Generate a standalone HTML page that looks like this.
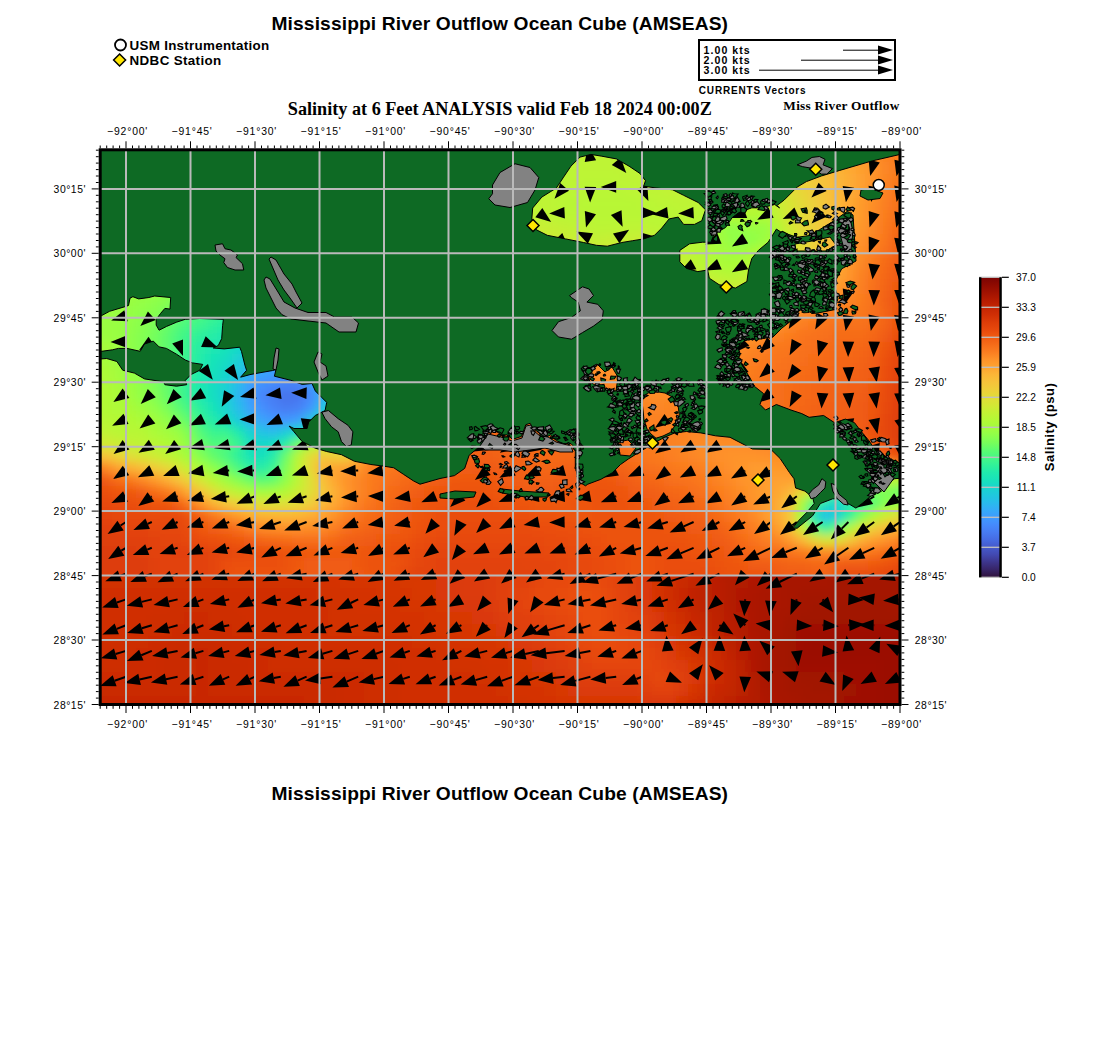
<!DOCTYPE html>
<html><head><meta charset="utf-8">
<style>
html,body{margin:0;padding:0;background:#fff;width:1100px;height:1050px;overflow:hidden}
svg{display:block;position:absolute;left:0;top:0}
.fr rect{width:12px;height:12px}
.sans{font-family:"Liberation Sans",sans-serif}
.serif{font-family:"Liberation Serif",serif}
</style></head>
<body>
<svg width="1100" height="1050" viewBox="0 0 1100 1050">
<defs>
<clipPath id="cmap"><rect x="100.2" y="149.8" width="799.8" height="554.7"/></clipPath>
<clipPath id="cup"><rect x="100.2" y="149.8" width="799.8" height="425.8"/></clipPath>
<clipPath id="clo"><rect x="100.2" y="575.6" width="799.8" height="200"/></clipPath>
<filter id="blur" x="-5%" y="-5%" width="110%" height="110%"><feGaussianBlur stdDeviation="5"/></filter>
<linearGradient id="cbg" x1="0" y1="0" x2="0" y2="1">
<stop offset="0.000" stop-color="#7a0403"/>
<stop offset="0.025" stop-color="#8e0a01"/>
<stop offset="0.050" stop-color="#a11201"/>
<stop offset="0.075" stop-color="#b41b01"/>
<stop offset="0.100" stop-color="#c32503"/>
<stop offset="0.125" stop-color="#d02f05"/>
<stop offset="0.150" stop-color="#dd3d08"/>
<stop offset="0.175" stop-color="#e7490c"/>
<stop offset="0.200" stop-color="#f05b12"/>
<stop offset="0.225" stop-color="#f66c19"/>
<stop offset="0.250" stop-color="#fb7e21"/>
<stop offset="0.275" stop-color="#fe932a"/>
<stop offset="0.300" stop-color="#fea431"/>
<stop offset="0.325" stop-color="#fbb637"/>
<stop offset="0.350" stop-color="#f6c33a"/>
<stop offset="0.375" stop-color="#eecf3a"/>
<stop offset="0.400" stop-color="#e1dd37"/>
<stop offset="0.425" stop-color="#d4e735"/>
<stop offset="0.450" stop-color="#c3f134"/>
<stop offset="0.475" stop-color="#b4f836"/>
<stop offset="0.500" stop-color="#a4fc3c"/>
<stop offset="0.525" stop-color="#8fff49"/>
<stop offset="0.550" stop-color="#79fe59"/>
<stop offset="0.575" stop-color="#5dfc6f"/>
<stop offset="0.600" stop-color="#46f884"/>
<stop offset="0.625" stop-color="#32f298"/>
<stop offset="0.650" stop-color="#20eaac"/>
<stop offset="0.675" stop-color="#19e2bb"/>
<stop offset="0.700" stop-color="#19d5cd"/>
<stop offset="0.725" stop-color="#1fc9dd"/>
<stop offset="0.750" stop-color="#28bceb"/>
<stop offset="0.775" stop-color="#35abf8"/>
<stop offset="0.800" stop-color="#3e9bfe"/>
<stop offset="0.825" stop-color="#458afc"/>
<stop offset="0.850" stop-color="#477bf2"/>
<stop offset="0.875" stop-color="#466be3"/>
<stop offset="0.900" stop-color="#4559cb"/>
<stop offset="0.925" stop-color="#4249b1"/>
<stop offset="0.950" stop-color="#3d358b"/>
<stop offset="0.975" stop-color="#372466"/>
<stop offset="1.000" stop-color="#30123b"/>
</linearGradient>
</defs>
<g clip-path="url(#cmap)">
<g clip-path="url(#clo)"><g class="fr" filter="url(#blur)" shape-rendering="crispEdges">
<g transform="translate(0 539.6)"><rect x="64.2" fill="#d63506"/><rect x="76.2" fill="#d63506"/><rect x="88.2" fill="#d63506"/><rect x="100.2" fill="#d63506"/><rect x="112.2" fill="#d63506"/><rect x="124.2" fill="#d63506"/><rect x="136.2" fill="#d63506"/><rect x="148.2" fill="#d63506"/><rect x="160.2" fill="#d02f05"/><rect x="172.2" fill="#d02f05"/><rect x="184.2" fill="#d02f05"/><rect x="196.2" fill="#d02f05"/><rect x="208.2" fill="#d02f05"/><rect x="220.2" fill="#d02f05"/><rect x="232.2" fill="#d02f05"/><rect x="244.2" fill="#d63506"/><rect x="256.2" fill="#d63506"/><rect x="268.2" fill="#d63506"/><rect x="280.2" fill="#d63506"/><rect x="292.2" fill="#d63506"/><rect x="304.2" fill="#d63506"/><rect x="316.2" fill="#d63506"/><rect x="328.2" fill="#d63506"/><rect x="340.2" fill="#d63506"/><rect x="352.2" fill="#d63506"/><rect x="364.2" fill="#d63506"/><rect x="376.2" fill="#d63506"/><rect x="388.2" fill="#d63506"/><rect x="400.2" fill="#d63506"/><rect x="412.2" fill="#d63506"/><rect x="424.2" fill="#d83706"/><rect x="436.2" fill="#dc3b07"/><rect x="448.2" fill="#dd3d08"/><rect x="460.2" fill="#dd3d08"/><rect x="472.2" fill="#dd3d08"/><rect x="484.2" fill="#dd3d08"/><rect x="496.2" fill="#dd3d08"/><rect x="508.2" fill="#dd3d08"/><rect x="520.2" fill="#dd3d08"/><rect x="532.2" fill="#e14109"/><rect x="544.2" fill="#e7490c"/><rect x="556.2" fill="#e7490c"/><rect x="568.2" fill="#e7490c"/><rect x="580.2" fill="#e7490c"/><rect x="592.2" fill="#e7490c"/><rect x="604.2" fill="#e7490c"/><rect x="616.2" fill="#e7490c"/><rect x="628.2" fill="#e4450a"/><rect x="640.2" fill="#d43305"/><rect x="652.2" fill="#d02f05"/><rect x="664.2" fill="#d02f05"/><rect x="676.2" fill="#d02f05"/><rect x="688.2" fill="#d02f05"/><rect x="700.2" fill="#ce2d04"/><rect x="712.2" fill="#c82803"/><rect x="724.2" fill="#b41b01"/><rect x="736.2" fill="#af1801"/><rect x="748.2" fill="#af1801"/><rect x="760.2" fill="#af1801"/><rect x="772.2" fill="#af1801"/><rect x="784.2" fill="#ac1701"/><rect x="796.2" fill="#a71401"/><rect x="808.2" fill="#a41301"/><rect x="820.2" fill="#a41301"/><rect x="832.2" fill="#a41301"/><rect x="844.2" fill="#a41301"/><rect x="856.2" fill="#a41301"/><rect x="868.2" fill="#a41301"/><rect x="880.2" fill="#a41301"/><rect x="892.2" fill="#a41301"/><rect x="904.2" fill="#a41301"/><rect x="916.2" fill="#a41301"/><rect x="928.2" fill="#a41301"/></g>
<g transform="translate(0 551.6)"><rect x="64.2" fill="#d63506"/><rect x="76.2" fill="#d63506"/><rect x="88.2" fill="#d63506"/><rect x="100.2" fill="#d63506"/><rect x="112.2" fill="#d63506"/><rect x="124.2" fill="#d63506"/><rect x="136.2" fill="#d63506"/><rect x="148.2" fill="#d43305"/><rect x="160.2" fill="#d02f05"/><rect x="172.2" fill="#d02f05"/><rect x="184.2" fill="#d02f05"/><rect x="196.2" fill="#d02f05"/><rect x="208.2" fill="#d02f05"/><rect x="220.2" fill="#d02f05"/><rect x="232.2" fill="#d02f05"/><rect x="244.2" fill="#d63506"/><rect x="256.2" fill="#d63506"/><rect x="268.2" fill="#d63506"/><rect x="280.2" fill="#d63506"/><rect x="292.2" fill="#d63506"/><rect x="304.2" fill="#d63506"/><rect x="316.2" fill="#d63506"/><rect x="328.2" fill="#d63506"/><rect x="340.2" fill="#d63506"/><rect x="352.2" fill="#d63506"/><rect x="364.2" fill="#d63506"/><rect x="376.2" fill="#d63506"/><rect x="388.2" fill="#d63506"/><rect x="400.2" fill="#d63506"/><rect x="412.2" fill="#d63506"/><rect x="424.2" fill="#d83706"/><rect x="436.2" fill="#dc3b07"/><rect x="448.2" fill="#dd3d08"/><rect x="460.2" fill="#dd3d08"/><rect x="472.2" fill="#dd3d08"/><rect x="484.2" fill="#dd3d08"/><rect x="496.2" fill="#dd3d08"/><rect x="508.2" fill="#dd3d08"/><rect x="520.2" fill="#df3f08"/><rect x="532.2" fill="#e5470b"/><rect x="544.2" fill="#e7490c"/><rect x="556.2" fill="#e7490c"/><rect x="568.2" fill="#e7490c"/><rect x="580.2" fill="#e7490c"/><rect x="592.2" fill="#e7490c"/><rect x="604.2" fill="#e7490c"/><rect x="616.2" fill="#e7490c"/><rect x="628.2" fill="#e4450a"/><rect x="640.2" fill="#d63506"/><rect x="652.2" fill="#d02f05"/><rect x="664.2" fill="#d02f05"/><rect x="676.2" fill="#d02f05"/><rect x="688.2" fill="#ce2d04"/><rect x="700.2" fill="#ca2a04"/><rect x="712.2" fill="#b71d02"/><rect x="724.2" fill="#af1801"/><rect x="736.2" fill="#af1801"/><rect x="748.2" fill="#af1801"/><rect x="760.2" fill="#af1801"/><rect x="772.2" fill="#af1801"/><rect x="784.2" fill="#ac1701"/><rect x="796.2" fill="#a71401"/><rect x="808.2" fill="#a41301"/><rect x="820.2" fill="#a41301"/><rect x="832.2" fill="#a41301"/><rect x="844.2" fill="#a41301"/><rect x="856.2" fill="#a41301"/><rect x="868.2" fill="#a41301"/><rect x="880.2" fill="#a41301"/><rect x="892.2" fill="#a41301"/><rect x="904.2" fill="#a41301"/><rect x="916.2" fill="#a41301"/><rect x="928.2" fill="#a41301"/></g>
<g transform="translate(0 563.6)"><rect x="64.2" fill="#d63506"/><rect x="76.2" fill="#d63506"/><rect x="88.2" fill="#d63506"/><rect x="100.2" fill="#d63506"/><rect x="112.2" fill="#d63506"/><rect x="124.2" fill="#d63506"/><rect x="136.2" fill="#d43305"/><rect x="148.2" fill="#d23105"/><rect x="160.2" fill="#d02f05"/><rect x="172.2" fill="#d02f05"/><rect x="184.2" fill="#d02f05"/><rect x="196.2" fill="#d02f05"/><rect x="208.2" fill="#d02f05"/><rect x="220.2" fill="#d02f05"/><rect x="232.2" fill="#d02f05"/><rect x="244.2" fill="#d43305"/><rect x="256.2" fill="#d63506"/><rect x="268.2" fill="#d63506"/><rect x="280.2" fill="#d63506"/><rect x="292.2" fill="#d63506"/><rect x="304.2" fill="#d63506"/><rect x="316.2" fill="#d63506"/><rect x="328.2" fill="#d63506"/><rect x="340.2" fill="#d63506"/><rect x="352.2" fill="#d63506"/><rect x="364.2" fill="#d63506"/><rect x="376.2" fill="#d63506"/><rect x="388.2" fill="#d63506"/><rect x="400.2" fill="#d63506"/><rect x="412.2" fill="#d63506"/><rect x="424.2" fill="#d83706"/><rect x="436.2" fill="#dc3b07"/><rect x="448.2" fill="#dc3b07"/><rect x="460.2" fill="#dc3b07"/><rect x="472.2" fill="#dc3b07"/><rect x="484.2" fill="#dd3d08"/><rect x="496.2" fill="#dd3d08"/><rect x="508.2" fill="#dd3d08"/><rect x="520.2" fill="#df3f08"/><rect x="532.2" fill="#e5470b"/><rect x="544.2" fill="#e7490c"/><rect x="556.2" fill="#e7490c"/><rect x="568.2" fill="#e84b0c"/><rect x="580.2" fill="#e84b0c"/><rect x="592.2" fill="#e84b0c"/><rect x="604.2" fill="#e7490c"/><rect x="616.2" fill="#e5470b"/><rect x="628.2" fill="#df3f08"/><rect x="640.2" fill="#da3907"/><rect x="652.2" fill="#d23105"/><rect x="664.2" fill="#d02f05"/><rect x="676.2" fill="#ce2d04"/><rect x="688.2" fill="#cc2b04"/><rect x="700.2" fill="#c32503"/><rect x="712.2" fill="#b41b01"/><rect x="724.2" fill="#af1801"/><rect x="736.2" fill="#af1801"/><rect x="748.2" fill="#af1801"/><rect x="760.2" fill="#af1801"/><rect x="772.2" fill="#ac1701"/><rect x="784.2" fill="#a71401"/><rect x="796.2" fill="#a71401"/><rect x="808.2" fill="#a41301"/><rect x="820.2" fill="#a41301"/><rect x="832.2" fill="#a41301"/><rect x="844.2" fill="#a41301"/><rect x="856.2" fill="#a41301"/><rect x="868.2" fill="#a41301"/><rect x="880.2" fill="#a41301"/><rect x="892.2" fill="#a41301"/><rect x="904.2" fill="#a41301"/><rect x="916.2" fill="#a41301"/><rect x="928.2" fill="#a41301"/></g>
<g transform="translate(0 575.6)"><rect x="64.2" fill="#d02f05"/><rect x="76.2" fill="#d02f05"/><rect x="88.2" fill="#d02f05"/><rect x="100.2" fill="#d23105"/><rect x="112.2" fill="#d23105"/><rect x="124.2" fill="#d23105"/><rect x="136.2" fill="#d23105"/><rect x="148.2" fill="#d23105"/><rect x="160.2" fill="#d23105"/><rect x="172.2" fill="#d23105"/><rect x="184.2" fill="#d23105"/><rect x="196.2" fill="#d23105"/><rect x="208.2" fill="#d23105"/><rect x="220.2" fill="#d23105"/><rect x="232.2" fill="#d23105"/><rect x="244.2" fill="#d23105"/><rect x="256.2" fill="#d23105"/><rect x="268.2" fill="#d23105"/><rect x="280.2" fill="#d23105"/><rect x="292.2" fill="#d23105"/><rect x="304.2" fill="#d23105"/><rect x="316.2" fill="#d43305"/><rect x="328.2" fill="#d43305"/><rect x="340.2" fill="#d63506"/><rect x="352.2" fill="#d63506"/><rect x="364.2" fill="#d63506"/><rect x="376.2" fill="#d63506"/><rect x="388.2" fill="#d63506"/><rect x="400.2" fill="#d83706"/><rect x="412.2" fill="#d83706"/><rect x="424.2" fill="#d83706"/><rect x="436.2" fill="#da3907"/><rect x="448.2" fill="#da3907"/><rect x="460.2" fill="#dc3b07"/><rect x="472.2" fill="#dc3b07"/><rect x="484.2" fill="#dd3d08"/><rect x="496.2" fill="#df3f08"/><rect x="508.2" fill="#e14109"/><rect x="520.2" fill="#e2430a"/><rect x="532.2" fill="#e5470b"/><rect x="544.2" fill="#e7490c"/><rect x="556.2" fill="#e7490c"/><rect x="568.2" fill="#e84b0c"/><rect x="580.2" fill="#e84b0c"/><rect x="592.2" fill="#e84b0c"/><rect x="604.2" fill="#e5470b"/><rect x="616.2" fill="#e2430a"/><rect x="628.2" fill="#df3f08"/><rect x="640.2" fill="#da3907"/><rect x="652.2" fill="#d63506"/><rect x="664.2" fill="#d02f05"/><rect x="676.2" fill="#ca2a04"/><rect x="688.2" fill="#c52603"/><rect x="700.2" fill="#be2102"/><rect x="712.2" fill="#b91e02"/><rect x="724.2" fill="#b41b01"/><rect x="736.2" fill="#b21a01"/><rect x="748.2" fill="#af1801"/><rect x="760.2" fill="#ac1701"/><rect x="772.2" fill="#a91601"/><rect x="784.2" fill="#a71401"/><rect x="796.2" fill="#a71401"/><rect x="808.2" fill="#a71401"/><rect x="820.2" fill="#a71401"/><rect x="832.2" fill="#a41301"/><rect x="844.2" fill="#a41301"/><rect x="856.2" fill="#a41301"/><rect x="868.2" fill="#a41301"/><rect x="880.2" fill="#a41301"/><rect x="892.2" fill="#a41301"/><rect x="904.2" fill="#a41301"/><rect x="916.2" fill="#a41301"/><rect x="928.2" fill="#a41301"/></g>
<g transform="translate(0 587.6)"><rect x="64.2" fill="#d02f05"/><rect x="76.2" fill="#d02f05"/><rect x="88.2" fill="#d02f05"/><rect x="100.2" fill="#d02f05"/><rect x="112.2" fill="#d02f05"/><rect x="124.2" fill="#d02f05"/><rect x="136.2" fill="#d02f05"/><rect x="148.2" fill="#d02f05"/><rect x="160.2" fill="#d02f05"/><rect x="172.2" fill="#d02f05"/><rect x="184.2" fill="#d02f05"/><rect x="196.2" fill="#d02f05"/><rect x="208.2" fill="#d02f05"/><rect x="220.2" fill="#d02f05"/><rect x="232.2" fill="#d02f05"/><rect x="244.2" fill="#d02f05"/><rect x="256.2" fill="#d02f05"/><rect x="268.2" fill="#d02f05"/><rect x="280.2" fill="#d02f05"/><rect x="292.2" fill="#d02f05"/><rect x="304.2" fill="#d02f05"/><rect x="316.2" fill="#d23105"/><rect x="328.2" fill="#d23105"/><rect x="340.2" fill="#d23105"/><rect x="352.2" fill="#d43305"/><rect x="364.2" fill="#d43305"/><rect x="376.2" fill="#d63506"/><rect x="388.2" fill="#d63506"/><rect x="400.2" fill="#d63506"/><rect x="412.2" fill="#d83706"/><rect x="424.2" fill="#d83706"/><rect x="436.2" fill="#da3907"/><rect x="448.2" fill="#da3907"/><rect x="460.2" fill="#dc3b07"/><rect x="472.2" fill="#dc3b07"/><rect x="484.2" fill="#dd3d08"/><rect x="496.2" fill="#e14109"/><rect x="508.2" fill="#e2430a"/><rect x="520.2" fill="#e4450a"/><rect x="532.2" fill="#e7490c"/><rect x="544.2" fill="#e7490c"/><rect x="556.2" fill="#e84b0c"/><rect x="568.2" fill="#ea4e0d"/><rect x="580.2" fill="#eb500e"/><rect x="592.2" fill="#ea4e0d"/><rect x="604.2" fill="#e7490c"/><rect x="616.2" fill="#e2430a"/><rect x="628.2" fill="#df3f08"/><rect x="640.2" fill="#da3907"/><rect x="652.2" fill="#d43305"/><rect x="664.2" fill="#ce2d04"/><rect x="676.2" fill="#c82803"/><rect x="688.2" fill="#c12302"/><rect x="700.2" fill="#bc2002"/><rect x="712.2" fill="#b91e02"/><rect x="724.2" fill="#b41b01"/><rect x="736.2" fill="#af1801"/><rect x="748.2" fill="#ac1701"/><rect x="760.2" fill="#a91601"/><rect x="772.2" fill="#a91601"/><rect x="784.2" fill="#a71401"/><rect x="796.2" fill="#a41301"/><rect x="808.2" fill="#a41301"/><rect x="820.2" fill="#a41301"/><rect x="832.2" fill="#a41301"/><rect x="844.2" fill="#a41301"/><rect x="856.2" fill="#a41301"/><rect x="868.2" fill="#a41301"/><rect x="880.2" fill="#a41301"/><rect x="892.2" fill="#a41301"/><rect x="904.2" fill="#a41301"/><rect x="916.2" fill="#a41301"/><rect x="928.2" fill="#a41301"/></g>
<g transform="translate(0 599.6)"><rect x="64.2" fill="#d02f05"/><rect x="76.2" fill="#d02f05"/><rect x="88.2" fill="#d02f05"/><rect x="100.2" fill="#d02f05"/><rect x="112.2" fill="#d02f05"/><rect x="124.2" fill="#d02f05"/><rect x="136.2" fill="#d02f05"/><rect x="148.2" fill="#d02f05"/><rect x="160.2" fill="#d02f05"/><rect x="172.2" fill="#ce2d04"/><rect x="184.2" fill="#ce2d04"/><rect x="196.2" fill="#ce2d04"/><rect x="208.2" fill="#ce2d04"/><rect x="220.2" fill="#ce2d04"/><rect x="232.2" fill="#d02f05"/><rect x="244.2" fill="#d02f05"/><rect x="256.2" fill="#d02f05"/><rect x="268.2" fill="#d02f05"/><rect x="280.2" fill="#d02f05"/><rect x="292.2" fill="#d02f05"/><rect x="304.2" fill="#d02f05"/><rect x="316.2" fill="#d02f05"/><rect x="328.2" fill="#d23105"/><rect x="340.2" fill="#d23105"/><rect x="352.2" fill="#d43305"/><rect x="364.2" fill="#d43305"/><rect x="376.2" fill="#d43305"/><rect x="388.2" fill="#d43305"/><rect x="400.2" fill="#d63506"/><rect x="412.2" fill="#d63506"/><rect x="424.2" fill="#d63506"/><rect x="436.2" fill="#d83706"/><rect x="448.2" fill="#da3907"/><rect x="460.2" fill="#da3907"/><rect x="472.2" fill="#da3907"/><rect x="484.2" fill="#dc3b07"/><rect x="496.2" fill="#df3f08"/><rect x="508.2" fill="#e14109"/><rect x="520.2" fill="#e4450a"/><rect x="532.2" fill="#e5470b"/><rect x="544.2" fill="#e7490c"/><rect x="556.2" fill="#e84b0c"/><rect x="568.2" fill="#ea4e0d"/><rect x="580.2" fill="#ea4e0d"/><rect x="592.2" fill="#ea4e0d"/><rect x="604.2" fill="#e7490c"/><rect x="616.2" fill="#e4450a"/><rect x="628.2" fill="#df3f08"/><rect x="640.2" fill="#dc3b07"/><rect x="652.2" fill="#d63506"/><rect x="664.2" fill="#d02f05"/><rect x="676.2" fill="#ca2a04"/><rect x="688.2" fill="#c32503"/><rect x="700.2" fill="#be2102"/><rect x="712.2" fill="#bc2002"/><rect x="724.2" fill="#b41b01"/><rect x="736.2" fill="#af1801"/><rect x="748.2" fill="#ac1701"/><rect x="760.2" fill="#a91601"/><rect x="772.2" fill="#a91601"/><rect x="784.2" fill="#a71401"/><rect x="796.2" fill="#a41301"/><rect x="808.2" fill="#a11201"/><rect x="820.2" fill="#a11201"/><rect x="832.2" fill="#a11201"/><rect x="844.2" fill="#a11201"/><rect x="856.2" fill="#a11201"/><rect x="868.2" fill="#a11201"/><rect x="880.2" fill="#a11201"/><rect x="892.2" fill="#a41301"/><rect x="904.2" fill="#a41301"/><rect x="916.2" fill="#a41301"/><rect x="928.2" fill="#a41301"/></g>
<g transform="translate(0 611.6)"><rect x="64.2" fill="#d02f05"/><rect x="76.2" fill="#d02f05"/><rect x="88.2" fill="#d02f05"/><rect x="100.2" fill="#d02f05"/><rect x="112.2" fill="#d02f05"/><rect x="124.2" fill="#d02f05"/><rect x="136.2" fill="#d02f05"/><rect x="148.2" fill="#ce2d04"/><rect x="160.2" fill="#ce2d04"/><rect x="172.2" fill="#ce2d04"/><rect x="184.2" fill="#cc2b04"/><rect x="196.2" fill="#cc2b04"/><rect x="208.2" fill="#ce2d04"/><rect x="220.2" fill="#ce2d04"/><rect x="232.2" fill="#ce2d04"/><rect x="244.2" fill="#d02f05"/><rect x="256.2" fill="#d02f05"/><rect x="268.2" fill="#d02f05"/><rect x="280.2" fill="#d02f05"/><rect x="292.2" fill="#d02f05"/><rect x="304.2" fill="#d02f05"/><rect x="316.2" fill="#d02f05"/><rect x="328.2" fill="#d23105"/><rect x="340.2" fill="#d23105"/><rect x="352.2" fill="#d23105"/><rect x="364.2" fill="#d23105"/><rect x="376.2" fill="#d23105"/><rect x="388.2" fill="#d43305"/><rect x="400.2" fill="#d43305"/><rect x="412.2" fill="#d43305"/><rect x="424.2" fill="#d63506"/><rect x="436.2" fill="#d63506"/><rect x="448.2" fill="#d83706"/><rect x="460.2" fill="#d83706"/><rect x="472.2" fill="#da3907"/><rect x="484.2" fill="#da3907"/><rect x="496.2" fill="#dd3d08"/><rect x="508.2" fill="#df3f08"/><rect x="520.2" fill="#e14109"/><rect x="532.2" fill="#e2430a"/><rect x="544.2" fill="#e4450a"/><rect x="556.2" fill="#e5470b"/><rect x="568.2" fill="#e7490c"/><rect x="580.2" fill="#ea4e0d"/><rect x="592.2" fill="#ea4e0d"/><rect x="604.2" fill="#e7490c"/><rect x="616.2" fill="#e4450a"/><rect x="628.2" fill="#e2430a"/><rect x="640.2" fill="#df3f08"/><rect x="652.2" fill="#da3907"/><rect x="664.2" fill="#d43305"/><rect x="676.2" fill="#ce2d04"/><rect x="688.2" fill="#c82803"/><rect x="700.2" fill="#c32503"/><rect x="712.2" fill="#be2102"/><rect x="724.2" fill="#b71d02"/><rect x="736.2" fill="#b21a01"/><rect x="748.2" fill="#ac1701"/><rect x="760.2" fill="#a91601"/><rect x="772.2" fill="#a71401"/><rect x="784.2" fill="#a41301"/><rect x="796.2" fill="#a11201"/><rect x="808.2" fill="#a11201"/><rect x="820.2" fill="#a11201"/><rect x="832.2" fill="#a11201"/><rect x="844.2" fill="#a11201"/><rect x="856.2" fill="#a11201"/><rect x="868.2" fill="#a11201"/><rect x="880.2" fill="#a11201"/><rect x="892.2" fill="#a11201"/><rect x="904.2" fill="#a41301"/><rect x="916.2" fill="#a41301"/><rect x="928.2" fill="#a41301"/></g>
<g transform="translate(0 623.6)"><rect x="64.2" fill="#d02f05"/><rect x="76.2" fill="#d02f05"/><rect x="88.2" fill="#d02f05"/><rect x="100.2" fill="#d02f05"/><rect x="112.2" fill="#d02f05"/><rect x="124.2" fill="#d02f05"/><rect x="136.2" fill="#ce2d04"/><rect x="148.2" fill="#ce2d04"/><rect x="160.2" fill="#ce2d04"/><rect x="172.2" fill="#cc2b04"/><rect x="184.2" fill="#cc2b04"/><rect x="196.2" fill="#cc2b04"/><rect x="208.2" fill="#cc2b04"/><rect x="220.2" fill="#cc2b04"/><rect x="232.2" fill="#ce2d04"/><rect x="244.2" fill="#ce2d04"/><rect x="256.2" fill="#ce2d04"/><rect x="268.2" fill="#d02f05"/><rect x="280.2" fill="#d02f05"/><rect x="292.2" fill="#d02f05"/><rect x="304.2" fill="#d02f05"/><rect x="316.2" fill="#d02f05"/><rect x="328.2" fill="#d23105"/><rect x="340.2" fill="#d23105"/><rect x="352.2" fill="#d23105"/><rect x="364.2" fill="#d23105"/><rect x="376.2" fill="#d23105"/><rect x="388.2" fill="#d23105"/><rect x="400.2" fill="#d23105"/><rect x="412.2" fill="#d43305"/><rect x="424.2" fill="#d43305"/><rect x="436.2" fill="#d63506"/><rect x="448.2" fill="#d63506"/><rect x="460.2" fill="#d63506"/><rect x="472.2" fill="#d83706"/><rect x="484.2" fill="#d83706"/><rect x="496.2" fill="#da3907"/><rect x="508.2" fill="#dd3d08"/><rect x="520.2" fill="#df3f08"/><rect x="532.2" fill="#e14109"/><rect x="544.2" fill="#e2430a"/><rect x="556.2" fill="#e4450a"/><rect x="568.2" fill="#e7490c"/><rect x="580.2" fill="#e84b0c"/><rect x="592.2" fill="#ea4e0d"/><rect x="604.2" fill="#e84b0c"/><rect x="616.2" fill="#e5470b"/><rect x="628.2" fill="#e4450a"/><rect x="640.2" fill="#e14109"/><rect x="652.2" fill="#dc3b07"/><rect x="664.2" fill="#d63506"/><rect x="676.2" fill="#d23105"/><rect x="688.2" fill="#cc2b04"/><rect x="700.2" fill="#c52603"/><rect x="712.2" fill="#be2102"/><rect x="724.2" fill="#b91e02"/><rect x="736.2" fill="#b21a01"/><rect x="748.2" fill="#ac1701"/><rect x="760.2" fill="#a91601"/><rect x="772.2" fill="#a71401"/><rect x="784.2" fill="#a11201"/><rect x="796.2" fill="#9e1001"/><rect x="808.2" fill="#9e1001"/><rect x="820.2" fill="#9e1001"/><rect x="832.2" fill="#9e1001"/><rect x="844.2" fill="#9e1001"/><rect x="856.2" fill="#9e1001"/><rect x="868.2" fill="#9e1001"/><rect x="880.2" fill="#9e1001"/><rect x="892.2" fill="#9e1001"/><rect x="904.2" fill="#9e1001"/><rect x="916.2" fill="#9b0f01"/><rect x="928.2" fill="#9b0f01"/></g>
<g transform="translate(0 635.6)"><rect x="64.2" fill="#d02f05"/><rect x="76.2" fill="#d02f05"/><rect x="88.2" fill="#d02f05"/><rect x="100.2" fill="#d02f05"/><rect x="112.2" fill="#ce2d04"/><rect x="124.2" fill="#ce2d04"/><rect x="136.2" fill="#ce2d04"/><rect x="148.2" fill="#cc2b04"/><rect x="160.2" fill="#cc2b04"/><rect x="172.2" fill="#ca2a04"/><rect x="184.2" fill="#ca2a04"/><rect x="196.2" fill="#ca2a04"/><rect x="208.2" fill="#ca2a04"/><rect x="220.2" fill="#cc2b04"/><rect x="232.2" fill="#cc2b04"/><rect x="244.2" fill="#cc2b04"/><rect x="256.2" fill="#ce2d04"/><rect x="268.2" fill="#ce2d04"/><rect x="280.2" fill="#d02f05"/><rect x="292.2" fill="#d02f05"/><rect x="304.2" fill="#d02f05"/><rect x="316.2" fill="#d02f05"/><rect x="328.2" fill="#d02f05"/><rect x="340.2" fill="#d02f05"/><rect x="352.2" fill="#d02f05"/><rect x="364.2" fill="#d02f05"/><rect x="376.2" fill="#d02f05"/><rect x="388.2" fill="#d02f05"/><rect x="400.2" fill="#d02f05"/><rect x="412.2" fill="#d23105"/><rect x="424.2" fill="#d23105"/><rect x="436.2" fill="#d43305"/><rect x="448.2" fill="#d43305"/><rect x="460.2" fill="#d63506"/><rect x="472.2" fill="#d63506"/><rect x="484.2" fill="#d63506"/><rect x="496.2" fill="#d83706"/><rect x="508.2" fill="#da3907"/><rect x="520.2" fill="#dc3b07"/><rect x="532.2" fill="#dd3d08"/><rect x="544.2" fill="#e14109"/><rect x="556.2" fill="#e2430a"/><rect x="568.2" fill="#e5470b"/><rect x="580.2" fill="#e7490c"/><rect x="592.2" fill="#e84b0c"/><rect x="604.2" fill="#e84b0c"/><rect x="616.2" fill="#e7490c"/><rect x="628.2" fill="#e5470b"/><rect x="640.2" fill="#e4450a"/><rect x="652.2" fill="#df3f08"/><rect x="664.2" fill="#da3907"/><rect x="676.2" fill="#d43305"/><rect x="688.2" fill="#d02f05"/><rect x="700.2" fill="#ca2a04"/><rect x="712.2" fill="#c32503"/><rect x="724.2" fill="#bc2002"/><rect x="736.2" fill="#b41b01"/><rect x="748.2" fill="#af1801"/><rect x="760.2" fill="#a91601"/><rect x="772.2" fill="#a41301"/><rect x="784.2" fill="#a11201"/><rect x="796.2" fill="#9e1001"/><rect x="808.2" fill="#9b0f01"/><rect x="820.2" fill="#9b0f01"/><rect x="832.2" fill="#9b0f01"/><rect x="844.2" fill="#9b0f01"/><rect x="856.2" fill="#9b0f01"/><rect x="868.2" fill="#9b0f01"/><rect x="880.2" fill="#9b0f01"/><rect x="892.2" fill="#9b0f01"/><rect x="904.2" fill="#9b0f01"/><rect x="916.2" fill="#9b0f01"/><rect x="928.2" fill="#9b0f01"/></g>
<g transform="translate(0 647.6)"><rect x="64.2" fill="#d02f05"/><rect x="76.2" fill="#d02f05"/><rect x="88.2" fill="#d02f05"/><rect x="100.2" fill="#ce2d04"/><rect x="112.2" fill="#ce2d04"/><rect x="124.2" fill="#ce2d04"/><rect x="136.2" fill="#cc2b04"/><rect x="148.2" fill="#cc2b04"/><rect x="160.2" fill="#ca2a04"/><rect x="172.2" fill="#ca2a04"/><rect x="184.2" fill="#ca2a04"/><rect x="196.2" fill="#c82803"/><rect x="208.2" fill="#ca2a04"/><rect x="220.2" fill="#ca2a04"/><rect x="232.2" fill="#cc2b04"/><rect x="244.2" fill="#cc2b04"/><rect x="256.2" fill="#cc2b04"/><rect x="268.2" fill="#ce2d04"/><rect x="280.2" fill="#ce2d04"/><rect x="292.2" fill="#ce2d04"/><rect x="304.2" fill="#ce2d04"/><rect x="316.2" fill="#ce2d04"/><rect x="328.2" fill="#ce2d04"/><rect x="340.2" fill="#ce2d04"/><rect x="352.2" fill="#ce2d04"/><rect x="364.2" fill="#ce2d04"/><rect x="376.2" fill="#ce2d04"/><rect x="388.2" fill="#d02f05"/><rect x="400.2" fill="#d02f05"/><rect x="412.2" fill="#d02f05"/><rect x="424.2" fill="#d02f05"/><rect x="436.2" fill="#d23105"/><rect x="448.2" fill="#d23105"/><rect x="460.2" fill="#d43305"/><rect x="472.2" fill="#d43305"/><rect x="484.2" fill="#d63506"/><rect x="496.2" fill="#d63506"/><rect x="508.2" fill="#d83706"/><rect x="520.2" fill="#da3907"/><rect x="532.2" fill="#dc3b07"/><rect x="544.2" fill="#dd3d08"/><rect x="556.2" fill="#e14109"/><rect x="568.2" fill="#e2430a"/><rect x="580.2" fill="#e5470b"/><rect x="592.2" fill="#e7490c"/><rect x="604.2" fill="#e7490c"/><rect x="616.2" fill="#e7490c"/><rect x="628.2" fill="#e5470b"/><rect x="640.2" fill="#e5470b"/><rect x="652.2" fill="#e2430a"/><rect x="664.2" fill="#dd3d08"/><rect x="676.2" fill="#d83706"/><rect x="688.2" fill="#d43305"/><rect x="700.2" fill="#ce2d04"/><rect x="712.2" fill="#ca2a04"/><rect x="724.2" fill="#c12302"/><rect x="736.2" fill="#b91e02"/><rect x="748.2" fill="#af1801"/><rect x="760.2" fill="#a91601"/><rect x="772.2" fill="#a41301"/><rect x="784.2" fill="#a11201"/><rect x="796.2" fill="#9b0f01"/><rect x="808.2" fill="#9b0f01"/><rect x="820.2" fill="#9b0f01"/><rect x="832.2" fill="#9b0f01"/><rect x="844.2" fill="#9b0f01"/><rect x="856.2" fill="#9b0f01"/><rect x="868.2" fill="#9b0f01"/><rect x="880.2" fill="#9b0f01"/><rect x="892.2" fill="#9b0f01"/><rect x="904.2" fill="#9b0f01"/><rect x="916.2" fill="#9b0f01"/><rect x="928.2" fill="#9b0f01"/></g>
<g transform="translate(0 659.6)"><rect x="64.2" fill="#ce2d04"/><rect x="76.2" fill="#ce2d04"/><rect x="88.2" fill="#ce2d04"/><rect x="100.2" fill="#ce2d04"/><rect x="112.2" fill="#ce2d04"/><rect x="124.2" fill="#cc2b04"/><rect x="136.2" fill="#cc2b04"/><rect x="148.2" fill="#cc2b04"/><rect x="160.2" fill="#ca2a04"/><rect x="172.2" fill="#ca2a04"/><rect x="184.2" fill="#ca2a04"/><rect x="196.2" fill="#c82803"/><rect x="208.2" fill="#ca2a04"/><rect x="220.2" fill="#ca2a04"/><rect x="232.2" fill="#ca2a04"/><rect x="244.2" fill="#cc2b04"/><rect x="256.2" fill="#cc2b04"/><rect x="268.2" fill="#ce2d04"/><rect x="280.2" fill="#ce2d04"/><rect x="292.2" fill="#ce2d04"/><rect x="304.2" fill="#ce2d04"/><rect x="316.2" fill="#ce2d04"/><rect x="328.2" fill="#ce2d04"/><rect x="340.2" fill="#ce2d04"/><rect x="352.2" fill="#ce2d04"/><rect x="364.2" fill="#ce2d04"/><rect x="376.2" fill="#ce2d04"/><rect x="388.2" fill="#ce2d04"/><rect x="400.2" fill="#d02f05"/><rect x="412.2" fill="#d02f05"/><rect x="424.2" fill="#d02f05"/><rect x="436.2" fill="#d02f05"/><rect x="448.2" fill="#d23105"/><rect x="460.2" fill="#d23105"/><rect x="472.2" fill="#d23105"/><rect x="484.2" fill="#d43305"/><rect x="496.2" fill="#d43305"/><rect x="508.2" fill="#d63506"/><rect x="520.2" fill="#d83706"/><rect x="532.2" fill="#da3907"/><rect x="544.2" fill="#dc3b07"/><rect x="556.2" fill="#dd3d08"/><rect x="568.2" fill="#df3f08"/><rect x="580.2" fill="#e2430a"/><rect x="592.2" fill="#e4450a"/><rect x="604.2" fill="#e4450a"/><rect x="616.2" fill="#e4450a"/><rect x="628.2" fill="#e4450a"/><rect x="640.2" fill="#e5470b"/><rect x="652.2" fill="#e4450a"/><rect x="664.2" fill="#e14109"/><rect x="676.2" fill="#dd3d08"/><rect x="688.2" fill="#d83706"/><rect x="700.2" fill="#d23105"/><rect x="712.2" fill="#cc2b04"/><rect x="724.2" fill="#c52603"/><rect x="736.2" fill="#bc2002"/><rect x="748.2" fill="#af1801"/><rect x="760.2" fill="#a91601"/><rect x="772.2" fill="#a41301"/><rect x="784.2" fill="#a11201"/><rect x="796.2" fill="#9e1001"/><rect x="808.2" fill="#9e1001"/><rect x="820.2" fill="#9e1001"/><rect x="832.2" fill="#9e1001"/><rect x="844.2" fill="#9e1001"/><rect x="856.2" fill="#9e1001"/><rect x="868.2" fill="#9e1001"/><rect x="880.2" fill="#9b0f01"/><rect x="892.2" fill="#9b0f01"/><rect x="904.2" fill="#9b0f01"/><rect x="916.2" fill="#9b0f01"/><rect x="928.2" fill="#9b0f01"/></g>
<g transform="translate(0 671.6)"><rect x="64.2" fill="#ca2a04"/><rect x="76.2" fill="#ca2a04"/><rect x="88.2" fill="#ca2a04"/><rect x="100.2" fill="#cc2b04"/><rect x="112.2" fill="#cc2b04"/><rect x="124.2" fill="#cc2b04"/><rect x="136.2" fill="#cc2b04"/><rect x="148.2" fill="#cc2b04"/><rect x="160.2" fill="#ca2a04"/><rect x="172.2" fill="#ca2a04"/><rect x="184.2" fill="#ca2a04"/><rect x="196.2" fill="#c82803"/><rect x="208.2" fill="#ca2a04"/><rect x="220.2" fill="#ca2a04"/><rect x="232.2" fill="#ca2a04"/><rect x="244.2" fill="#cc2b04"/><rect x="256.2" fill="#cc2b04"/><rect x="268.2" fill="#cc2b04"/><rect x="280.2" fill="#cc2b04"/><rect x="292.2" fill="#cc2b04"/><rect x="304.2" fill="#cc2b04"/><rect x="316.2" fill="#cc2b04"/><rect x="328.2" fill="#cc2b04"/><rect x="340.2" fill="#cc2b04"/><rect x="352.2" fill="#cc2b04"/><rect x="364.2" fill="#ce2d04"/><rect x="376.2" fill="#ce2d04"/><rect x="388.2" fill="#ce2d04"/><rect x="400.2" fill="#d02f05"/><rect x="412.2" fill="#d02f05"/><rect x="424.2" fill="#d02f05"/><rect x="436.2" fill="#d02f05"/><rect x="448.2" fill="#d02f05"/><rect x="460.2" fill="#d02f05"/><rect x="472.2" fill="#d23105"/><rect x="484.2" fill="#d23105"/><rect x="496.2" fill="#d43305"/><rect x="508.2" fill="#d63506"/><rect x="520.2" fill="#d63506"/><rect x="532.2" fill="#d83706"/><rect x="544.2" fill="#d83706"/><rect x="556.2" fill="#da3907"/><rect x="568.2" fill="#dd3d08"/><rect x="580.2" fill="#df3f08"/><rect x="592.2" fill="#df3f08"/><rect x="604.2" fill="#df3f08"/><rect x="616.2" fill="#df3f08"/><rect x="628.2" fill="#e14109"/><rect x="640.2" fill="#e2430a"/><rect x="652.2" fill="#e5470b"/><rect x="664.2" fill="#e4450a"/><rect x="676.2" fill="#df3f08"/><rect x="688.2" fill="#da3907"/><rect x="700.2" fill="#d43305"/><rect x="712.2" fill="#cc2b04"/><rect x="724.2" fill="#c52603"/><rect x="736.2" fill="#bc2002"/><rect x="748.2" fill="#b21a01"/><rect x="760.2" fill="#a91601"/><rect x="772.2" fill="#a71401"/><rect x="784.2" fill="#a41301"/><rect x="796.2" fill="#a11201"/><rect x="808.2" fill="#a11201"/><rect x="820.2" fill="#a11201"/><rect x="832.2" fill="#a11201"/><rect x="844.2" fill="#9e1001"/><rect x="856.2" fill="#9e1001"/><rect x="868.2" fill="#9e1001"/><rect x="880.2" fill="#9b0f01"/><rect x="892.2" fill="#9b0f01"/><rect x="904.2" fill="#9b0f01"/><rect x="916.2" fill="#9b0f01"/><rect x="928.2" fill="#9b0f01"/></g>
<g transform="translate(0 683.6)"><rect x="64.2" fill="#c82803"/><rect x="76.2" fill="#c82803"/><rect x="88.2" fill="#c82803"/><rect x="100.2" fill="#ca2a04"/><rect x="112.2" fill="#ca2a04"/><rect x="124.2" fill="#ca2a04"/><rect x="136.2" fill="#ca2a04"/><rect x="148.2" fill="#ca2a04"/><rect x="160.2" fill="#ca2a04"/><rect x="172.2" fill="#ca2a04"/><rect x="184.2" fill="#ca2a04"/><rect x="196.2" fill="#c82803"/><rect x="208.2" fill="#ca2a04"/><rect x="220.2" fill="#ca2a04"/><rect x="232.2" fill="#ca2a04"/><rect x="244.2" fill="#ca2a04"/><rect x="256.2" fill="#ca2a04"/><rect x="268.2" fill="#ca2a04"/><rect x="280.2" fill="#ca2a04"/><rect x="292.2" fill="#ca2a04"/><rect x="304.2" fill="#ca2a04"/><rect x="316.2" fill="#ca2a04"/><rect x="328.2" fill="#ca2a04"/><rect x="340.2" fill="#cc2b04"/><rect x="352.2" fill="#cc2b04"/><rect x="364.2" fill="#ce2d04"/><rect x="376.2" fill="#ce2d04"/><rect x="388.2" fill="#ce2d04"/><rect x="400.2" fill="#d02f05"/><rect x="412.2" fill="#d02f05"/><rect x="424.2" fill="#d02f05"/><rect x="436.2" fill="#d02f05"/><rect x="448.2" fill="#d02f05"/><rect x="460.2" fill="#d02f05"/><rect x="472.2" fill="#d02f05"/><rect x="484.2" fill="#d02f05"/><rect x="496.2" fill="#d23105"/><rect x="508.2" fill="#d43305"/><rect x="520.2" fill="#d43305"/><rect x="532.2" fill="#d43305"/><rect x="544.2" fill="#d63506"/><rect x="556.2" fill="#d83706"/><rect x="568.2" fill="#da3907"/><rect x="580.2" fill="#dc3b07"/><rect x="592.2" fill="#dc3b07"/><rect x="604.2" fill="#dc3b07"/><rect x="616.2" fill="#dc3b07"/><rect x="628.2" fill="#dc3b07"/><rect x="640.2" fill="#df3f08"/><rect x="652.2" fill="#e2430a"/><rect x="664.2" fill="#e2430a"/><rect x="676.2" fill="#dd3d08"/><rect x="688.2" fill="#d63506"/><rect x="700.2" fill="#ce2d04"/><rect x="712.2" fill="#c82803"/><rect x="724.2" fill="#c32503"/><rect x="736.2" fill="#bc2002"/><rect x="748.2" fill="#b21a01"/><rect x="760.2" fill="#ac1701"/><rect x="772.2" fill="#a71401"/><rect x="784.2" fill="#a41301"/><rect x="796.2" fill="#a41301"/><rect x="808.2" fill="#a11201"/><rect x="820.2" fill="#a11201"/><rect x="832.2" fill="#a11201"/><rect x="844.2" fill="#a11201"/><rect x="856.2" fill="#9e1001"/><rect x="868.2" fill="#9e1001"/><rect x="880.2" fill="#9b0f01"/><rect x="892.2" fill="#9b0f01"/><rect x="904.2" fill="#9b0f01"/><rect x="916.2" fill="#9b0f01"/><rect x="928.2" fill="#9b0f01"/></g>
<g transform="translate(0 695.6)"><rect x="64.2" fill="#c82803"/><rect x="76.2" fill="#c82803"/><rect x="88.2" fill="#c82803"/><rect x="100.2" fill="#c82803"/><rect x="112.2" fill="#c82803"/><rect x="124.2" fill="#c82803"/><rect x="136.2" fill="#c82803"/><rect x="148.2" fill="#c82803"/><rect x="160.2" fill="#c82803"/><rect x="172.2" fill="#c82803"/><rect x="184.2" fill="#c82803"/><rect x="196.2" fill="#c82803"/><rect x="208.2" fill="#c82803"/><rect x="220.2" fill="#c82803"/><rect x="232.2" fill="#c82803"/><rect x="244.2" fill="#c82803"/><rect x="256.2" fill="#c82803"/><rect x="268.2" fill="#c82803"/><rect x="280.2" fill="#c82803"/><rect x="292.2" fill="#c82803"/><rect x="304.2" fill="#ca2a04"/><rect x="316.2" fill="#ca2a04"/><rect x="328.2" fill="#ca2a04"/><rect x="340.2" fill="#cc2b04"/><rect x="352.2" fill="#cc2b04"/><rect x="364.2" fill="#ce2d04"/><rect x="376.2" fill="#ce2d04"/><rect x="388.2" fill="#ce2d04"/><rect x="400.2" fill="#d02f05"/><rect x="412.2" fill="#d02f05"/><rect x="424.2" fill="#d02f05"/><rect x="436.2" fill="#d02f05"/><rect x="448.2" fill="#d02f05"/><rect x="460.2" fill="#d02f05"/><rect x="472.2" fill="#d02f05"/><rect x="484.2" fill="#d02f05"/><rect x="496.2" fill="#d02f05"/><rect x="508.2" fill="#d23105"/><rect x="520.2" fill="#d23105"/><rect x="532.2" fill="#d43305"/><rect x="544.2" fill="#d43305"/><rect x="556.2" fill="#d63506"/><rect x="568.2" fill="#d63506"/><rect x="580.2" fill="#d83706"/><rect x="592.2" fill="#d83706"/><rect x="604.2" fill="#d83706"/><rect x="616.2" fill="#d83706"/><rect x="628.2" fill="#d83706"/><rect x="640.2" fill="#da3907"/><rect x="652.2" fill="#da3907"/><rect x="664.2" fill="#da3907"/><rect x="676.2" fill="#d43305"/><rect x="688.2" fill="#d02f05"/><rect x="700.2" fill="#ca2a04"/><rect x="712.2" fill="#c32503"/><rect x="724.2" fill="#be2102"/><rect x="736.2" fill="#b71d02"/><rect x="748.2" fill="#b21a01"/><rect x="760.2" fill="#af1801"/><rect x="772.2" fill="#a91601"/><rect x="784.2" fill="#a71401"/><rect x="796.2" fill="#a41301"/><rect x="808.2" fill="#a41301"/><rect x="820.2" fill="#a41301"/><rect x="832.2" fill="#a11201"/><rect x="844.2" fill="#9e1001"/><rect x="856.2" fill="#9e1001"/><rect x="868.2" fill="#9e1001"/><rect x="880.2" fill="#9b0f01"/><rect x="892.2" fill="#9b0f01"/><rect x="904.2" fill="#9b0f01"/><rect x="916.2" fill="#9b0f01"/><rect x="928.2" fill="#9b0f01"/></g>
<g transform="translate(0 707.6)"><rect x="64.2" fill="#c82803"/><rect x="76.2" fill="#c82803"/><rect x="88.2" fill="#c82803"/><rect x="100.2" fill="#c82803"/><rect x="112.2" fill="#c82803"/><rect x="124.2" fill="#c82803"/><rect x="136.2" fill="#c82803"/><rect x="148.2" fill="#c82803"/><rect x="160.2" fill="#c82803"/><rect x="172.2" fill="#c82803"/><rect x="184.2" fill="#c82803"/><rect x="196.2" fill="#c82803"/><rect x="208.2" fill="#c82803"/><rect x="220.2" fill="#c82803"/><rect x="232.2" fill="#c82803"/><rect x="244.2" fill="#c82803"/><rect x="256.2" fill="#c82803"/><rect x="268.2" fill="#c82803"/><rect x="280.2" fill="#c82803"/><rect x="292.2" fill="#c82803"/><rect x="304.2" fill="#c82803"/><rect x="316.2" fill="#c82803"/><rect x="328.2" fill="#c82803"/><rect x="340.2" fill="#ca2a04"/><rect x="352.2" fill="#ce2d04"/><rect x="364.2" fill="#ce2d04"/><rect x="376.2" fill="#d02f05"/><rect x="388.2" fill="#d02f05"/><rect x="400.2" fill="#d02f05"/><rect x="412.2" fill="#d02f05"/><rect x="424.2" fill="#d02f05"/><rect x="436.2" fill="#d02f05"/><rect x="448.2" fill="#d02f05"/><rect x="460.2" fill="#d02f05"/><rect x="472.2" fill="#d02f05"/><rect x="484.2" fill="#d02f05"/><rect x="496.2" fill="#d02f05"/><rect x="508.2" fill="#d02f05"/><rect x="520.2" fill="#d02f05"/><rect x="532.2" fill="#d43305"/><rect x="544.2" fill="#d63506"/><rect x="556.2" fill="#d63506"/><rect x="568.2" fill="#d63506"/><rect x="580.2" fill="#d63506"/><rect x="592.2" fill="#d63506"/><rect x="604.2" fill="#d63506"/><rect x="616.2" fill="#d63506"/><rect x="628.2" fill="#d63506"/><rect x="640.2" fill="#d63506"/><rect x="652.2" fill="#da3907"/><rect x="664.2" fill="#df3f08"/><rect x="676.2" fill="#ce2d04"/><rect x="688.2" fill="#ca2a04"/><rect x="700.2" fill="#c82803"/><rect x="712.2" fill="#c82803"/><rect x="724.2" fill="#c32503"/><rect x="736.2" fill="#b41b01"/><rect x="748.2" fill="#af1801"/><rect x="760.2" fill="#af1801"/><rect x="772.2" fill="#ac1701"/><rect x="784.2" fill="#a71401"/><rect x="796.2" fill="#a41301"/><rect x="808.2" fill="#a41301"/><rect x="820.2" fill="#a41301"/><rect x="832.2" fill="#a41301"/><rect x="844.2" fill="#9e1001"/><rect x="856.2" fill="#9b0f01"/><rect x="868.2" fill="#9b0f01"/><rect x="880.2" fill="#9b0f01"/><rect x="892.2" fill="#9b0f01"/><rect x="904.2" fill="#9b0f01"/><rect x="916.2" fill="#9b0f01"/><rect x="928.2" fill="#9b0f01"/></g>
<g transform="translate(0 719.6)"><rect x="64.2" fill="#c82803"/><rect x="76.2" fill="#c82803"/><rect x="88.2" fill="#c82803"/><rect x="100.2" fill="#c82803"/><rect x="112.2" fill="#c82803"/><rect x="124.2" fill="#c82803"/><rect x="136.2" fill="#c82803"/><rect x="148.2" fill="#c82803"/><rect x="160.2" fill="#c82803"/><rect x="172.2" fill="#c82803"/><rect x="184.2" fill="#c82803"/><rect x="196.2" fill="#c82803"/><rect x="208.2" fill="#c82803"/><rect x="220.2" fill="#c82803"/><rect x="232.2" fill="#c82803"/><rect x="244.2" fill="#c82803"/><rect x="256.2" fill="#c82803"/><rect x="268.2" fill="#c82803"/><rect x="280.2" fill="#c82803"/><rect x="292.2" fill="#c82803"/><rect x="304.2" fill="#c82803"/><rect x="316.2" fill="#c82803"/><rect x="328.2" fill="#c82803"/><rect x="340.2" fill="#ca2a04"/><rect x="352.2" fill="#ce2d04"/><rect x="364.2" fill="#d02f05"/><rect x="376.2" fill="#d02f05"/><rect x="388.2" fill="#d02f05"/><rect x="400.2" fill="#d02f05"/><rect x="412.2" fill="#d02f05"/><rect x="424.2" fill="#d02f05"/><rect x="436.2" fill="#d02f05"/><rect x="448.2" fill="#d02f05"/><rect x="460.2" fill="#d02f05"/><rect x="472.2" fill="#d02f05"/><rect x="484.2" fill="#d02f05"/><rect x="496.2" fill="#d02f05"/><rect x="508.2" fill="#d02f05"/><rect x="520.2" fill="#d02f05"/><rect x="532.2" fill="#d43305"/><rect x="544.2" fill="#d63506"/><rect x="556.2" fill="#d63506"/><rect x="568.2" fill="#d63506"/><rect x="580.2" fill="#d63506"/><rect x="592.2" fill="#d63506"/><rect x="604.2" fill="#d63506"/><rect x="616.2" fill="#d63506"/><rect x="628.2" fill="#d63506"/><rect x="640.2" fill="#d63506"/><rect x="652.2" fill="#d83706"/><rect x="664.2" fill="#dd3d08"/><rect x="676.2" fill="#ce2d04"/><rect x="688.2" fill="#c82803"/><rect x="700.2" fill="#c82803"/><rect x="712.2" fill="#c82803"/><rect x="724.2" fill="#c32503"/><rect x="736.2" fill="#b41b01"/><rect x="748.2" fill="#af1801"/><rect x="760.2" fill="#ac1701"/><rect x="772.2" fill="#a71401"/><rect x="784.2" fill="#a41301"/><rect x="796.2" fill="#a41301"/><rect x="808.2" fill="#a41301"/><rect x="820.2" fill="#a41301"/><rect x="832.2" fill="#a41301"/><rect x="844.2" fill="#9b0f01"/><rect x="856.2" fill="#9b0f01"/><rect x="868.2" fill="#9b0f01"/><rect x="880.2" fill="#9b0f01"/><rect x="892.2" fill="#9b0f01"/><rect x="904.2" fill="#9b0f01"/><rect x="916.2" fill="#9b0f01"/><rect x="928.2" fill="#9b0f01"/></g>
<g transform="translate(0 731.6)"><rect x="64.2" fill="#c82803"/><rect x="76.2" fill="#c82803"/><rect x="88.2" fill="#c82803"/><rect x="100.2" fill="#c82803"/><rect x="112.2" fill="#c82803"/><rect x="124.2" fill="#c82803"/><rect x="136.2" fill="#c82803"/><rect x="148.2" fill="#c82803"/><rect x="160.2" fill="#c82803"/><rect x="172.2" fill="#c82803"/><rect x="184.2" fill="#c82803"/><rect x="196.2" fill="#c82803"/><rect x="208.2" fill="#c82803"/><rect x="220.2" fill="#c82803"/><rect x="232.2" fill="#c82803"/><rect x="244.2" fill="#c82803"/><rect x="256.2" fill="#c82803"/><rect x="268.2" fill="#c82803"/><rect x="280.2" fill="#c82803"/><rect x="292.2" fill="#c82803"/><rect x="304.2" fill="#c82803"/><rect x="316.2" fill="#c82803"/><rect x="328.2" fill="#c82803"/><rect x="340.2" fill="#ca2a04"/><rect x="352.2" fill="#ce2d04"/><rect x="364.2" fill="#d02f05"/><rect x="376.2" fill="#d02f05"/><rect x="388.2" fill="#d02f05"/><rect x="400.2" fill="#d02f05"/><rect x="412.2" fill="#d02f05"/><rect x="424.2" fill="#d02f05"/><rect x="436.2" fill="#d02f05"/><rect x="448.2" fill="#d02f05"/><rect x="460.2" fill="#d02f05"/><rect x="472.2" fill="#d02f05"/><rect x="484.2" fill="#d02f05"/><rect x="496.2" fill="#d02f05"/><rect x="508.2" fill="#d02f05"/><rect x="520.2" fill="#d02f05"/><rect x="532.2" fill="#d23105"/><rect x="544.2" fill="#d63506"/><rect x="556.2" fill="#d63506"/><rect x="568.2" fill="#d63506"/><rect x="580.2" fill="#d63506"/><rect x="592.2" fill="#d63506"/><rect x="604.2" fill="#d63506"/><rect x="616.2" fill="#d63506"/><rect x="628.2" fill="#d63506"/><rect x="640.2" fill="#d63506"/><rect x="652.2" fill="#d43305"/><rect x="664.2" fill="#ce2d04"/><rect x="676.2" fill="#ca2a04"/><rect x="688.2" fill="#c82803"/><rect x="700.2" fill="#c82803"/><rect x="712.2" fill="#c82803"/><rect x="724.2" fill="#c32503"/><rect x="736.2" fill="#b41b01"/><rect x="748.2" fill="#af1801"/><rect x="760.2" fill="#ac1701"/><rect x="772.2" fill="#a71401"/><rect x="784.2" fill="#a41301"/><rect x="796.2" fill="#a41301"/><rect x="808.2" fill="#a41301"/><rect x="820.2" fill="#a41301"/><rect x="832.2" fill="#a41301"/><rect x="844.2" fill="#9b0f01"/><rect x="856.2" fill="#9b0f01"/><rect x="868.2" fill="#9b0f01"/><rect x="880.2" fill="#9b0f01"/><rect x="892.2" fill="#9b0f01"/><rect x="904.2" fill="#9b0f01"/><rect x="916.2" fill="#9b0f01"/><rect x="928.2" fill="#9b0f01"/></g>
</g></g>
<g clip-path="url(#cup)"><g class="fr" filter="url(#blur)" shape-rendering="crispEdges">
<g transform="translate(0 113.8)"><rect x="64.2" fill="#a4fc3c"/><rect x="76.2" fill="#a4fc3c"/><rect x="88.2" fill="#a9fb39"/><rect x="100.2" fill="#acfb38"/><rect x="112.2" fill="#acfb38"/><rect x="124.2" fill="#acfb38"/><rect x="136.2" fill="#acfb38"/><rect x="148.2" fill="#acfb38"/><rect x="160.2" fill="#acfb38"/><rect x="172.2" fill="#acfb38"/><rect x="184.2" fill="#acfb38"/><rect x="196.2" fill="#acfb38"/><rect x="208.2" fill="#acfb38"/><rect x="220.2" fill="#acfb38"/><rect x="232.2" fill="#acfb38"/><rect x="244.2" fill="#acfb38"/><rect x="256.2" fill="#acfb38"/><rect x="268.2" fill="#acfb38"/><rect x="280.2" fill="#acfb38"/><rect x="292.2" fill="#acfb38"/><rect x="304.2" fill="#acfb38"/><rect x="316.2" fill="#affa37"/><rect x="328.2" fill="#bcf534"/><rect x="340.2" fill="#bef434"/><rect x="352.2" fill="#bef434"/><rect x="364.2" fill="#bef434"/><rect x="376.2" fill="#bef434"/><rect x="388.2" fill="#bef434"/><rect x="400.2" fill="#bef434"/><rect x="412.2" fill="#bef434"/><rect x="424.2" fill="#bef434"/><rect x="436.2" fill="#bef434"/><rect x="448.2" fill="#bef434"/><rect x="460.2" fill="#bef434"/><rect x="472.2" fill="#bef434"/><rect x="484.2" fill="#bef434"/><rect x="496.2" fill="#bcf534"/><rect x="508.2" fill="#b9f635"/><rect x="520.2" fill="#bcf534"/><rect x="532.2" fill="#bef434"/><rect x="544.2" fill="#bef434"/><rect x="556.2" fill="#bef434"/><rect x="568.2" fill="#bef434"/><rect x="580.2" fill="#bef434"/><rect x="592.2" fill="#bef434"/><rect x="604.2" fill="#bef434"/><rect x="616.2" fill="#bef434"/><rect x="628.2" fill="#bef434"/><rect x="640.2" fill="#bef434"/><rect x="652.2" fill="#bef434"/><rect x="664.2" fill="#c1f334"/><rect x="676.2" fill="#cdec34"/><rect x="688.2" fill="#d0ea34"/><rect x="700.2" fill="#d0ea34"/><rect x="712.2" fill="#d0ea34"/><rect x="724.2" fill="#d0ea34"/><rect x="736.2" fill="#d0ea34"/><rect x="748.2" fill="#d0ea34"/><rect x="760.2" fill="#d0ea34"/><rect x="772.2" fill="#d0ea34"/><rect x="784.2" fill="#d0ea34"/><rect x="796.2" fill="#d9e436"/><rect x="808.2" fill="#f9bc39"/><rect x="820.2" fill="#fea130"/><rect x="832.2" fill="#fe992c"/><rect x="844.2" fill="#fe992c"/><rect x="856.2" fill="#fe932a"/><rect x="868.2" fill="#fb8122"/><rect x="880.2" fill="#fa7b1f"/><rect x="892.2" fill="#fa7b1f"/><rect x="904.2" fill="#fa7b1f"/><rect x="916.2" fill="#fa7b1f"/><rect x="928.2" fill="#fa7b1f"/></g>
<g transform="translate(0 125.8)"><rect x="64.2" fill="#a4fc3c"/><rect x="76.2" fill="#a4fc3c"/><rect x="88.2" fill="#a4fc3c"/><rect x="100.2" fill="#a9fb39"/><rect x="112.2" fill="#acfb38"/><rect x="124.2" fill="#acfb38"/><rect x="136.2" fill="#acfb38"/><rect x="148.2" fill="#acfb38"/><rect x="160.2" fill="#acfb38"/><rect x="172.2" fill="#acfb38"/><rect x="184.2" fill="#acfb38"/><rect x="196.2" fill="#acfb38"/><rect x="208.2" fill="#acfb38"/><rect x="220.2" fill="#acfb38"/><rect x="232.2" fill="#acfb38"/><rect x="244.2" fill="#acfb38"/><rect x="256.2" fill="#acfb38"/><rect x="268.2" fill="#acfb38"/><rect x="280.2" fill="#acfb38"/><rect x="292.2" fill="#acfb38"/><rect x="304.2" fill="#acfb38"/><rect x="316.2" fill="#affa37"/><rect x="328.2" fill="#bcf534"/><rect x="340.2" fill="#bef434"/><rect x="352.2" fill="#bef434"/><rect x="364.2" fill="#bef434"/><rect x="376.2" fill="#bef434"/><rect x="388.2" fill="#bef434"/><rect x="400.2" fill="#bef434"/><rect x="412.2" fill="#bef434"/><rect x="424.2" fill="#bef434"/><rect x="436.2" fill="#bef434"/><rect x="448.2" fill="#bef434"/><rect x="460.2" fill="#bef434"/><rect x="472.2" fill="#bef434"/><rect x="484.2" fill="#bef434"/><rect x="496.2" fill="#bef434"/><rect x="508.2" fill="#bcf534"/><rect x="520.2" fill="#b9f635"/><rect x="532.2" fill="#bcf534"/><rect x="544.2" fill="#bef434"/><rect x="556.2" fill="#bef434"/><rect x="568.2" fill="#bef434"/><rect x="580.2" fill="#bef434"/><rect x="592.2" fill="#bef434"/><rect x="604.2" fill="#bef434"/><rect x="616.2" fill="#bef434"/><rect x="628.2" fill="#bef434"/><rect x="640.2" fill="#bef434"/><rect x="652.2" fill="#bef434"/><rect x="664.2" fill="#c1f334"/><rect x="676.2" fill="#cbed34"/><rect x="688.2" fill="#d0ea34"/><rect x="700.2" fill="#d0ea34"/><rect x="712.2" fill="#d0ea34"/><rect x="724.2" fill="#d0ea34"/><rect x="736.2" fill="#d0ea34"/><rect x="748.2" fill="#d0ea34"/><rect x="760.2" fill="#d0ea34"/><rect x="772.2" fill="#d0ea34"/><rect x="784.2" fill="#d0ea34"/><rect x="796.2" fill="#d9e436"/><rect x="808.2" fill="#f8be39"/><rect x="820.2" fill="#fdae35"/><rect x="832.2" fill="#fe9e2f"/><rect x="844.2" fill="#fe992c"/><rect x="856.2" fill="#fe962b"/><rect x="868.2" fill="#fc8423"/><rect x="880.2" fill="#fa7b1f"/><rect x="892.2" fill="#fa7b1f"/><rect x="904.2" fill="#fa7b1f"/><rect x="916.2" fill="#fa7b1f"/><rect x="928.2" fill="#fa7b1f"/></g>
<g transform="translate(0 137.8)"><rect x="64.2" fill="#a4fc3c"/><rect x="76.2" fill="#a4fc3c"/><rect x="88.2" fill="#a4fc3c"/><rect x="100.2" fill="#a9fb39"/><rect x="112.2" fill="#acfb38"/><rect x="124.2" fill="#acfb38"/><rect x="136.2" fill="#acfb38"/><rect x="148.2" fill="#acfb38"/><rect x="160.2" fill="#acfb38"/><rect x="172.2" fill="#acfb38"/><rect x="184.2" fill="#acfb38"/><rect x="196.2" fill="#acfb38"/><rect x="208.2" fill="#acfb38"/><rect x="220.2" fill="#acfb38"/><rect x="232.2" fill="#acfb38"/><rect x="244.2" fill="#acfb38"/><rect x="256.2" fill="#acfb38"/><rect x="268.2" fill="#acfb38"/><rect x="280.2" fill="#acfb38"/><rect x="292.2" fill="#acfb38"/><rect x="304.2" fill="#acfb38"/><rect x="316.2" fill="#affa37"/><rect x="328.2" fill="#bcf534"/><rect x="340.2" fill="#bef434"/><rect x="352.2" fill="#bef434"/><rect x="364.2" fill="#bef434"/><rect x="376.2" fill="#bef434"/><rect x="388.2" fill="#bef434"/><rect x="400.2" fill="#bef434"/><rect x="412.2" fill="#bef434"/><rect x="424.2" fill="#bef434"/><rect x="436.2" fill="#bef434"/><rect x="448.2" fill="#bef434"/><rect x="460.2" fill="#bef434"/><rect x="472.2" fill="#bef434"/><rect x="484.2" fill="#bef434"/><rect x="496.2" fill="#bef434"/><rect x="508.2" fill="#bcf534"/><rect x="520.2" fill="#b7f735"/><rect x="532.2" fill="#b7f735"/><rect x="544.2" fill="#bcf534"/><rect x="556.2" fill="#bef434"/><rect x="568.2" fill="#bef434"/><rect x="580.2" fill="#bef434"/><rect x="592.2" fill="#bef434"/><rect x="604.2" fill="#bef434"/><rect x="616.2" fill="#bef434"/><rect x="628.2" fill="#bef434"/><rect x="640.2" fill="#bef434"/><rect x="652.2" fill="#bef434"/><rect x="664.2" fill="#bef434"/><rect x="676.2" fill="#c3f134"/><rect x="688.2" fill="#cbed34"/><rect x="700.2" fill="#d0ea34"/><rect x="712.2" fill="#d0ea34"/><rect x="724.2" fill="#d0ea34"/><rect x="736.2" fill="#d0ea34"/><rect x="748.2" fill="#d0ea34"/><rect x="760.2" fill="#d0ea34"/><rect x="772.2" fill="#d0ea34"/><rect x="784.2" fill="#d0ea34"/><rect x="796.2" fill="#dde037"/><rect x="808.2" fill="#f8be39"/><rect x="820.2" fill="#fcb136"/><rect x="832.2" fill="#fea130"/><rect x="844.2" fill="#fe992c"/><rect x="856.2" fill="#fe992c"/><rect x="868.2" fill="#fe9029"/><rect x="880.2" fill="#fb7e21"/><rect x="892.2" fill="#fa7b1f"/><rect x="904.2" fill="#fa7b1f"/><rect x="916.2" fill="#fa7b1f"/><rect x="928.2" fill="#fa7b1f"/></g>
<g transform="translate(0 149.8)"><rect x="64.2" fill="#a4fc3c"/><rect x="76.2" fill="#a4fc3c"/><rect x="88.2" fill="#a4fc3c"/><rect x="100.2" fill="#a4fc3c"/><rect x="112.2" fill="#a9fb39"/><rect x="124.2" fill="#acfb38"/><rect x="136.2" fill="#acfb38"/><rect x="148.2" fill="#acfb38"/><rect x="160.2" fill="#acfb38"/><rect x="172.2" fill="#acfb38"/><rect x="184.2" fill="#acfb38"/><rect x="196.2" fill="#acfb38"/><rect x="208.2" fill="#acfb38"/><rect x="220.2" fill="#acfb38"/><rect x="232.2" fill="#acfb38"/><rect x="244.2" fill="#acfb38"/><rect x="256.2" fill="#acfb38"/><rect x="268.2" fill="#acfb38"/><rect x="280.2" fill="#acfb38"/><rect x="292.2" fill="#acfb38"/><rect x="304.2" fill="#acfb38"/><rect x="316.2" fill="#affa37"/><rect x="328.2" fill="#bcf534"/><rect x="340.2" fill="#bef434"/><rect x="352.2" fill="#bef434"/><rect x="364.2" fill="#bef434"/><rect x="376.2" fill="#bef434"/><rect x="388.2" fill="#bef434"/><rect x="400.2" fill="#bef434"/><rect x="412.2" fill="#bef434"/><rect x="424.2" fill="#bef434"/><rect x="436.2" fill="#bef434"/><rect x="448.2" fill="#bef434"/><rect x="460.2" fill="#bef434"/><rect x="472.2" fill="#bef434"/><rect x="484.2" fill="#bef434"/><rect x="496.2" fill="#bef434"/><rect x="508.2" fill="#bef434"/><rect x="520.2" fill="#bcf534"/><rect x="532.2" fill="#b7f735"/><rect x="544.2" fill="#b7f735"/><rect x="556.2" fill="#bcf534"/><rect x="568.2" fill="#bef434"/><rect x="580.2" fill="#bef434"/><rect x="592.2" fill="#bef434"/><rect x="604.2" fill="#bef434"/><rect x="616.2" fill="#bef434"/><rect x="628.2" fill="#bef434"/><rect x="640.2" fill="#bef434"/><rect x="652.2" fill="#bcf534"/><rect x="664.2" fill="#bef434"/><rect x="676.2" fill="#c1f334"/><rect x="688.2" fill="#c3f134"/><rect x="700.2" fill="#cdec34"/><rect x="712.2" fill="#cdec34"/><rect x="724.2" fill="#d0ea34"/><rect x="736.2" fill="#d0ea34"/><rect x="748.2" fill="#d0ea34"/><rect x="760.2" fill="#d0ea34"/><rect x="772.2" fill="#d2e935"/><rect x="784.2" fill="#d7e535"/><rect x="796.2" fill="#e7d739"/><rect x="808.2" fill="#f8be39"/><rect x="820.2" fill="#fbb637"/><rect x="832.2" fill="#fdae35"/><rect x="844.2" fill="#fe9e2f"/><rect x="856.2" fill="#fe9b2d"/><rect x="868.2" fill="#fe932a"/><rect x="880.2" fill="#fb8122"/><rect x="892.2" fill="#fa7b1f"/><rect x="904.2" fill="#fa7b1f"/><rect x="916.2" fill="#fa7b1f"/><rect x="928.2" fill="#fa7b1f"/></g>
<g transform="translate(0 161.8)"><rect x="64.2" fill="#a4fc3c"/><rect x="76.2" fill="#a4fc3c"/><rect x="88.2" fill="#a4fc3c"/><rect x="100.2" fill="#a4fc3c"/><rect x="112.2" fill="#a4fc3c"/><rect x="124.2" fill="#a9fb39"/><rect x="136.2" fill="#acfb38"/><rect x="148.2" fill="#acfb38"/><rect x="160.2" fill="#acfb38"/><rect x="172.2" fill="#acfb38"/><rect x="184.2" fill="#acfb38"/><rect x="196.2" fill="#acfb38"/><rect x="208.2" fill="#acfb38"/><rect x="220.2" fill="#acfb38"/><rect x="232.2" fill="#acfb38"/><rect x="244.2" fill="#acfb38"/><rect x="256.2" fill="#acfb38"/><rect x="268.2" fill="#acfb38"/><rect x="280.2" fill="#acfb38"/><rect x="292.2" fill="#acfb38"/><rect x="304.2" fill="#acfb38"/><rect x="316.2" fill="#affa37"/><rect x="328.2" fill="#bcf534"/><rect x="340.2" fill="#bef434"/><rect x="352.2" fill="#bef434"/><rect x="364.2" fill="#bef434"/><rect x="376.2" fill="#bef434"/><rect x="388.2" fill="#bef434"/><rect x="400.2" fill="#bef434"/><rect x="412.2" fill="#bef434"/><rect x="424.2" fill="#bef434"/><rect x="436.2" fill="#bef434"/><rect x="448.2" fill="#bef434"/><rect x="460.2" fill="#bef434"/><rect x="472.2" fill="#bef434"/><rect x="484.2" fill="#bef434"/><rect x="496.2" fill="#bef434"/><rect x="508.2" fill="#bef434"/><rect x="520.2" fill="#bcf534"/><rect x="532.2" fill="#b7f735"/><rect x="544.2" fill="#b7f735"/><rect x="556.2" fill="#b9f635"/><rect x="568.2" fill="#bcf534"/><rect x="580.2" fill="#bef434"/><rect x="592.2" fill="#bef434"/><rect x="604.2" fill="#bef434"/><rect x="616.2" fill="#bef434"/><rect x="628.2" fill="#c1f334"/><rect x="640.2" fill="#c1f334"/><rect x="652.2" fill="#c1f334"/><rect x="664.2" fill="#c3f134"/><rect x="676.2" fill="#c6f034"/><rect x="688.2" fill="#c6f034"/><rect x="700.2" fill="#c8ef34"/><rect x="712.2" fill="#cbed34"/><rect x="724.2" fill="#cbed34"/><rect x="736.2" fill="#cbed34"/><rect x="748.2" fill="#cdec34"/><rect x="760.2" fill="#d7e535"/><rect x="772.2" fill="#dde037"/><rect x="784.2" fill="#e5d938"/><rect x="796.2" fill="#eecf3a"/><rect x="808.2" fill="#f5c53a"/><rect x="820.2" fill="#f9bc39"/><rect x="832.2" fill="#fcb336"/><rect x="844.2" fill="#fea933"/><rect x="856.2" fill="#fe9e2f"/><rect x="868.2" fill="#fe932a"/><rect x="880.2" fill="#fc8725"/><rect x="892.2" fill="#fa7b1f"/><rect x="904.2" fill="#fa7b1f"/><rect x="916.2" fill="#fa7b1f"/><rect x="928.2" fill="#fa7b1f"/></g>
<g transform="translate(0 173.8)"><rect x="64.2" fill="#a4fc3c"/><rect x="76.2" fill="#a4fc3c"/><rect x="88.2" fill="#a4fc3c"/><rect x="100.2" fill="#a4fc3c"/><rect x="112.2" fill="#a4fc3c"/><rect x="124.2" fill="#a7fc3a"/><rect x="136.2" fill="#acfb38"/><rect x="148.2" fill="#acfb38"/><rect x="160.2" fill="#acfb38"/><rect x="172.2" fill="#acfb38"/><rect x="184.2" fill="#acfb38"/><rect x="196.2" fill="#acfb38"/><rect x="208.2" fill="#acfb38"/><rect x="220.2" fill="#acfb38"/><rect x="232.2" fill="#acfb38"/><rect x="244.2" fill="#acfb38"/><rect x="256.2" fill="#acfb38"/><rect x="268.2" fill="#acfb38"/><rect x="280.2" fill="#acfb38"/><rect x="292.2" fill="#acfb38"/><rect x="304.2" fill="#acfb38"/><rect x="316.2" fill="#affa37"/><rect x="328.2" fill="#bcf534"/><rect x="340.2" fill="#bcf534"/><rect x="352.2" fill="#bcf534"/><rect x="364.2" fill="#bcf534"/><rect x="376.2" fill="#bcf534"/><rect x="388.2" fill="#bcf534"/><rect x="400.2" fill="#bef434"/><rect x="412.2" fill="#bef434"/><rect x="424.2" fill="#bef434"/><rect x="436.2" fill="#bef434"/><rect x="448.2" fill="#bef434"/><rect x="460.2" fill="#bef434"/><rect x="472.2" fill="#bef434"/><rect x="484.2" fill="#bcf534"/><rect x="496.2" fill="#bcf534"/><rect x="508.2" fill="#bcf534"/><rect x="520.2" fill="#bef434"/><rect x="532.2" fill="#bcf534"/><rect x="544.2" fill="#bcf534"/><rect x="556.2" fill="#bcf534"/><rect x="568.2" fill="#bef434"/><rect x="580.2" fill="#bcf534"/><rect x="592.2" fill="#bcf534"/><rect x="604.2" fill="#bcf534"/><rect x="616.2" fill="#bef434"/><rect x="628.2" fill="#bef434"/><rect x="640.2" fill="#c1f334"/><rect x="652.2" fill="#c1f334"/><rect x="664.2" fill="#c3f134"/><rect x="676.2" fill="#c3f134"/><rect x="688.2" fill="#c6f034"/><rect x="700.2" fill="#c6f034"/><rect x="712.2" fill="#c8ef34"/><rect x="724.2" fill="#c8ef34"/><rect x="736.2" fill="#c8ef34"/><rect x="748.2" fill="#c8ef34"/><rect x="760.2" fill="#d0ea34"/><rect x="772.2" fill="#dbe236"/><rect x="784.2" fill="#e5d938"/><rect x="796.2" fill="#ecd13a"/><rect x="808.2" fill="#f2c93a"/><rect x="820.2" fill="#f7c13a"/><rect x="832.2" fill="#fbb637"/><rect x="844.2" fill="#fdac34"/><rect x="856.2" fill="#fea130"/><rect x="868.2" fill="#fe932a"/><rect x="880.2" fill="#fc8423"/><rect x="892.2" fill="#f9781e"/><rect x="904.2" fill="#f9781e"/><rect x="916.2" fill="#f9781e"/><rect x="928.2" fill="#f9781e"/></g>
<g transform="translate(0 185.8)"><rect x="64.2" fill="#a4fc3c"/><rect x="76.2" fill="#a4fc3c"/><rect x="88.2" fill="#a4fc3c"/><rect x="100.2" fill="#a1fd3d"/><rect x="112.2" fill="#a1fd3d"/><rect x="124.2" fill="#99fe42"/><rect x="136.2" fill="#a4fc3c"/><rect x="148.2" fill="#acfb38"/><rect x="160.2" fill="#acfb38"/><rect x="172.2" fill="#acfb38"/><rect x="184.2" fill="#acfb38"/><rect x="196.2" fill="#acfb38"/><rect x="208.2" fill="#acfb38"/><rect x="220.2" fill="#acfb38"/><rect x="232.2" fill="#acfb38"/><rect x="244.2" fill="#acfb38"/><rect x="256.2" fill="#acfb38"/><rect x="268.2" fill="#acfb38"/><rect x="280.2" fill="#acfb38"/><rect x="292.2" fill="#acfb38"/><rect x="304.2" fill="#affa37"/><rect x="316.2" fill="#b1f936"/><rect x="328.2" fill="#b9f635"/><rect x="340.2" fill="#b7f735"/><rect x="352.2" fill="#b7f735"/><rect x="364.2" fill="#b7f735"/><rect x="376.2" fill="#b9f635"/><rect x="388.2" fill="#b9f635"/><rect x="400.2" fill="#bcf534"/><rect x="412.2" fill="#bcf534"/><rect x="424.2" fill="#bcf534"/><rect x="436.2" fill="#bef434"/><rect x="448.2" fill="#bef434"/><rect x="460.2" fill="#bef434"/><rect x="472.2" fill="#bef434"/><rect x="484.2" fill="#bef434"/><rect x="496.2" fill="#bef434"/><rect x="508.2" fill="#bef434"/><rect x="520.2" fill="#bef434"/><rect x="532.2" fill="#bef434"/><rect x="544.2" fill="#bef434"/><rect x="556.2" fill="#bcf534"/><rect x="568.2" fill="#bcf534"/><rect x="580.2" fill="#b9f635"/><rect x="592.2" fill="#b9f635"/><rect x="604.2" fill="#b9f635"/><rect x="616.2" fill="#b9f635"/><rect x="628.2" fill="#bcf534"/><rect x="640.2" fill="#bef434"/><rect x="652.2" fill="#bef434"/><rect x="664.2" fill="#c1f334"/><rect x="676.2" fill="#c1f334"/><rect x="688.2" fill="#c3f134"/><rect x="700.2" fill="#c3f134"/><rect x="712.2" fill="#c3f134"/><rect x="724.2" fill="#c3f134"/><rect x="736.2" fill="#c3f134"/><rect x="748.2" fill="#c3f134"/><rect x="760.2" fill="#c6f034"/><rect x="772.2" fill="#d2e935"/><rect x="784.2" fill="#dfdf37"/><rect x="796.2" fill="#e9d539"/><rect x="808.2" fill="#efcd3a"/><rect x="820.2" fill="#f6c33a"/><rect x="832.2" fill="#fbb838"/><rect x="844.2" fill="#fdac34"/><rect x="856.2" fill="#fe9e2f"/><rect x="868.2" fill="#fe9029"/><rect x="880.2" fill="#fb8122"/><rect x="892.2" fill="#f9751d"/><rect x="904.2" fill="#f8721c"/><rect x="916.2" fill="#f8721c"/><rect x="928.2" fill="#f8721c"/></g>
<g transform="translate(0 197.8)"><rect x="64.2" fill="#a4fc3c"/><rect x="76.2" fill="#a4fc3c"/><rect x="88.2" fill="#a4fc3c"/><rect x="100.2" fill="#a1fd3d"/><rect x="112.2" fill="#9ffd3f"/><rect x="124.2" fill="#92ff47"/><rect x="136.2" fill="#96fe44"/><rect x="148.2" fill="#a4fc3c"/><rect x="160.2" fill="#a7fc3a"/><rect x="172.2" fill="#acfb38"/><rect x="184.2" fill="#acfb38"/><rect x="196.2" fill="#acfb38"/><rect x="208.2" fill="#acfb38"/><rect x="220.2" fill="#acfb38"/><rect x="232.2" fill="#a9fb39"/><rect x="244.2" fill="#a9fb39"/><rect x="256.2" fill="#affa37"/><rect x="268.2" fill="#b1f936"/><rect x="280.2" fill="#b4f836"/><rect x="292.2" fill="#b4f836"/><rect x="304.2" fill="#b4f836"/><rect x="316.2" fill="#b7f735"/><rect x="328.2" fill="#b9f635"/><rect x="340.2" fill="#b9f635"/><rect x="352.2" fill="#bcf534"/><rect x="364.2" fill="#bcf534"/><rect x="376.2" fill="#bef434"/><rect x="388.2" fill="#bef434"/><rect x="400.2" fill="#c1f334"/><rect x="412.2" fill="#bef434"/><rect x="424.2" fill="#bef434"/><rect x="436.2" fill="#bef434"/><rect x="448.2" fill="#bef434"/><rect x="460.2" fill="#bef434"/><rect x="472.2" fill="#bef434"/><rect x="484.2" fill="#bef434"/><rect x="496.2" fill="#bef434"/><rect x="508.2" fill="#bef434"/><rect x="520.2" fill="#bef434"/><rect x="532.2" fill="#bef434"/><rect x="544.2" fill="#bef434"/><rect x="556.2" fill="#b9f635"/><rect x="568.2" fill="#b7f735"/><rect x="580.2" fill="#b7f735"/><rect x="592.2" fill="#b7f735"/><rect x="604.2" fill="#b7f735"/><rect x="616.2" fill="#b7f735"/><rect x="628.2" fill="#b7f735"/><rect x="640.2" fill="#b9f635"/><rect x="652.2" fill="#bcf534"/><rect x="664.2" fill="#bcf534"/><rect x="676.2" fill="#bef434"/><rect x="688.2" fill="#bef434"/><rect x="700.2" fill="#bef434"/><rect x="712.2" fill="#bef434"/><rect x="724.2" fill="#bef434"/><rect x="736.2" fill="#bef434"/><rect x="748.2" fill="#bcf534"/><rect x="760.2" fill="#b9f635"/><rect x="772.2" fill="#c8ef34"/><rect x="784.2" fill="#d7e535"/><rect x="796.2" fill="#e3db38"/><rect x="808.2" fill="#eecf3a"/><rect x="820.2" fill="#f5c53a"/><rect x="832.2" fill="#fbb838"/><rect x="844.2" fill="#fea933"/><rect x="856.2" fill="#fe992c"/><rect x="868.2" fill="#fd8d27"/><rect x="880.2" fill="#fb7e21"/><rect x="892.2" fill="#f8721c"/><rect x="904.2" fill="#f76f1a"/><rect x="916.2" fill="#f76f1a"/><rect x="928.2" fill="#f76f1a"/></g>
<g transform="translate(0 209.8)"><rect x="64.2" fill="#a4fc3c"/><rect x="76.2" fill="#a4fc3c"/><rect x="88.2" fill="#a4fc3c"/><rect x="100.2" fill="#a1fd3d"/><rect x="112.2" fill="#9ffd3f"/><rect x="124.2" fill="#92ff47"/><rect x="136.2" fill="#8fff49"/><rect x="148.2" fill="#92ff47"/><rect x="160.2" fill="#96fe44"/><rect x="172.2" fill="#a4fc3c"/><rect x="184.2" fill="#acfb38"/><rect x="196.2" fill="#acfb38"/><rect x="208.2" fill="#acfb38"/><rect x="220.2" fill="#a9fb39"/><rect x="232.2" fill="#a4fc3c"/><rect x="244.2" fill="#9ffd3f"/><rect x="256.2" fill="#a9fb39"/><rect x="268.2" fill="#b4f836"/><rect x="280.2" fill="#b9f635"/><rect x="292.2" fill="#bcf534"/><rect x="304.2" fill="#bcf534"/><rect x="316.2" fill="#bef434"/><rect x="328.2" fill="#bef434"/><rect x="340.2" fill="#c1f334"/><rect x="352.2" fill="#c3f134"/><rect x="364.2" fill="#c3f134"/><rect x="376.2" fill="#c6f034"/><rect x="388.2" fill="#c6f034"/><rect x="400.2" fill="#c6f034"/><rect x="412.2" fill="#c6f034"/><rect x="424.2" fill="#c6f034"/><rect x="436.2" fill="#c6f034"/><rect x="448.2" fill="#c3f134"/><rect x="460.2" fill="#c3f134"/><rect x="472.2" fill="#c3f134"/><rect x="484.2" fill="#c3f134"/><rect x="496.2" fill="#c1f334"/><rect x="508.2" fill="#c1f334"/><rect x="520.2" fill="#c1f334"/><rect x="532.2" fill="#c1f334"/><rect x="544.2" fill="#bef434"/><rect x="556.2" fill="#bcf534"/><rect x="568.2" fill="#bcf534"/><rect x="580.2" fill="#b9f635"/><rect x="592.2" fill="#b9f635"/><rect x="604.2" fill="#b9f635"/><rect x="616.2" fill="#b9f635"/><rect x="628.2" fill="#b9f635"/><rect x="640.2" fill="#b9f635"/><rect x="652.2" fill="#b9f635"/><rect x="664.2" fill="#b9f635"/><rect x="676.2" fill="#bcf534"/><rect x="688.2" fill="#b9f635"/><rect x="700.2" fill="#b4f836"/><rect x="712.2" fill="#b4f836"/><rect x="724.2" fill="#b4f836"/><rect x="736.2" fill="#b4f836"/><rect x="748.2" fill="#b1f936"/><rect x="760.2" fill="#affa37"/><rect x="772.2" fill="#c1f334"/><rect x="784.2" fill="#d7e535"/><rect x="796.2" fill="#e3db38"/><rect x="808.2" fill="#ecd13a"/><rect x="820.2" fill="#f5c53a"/><rect x="832.2" fill="#fbb838"/><rect x="844.2" fill="#fea732"/><rect x="856.2" fill="#fe992c"/><rect x="868.2" fill="#fd8a26"/><rect x="880.2" fill="#fa7b1f"/><rect x="892.2" fill="#f76f1a"/><rect x="904.2" fill="#f66c19"/><rect x="916.2" fill="#f66c19"/><rect x="928.2" fill="#f66c19"/></g>
<g transform="translate(0 221.8)"><rect x="64.2" fill="#a4fc3c"/><rect x="76.2" fill="#a4fc3c"/><rect x="88.2" fill="#a4fc3c"/><rect x="100.2" fill="#a1fd3d"/><rect x="112.2" fill="#9ffd3f"/><rect x="124.2" fill="#92ff47"/><rect x="136.2" fill="#8fff49"/><rect x="148.2" fill="#8fff49"/><rect x="160.2" fill="#8fff49"/><rect x="172.2" fill="#96fe44"/><rect x="184.2" fill="#a4fc3c"/><rect x="196.2" fill="#a9fb39"/><rect x="208.2" fill="#a7fc3a"/><rect x="220.2" fill="#a1fd3d"/><rect x="232.2" fill="#99fe42"/><rect x="244.2" fill="#8fff49"/><rect x="256.2" fill="#99fe42"/><rect x="268.2" fill="#affa37"/><rect x="280.2" fill="#bef434"/><rect x="292.2" fill="#c1f334"/><rect x="304.2" fill="#c3f134"/><rect x="316.2" fill="#c6f034"/><rect x="328.2" fill="#c6f034"/><rect x="340.2" fill="#c8ef34"/><rect x="352.2" fill="#c8ef34"/><rect x="364.2" fill="#cbed34"/><rect x="376.2" fill="#cbed34"/><rect x="388.2" fill="#cdec34"/><rect x="400.2" fill="#cdec34"/><rect x="412.2" fill="#cdec34"/><rect x="424.2" fill="#cdec34"/><rect x="436.2" fill="#cbed34"/><rect x="448.2" fill="#cbed34"/><rect x="460.2" fill="#cbed34"/><rect x="472.2" fill="#c8ef34"/><rect x="484.2" fill="#c8ef34"/><rect x="496.2" fill="#c8ef34"/><rect x="508.2" fill="#c8ef34"/><rect x="520.2" fill="#c8ef34"/><rect x="532.2" fill="#c8ef34"/><rect x="544.2" fill="#c6f034"/><rect x="556.2" fill="#c3f134"/><rect x="568.2" fill="#c1f334"/><rect x="580.2" fill="#bef434"/><rect x="592.2" fill="#bcf534"/><rect x="604.2" fill="#bcf534"/><rect x="616.2" fill="#bef434"/><rect x="628.2" fill="#bef434"/><rect x="640.2" fill="#bef434"/><rect x="652.2" fill="#bcf534"/><rect x="664.2" fill="#bcf534"/><rect x="676.2" fill="#bcf534"/><rect x="688.2" fill="#b9f635"/><rect x="700.2" fill="#affa37"/><rect x="712.2" fill="#a1fd3d"/><rect x="724.2" fill="#92ff47"/><rect x="736.2" fill="#96fe44"/><rect x="748.2" fill="#99fe42"/><rect x="760.2" fill="#99fe42"/><rect x="772.2" fill="#b4f836"/><rect x="784.2" fill="#d2e935"/><rect x="796.2" fill="#e3db38"/><rect x="808.2" fill="#eecf3a"/><rect x="820.2" fill="#f6c33a"/><rect x="832.2" fill="#fcb336"/><rect x="844.2" fill="#fea130"/><rect x="856.2" fill="#fe962b"/><rect x="868.2" fill="#fc8725"/><rect x="880.2" fill="#f9781e"/><rect x="892.2" fill="#f56918"/><rect x="904.2" fill="#f26014"/><rect x="916.2" fill="#f26014"/><rect x="928.2" fill="#f26014"/></g>
<g transform="translate(0 233.8)"><rect x="64.2" fill="#a4fc3c"/><rect x="76.2" fill="#a4fc3c"/><rect x="88.2" fill="#a4fc3c"/><rect x="100.2" fill="#a1fd3d"/><rect x="112.2" fill="#9ffd3f"/><rect x="124.2" fill="#92ff47"/><rect x="136.2" fill="#8fff49"/><rect x="148.2" fill="#8fff49"/><rect x="160.2" fill="#8fff49"/><rect x="172.2" fill="#92ff47"/><rect x="184.2" fill="#99fe42"/><rect x="196.2" fill="#a1fd3d"/><rect x="208.2" fill="#9ffd3f"/><rect x="220.2" fill="#96fe44"/><rect x="232.2" fill="#8bff4b"/><rect x="244.2" fill="#7dff56"/><rect x="256.2" fill="#79fe59"/><rect x="268.2" fill="#9cfe40"/><rect x="280.2" fill="#b9f635"/><rect x="292.2" fill="#c6f034"/><rect x="304.2" fill="#cbed34"/><rect x="316.2" fill="#cbed34"/><rect x="328.2" fill="#cdec34"/><rect x="340.2" fill="#d0ea34"/><rect x="352.2" fill="#d0ea34"/><rect x="364.2" fill="#d2e935"/><rect x="376.2" fill="#d2e935"/><rect x="388.2" fill="#d4e735"/><rect x="400.2" fill="#d4e735"/><rect x="412.2" fill="#d4e735"/><rect x="424.2" fill="#d2e935"/><rect x="436.2" fill="#d2e935"/><rect x="448.2" fill="#d2e935"/><rect x="460.2" fill="#d0ea34"/><rect x="472.2" fill="#d0ea34"/><rect x="484.2" fill="#d0ea34"/><rect x="496.2" fill="#d0ea34"/><rect x="508.2" fill="#d0ea34"/><rect x="520.2" fill="#d0ea34"/><rect x="532.2" fill="#d0ea34"/><rect x="544.2" fill="#d0ea34"/><rect x="556.2" fill="#cbed34"/><rect x="568.2" fill="#c8ef34"/><rect x="580.2" fill="#c6f034"/><rect x="592.2" fill="#c3f134"/><rect x="604.2" fill="#c6f034"/><rect x="616.2" fill="#c6f034"/><rect x="628.2" fill="#c8ef34"/><rect x="640.2" fill="#cbed34"/><rect x="652.2" fill="#c6f034"/><rect x="664.2" fill="#bef434"/><rect x="676.2" fill="#bcf534"/><rect x="688.2" fill="#b9f635"/><rect x="700.2" fill="#affa37"/><rect x="712.2" fill="#a4fc3c"/><rect x="724.2" fill="#96fe44"/><rect x="736.2" fill="#8bff4b"/><rect x="748.2" fill="#92ff47"/><rect x="760.2" fill="#9ffd3f"/><rect x="772.2" fill="#b1f936"/><rect x="784.2" fill="#c6f034"/><rect x="796.2" fill="#dfdf37"/><rect x="808.2" fill="#ecd13a"/><rect x="820.2" fill="#f7c13a"/><rect x="832.2" fill="#fcb136"/><rect x="844.2" fill="#fe9e2f"/><rect x="856.2" fill="#fe9029"/><rect x="868.2" fill="#fc8423"/><rect x="880.2" fill="#f9751d"/><rect x="892.2" fill="#f36315"/><rect x="904.2" fill="#f15d13"/><rect x="916.2" fill="#f05b12"/><rect x="928.2" fill="#f05b12"/></g>
<g transform="translate(0 245.8)"><rect x="64.2" fill="#a4fc3c"/><rect x="76.2" fill="#a4fc3c"/><rect x="88.2" fill="#a4fc3c"/><rect x="100.2" fill="#a1fd3d"/><rect x="112.2" fill="#a1fd3d"/><rect x="124.2" fill="#99fe42"/><rect x="136.2" fill="#8fff49"/><rect x="148.2" fill="#8fff49"/><rect x="160.2" fill="#92ff47"/><rect x="172.2" fill="#9ffd3f"/><rect x="184.2" fill="#9ffd3f"/><rect x="196.2" fill="#9cfe40"/><rect x="208.2" fill="#92ff47"/><rect x="220.2" fill="#88ff4e"/><rect x="232.2" fill="#79fe59"/><rect x="244.2" fill="#69fd66"/><rect x="256.2" fill="#5dfc6f"/><rect x="268.2" fill="#7dff56"/><rect x="280.2" fill="#a4fc3c"/><rect x="292.2" fill="#c1f334"/><rect x="304.2" fill="#cdec34"/><rect x="316.2" fill="#d2e935"/><rect x="328.2" fill="#d4e735"/><rect x="340.2" fill="#d4e735"/><rect x="352.2" fill="#d7e535"/><rect x="364.2" fill="#d7e535"/><rect x="376.2" fill="#d9e436"/><rect x="388.2" fill="#d9e436"/><rect x="400.2" fill="#dbe236"/><rect x="412.2" fill="#d9e436"/><rect x="424.2" fill="#d9e436"/><rect x="436.2" fill="#d9e436"/><rect x="448.2" fill="#d7e535"/><rect x="460.2" fill="#d7e535"/><rect x="472.2" fill="#d7e535"/><rect x="484.2" fill="#d7e535"/><rect x="496.2" fill="#d7e535"/><rect x="508.2" fill="#d9e436"/><rect x="520.2" fill="#d9e436"/><rect x="532.2" fill="#d9e436"/><rect x="544.2" fill="#d7e535"/><rect x="556.2" fill="#d4e735"/><rect x="568.2" fill="#d2e935"/><rect x="580.2" fill="#d0ea34"/><rect x="592.2" fill="#d0ea34"/><rect x="604.2" fill="#d0ea34"/><rect x="616.2" fill="#d2e935"/><rect x="628.2" fill="#d4e735"/><rect x="640.2" fill="#d4e735"/><rect x="652.2" fill="#d0ea34"/><rect x="664.2" fill="#c6f034"/><rect x="676.2" fill="#bef434"/><rect x="688.2" fill="#b9f635"/><rect x="700.2" fill="#b1f936"/><rect x="712.2" fill="#a7fc3a"/><rect x="724.2" fill="#a1fd3d"/><rect x="736.2" fill="#a1fd3d"/><rect x="748.2" fill="#acfb38"/><rect x="760.2" fill="#b9f635"/><rect x="772.2" fill="#c8ef34"/><rect x="784.2" fill="#d7e535"/><rect x="796.2" fill="#e5d938"/><rect x="808.2" fill="#efcd3a"/><rect x="820.2" fill="#f7c13a"/><rect x="832.2" fill="#fdae35"/><rect x="844.2" fill="#fe9b2d"/><rect x="856.2" fill="#fd8d27"/><rect x="868.2" fill="#fb7e21"/><rect x="880.2" fill="#f76f1a"/><rect x="892.2" fill="#f26014"/><rect x="904.2" fill="#f15d13"/><rect x="916.2" fill="#f05b12"/><rect x="928.2" fill="#f05b12"/></g>
<g transform="translate(0 257.8)"><rect x="64.2" fill="#a4fc3c"/><rect x="76.2" fill="#a4fc3c"/><rect x="88.2" fill="#a1fd3d"/><rect x="100.2" fill="#a1fd3d"/><rect x="112.2" fill="#a1fd3d"/><rect x="124.2" fill="#99fe42"/><rect x="136.2" fill="#92ff47"/><rect x="148.2" fill="#92ff47"/><rect x="160.2" fill="#9cfe40"/><rect x="172.2" fill="#9ffd3f"/><rect x="184.2" fill="#99fe42"/><rect x="196.2" fill="#8fff49"/><rect x="208.2" fill="#84ff51"/><rect x="220.2" fill="#75fe5c"/><rect x="232.2" fill="#69fd66"/><rect x="244.2" fill="#55fa76"/><rect x="256.2" fill="#4af880"/><rect x="268.2" fill="#5dfc6f"/><rect x="280.2" fill="#88ff4e"/><rect x="292.2" fill="#affa37"/><rect x="304.2" fill="#c8ef34"/><rect x="316.2" fill="#d7e535"/><rect x="328.2" fill="#d9e436"/><rect x="340.2" fill="#dbe236"/><rect x="352.2" fill="#dde037"/><rect x="364.2" fill="#dde037"/><rect x="376.2" fill="#dfdf37"/><rect x="388.2" fill="#dfdf37"/><rect x="400.2" fill="#dfdf37"/><rect x="412.2" fill="#dfdf37"/><rect x="424.2" fill="#dfdf37"/><rect x="436.2" fill="#dfdf37"/><rect x="448.2" fill="#dde037"/><rect x="460.2" fill="#dde037"/><rect x="472.2" fill="#dde037"/><rect x="484.2" fill="#dde037"/><rect x="496.2" fill="#dfdf37"/><rect x="508.2" fill="#e1dd37"/><rect x="520.2" fill="#e3db38"/><rect x="532.2" fill="#e1dd37"/><rect x="544.2" fill="#dfdf37"/><rect x="556.2" fill="#dde037"/><rect x="568.2" fill="#dbe236"/><rect x="580.2" fill="#d9e436"/><rect x="592.2" fill="#d9e436"/><rect x="604.2" fill="#dbe236"/><rect x="616.2" fill="#dbe236"/><rect x="628.2" fill="#dde037"/><rect x="640.2" fill="#dde037"/><rect x="652.2" fill="#d9e436"/><rect x="664.2" fill="#d0ea34"/><rect x="676.2" fill="#c8ef34"/><rect x="688.2" fill="#bef434"/><rect x="700.2" fill="#b7f735"/><rect x="712.2" fill="#acfb38"/><rect x="724.2" fill="#a9fb39"/><rect x="736.2" fill="#affa37"/><rect x="748.2" fill="#b9f635"/><rect x="760.2" fill="#c8ef34"/><rect x="772.2" fill="#d7e535"/><rect x="784.2" fill="#e5d938"/><rect x="796.2" fill="#efcd3a"/><rect x="808.2" fill="#f6c33a"/><rect x="820.2" fill="#faba39"/><rect x="832.2" fill="#fea933"/><rect x="844.2" fill="#fe962b"/><rect x="856.2" fill="#fc8725"/><rect x="868.2" fill="#f9781e"/><rect x="880.2" fill="#f56918"/><rect x="892.2" fill="#f15d13"/><rect x="904.2" fill="#f05b12"/><rect x="916.2" fill="#f05b12"/><rect x="928.2" fill="#f05b12"/></g>
<g transform="translate(0 269.8)"><rect x="64.2" fill="#a4fc3c"/><rect x="76.2" fill="#a1fd3d"/><rect x="88.2" fill="#a1fd3d"/><rect x="100.2" fill="#a1fd3d"/><rect x="112.2" fill="#a1fd3d"/><rect x="124.2" fill="#9cfe40"/><rect x="136.2" fill="#9ffd3f"/><rect x="148.2" fill="#9cfe40"/><rect x="160.2" fill="#9cfe40"/><rect x="172.2" fill="#96fe44"/><rect x="184.2" fill="#8bff4b"/><rect x="196.2" fill="#80ff53"/><rect x="208.2" fill="#71fe5f"/><rect x="220.2" fill="#65fd69"/><rect x="232.2" fill="#55fa76"/><rect x="244.2" fill="#43f787"/><rect x="256.2" fill="#35f394"/><rect x="268.2" fill="#3cf58e"/><rect x="280.2" fill="#65fd69"/><rect x="292.2" fill="#92ff47"/><rect x="304.2" fill="#b7f735"/><rect x="316.2" fill="#d2e935"/><rect x="328.2" fill="#dde037"/><rect x="340.2" fill="#e1dd37"/><rect x="352.2" fill="#e1dd37"/><rect x="364.2" fill="#e3db38"/><rect x="376.2" fill="#e5d938"/><rect x="388.2" fill="#e5d938"/><rect x="400.2" fill="#e5d938"/><rect x="412.2" fill="#e5d938"/><rect x="424.2" fill="#e5d938"/><rect x="436.2" fill="#e3db38"/><rect x="448.2" fill="#e3db38"/><rect x="460.2" fill="#e3db38"/><rect x="472.2" fill="#e3db38"/><rect x="484.2" fill="#e5d938"/><rect x="496.2" fill="#e7d739"/><rect x="508.2" fill="#e9d539"/><rect x="520.2" fill="#ebd339"/><rect x="532.2" fill="#e9d539"/><rect x="544.2" fill="#e7d739"/><rect x="556.2" fill="#e5d938"/><rect x="568.2" fill="#e3db38"/><rect x="580.2" fill="#e3db38"/><rect x="592.2" fill="#e3db38"/><rect x="604.2" fill="#e5d938"/><rect x="616.2" fill="#e5d938"/><rect x="628.2" fill="#e7d739"/><rect x="640.2" fill="#e7d739"/><rect x="652.2" fill="#e3db38"/><rect x="664.2" fill="#dbe236"/><rect x="676.2" fill="#d2e935"/><rect x="688.2" fill="#cbed34"/><rect x="700.2" fill="#c3f134"/><rect x="712.2" fill="#bcf534"/><rect x="724.2" fill="#b7f735"/><rect x="736.2" fill="#bcf534"/><rect x="748.2" fill="#c8ef34"/><rect x="760.2" fill="#d7e535"/><rect x="772.2" fill="#e5d938"/><rect x="784.2" fill="#efcd3a"/><rect x="796.2" fill="#f8be39"/><rect x="808.2" fill="#fbb637"/><rect x="820.2" fill="#fcb136"/><rect x="832.2" fill="#fea431"/><rect x="844.2" fill="#fe932a"/><rect x="856.2" fill="#fb8122"/><rect x="868.2" fill="#f8721c"/><rect x="880.2" fill="#f46617"/><rect x="892.2" fill="#f05b12"/><rect x="904.2" fill="#ed5510"/><rect x="916.2" fill="#ed5510"/><rect x="928.2" fill="#ed5510"/></g>
<g transform="translate(0 281.8)"><rect x="64.2" fill="#a4fc3c"/><rect x="76.2" fill="#a1fd3d"/><rect x="88.2" fill="#a1fd3d"/><rect x="100.2" fill="#a1fd3d"/><rect x="112.2" fill="#9cfe40"/><rect x="124.2" fill="#9cfe40"/><rect x="136.2" fill="#9cfe40"/><rect x="148.2" fill="#99fe42"/><rect x="160.2" fill="#92ff47"/><rect x="172.2" fill="#88ff4e"/><rect x="184.2" fill="#7dff56"/><rect x="196.2" fill="#6dfe62"/><rect x="208.2" fill="#61fc6c"/><rect x="220.2" fill="#52fa7a"/><rect x="232.2" fill="#46f884"/><rect x="244.2" fill="#35f394"/><rect x="256.2" fill="#27eea4"/><rect x="268.2" fill="#25eca7"/><rect x="280.2" fill="#3ff68a"/><rect x="292.2" fill="#71fe5f"/><rect x="304.2" fill="#9ffd3f"/><rect x="316.2" fill="#bef434"/><rect x="328.2" fill="#d9e436"/><rect x="340.2" fill="#e3db38"/><rect x="352.2" fill="#e7d739"/><rect x="364.2" fill="#e9d539"/><rect x="376.2" fill="#e9d539"/><rect x="388.2" fill="#ebd339"/><rect x="400.2" fill="#ebd339"/><rect x="412.2" fill="#ebd339"/><rect x="424.2" fill="#e9d539"/><rect x="436.2" fill="#e9d539"/><rect x="448.2" fill="#e9d539"/><rect x="460.2" fill="#e9d539"/><rect x="472.2" fill="#ebd339"/><rect x="484.2" fill="#ecd13a"/><rect x="496.2" fill="#eecf3a"/><rect x="508.2" fill="#efcd3a"/><rect x="520.2" fill="#f1cb3a"/><rect x="532.2" fill="#efcd3a"/><rect x="544.2" fill="#ecd13a"/><rect x="556.2" fill="#ecd13a"/><rect x="568.2" fill="#ebd339"/><rect x="580.2" fill="#ecd13a"/><rect x="592.2" fill="#ecd13a"/><rect x="604.2" fill="#ecd13a"/><rect x="616.2" fill="#eecf3a"/><rect x="628.2" fill="#eecf3a"/><rect x="640.2" fill="#eecf3a"/><rect x="652.2" fill="#ebd339"/><rect x="664.2" fill="#e5d938"/><rect x="676.2" fill="#dfdf37"/><rect x="688.2" fill="#d9e436"/><rect x="700.2" fill="#d4e735"/><rect x="712.2" fill="#d0ea34"/><rect x="724.2" fill="#cbed34"/><rect x="736.2" fill="#cdec34"/><rect x="748.2" fill="#d9e436"/><rect x="760.2" fill="#e7d739"/><rect x="772.2" fill="#f1cb3a"/><rect x="784.2" fill="#f8be39"/><rect x="796.2" fill="#fcb136"/><rect x="808.2" fill="#fea933"/><rect x="820.2" fill="#fea130"/><rect x="832.2" fill="#fe992c"/><rect x="844.2" fill="#fd8d27"/><rect x="856.2" fill="#fb7e21"/><rect x="868.2" fill="#f76f1a"/><rect x="880.2" fill="#f36315"/><rect x="892.2" fill="#ef5811"/><rect x="904.2" fill="#ec530f"/><rect x="916.2" fill="#ec530f"/><rect x="928.2" fill="#ec530f"/></g>
<g transform="translate(0 293.8)"><rect x="64.2" fill="#a1fd3d"/><rect x="76.2" fill="#a1fd3d"/><rect x="88.2" fill="#a1fd3d"/><rect x="100.2" fill="#a1fd3d"/><rect x="112.2" fill="#9cfe40"/><rect x="124.2" fill="#99fe42"/><rect x="136.2" fill="#96fe44"/><rect x="148.2" fill="#8fff49"/><rect x="160.2" fill="#88ff4e"/><rect x="172.2" fill="#79fe59"/><rect x="184.2" fill="#6dfe62"/><rect x="196.2" fill="#5dfc6f"/><rect x="208.2" fill="#4ef97d"/><rect x="220.2" fill="#43f787"/><rect x="232.2" fill="#35f394"/><rect x="244.2" fill="#27eea4"/><rect x="256.2" fill="#1de7b2"/><rect x="268.2" fill="#19e3b9"/><rect x="280.2" fill="#25eca7"/><rect x="292.2" fill="#4af880"/><rect x="304.2" fill="#7dff56"/><rect x="316.2" fill="#a7fc3a"/><rect x="328.2" fill="#c8ef34"/><rect x="340.2" fill="#dfdf37"/><rect x="352.2" fill="#ebd339"/><rect x="364.2" fill="#ecd13a"/><rect x="376.2" fill="#eecf3a"/><rect x="388.2" fill="#efcd3a"/><rect x="400.2" fill="#efcd3a"/><rect x="412.2" fill="#eecf3a"/><rect x="424.2" fill="#eecf3a"/><rect x="436.2" fill="#eecf3a"/><rect x="448.2" fill="#eecf3a"/><rect x="460.2" fill="#efcd3a"/><rect x="472.2" fill="#f1cb3a"/><rect x="484.2" fill="#f2c93a"/><rect x="496.2" fill="#f5c53a"/><rect x="508.2" fill="#f6c33a"/><rect x="520.2" fill="#f5c53a"/><rect x="532.2" fill="#f4c73a"/><rect x="544.2" fill="#f2c93a"/><rect x="556.2" fill="#f2c93a"/><rect x="568.2" fill="#f2c93a"/><rect x="580.2" fill="#f4c73a"/><rect x="592.2" fill="#f4c73a"/><rect x="604.2" fill="#f4c73a"/><rect x="616.2" fill="#f5c53a"/><rect x="628.2" fill="#f5c53a"/><rect x="640.2" fill="#f5c53a"/><rect x="652.2" fill="#f4c73a"/><rect x="664.2" fill="#f1cb3a"/><rect x="676.2" fill="#efcd3a"/><rect x="688.2" fill="#ecd13a"/><rect x="700.2" fill="#e9d539"/><rect x="712.2" fill="#e5d938"/><rect x="724.2" fill="#e3db38"/><rect x="736.2" fill="#e1dd37"/><rect x="748.2" fill="#e9d539"/><rect x="760.2" fill="#f2c93a"/><rect x="772.2" fill="#f9bc39"/><rect x="784.2" fill="#fdae35"/><rect x="796.2" fill="#fea130"/><rect x="808.2" fill="#fe992c"/><rect x="820.2" fill="#fe932a"/><rect x="832.2" fill="#fd8a26"/><rect x="844.2" fill="#fc8423"/><rect x="856.2" fill="#fa7b1f"/><rect x="868.2" fill="#f76f1a"/><rect x="880.2" fill="#f26014"/><rect x="892.2" fill="#ed5510"/><rect x="904.2" fill="#ec530f"/><rect x="916.2" fill="#ec530f"/><rect x="928.2" fill="#ec530f"/></g>
<g transform="translate(0 305.8)"><rect x="64.2" fill="#a1fd3d"/><rect x="76.2" fill="#a1fd3d"/><rect x="88.2" fill="#a1fd3d"/><rect x="100.2" fill="#9cfe40"/><rect x="112.2" fill="#99fe42"/><rect x="124.2" fill="#96fe44"/><rect x="136.2" fill="#8fff49"/><rect x="148.2" fill="#88ff4e"/><rect x="160.2" fill="#79fe59"/><rect x="172.2" fill="#69fd66"/><rect x="184.2" fill="#59fb73"/><rect x="196.2" fill="#4af880"/><rect x="208.2" fill="#3ff68a"/><rect x="220.2" fill="#32f298"/><rect x="232.2" fill="#27eea4"/><rect x="244.2" fill="#1fe9af"/><rect x="256.2" fill="#18e0bd"/><rect x="268.2" fill="#18dbc5"/><rect x="280.2" fill="#18e0bd"/><rect x="292.2" fill="#2cf09e"/><rect x="304.2" fill="#59fb73"/><rect x="316.2" fill="#88ff4e"/><rect x="328.2" fill="#affa37"/><rect x="340.2" fill="#d0ea34"/><rect x="352.2" fill="#e5d938"/><rect x="364.2" fill="#efcd3a"/><rect x="376.2" fill="#f2c93a"/><rect x="388.2" fill="#f2c93a"/><rect x="400.2" fill="#f2c93a"/><rect x="412.2" fill="#f2c93a"/><rect x="424.2" fill="#f2c93a"/><rect x="436.2" fill="#f2c93a"/><rect x="448.2" fill="#f4c73a"/><rect x="460.2" fill="#f5c53a"/><rect x="472.2" fill="#f7c13a"/><rect x="484.2" fill="#f8be39"/><rect x="496.2" fill="#f9bc39"/><rect x="508.2" fill="#faba39"/><rect x="520.2" fill="#f9bc39"/><rect x="532.2" fill="#f8be39"/><rect x="544.2" fill="#f8be39"/><rect x="556.2" fill="#f8be39"/><rect x="568.2" fill="#f8be39"/><rect x="580.2" fill="#f8be39"/><rect x="592.2" fill="#f9bc39"/><rect x="604.2" fill="#f9bc39"/><rect x="616.2" fill="#f9bc39"/><rect x="628.2" fill="#f9bc39"/><rect x="640.2" fill="#f9bc39"/><rect x="652.2" fill="#f9bc39"/><rect x="664.2" fill="#faba39"/><rect x="676.2" fill="#faba39"/><rect x="688.2" fill="#f9bc39"/><rect x="700.2" fill="#f7c13a"/><rect x="712.2" fill="#f6c33a"/><rect x="724.2" fill="#f4c73a"/><rect x="736.2" fill="#f2c93a"/><rect x="748.2" fill="#f6c33a"/><rect x="760.2" fill="#fbb838"/><rect x="772.2" fill="#fdac34"/><rect x="784.2" fill="#fe9b2d"/><rect x="796.2" fill="#fe9029"/><rect x="808.2" fill="#fc8725"/><rect x="820.2" fill="#fb8122"/><rect x="832.2" fill="#fa7b1f"/><rect x="844.2" fill="#fa7b1f"/><rect x="856.2" fill="#f9781e"/><rect x="868.2" fill="#f76f1a"/><rect x="880.2" fill="#f36315"/><rect x="892.2" fill="#ed5510"/><rect x="904.2" fill="#ed5510"/><rect x="916.2" fill="#ec530f"/><rect x="928.2" fill="#ec530f"/></g>
<g transform="translate(0 317.8)"><rect x="64.2" fill="#9cfe40"/><rect x="76.2" fill="#9cfe40"/><rect x="88.2" fill="#9cfe40"/><rect x="100.2" fill="#99fe42"/><rect x="112.2" fill="#99fe42"/><rect x="124.2" fill="#92ff47"/><rect x="136.2" fill="#88ff4e"/><rect x="148.2" fill="#7dff56"/><rect x="160.2" fill="#69fd66"/><rect x="172.2" fill="#55fa76"/><rect x="184.2" fill="#46f884"/><rect x="196.2" fill="#3cf58e"/><rect x="208.2" fill="#2ff19b"/><rect x="220.2" fill="#27eea4"/><rect x="232.2" fill="#1fe9af"/><rect x="244.2" fill="#19e2bb"/><rect x="256.2" fill="#18d9c8"/><rect x="268.2" fill="#1bd0d5"/><rect x="280.2" fill="#1ad2d2"/><rect x="292.2" fill="#19e3b9"/><rect x="304.2" fill="#35f394"/><rect x="316.2" fill="#65fd69"/><rect x="328.2" fill="#96fe44"/><rect x="340.2" fill="#b9f635"/><rect x="352.2" fill="#d7e535"/><rect x="364.2" fill="#ecd13a"/><rect x="376.2" fill="#f4c73a"/><rect x="388.2" fill="#f6c33a"/><rect x="400.2" fill="#f6c33a"/><rect x="412.2" fill="#f6c33a"/><rect x="424.2" fill="#f6c33a"/><rect x="436.2" fill="#f7c13a"/><rect x="448.2" fill="#f8be39"/><rect x="460.2" fill="#faba39"/><rect x="472.2" fill="#fbb838"/><rect x="484.2" fill="#fbb637"/><rect x="496.2" fill="#fcb336"/><rect x="508.2" fill="#fcb136"/><rect x="520.2" fill="#fcb336"/><rect x="532.2" fill="#fbb637"/><rect x="544.2" fill="#fbb637"/><rect x="556.2" fill="#fbb637"/><rect x="568.2" fill="#fcb336"/><rect x="580.2" fill="#fcb336"/><rect x="592.2" fill="#fcb336"/><rect x="604.2" fill="#fcb336"/><rect x="616.2" fill="#fcb336"/><rect x="628.2" fill="#fbb637"/><rect x="640.2" fill="#fbb637"/><rect x="652.2" fill="#fbb637"/><rect x="664.2" fill="#fcb336"/><rect x="676.2" fill="#fdae35"/><rect x="688.2" fill="#fdac34"/><rect x="700.2" fill="#fdac34"/><rect x="712.2" fill="#fdae35"/><rect x="724.2" fill="#fcb136"/><rect x="736.2" fill="#fcb336"/><rect x="748.2" fill="#fdac34"/><rect x="760.2" fill="#fea130"/><rect x="772.2" fill="#fe962b"/><rect x="784.2" fill="#fc8725"/><rect x="796.2" fill="#fb7e21"/><rect x="808.2" fill="#f9781e"/><rect x="820.2" fill="#f9751d"/><rect x="832.2" fill="#f8721c"/><rect x="844.2" fill="#f8721c"/><rect x="856.2" fill="#f8721c"/><rect x="868.2" fill="#f66c19"/><rect x="880.2" fill="#f36315"/><rect x="892.2" fill="#ed5510"/><rect x="904.2" fill="#ef5811"/><rect x="916.2" fill="#ec530f"/><rect x="928.2" fill="#eb500e"/></g>
<g transform="translate(0 329.8)"><rect x="64.2" fill="#9cfe40"/><rect x="76.2" fill="#9cfe40"/><rect x="88.2" fill="#9cfe40"/><rect x="100.2" fill="#9cfe40"/><rect x="112.2" fill="#99fe42"/><rect x="124.2" fill="#8fff49"/><rect x="136.2" fill="#84ff51"/><rect x="148.2" fill="#75fe5c"/><rect x="160.2" fill="#61fc6c"/><rect x="172.2" fill="#4af880"/><rect x="184.2" fill="#38f491"/><rect x="196.2" fill="#2cf09e"/><rect x="208.2" fill="#25eca7"/><rect x="220.2" fill="#1de7b2"/><rect x="232.2" fill="#19e2bb"/><rect x="244.2" fill="#18d9c8"/><rect x="256.2" fill="#1bd0d5"/><rect x="268.2" fill="#22c5e2"/><rect x="280.2" fill="#25c0e7"/><rect x="292.2" fill="#1ad4d0"/><rect x="304.2" fill="#1fe9af"/><rect x="316.2" fill="#3ff68a"/><rect x="328.2" fill="#71fe5f"/><rect x="340.2" fill="#9ffd3f"/><rect x="352.2" fill="#c1f334"/><rect x="364.2" fill="#dfdf37"/><rect x="376.2" fill="#f1cb3a"/><rect x="388.2" fill="#f8be39"/><rect x="400.2" fill="#f9bc39"/><rect x="412.2" fill="#f9bc39"/><rect x="424.2" fill="#faba39"/><rect x="436.2" fill="#fbb637"/><rect x="448.2" fill="#fcb336"/><rect x="460.2" fill="#fcb136"/><rect x="472.2" fill="#fdae35"/><rect x="484.2" fill="#fdac34"/><rect x="496.2" fill="#fea933"/><rect x="508.2" fill="#fea732"/><rect x="520.2" fill="#fea933"/><rect x="532.2" fill="#fea933"/><rect x="544.2" fill="#fea933"/><rect x="556.2" fill="#fea933"/><rect x="568.2" fill="#fea933"/><rect x="580.2" fill="#fea933"/><rect x="592.2" fill="#fea933"/><rect x="604.2" fill="#fea933"/><rect x="616.2" fill="#fdac34"/><rect x="628.2" fill="#fdae35"/><rect x="640.2" fill="#fcb136"/><rect x="652.2" fill="#fcb136"/><rect x="664.2" fill="#fdac34"/><rect x="676.2" fill="#fea732"/><rect x="688.2" fill="#fea130"/><rect x="700.2" fill="#fe9e2f"/><rect x="712.2" fill="#fe9b2d"/><rect x="724.2" fill="#fe992c"/><rect x="736.2" fill="#fe992c"/><rect x="748.2" fill="#fe962b"/><rect x="760.2" fill="#fd8a26"/><rect x="772.2" fill="#fb8122"/><rect x="784.2" fill="#fa7b1f"/><rect x="796.2" fill="#f9751d"/><rect x="808.2" fill="#f8721c"/><rect x="820.2" fill="#f76f1a"/><rect x="832.2" fill="#f66c19"/><rect x="844.2" fill="#f66c19"/><rect x="856.2" fill="#f66c19"/><rect x="868.2" fill="#f46617"/><rect x="880.2" fill="#f05b12"/><rect x="892.2" fill="#ea4e0d"/><rect x="904.2" fill="#e5470b"/><rect x="916.2" fill="#e4450a"/><rect x="928.2" fill="#e4450a"/></g>
<g transform="translate(0 341.8)"><rect x="64.2" fill="#a9fb39"/><rect x="76.2" fill="#a9fb39"/><rect x="88.2" fill="#a7fc3a"/><rect x="100.2" fill="#a4fc3c"/><rect x="112.2" fill="#9cfe40"/><rect x="124.2" fill="#8fff49"/><rect x="136.2" fill="#84ff51"/><rect x="148.2" fill="#75fe5c"/><rect x="160.2" fill="#61fc6c"/><rect x="172.2" fill="#4af880"/><rect x="184.2" fill="#32f298"/><rect x="196.2" fill="#25eca7"/><rect x="208.2" fill="#1de7b2"/><rect x="220.2" fill="#19e3b9"/><rect x="232.2" fill="#18d9c8"/><rect x="244.2" fill="#1bd0d5"/><rect x="256.2" fill="#22c5e2"/><rect x="268.2" fill="#2ab9ee"/><rect x="280.2" fill="#2fb2f4"/><rect x="292.2" fill="#25c0e7"/><rect x="304.2" fill="#18d9c8"/><rect x="316.2" fill="#25eca7"/><rect x="328.2" fill="#4ef97d"/><rect x="340.2" fill="#80ff53"/><rect x="352.2" fill="#a7fc3a"/><rect x="364.2" fill="#c8ef34"/><rect x="376.2" fill="#e5d938"/><rect x="388.2" fill="#f7c13a"/><rect x="400.2" fill="#fbb637"/><rect x="412.2" fill="#fcb336"/><rect x="424.2" fill="#fdae35"/><rect x="436.2" fill="#fdac34"/><rect x="448.2" fill="#fea933"/><rect x="460.2" fill="#fea732"/><rect x="472.2" fill="#fea431"/><rect x="484.2" fill="#fe9e2f"/><rect x="496.2" fill="#fe9b2d"/><rect x="508.2" fill="#fe9b2d"/><rect x="520.2" fill="#fe9e2f"/><rect x="532.2" fill="#fe9e2f"/><rect x="544.2" fill="#fe9b2d"/><rect x="556.2" fill="#fe9b2d"/><rect x="568.2" fill="#fe9e2f"/><rect x="580.2" fill="#fe9e2f"/><rect x="592.2" fill="#fea130"/><rect x="604.2" fill="#fea130"/><rect x="616.2" fill="#fea431"/><rect x="628.2" fill="#fea732"/><rect x="640.2" fill="#fea933"/><rect x="652.2" fill="#fea933"/><rect x="664.2" fill="#fea732"/><rect x="676.2" fill="#fea130"/><rect x="688.2" fill="#fe9b2d"/><rect x="700.2" fill="#fe962b"/><rect x="712.2" fill="#fe9029"/><rect x="724.2" fill="#fd8d27"/><rect x="736.2" fill="#fd8a26"/><rect x="748.2" fill="#fc8423"/><rect x="760.2" fill="#fb7e21"/><rect x="772.2" fill="#f9781e"/><rect x="784.2" fill="#f9751d"/><rect x="796.2" fill="#f8721c"/><rect x="808.2" fill="#f76f1a"/><rect x="820.2" fill="#f66c19"/><rect x="832.2" fill="#f56918"/><rect x="844.2" fill="#f56918"/><rect x="856.2" fill="#f46617"/><rect x="868.2" fill="#f26014"/><rect x="880.2" fill="#ed5510"/><rect x="892.2" fill="#e7490c"/><rect x="904.2" fill="#e4450a"/><rect x="916.2" fill="#e2430a"/><rect x="928.2" fill="#e2430a"/></g>
<g transform="translate(0 353.8)"><rect x="64.2" fill="#acfb38"/><rect x="76.2" fill="#acfb38"/><rect x="88.2" fill="#acfb38"/><rect x="100.2" fill="#a7fc3a"/><rect x="112.2" fill="#9ffd3f"/><rect x="124.2" fill="#92ff47"/><rect x="136.2" fill="#88ff4e"/><rect x="148.2" fill="#79fe59"/><rect x="160.2" fill="#65fd69"/><rect x="172.2" fill="#4af880"/><rect x="184.2" fill="#32f298"/><rect x="196.2" fill="#20eaac"/><rect x="208.2" fill="#19e3b9"/><rect x="220.2" fill="#18ddc2"/><rect x="232.2" fill="#1bd0d5"/><rect x="244.2" fill="#23c3e4"/><rect x="256.2" fill="#2ab9ee"/><rect x="268.2" fill="#33adf7"/><rect x="280.2" fill="#38a5fb"/><rect x="292.2" fill="#35abf8"/><rect x="304.2" fill="#20c7df"/><rect x="316.2" fill="#18dec0"/><rect x="328.2" fill="#2cf09e"/><rect x="340.2" fill="#59fb73"/><rect x="352.2" fill="#8bff4b"/><rect x="364.2" fill="#b4f836"/><rect x="376.2" fill="#dbe236"/><rect x="388.2" fill="#f7c13a"/><rect x="400.2" fill="#fcb136"/><rect x="412.2" fill="#fea933"/><rect x="424.2" fill="#fea732"/><rect x="436.2" fill="#fea130"/><rect x="448.2" fill="#fe9e2f"/><rect x="460.2" fill="#fe992c"/><rect x="472.2" fill="#fe962b"/><rect x="484.2" fill="#fe932a"/><rect x="496.2" fill="#fe9029"/><rect x="508.2" fill="#fe9029"/><rect x="520.2" fill="#fe9029"/><rect x="532.2" fill="#fe9029"/><rect x="544.2" fill="#fe932a"/><rect x="556.2" fill="#fe932a"/><rect x="568.2" fill="#fe962b"/><rect x="580.2" fill="#fe962b"/><rect x="592.2" fill="#fe992c"/><rect x="604.2" fill="#fe992c"/><rect x="616.2" fill="#fe9b2d"/><rect x="628.2" fill="#fe9e2f"/><rect x="640.2" fill="#fea130"/><rect x="652.2" fill="#fea130"/><rect x="664.2" fill="#fe9e2f"/><rect x="676.2" fill="#fe992c"/><rect x="688.2" fill="#fe932a"/><rect x="700.2" fill="#fe9029"/><rect x="712.2" fill="#fd8a26"/><rect x="724.2" fill="#fc8725"/><rect x="736.2" fill="#fc8423"/><rect x="748.2" fill="#fb7e21"/><rect x="760.2" fill="#f9781e"/><rect x="772.2" fill="#f9751d"/><rect x="784.2" fill="#f8721c"/><rect x="796.2" fill="#f76f1a"/><rect x="808.2" fill="#f66c19"/><rect x="820.2" fill="#f56918"/><rect x="832.2" fill="#f46617"/><rect x="844.2" fill="#f46617"/><rect x="856.2" fill="#f36315"/><rect x="868.2" fill="#f15d13"/><rect x="880.2" fill="#eb500e"/><rect x="892.2" fill="#e5470b"/><rect x="904.2" fill="#e2430a"/><rect x="916.2" fill="#e2430a"/><rect x="928.2" fill="#e2430a"/></g>
<g transform="translate(0 365.8)"><rect x="64.2" fill="#affa37"/><rect x="76.2" fill="#affa37"/><rect x="88.2" fill="#acfb38"/><rect x="100.2" fill="#acfb38"/><rect x="112.2" fill="#a4fc3c"/><rect x="124.2" fill="#99fe42"/><rect x="136.2" fill="#8bff4b"/><rect x="148.2" fill="#7dff56"/><rect x="160.2" fill="#65fd69"/><rect x="172.2" fill="#4af880"/><rect x="184.2" fill="#2ff19b"/><rect x="196.2" fill="#1fe9af"/><rect x="208.2" fill="#18e0bd"/><rect x="220.2" fill="#18d7ca"/><rect x="232.2" fill="#20c7df"/><rect x="244.2" fill="#31aff5"/><rect x="256.2" fill="#38a5fb"/><rect x="268.2" fill="#3d9efe"/><rect x="280.2" fill="#4196ff"/><rect x="292.2" fill="#4196ff"/><rect x="304.2" fill="#31aff5"/><rect x="316.2" fill="#1ccdd8"/><rect x="328.2" fill="#1ae4b6"/><rect x="340.2" fill="#38f491"/><rect x="352.2" fill="#71fe5f"/><rect x="364.2" fill="#b1f936"/><rect x="376.2" fill="#e3db38"/><rect x="388.2" fill="#fbb637"/><rect x="400.2" fill="#fea933"/><rect x="412.2" fill="#fea431"/><rect x="424.2" fill="#fe9e2f"/><rect x="436.2" fill="#fe992c"/><rect x="448.2" fill="#fe962b"/><rect x="460.2" fill="#fe9029"/><rect x="472.2" fill="#fd8a26"/><rect x="484.2" fill="#fc8725"/><rect x="496.2" fill="#fc8423"/><rect x="508.2" fill="#fc8423"/><rect x="520.2" fill="#fc8423"/><rect x="532.2" fill="#fc8725"/><rect x="544.2" fill="#fc8725"/><rect x="556.2" fill="#fd8a26"/><rect x="568.2" fill="#fd8d27"/><rect x="580.2" fill="#fd8d27"/><rect x="592.2" fill="#fe9029"/><rect x="604.2" fill="#fe9029"/><rect x="616.2" fill="#fe932a"/><rect x="628.2" fill="#fe962b"/><rect x="640.2" fill="#fe9b2d"/><rect x="652.2" fill="#fe9b2d"/><rect x="664.2" fill="#fe992c"/><rect x="676.2" fill="#fe932a"/><rect x="688.2" fill="#fd8d27"/><rect x="700.2" fill="#fd8a26"/><rect x="712.2" fill="#fc8725"/><rect x="724.2" fill="#fc8423"/><rect x="736.2" fill="#fb7e21"/><rect x="748.2" fill="#fa7b1f"/><rect x="760.2" fill="#f9751d"/><rect x="772.2" fill="#f8721c"/><rect x="784.2" fill="#f76f1a"/><rect x="796.2" fill="#f66c19"/><rect x="808.2" fill="#f56918"/><rect x="820.2" fill="#f46617"/><rect x="832.2" fill="#f46617"/><rect x="844.2" fill="#f36315"/><rect x="856.2" fill="#f26014"/><rect x="868.2" fill="#f05b12"/><rect x="880.2" fill="#ea4e0d"/><rect x="892.2" fill="#e4450a"/><rect x="904.2" fill="#e2430a"/><rect x="916.2" fill="#e2430a"/><rect x="928.2" fill="#e2430a"/></g>
<g transform="translate(0 377.8)"><rect x="64.2" fill="#b4f836"/><rect x="76.2" fill="#b4f836"/><rect x="88.2" fill="#b4f836"/><rect x="100.2" fill="#affa37"/><rect x="112.2" fill="#a7fc3a"/><rect x="124.2" fill="#9cfe40"/><rect x="136.2" fill="#8fff49"/><rect x="148.2" fill="#7dff56"/><rect x="160.2" fill="#65fd69"/><rect x="172.2" fill="#46f884"/><rect x="184.2" fill="#2cf09e"/><rect x="196.2" fill="#1de7b2"/><rect x="208.2" fill="#18ddc2"/><rect x="220.2" fill="#1ad2d2"/><rect x="232.2" fill="#28bceb"/><rect x="244.2" fill="#3d9efe"/><rect x="256.2" fill="#4391fe"/><rect x="268.2" fill="#458afc"/><rect x="280.2" fill="#4682f8"/><rect x="292.2" fill="#4682f8"/><rect x="304.2" fill="#4099ff"/><rect x="316.2" fill="#2cb7f0"/><rect x="328.2" fill="#18d7ca"/><rect x="340.2" fill="#2ff19b"/><rect x="352.2" fill="#7dff56"/><rect x="364.2" fill="#c3f134"/><rect x="376.2" fill="#f1cb3a"/><rect x="388.2" fill="#fdac34"/><rect x="400.2" fill="#fea130"/><rect x="412.2" fill="#fe9e2f"/><rect x="424.2" fill="#fe992c"/><rect x="436.2" fill="#fe932a"/><rect x="448.2" fill="#fd8d27"/><rect x="460.2" fill="#fc8725"/><rect x="472.2" fill="#fc8423"/><rect x="484.2" fill="#fb7e21"/><rect x="496.2" fill="#fa7b1f"/><rect x="508.2" fill="#fa7b1f"/><rect x="520.2" fill="#fa7b1f"/><rect x="532.2" fill="#fb7e21"/><rect x="544.2" fill="#fb8122"/><rect x="556.2" fill="#fb8122"/><rect x="568.2" fill="#fc8423"/><rect x="580.2" fill="#fc8423"/><rect x="592.2" fill="#fc8725"/><rect x="604.2" fill="#fd8a26"/><rect x="616.2" fill="#fd8d27"/><rect x="628.2" fill="#fe9029"/><rect x="640.2" fill="#fe932a"/><rect x="652.2" fill="#fe932a"/><rect x="664.2" fill="#fe9029"/><rect x="676.2" fill="#fd8a26"/><rect x="688.2" fill="#fc8725"/><rect x="700.2" fill="#fc8423"/><rect x="712.2" fill="#fc8423"/><rect x="724.2" fill="#fb8122"/><rect x="736.2" fill="#fa7b1f"/><rect x="748.2" fill="#f9781e"/><rect x="760.2" fill="#f9751d"/><rect x="772.2" fill="#f76f1a"/><rect x="784.2" fill="#f66c19"/><rect x="796.2" fill="#f56918"/><rect x="808.2" fill="#f46617"/><rect x="820.2" fill="#f36315"/><rect x="832.2" fill="#f36315"/><rect x="844.2" fill="#f26014"/><rect x="856.2" fill="#f26014"/><rect x="868.2" fill="#ef5811"/><rect x="880.2" fill="#ea4e0d"/><rect x="892.2" fill="#e2430a"/><rect x="904.2" fill="#e14109"/><rect x="916.2" fill="#e14109"/><rect x="928.2" fill="#e14109"/></g>
<g transform="translate(0 389.8)"><rect x="64.2" fill="#b4f836"/><rect x="76.2" fill="#b4f836"/><rect x="88.2" fill="#b4f836"/><rect x="100.2" fill="#b1f936"/><rect x="112.2" fill="#acfb38"/><rect x="124.2" fill="#a1fd3d"/><rect x="136.2" fill="#92ff47"/><rect x="148.2" fill="#84ff51"/><rect x="160.2" fill="#69fd66"/><rect x="172.2" fill="#4af880"/><rect x="184.2" fill="#2ff19b"/><rect x="196.2" fill="#1de7b2"/><rect x="208.2" fill="#18ddc2"/><rect x="220.2" fill="#1bd0d5"/><rect x="232.2" fill="#2cb7f0"/><rect x="244.2" fill="#3e9bfe"/><rect x="256.2" fill="#4685fa"/><rect x="268.2" fill="#477bf2"/><rect x="280.2" fill="#4773eb"/><rect x="292.2" fill="#4776ee"/><rect x="304.2" fill="#4687fb"/><rect x="316.2" fill="#35abf8"/><rect x="328.2" fill="#18d9c8"/><rect x="340.2" fill="#43f787"/><rect x="352.2" fill="#9cfe40"/><rect x="364.2" fill="#d9e436"/><rect x="376.2" fill="#faba39"/><rect x="388.2" fill="#fea130"/><rect x="400.2" fill="#fe9b2d"/><rect x="412.2" fill="#fe962b"/><rect x="424.2" fill="#fe932a"/><rect x="436.2" fill="#fd8d27"/><rect x="448.2" fill="#fc8725"/><rect x="460.2" fill="#fb8122"/><rect x="472.2" fill="#fb7e21"/><rect x="484.2" fill="#f9781e"/><rect x="496.2" fill="#f9751d"/><rect x="508.2" fill="#f9781e"/><rect x="520.2" fill="#f9781e"/><rect x="532.2" fill="#f9781e"/><rect x="544.2" fill="#f9781e"/><rect x="556.2" fill="#fa7b1f"/><rect x="568.2" fill="#fa7b1f"/><rect x="580.2" fill="#fa7b1f"/><rect x="592.2" fill="#fb7e21"/><rect x="604.2" fill="#fb8122"/><rect x="616.2" fill="#fc8423"/><rect x="628.2" fill="#fc8725"/><rect x="640.2" fill="#fd8a26"/><rect x="652.2" fill="#fd8d27"/><rect x="664.2" fill="#fd8a26"/><rect x="676.2" fill="#fc8725"/><rect x="688.2" fill="#fc8423"/><rect x="700.2" fill="#fc8423"/><rect x="712.2" fill="#fb8122"/><rect x="724.2" fill="#fb7e21"/><rect x="736.2" fill="#fa7b1f"/><rect x="748.2" fill="#f9751d"/><rect x="760.2" fill="#f8721c"/><rect x="772.2" fill="#f76f1a"/><rect x="784.2" fill="#f66c19"/><rect x="796.2" fill="#f56918"/><rect x="808.2" fill="#f46617"/><rect x="820.2" fill="#f36315"/><rect x="832.2" fill="#f26014"/><rect x="844.2" fill="#f26014"/><rect x="856.2" fill="#f15d13"/><rect x="868.2" fill="#ed5510"/><rect x="880.2" fill="#e84b0c"/><rect x="892.2" fill="#e14109"/><rect x="904.2" fill="#dd3d08"/><rect x="916.2" fill="#dd3d08"/><rect x="928.2" fill="#dd3d08"/></g>
<g transform="translate(0 401.8)"><rect x="64.2" fill="#b4f836"/><rect x="76.2" fill="#b4f836"/><rect x="88.2" fill="#b4f836"/><rect x="100.2" fill="#b1f936"/><rect x="112.2" fill="#affa37"/><rect x="124.2" fill="#a9fb39"/><rect x="136.2" fill="#9ffd3f"/><rect x="148.2" fill="#92ff47"/><rect x="160.2" fill="#7dff56"/><rect x="172.2" fill="#5dfc6f"/><rect x="184.2" fill="#3ff68a"/><rect x="196.2" fill="#27eea4"/><rect x="208.2" fill="#19e3b9"/><rect x="220.2" fill="#1ad4d0"/><rect x="232.2" fill="#27bee9"/><rect x="244.2" fill="#3aa3fc"/><rect x="256.2" fill="#448ffe"/><rect x="268.2" fill="#4682f8"/><rect x="280.2" fill="#477bf2"/><rect x="292.2" fill="#4680f6"/><rect x="304.2" fill="#4294ff"/><rect x="316.2" fill="#27bee9"/><rect x="328.2" fill="#1ce6b4"/><rect x="340.2" fill="#65fd69"/><rect x="352.2" fill="#b7f735"/><rect x="364.2" fill="#ebd339"/><rect x="376.2" fill="#fea732"/><rect x="388.2" fill="#fe992c"/><rect x="400.2" fill="#fe962b"/><rect x="412.2" fill="#fe9029"/><rect x="424.2" fill="#fd8d27"/><rect x="436.2" fill="#fc8725"/><rect x="448.2" fill="#fb8122"/><rect x="460.2" fill="#fa7b1f"/><rect x="472.2" fill="#f9781e"/><rect x="484.2" fill="#f8721c"/><rect x="496.2" fill="#f8721c"/><rect x="508.2" fill="#f9751d"/><rect x="520.2" fill="#f9751d"/><rect x="532.2" fill="#f9751d"/><rect x="544.2" fill="#f9751d"/><rect x="556.2" fill="#f9751d"/><rect x="568.2" fill="#f9781e"/><rect x="580.2" fill="#f9781e"/><rect x="592.2" fill="#fa7b1f"/><rect x="604.2" fill="#fa7b1f"/><rect x="616.2" fill="#fb7e21"/><rect x="628.2" fill="#fb8122"/><rect x="640.2" fill="#fc8423"/><rect x="652.2" fill="#fc8725"/><rect x="664.2" fill="#fc8423"/><rect x="676.2" fill="#fc8423"/><rect x="688.2" fill="#fc8423"/><rect x="700.2" fill="#fc8423"/><rect x="712.2" fill="#fb8122"/><rect x="724.2" fill="#fa7b1f"/><rect x="736.2" fill="#fa7b1f"/><rect x="748.2" fill="#f9781e"/><rect x="760.2" fill="#f9751d"/><rect x="772.2" fill="#f76f1a"/><rect x="784.2" fill="#f56918"/><rect x="796.2" fill="#f46617"/><rect x="808.2" fill="#f36315"/><rect x="820.2" fill="#f26014"/><rect x="832.2" fill="#f26014"/><rect x="844.2" fill="#f15d13"/><rect x="856.2" fill="#f05b12"/><rect x="868.2" fill="#ed5510"/><rect x="880.2" fill="#e7490c"/><rect x="892.2" fill="#e14109"/><rect x="904.2" fill="#dd3d08"/><rect x="916.2" fill="#dd3d08"/><rect x="928.2" fill="#dd3d08"/></g>
<g transform="translate(0 413.8)"><rect x="64.2" fill="#b9f635"/><rect x="76.2" fill="#b9f635"/><rect x="88.2" fill="#b7f735"/><rect x="100.2" fill="#b7f735"/><rect x="112.2" fill="#b4f836"/><rect x="124.2" fill="#b1f936"/><rect x="136.2" fill="#acfb38"/><rect x="148.2" fill="#a1fd3d"/><rect x="160.2" fill="#92ff47"/><rect x="172.2" fill="#79fe59"/><rect x="184.2" fill="#59fb73"/><rect x="196.2" fill="#35f394"/><rect x="208.2" fill="#20eaac"/><rect x="220.2" fill="#18dec0"/><rect x="232.2" fill="#1ecbda"/><rect x="244.2" fill="#2eb4f2"/><rect x="256.2" fill="#3aa3fc"/><rect x="268.2" fill="#4196ff"/><rect x="280.2" fill="#4294ff"/><rect x="292.2" fill="#3d9efe"/><rect x="304.2" fill="#25c0e7"/><rect x="316.2" fill="#19e3b9"/><rect x="328.2" fill="#38f491"/><rect x="340.2" fill="#8bff4b"/><rect x="352.2" fill="#cdec34"/><rect x="364.2" fill="#f7c13a"/><rect x="376.2" fill="#fe9b2d"/><rect x="388.2" fill="#fe932a"/><rect x="400.2" fill="#fd8d27"/><rect x="412.2" fill="#fd8a26"/><rect x="424.2" fill="#fc8423"/><rect x="436.2" fill="#fb8122"/><rect x="448.2" fill="#fa7b1f"/><rect x="460.2" fill="#f9751d"/><rect x="472.2" fill="#f76f1a"/><rect x="484.2" fill="#f66c19"/><rect x="496.2" fill="#f76f1a"/><rect x="508.2" fill="#f76f1a"/><rect x="520.2" fill="#f8721c"/><rect x="532.2" fill="#f8721c"/><rect x="544.2" fill="#f8721c"/><rect x="556.2" fill="#f8721c"/><rect x="568.2" fill="#f9751d"/><rect x="580.2" fill="#f9751d"/><rect x="592.2" fill="#f9781e"/><rect x="604.2" fill="#fa7b1f"/><rect x="616.2" fill="#fa7b1f"/><rect x="628.2" fill="#fb7e21"/><rect x="640.2" fill="#fb8122"/><rect x="652.2" fill="#fb8122"/><rect x="664.2" fill="#fc8423"/><rect x="676.2" fill="#fc8423"/><rect x="688.2" fill="#fc8423"/><rect x="700.2" fill="#fc8423"/><rect x="712.2" fill="#fb8122"/><rect x="724.2" fill="#fb8122"/><rect x="736.2" fill="#fb7e21"/><rect x="748.2" fill="#fb7e21"/><rect x="760.2" fill="#fa7b1f"/><rect x="772.2" fill="#f9751d"/><rect x="784.2" fill="#f66c19"/><rect x="796.2" fill="#f56918"/><rect x="808.2" fill="#f36315"/><rect x="820.2" fill="#f26014"/><rect x="832.2" fill="#f15d13"/><rect x="844.2" fill="#f15d13"/><rect x="856.2" fill="#f05b12"/><rect x="868.2" fill="#ec530f"/><rect x="880.2" fill="#e5470b"/><rect x="892.2" fill="#df3f08"/><rect x="904.2" fill="#dd3d08"/><rect x="916.2" fill="#dd3d08"/><rect x="928.2" fill="#dd3d08"/></g>
<g transform="translate(0 425.8)"><rect x="64.2" fill="#c3f134"/><rect x="76.2" fill="#c3f134"/><rect x="88.2" fill="#c3f134"/><rect x="100.2" fill="#bef434"/><rect x="112.2" fill="#b9f635"/><rect x="124.2" fill="#b7f735"/><rect x="136.2" fill="#b7f735"/><rect x="148.2" fill="#acfb38"/><rect x="160.2" fill="#a4fc3c"/><rect x="172.2" fill="#99fe42"/><rect x="184.2" fill="#79fe59"/><rect x="196.2" fill="#4ef97d"/><rect x="208.2" fill="#38f491"/><rect x="220.2" fill="#38f491"/><rect x="232.2" fill="#1fe9af"/><rect x="244.2" fill="#1ad2d2"/><rect x="256.2" fill="#23c3e4"/><rect x="268.2" fill="#27bee9"/><rect x="280.2" fill="#1ecbda"/><rect x="292.2" fill="#18dbc5"/><rect x="304.2" fill="#2aefa1"/><rect x="316.2" fill="#61fc6c"/><rect x="328.2" fill="#71fe5f"/><rect x="340.2" fill="#a9fb39"/><rect x="352.2" fill="#e3db38"/><rect x="364.2" fill="#fdae35"/><rect x="376.2" fill="#fe932a"/><rect x="388.2" fill="#fd8a26"/><rect x="400.2" fill="#fc8725"/><rect x="412.2" fill="#fc8423"/><rect x="424.2" fill="#fb7e21"/><rect x="436.2" fill="#fa7b1f"/><rect x="448.2" fill="#f9751d"/><rect x="460.2" fill="#f76f1a"/><rect x="472.2" fill="#f66c19"/><rect x="484.2" fill="#f56918"/><rect x="496.2" fill="#f56918"/><rect x="508.2" fill="#f66c19"/><rect x="520.2" fill="#f76f1a"/><rect x="532.2" fill="#f76f1a"/><rect x="544.2" fill="#f76f1a"/><rect x="556.2" fill="#f76f1a"/><rect x="568.2" fill="#f8721c"/><rect x="580.2" fill="#f8721c"/><rect x="592.2" fill="#f9751d"/><rect x="604.2" fill="#f9781e"/><rect x="616.2" fill="#f9781e"/><rect x="628.2" fill="#fa7b1f"/><rect x="640.2" fill="#fb7e21"/><rect x="652.2" fill="#fb8122"/><rect x="664.2" fill="#fb8122"/><rect x="676.2" fill="#fc8423"/><rect x="688.2" fill="#fc8725"/><rect x="700.2" fill="#fc8725"/><rect x="712.2" fill="#fc8725"/><rect x="724.2" fill="#fc8725"/><rect x="736.2" fill="#fc8725"/><rect x="748.2" fill="#fc8423"/><rect x="760.2" fill="#fb7e21"/><rect x="772.2" fill="#f9781e"/><rect x="784.2" fill="#f9751d"/><rect x="796.2" fill="#f76f1a"/><rect x="808.2" fill="#f66c19"/><rect x="820.2" fill="#f46617"/><rect x="832.2" fill="#f26014"/><rect x="844.2" fill="#f15d13"/><rect x="856.2" fill="#f05b12"/><rect x="868.2" fill="#eb500e"/><rect x="880.2" fill="#e5470b"/><rect x="892.2" fill="#df3f08"/><rect x="904.2" fill="#dd3d08"/><rect x="916.2" fill="#dd3d08"/><rect x="928.2" fill="#dd3d08"/></g>
<g transform="translate(0 437.8)"><rect x="64.2" fill="#cdec34"/><rect x="76.2" fill="#cdec34"/><rect x="88.2" fill="#d0ea34"/><rect x="100.2" fill="#d2e935"/><rect x="112.2" fill="#cbed34"/><rect x="124.2" fill="#c3f134"/><rect x="136.2" fill="#bef434"/><rect x="148.2" fill="#b9f635"/><rect x="160.2" fill="#b1f936"/><rect x="172.2" fill="#a7fc3a"/><rect x="184.2" fill="#8bff4b"/><rect x="196.2" fill="#65fd69"/><rect x="208.2" fill="#4ef97d"/><rect x="220.2" fill="#52fa7a"/><rect x="232.2" fill="#38f491"/><rect x="244.2" fill="#19e2bb"/><rect x="256.2" fill="#18d7ca"/><rect x="268.2" fill="#18dec0"/><rect x="280.2" fill="#2cf09e"/><rect x="292.2" fill="#6dfe62"/><rect x="304.2" fill="#9ffd3f"/><rect x="316.2" fill="#bef434"/><rect x="328.2" fill="#b9f635"/><rect x="340.2" fill="#cbed34"/><rect x="352.2" fill="#f4c73a"/><rect x="364.2" fill="#fe992c"/><rect x="376.2" fill="#fc8725"/><rect x="388.2" fill="#fc8423"/><rect x="400.2" fill="#fb8122"/><rect x="412.2" fill="#fa7b1f"/><rect x="424.2" fill="#f9781e"/><rect x="436.2" fill="#f8721c"/><rect x="448.2" fill="#f76f1a"/><rect x="460.2" fill="#f56918"/><rect x="472.2" fill="#f46617"/><rect x="484.2" fill="#f36315"/><rect x="496.2" fill="#f46617"/><rect x="508.2" fill="#f56918"/><rect x="520.2" fill="#f66c19"/><rect x="532.2" fill="#f66c19"/><rect x="544.2" fill="#f66c19"/><rect x="556.2" fill="#f76f1a"/><rect x="568.2" fill="#f76f1a"/><rect x="580.2" fill="#f76f1a"/><rect x="592.2" fill="#f8721c"/><rect x="604.2" fill="#f76f1a"/><rect x="616.2" fill="#f8721c"/><rect x="628.2" fill="#f9781e"/><rect x="640.2" fill="#fa7b1f"/><rect x="652.2" fill="#fb7e21"/><rect x="664.2" fill="#fb8122"/><rect x="676.2" fill="#fc8423"/><rect x="688.2" fill="#fd8a26"/><rect x="700.2" fill="#fd8d27"/><rect x="712.2" fill="#fd8d27"/><rect x="724.2" fill="#fd8d27"/><rect x="736.2" fill="#fd8d27"/><rect x="748.2" fill="#fd8a26"/><rect x="760.2" fill="#fc8725"/><rect x="772.2" fill="#fc8423"/><rect x="784.2" fill="#fb7e21"/><rect x="796.2" fill="#fa7b1f"/><rect x="808.2" fill="#f9751d"/><rect x="820.2" fill="#f76f1a"/><rect x="832.2" fill="#f66c19"/><rect x="844.2" fill="#f76f1a"/><rect x="856.2" fill="#f56918"/><rect x="868.2" fill="#ef5811"/><rect x="880.2" fill="#e84b0c"/><rect x="892.2" fill="#e14109"/><rect x="904.2" fill="#dd3d08"/><rect x="916.2" fill="#dd3d08"/><rect x="928.2" fill="#dd3d08"/></g>
<g transform="translate(0 449.8)"><rect x="64.2" fill="#f4c73a"/><rect x="76.2" fill="#f4c73a"/><rect x="88.2" fill="#f5c53a"/><rect x="100.2" fill="#f6c33a"/><rect x="112.2" fill="#ebd339"/><rect x="124.2" fill="#dfdf37"/><rect x="136.2" fill="#d7e535"/><rect x="148.2" fill="#cdec34"/><rect x="160.2" fill="#c1f334"/><rect x="172.2" fill="#b4f836"/><rect x="184.2" fill="#9ffd3f"/><rect x="196.2" fill="#80ff53"/><rect x="208.2" fill="#61fc6c"/><rect x="220.2" fill="#4af880"/><rect x="232.2" fill="#2cf09e"/><rect x="244.2" fill="#19e3b9"/><rect x="256.2" fill="#18e0bd"/><rect x="268.2" fill="#25eca7"/><rect x="280.2" fill="#69fd66"/><rect x="292.2" fill="#b7f735"/><rect x="304.2" fill="#e1dd37"/><rect x="316.2" fill="#f4c73a"/><rect x="328.2" fill="#efcd3a"/><rect x="340.2" fill="#eecf3a"/><rect x="352.2" fill="#fcb336"/><rect x="364.2" fill="#fd8d27"/><rect x="376.2" fill="#fb8122"/><rect x="388.2" fill="#fb7e21"/><rect x="400.2" fill="#f9781e"/><rect x="412.2" fill="#f9751d"/><rect x="424.2" fill="#f76f1a"/><rect x="436.2" fill="#f66c19"/><rect x="448.2" fill="#f46617"/><rect x="460.2" fill="#f36315"/><rect x="472.2" fill="#f26014"/><rect x="484.2" fill="#f26014"/><rect x="496.2" fill="#f36315"/><rect x="508.2" fill="#f36315"/><rect x="520.2" fill="#f46617"/><rect x="532.2" fill="#f56918"/><rect x="544.2" fill="#f56918"/><rect x="556.2" fill="#f56918"/><rect x="568.2" fill="#f56918"/><rect x="580.2" fill="#f56918"/><rect x="592.2" fill="#f46617"/><rect x="604.2" fill="#f46617"/><rect x="616.2" fill="#f66c19"/><rect x="628.2" fill="#f8721c"/><rect x="640.2" fill="#f9781e"/><rect x="652.2" fill="#fa7b1f"/><rect x="664.2" fill="#fb7e21"/><rect x="676.2" fill="#fc8423"/><rect x="688.2" fill="#fc8725"/><rect x="700.2" fill="#fd8d27"/><rect x="712.2" fill="#fe9029"/><rect x="724.2" fill="#fe932a"/><rect x="736.2" fill="#fe932a"/><rect x="748.2" fill="#fe932a"/><rect x="760.2" fill="#fe9029"/><rect x="772.2" fill="#fd8d27"/><rect x="784.2" fill="#fd8a26"/><rect x="796.2" fill="#fc8423"/><rect x="808.2" fill="#fb8122"/><rect x="820.2" fill="#fb7e21"/><rect x="832.2" fill="#fd8a26"/><rect x="844.2" fill="#fea732"/><rect x="856.2" fill="#fe9b2d"/><rect x="868.2" fill="#f9781e"/><rect x="880.2" fill="#f26014"/><rect x="892.2" fill="#eb500e"/><rect x="904.2" fill="#df3f08"/><rect x="916.2" fill="#dd3d08"/><rect x="928.2" fill="#dd3d08"/></g>
<g transform="translate(0 461.8)"><rect x="64.2" fill="#f56918"/><rect x="76.2" fill="#f56918"/><rect x="88.2" fill="#f76f1a"/><rect x="100.2" fill="#fd8a26"/><rect x="112.2" fill="#fea130"/><rect x="124.2" fill="#fcb136"/><rect x="136.2" fill="#f9bc39"/><rect x="148.2" fill="#f1cb3a"/><rect x="160.2" fill="#e7d739"/><rect x="172.2" fill="#d9e436"/><rect x="184.2" fill="#c1f334"/><rect x="196.2" fill="#a7fc3a"/><rect x="208.2" fill="#8bff4b"/><rect x="220.2" fill="#6dfe62"/><rect x="232.2" fill="#4af880"/><rect x="244.2" fill="#2cf09e"/><rect x="256.2" fill="#25eca7"/><rect x="268.2" fill="#3cf58e"/><rect x="280.2" fill="#80ff53"/><rect x="292.2" fill="#bef434"/><rect x="304.2" fill="#e7d739"/><rect x="316.2" fill="#fbb637"/><rect x="328.2" fill="#fea431"/><rect x="340.2" fill="#fea130"/><rect x="352.2" fill="#fe962b"/><rect x="364.2" fill="#fb8122"/><rect x="376.2" fill="#fa7b1f"/><rect x="388.2" fill="#f9751d"/><rect x="400.2" fill="#f8721c"/><rect x="412.2" fill="#f76f1a"/><rect x="424.2" fill="#f56918"/><rect x="436.2" fill="#f36315"/><rect x="448.2" fill="#f26014"/><rect x="460.2" fill="#f15d13"/><rect x="472.2" fill="#f05b12"/><rect x="484.2" fill="#f05b12"/><rect x="496.2" fill="#f15d13"/><rect x="508.2" fill="#f26014"/><rect x="520.2" fill="#f36315"/><rect x="532.2" fill="#f46617"/><rect x="544.2" fill="#f46617"/><rect x="556.2" fill="#f36315"/><rect x="568.2" fill="#f26014"/><rect x="580.2" fill="#f26014"/><rect x="592.2" fill="#f15d13"/><rect x="604.2" fill="#f15d13"/><rect x="616.2" fill="#f36315"/><rect x="628.2" fill="#f56918"/><rect x="640.2" fill="#f76f1a"/><rect x="652.2" fill="#f8721c"/><rect x="664.2" fill="#f9781e"/><rect x="676.2" fill="#fa7b1f"/><rect x="688.2" fill="#fb7e21"/><rect x="700.2" fill="#fc8423"/><rect x="712.2" fill="#fd8a26"/><rect x="724.2" fill="#fe9029"/><rect x="736.2" fill="#fe962b"/><rect x="748.2" fill="#fe9b2d"/><rect x="760.2" fill="#fe9b2d"/><rect x="772.2" fill="#fe992c"/><rect x="784.2" fill="#fe962b"/><rect x="796.2" fill="#fe9029"/><rect x="808.2" fill="#fe932a"/><rect x="820.2" fill="#fea933"/><rect x="832.2" fill="#f1cb3a"/><rect x="844.2" fill="#dbe236"/><rect x="856.2" fill="#eecf3a"/><rect x="868.2" fill="#fbb838"/><rect x="880.2" fill="#fbb637"/><rect x="892.2" fill="#fea732"/><rect x="904.2" fill="#f9781e"/><rect x="916.2" fill="#f66c19"/><rect x="928.2" fill="#f66c19"/></g>
<g transform="translate(0 473.8)"><rect x="64.2" fill="#eb500e"/><rect x="76.2" fill="#eb500e"/><rect x="88.2" fill="#ec530f"/><rect x="100.2" fill="#f15d13"/><rect x="112.2" fill="#f66c19"/><rect x="124.2" fill="#f9781e"/><rect x="136.2" fill="#fc8725"/><rect x="148.2" fill="#fe992c"/><rect x="160.2" fill="#fdac34"/><rect x="172.2" fill="#f7c13a"/><rect x="184.2" fill="#e7d739"/><rect x="196.2" fill="#d2e935"/><rect x="208.2" fill="#b7f735"/><rect x="220.2" fill="#9ffd3f"/><rect x="232.2" fill="#84ff51"/><rect x="244.2" fill="#69fd66"/><rect x="256.2" fill="#55fa76"/><rect x="268.2" fill="#65fd69"/><rect x="280.2" fill="#92ff47"/><rect x="292.2" fill="#bcf534"/><rect x="304.2" fill="#dde037"/><rect x="316.2" fill="#f7c13a"/><rect x="328.2" fill="#fea732"/><rect x="340.2" fill="#fe932a"/><rect x="352.2" fill="#fc8725"/><rect x="364.2" fill="#fa7b1f"/><rect x="376.2" fill="#f9751d"/><rect x="388.2" fill="#f76f1a"/><rect x="400.2" fill="#f56918"/><rect x="412.2" fill="#f46617"/><rect x="424.2" fill="#f26014"/><rect x="436.2" fill="#f15d13"/><rect x="448.2" fill="#ef5811"/><rect x="460.2" fill="#ef5811"/><rect x="472.2" fill="#ef5811"/><rect x="484.2" fill="#ef5811"/><rect x="496.2" fill="#f05b12"/><rect x="508.2" fill="#f15d13"/><rect x="520.2" fill="#f26014"/><rect x="532.2" fill="#f26014"/><rect x="544.2" fill="#f26014"/><rect x="556.2" fill="#f15d13"/><rect x="568.2" fill="#f05b12"/><rect x="580.2" fill="#ef5811"/><rect x="592.2" fill="#ed5510"/><rect x="604.2" fill="#ef5811"/><rect x="616.2" fill="#f05b12"/><rect x="628.2" fill="#f26014"/><rect x="640.2" fill="#f46617"/><rect x="652.2" fill="#f56918"/><rect x="664.2" fill="#f76f1a"/><rect x="676.2" fill="#f8721c"/><rect x="688.2" fill="#f9751d"/><rect x="700.2" fill="#fa7b1f"/><rect x="712.2" fill="#fc8423"/><rect x="724.2" fill="#fd8a26"/><rect x="736.2" fill="#fe932a"/><rect x="748.2" fill="#fe992c"/><rect x="760.2" fill="#fe9e2f"/><rect x="772.2" fill="#fea130"/><rect x="784.2" fill="#fea130"/><rect x="796.2" fill="#fea933"/><rect x="808.2" fill="#f6c33a"/><rect x="820.2" fill="#d7e535"/><rect x="832.2" fill="#acfb38"/><rect x="844.2" fill="#9ffd3f"/><rect x="856.2" fill="#bef434"/><rect x="868.2" fill="#cbed34"/><rect x="880.2" fill="#c3f134"/><rect x="892.2" fill="#b7f735"/><rect x="904.2" fill="#9cfe40"/><rect x="916.2" fill="#96fe44"/><rect x="928.2" fill="#92ff47"/></g>
<g transform="translate(0 485.8)"><rect x="64.2" fill="#e84b0c"/><rect x="76.2" fill="#e84b0c"/><rect x="88.2" fill="#e84b0c"/><rect x="100.2" fill="#eb500e"/><rect x="112.2" fill="#ed5510"/><rect x="124.2" fill="#ef5811"/><rect x="136.2" fill="#f15d13"/><rect x="148.2" fill="#f66c19"/><rect x="160.2" fill="#f9781e"/><rect x="172.2" fill="#fd8d27"/><rect x="184.2" fill="#fdae35"/><rect x="196.2" fill="#f4c73a"/><rect x="208.2" fill="#dfdf37"/><rect x="220.2" fill="#cbed34"/><rect x="232.2" fill="#bcf534"/><rect x="244.2" fill="#acfb38"/><rect x="256.2" fill="#a4fc3c"/><rect x="268.2" fill="#a7fc3a"/><rect x="280.2" fill="#b4f836"/><rect x="292.2" fill="#cbed34"/><rect x="304.2" fill="#dfdf37"/><rect x="316.2" fill="#f2c93a"/><rect x="328.2" fill="#fcb136"/><rect x="340.2" fill="#fe992c"/><rect x="352.2" fill="#fc8725"/><rect x="364.2" fill="#fa7b1f"/><rect x="376.2" fill="#f76f1a"/><rect x="388.2" fill="#f56918"/><rect x="400.2" fill="#f36315"/><rect x="412.2" fill="#f15d13"/><rect x="424.2" fill="#ef5811"/><rect x="436.2" fill="#ed5510"/><rect x="448.2" fill="#ed5510"/><rect x="460.2" fill="#ec530f"/><rect x="472.2" fill="#ec530f"/><rect x="484.2" fill="#ed5510"/><rect x="496.2" fill="#ef5811"/><rect x="508.2" fill="#ef5811"/><rect x="520.2" fill="#f05b12"/><rect x="532.2" fill="#f05b12"/><rect x="544.2" fill="#f05b12"/><rect x="556.2" fill="#ef5811"/><rect x="568.2" fill="#ef5811"/><rect x="580.2" fill="#ed5510"/><rect x="592.2" fill="#ec530f"/><rect x="604.2" fill="#ec530f"/><rect x="616.2" fill="#ed5510"/><rect x="628.2" fill="#f05b12"/><rect x="640.2" fill="#f15d13"/><rect x="652.2" fill="#f26014"/><rect x="664.2" fill="#f46617"/><rect x="676.2" fill="#f56918"/><rect x="688.2" fill="#f76f1a"/><rect x="700.2" fill="#f9751d"/><rect x="712.2" fill="#fa7b1f"/><rect x="724.2" fill="#fc8423"/><rect x="736.2" fill="#fd8d27"/><rect x="748.2" fill="#fe962b"/><rect x="760.2" fill="#fe9e2f"/><rect x="772.2" fill="#fea732"/><rect x="784.2" fill="#fbb637"/><rect x="796.2" fill="#e3db38"/><rect x="808.2" fill="#b7f735"/><rect x="820.2" fill="#79fe59"/><rect x="832.2" fill="#3cf58e"/><rect x="844.2" fill="#4ef97d"/><rect x="856.2" fill="#79fe59"/><rect x="868.2" fill="#7dff56"/><rect x="880.2" fill="#79fe59"/><rect x="892.2" fill="#6dfe62"/><rect x="904.2" fill="#52fa7a"/><rect x="916.2" fill="#4ef97d"/><rect x="928.2" fill="#4ef97d"/></g>
<g transform="translate(0 497.8)"><rect x="64.2" fill="#e7490c"/><rect x="76.2" fill="#e7490c"/><rect x="88.2" fill="#e7490c"/><rect x="100.2" fill="#e7490c"/><rect x="112.2" fill="#e84b0c"/><rect x="124.2" fill="#ea4e0d"/><rect x="136.2" fill="#eb500e"/><rect x="148.2" fill="#ec530f"/><rect x="160.2" fill="#ed5510"/><rect x="172.2" fill="#f26014"/><rect x="184.2" fill="#fa7b1f"/><rect x="196.2" fill="#fe962b"/><rect x="208.2" fill="#fcb136"/><rect x="220.2" fill="#f6c33a"/><rect x="232.2" fill="#eecf3a"/><rect x="244.2" fill="#e5d938"/><rect x="256.2" fill="#dfdf37"/><rect x="268.2" fill="#dde037"/><rect x="280.2" fill="#dfdf37"/><rect x="292.2" fill="#e5d938"/><rect x="304.2" fill="#efcd3a"/><rect x="316.2" fill="#faba39"/><rect x="328.2" fill="#fea732"/><rect x="340.2" fill="#fe932a"/><rect x="352.2" fill="#fb8122"/><rect x="364.2" fill="#f9751d"/><rect x="376.2" fill="#f66c19"/><rect x="388.2" fill="#f36315"/><rect x="400.2" fill="#f15d13"/><rect x="412.2" fill="#ef5811"/><rect x="424.2" fill="#ec530f"/><rect x="436.2" fill="#ec530f"/><rect x="448.2" fill="#eb500e"/><rect x="460.2" fill="#eb500e"/><rect x="472.2" fill="#eb500e"/><rect x="484.2" fill="#eb500e"/><rect x="496.2" fill="#ec530f"/><rect x="508.2" fill="#ec530f"/><rect x="520.2" fill="#ed5510"/><rect x="532.2" fill="#ef5811"/><rect x="544.2" fill="#ef5811"/><rect x="556.2" fill="#ef5811"/><rect x="568.2" fill="#ed5510"/><rect x="580.2" fill="#ed5510"/><rect x="592.2" fill="#ec530f"/><rect x="604.2" fill="#ec530f"/><rect x="616.2" fill="#ec530f"/><rect x="628.2" fill="#ed5510"/><rect x="640.2" fill="#ef5811"/><rect x="652.2" fill="#f15d13"/><rect x="664.2" fill="#f26014"/><rect x="676.2" fill="#f36315"/><rect x="688.2" fill="#f46617"/><rect x="700.2" fill="#f66c19"/><rect x="712.2" fill="#f9751d"/><rect x="724.2" fill="#fb7e21"/><rect x="736.2" fill="#fc8725"/><rect x="748.2" fill="#fe932a"/><rect x="760.2" fill="#fe9e2f"/><rect x="772.2" fill="#fdac34"/><rect x="784.2" fill="#f1cb3a"/><rect x="796.2" fill="#a7fc3a"/><rect x="808.2" fill="#46f884"/><rect x="820.2" fill="#18e0bd"/><rect x="832.2" fill="#1ad4d0"/><rect x="844.2" fill="#20eaac"/><rect x="856.2" fill="#38f491"/><rect x="868.2" fill="#59fb73"/><rect x="880.2" fill="#8bff4b"/><rect x="892.2" fill="#9cfe40"/><rect x="904.2" fill="#7dff56"/><rect x="916.2" fill="#75fe5c"/><rect x="928.2" fill="#75fe5c"/></g>
<g transform="translate(0 509.8)"><rect x="64.2" fill="#e4450a"/><rect x="76.2" fill="#e4450a"/><rect x="88.2" fill="#e4450a"/><rect x="100.2" fill="#e4450a"/><rect x="112.2" fill="#e5470b"/><rect x="124.2" fill="#e7490c"/><rect x="136.2" fill="#e7490c"/><rect x="148.2" fill="#e84b0c"/><rect x="160.2" fill="#e7490c"/><rect x="172.2" fill="#e7490c"/><rect x="184.2" fill="#ec530f"/><rect x="196.2" fill="#f36315"/><rect x="208.2" fill="#f9781e"/><rect x="220.2" fill="#fd8a26"/><rect x="232.2" fill="#fe992c"/><rect x="244.2" fill="#fea933"/><rect x="256.2" fill="#fcb136"/><rect x="268.2" fill="#fcb336"/><rect x="280.2" fill="#fbb637"/><rect x="292.2" fill="#fcb336"/><rect x="304.2" fill="#fdac34"/><rect x="316.2" fill="#fea130"/><rect x="328.2" fill="#fe932a"/><rect x="340.2" fill="#fb8122"/><rect x="352.2" fill="#f9751d"/><rect x="364.2" fill="#f66c19"/><rect x="376.2" fill="#f46617"/><rect x="388.2" fill="#f26014"/><rect x="400.2" fill="#f05b12"/><rect x="412.2" fill="#ed5510"/><rect x="424.2" fill="#ec530f"/><rect x="436.2" fill="#ea4e0d"/><rect x="448.2" fill="#ea4e0d"/><rect x="460.2" fill="#ea4e0d"/><rect x="472.2" fill="#ea4e0d"/><rect x="484.2" fill="#ea4e0d"/><rect x="496.2" fill="#ea4e0d"/><rect x="508.2" fill="#eb500e"/><rect x="520.2" fill="#eb500e"/><rect x="532.2" fill="#ec530f"/><rect x="544.2" fill="#ec530f"/><rect x="556.2" fill="#ed5510"/><rect x="568.2" fill="#ed5510"/><rect x="580.2" fill="#ed5510"/><rect x="592.2" fill="#ec530f"/><rect x="604.2" fill="#ec530f"/><rect x="616.2" fill="#ec530f"/><rect x="628.2" fill="#ec530f"/><rect x="640.2" fill="#ed5510"/><rect x="652.2" fill="#ef5811"/><rect x="664.2" fill="#f05b12"/><rect x="676.2" fill="#f15d13"/><rect x="688.2" fill="#f26014"/><rect x="700.2" fill="#f36315"/><rect x="712.2" fill="#f66c19"/><rect x="724.2" fill="#f9751d"/><rect x="736.2" fill="#fb7e21"/><rect x="748.2" fill="#fd8a26"/><rect x="760.2" fill="#fe9b2d"/><rect x="772.2" fill="#fdac34"/><rect x="784.2" fill="#f4c73a"/><rect x="796.2" fill="#99fe42"/><rect x="808.2" fill="#18e0bd"/><rect x="820.2" fill="#27bee9"/><rect x="832.2" fill="#1ad4d0"/><rect x="844.2" fill="#32f298"/><rect x="856.2" fill="#80ff53"/><rect x="868.2" fill="#b4f836"/><rect x="880.2" fill="#d0ea34"/><rect x="892.2" fill="#dfdf37"/><rect x="904.2" fill="#e5d938"/><rect x="916.2" fill="#e7d739"/><rect x="928.2" fill="#eecf3a"/></g>
<g transform="translate(0 521.8)"><rect x="64.2" fill="#e14109"/><rect x="76.2" fill="#e14109"/><rect x="88.2" fill="#e14109"/><rect x="100.2" fill="#e14109"/><rect x="112.2" fill="#e2430a"/><rect x="124.2" fill="#e4450a"/><rect x="136.2" fill="#e4450a"/><rect x="148.2" fill="#e5470b"/><rect x="160.2" fill="#e5470b"/><rect x="172.2" fill="#e5470b"/><rect x="184.2" fill="#ea4e0d"/><rect x="196.2" fill="#ef5811"/><rect x="208.2" fill="#f26014"/><rect x="220.2" fill="#f46617"/><rect x="232.2" fill="#f76f1a"/><rect x="244.2" fill="#fb7e21"/><rect x="256.2" fill="#fd8a26"/><rect x="268.2" fill="#fd8d27"/><rect x="280.2" fill="#fe9029"/><rect x="292.2" fill="#fe9029"/><rect x="304.2" fill="#fd8d27"/><rect x="316.2" fill="#fd8a26"/><rect x="328.2" fill="#fb7e21"/><rect x="340.2" fill="#f76f1a"/><rect x="352.2" fill="#f56918"/><rect x="364.2" fill="#f36315"/><rect x="376.2" fill="#f26014"/><rect x="388.2" fill="#f05b12"/><rect x="400.2" fill="#ef5811"/><rect x="412.2" fill="#ec530f"/><rect x="424.2" fill="#eb500e"/><rect x="436.2" fill="#ea4e0d"/><rect x="448.2" fill="#e84b0c"/><rect x="460.2" fill="#e84b0c"/><rect x="472.2" fill="#e84b0c"/><rect x="484.2" fill="#e84b0c"/><rect x="496.2" fill="#e84b0c"/><rect x="508.2" fill="#e84b0c"/><rect x="520.2" fill="#e84b0c"/><rect x="532.2" fill="#ea4e0d"/><rect x="544.2" fill="#ea4e0d"/><rect x="556.2" fill="#eb500e"/><rect x="568.2" fill="#eb500e"/><rect x="580.2" fill="#ec530f"/><rect x="592.2" fill="#ec530f"/><rect x="604.2" fill="#ec530f"/><rect x="616.2" fill="#ec530f"/><rect x="628.2" fill="#ec530f"/><rect x="640.2" fill="#ec530f"/><rect x="652.2" fill="#ec530f"/><rect x="664.2" fill="#ed5510"/><rect x="676.2" fill="#ef5811"/><rect x="688.2" fill="#f05b12"/><rect x="700.2" fill="#f15d13"/><rect x="712.2" fill="#f26014"/><rect x="724.2" fill="#f56918"/><rect x="736.2" fill="#f9751d"/><rect x="748.2" fill="#fb7e21"/><rect x="760.2" fill="#fd8d27"/><rect x="772.2" fill="#fe9e2f"/><rect x="784.2" fill="#f9bc39"/><rect x="796.2" fill="#c8ef34"/><rect x="808.2" fill="#65fd69"/><rect x="820.2" fill="#2ff19b"/><rect x="832.2" fill="#69fd66"/><rect x="844.2" fill="#affa37"/><rect x="856.2" fill="#d9e436"/><rect x="868.2" fill="#efcd3a"/><rect x="880.2" fill="#f8be39"/><rect x="892.2" fill="#fcb336"/><rect x="904.2" fill="#fbb637"/><rect x="916.2" fill="#fdae35"/><rect x="928.2" fill="#fc8423"/></g>
<g transform="translate(0 533.8)"><rect x="64.2" fill="#dd3d08"/><rect x="76.2" fill="#dd3d08"/><rect x="88.2" fill="#dd3d08"/><rect x="100.2" fill="#df3f08"/><rect x="112.2" fill="#df3f08"/><rect x="124.2" fill="#e14109"/><rect x="136.2" fill="#e14109"/><rect x="148.2" fill="#e2430a"/><rect x="160.2" fill="#e4450a"/><rect x="172.2" fill="#e4450a"/><rect x="184.2" fill="#e7490c"/><rect x="196.2" fill="#ea4e0d"/><rect x="208.2" fill="#eb500e"/><rect x="220.2" fill="#ec530f"/><rect x="232.2" fill="#ef5811"/><rect x="244.2" fill="#f15d13"/><rect x="256.2" fill="#f46617"/><rect x="268.2" fill="#f56918"/><rect x="280.2" fill="#f66c19"/><rect x="292.2" fill="#f76f1a"/><rect x="304.2" fill="#f76f1a"/><rect x="316.2" fill="#f76f1a"/><rect x="328.2" fill="#f56918"/><rect x="340.2" fill="#f26014"/><rect x="352.2" fill="#f15d13"/><rect x="364.2" fill="#f05b12"/><rect x="376.2" fill="#ef5811"/><rect x="388.2" fill="#ed5510"/><rect x="400.2" fill="#ec530f"/><rect x="412.2" fill="#ea4e0d"/><rect x="424.2" fill="#e84b0c"/><rect x="436.2" fill="#e7490c"/><rect x="448.2" fill="#e7490c"/><rect x="460.2" fill="#e7490c"/><rect x="472.2" fill="#e7490c"/><rect x="484.2" fill="#e7490c"/><rect x="496.2" fill="#e7490c"/><rect x="508.2" fill="#e7490c"/><rect x="520.2" fill="#e7490c"/><rect x="532.2" fill="#e7490c"/><rect x="544.2" fill="#e84b0c"/><rect x="556.2" fill="#e84b0c"/><rect x="568.2" fill="#ea4e0d"/><rect x="580.2" fill="#ea4e0d"/><rect x="592.2" fill="#eb500e"/><rect x="604.2" fill="#ec530f"/><rect x="616.2" fill="#ec530f"/><rect x="628.2" fill="#ec530f"/><rect x="640.2" fill="#ec530f"/><rect x="652.2" fill="#ec530f"/><rect x="664.2" fill="#ec530f"/><rect x="676.2" fill="#ec530f"/><rect x="688.2" fill="#ed5510"/><rect x="700.2" fill="#ef5811"/><rect x="712.2" fill="#f05b12"/><rect x="724.2" fill="#f26014"/><rect x="736.2" fill="#f66c19"/><rect x="748.2" fill="#f9751d"/><rect x="760.2" fill="#fb7e21"/><rect x="772.2" fill="#fc8725"/><rect x="784.2" fill="#fe9b2d"/><rect x="796.2" fill="#fbb637"/><rect x="808.2" fill="#e7d739"/><rect x="820.2" fill="#d4e735"/><rect x="832.2" fill="#dfdf37"/><rect x="844.2" fill="#f2c93a"/><rect x="856.2" fill="#fdae35"/><rect x="868.2" fill="#fe9e2f"/><rect x="880.2" fill="#fe932a"/><rect x="892.2" fill="#fc8423"/><rect x="904.2" fill="#f9781e"/><rect x="916.2" fill="#f9751d"/><rect x="928.2" fill="#f56918"/></g>
<g transform="translate(0 545.8)"><rect x="64.2" fill="#dd3d08"/><rect x="76.2" fill="#dd3d08"/><rect x="88.2" fill="#dd3d08"/><rect x="100.2" fill="#dd3d08"/><rect x="112.2" fill="#dd3d08"/><rect x="124.2" fill="#dd3d08"/><rect x="136.2" fill="#df3f08"/><rect x="148.2" fill="#e2430a"/><rect x="160.2" fill="#e2430a"/><rect x="172.2" fill="#e14109"/><rect x="184.2" fill="#e14109"/><rect x="196.2" fill="#e2430a"/><rect x="208.2" fill="#e4450a"/><rect x="220.2" fill="#e5470b"/><rect x="232.2" fill="#e7490c"/><rect x="244.2" fill="#e84b0c"/><rect x="256.2" fill="#ea4e0d"/><rect x="268.2" fill="#eb500e"/><rect x="280.2" fill="#ec530f"/><rect x="292.2" fill="#ed5510"/><rect x="304.2" fill="#ef5811"/><rect x="316.2" fill="#ef5811"/><rect x="328.2" fill="#ef5811"/><rect x="340.2" fill="#ef5811"/><rect x="352.2" fill="#ef5811"/><rect x="364.2" fill="#ed5510"/><rect x="376.2" fill="#ec530f"/><rect x="388.2" fill="#eb500e"/><rect x="400.2" fill="#ea4e0d"/><rect x="412.2" fill="#e7490c"/><rect x="424.2" fill="#e5470b"/><rect x="436.2" fill="#e4450a"/><rect x="448.2" fill="#e4450a"/><rect x="460.2" fill="#e4450a"/><rect x="472.2" fill="#e4450a"/><rect x="484.2" fill="#e4450a"/><rect x="496.2" fill="#e4450a"/><rect x="508.2" fill="#e4450a"/><rect x="520.2" fill="#e5470b"/><rect x="532.2" fill="#e5470b"/><rect x="544.2" fill="#e7490c"/><rect x="556.2" fill="#e7490c"/><rect x="568.2" fill="#e84b0c"/><rect x="580.2" fill="#e84b0c"/><rect x="592.2" fill="#ea4e0d"/><rect x="604.2" fill="#eb500e"/><rect x="616.2" fill="#eb500e"/><rect x="628.2" fill="#ec530f"/><rect x="640.2" fill="#ec530f"/><rect x="652.2" fill="#eb500e"/><rect x="664.2" fill="#ea4e0d"/><rect x="676.2" fill="#eb500e"/><rect x="688.2" fill="#ec530f"/><rect x="700.2" fill="#ec530f"/><rect x="712.2" fill="#ed5510"/><rect x="724.2" fill="#f05b12"/><rect x="736.2" fill="#f26014"/><rect x="748.2" fill="#f56918"/><rect x="760.2" fill="#f76f1a"/><rect x="772.2" fill="#f76f1a"/><rect x="784.2" fill="#f9751d"/><rect x="796.2" fill="#fa7b1f"/><rect x="808.2" fill="#fc8423"/><rect x="820.2" fill="#fd8a26"/><rect x="832.2" fill="#fc8725"/><rect x="844.2" fill="#fc8423"/><rect x="856.2" fill="#fb7e21"/><rect x="868.2" fill="#f9751d"/><rect x="880.2" fill="#f66c19"/><rect x="892.2" fill="#f36315"/><rect x="904.2" fill="#f26014"/><rect x="916.2" fill="#f26014"/><rect x="928.2" fill="#f36315"/></g>
<g transform="translate(0 557.8)"><rect x="64.2" fill="#dd3d08"/><rect x="76.2" fill="#dd3d08"/><rect x="88.2" fill="#dd3d08"/><rect x="100.2" fill="#dd3d08"/><rect x="112.2" fill="#dd3d08"/><rect x="124.2" fill="#dd3d08"/><rect x="136.2" fill="#dd3d08"/><rect x="148.2" fill="#e14109"/><rect x="160.2" fill="#e2430a"/><rect x="172.2" fill="#e2430a"/><rect x="184.2" fill="#e2430a"/><rect x="196.2" fill="#e2430a"/><rect x="208.2" fill="#e4450a"/><rect x="220.2" fill="#ea4e0d"/><rect x="232.2" fill="#eb500e"/><rect x="244.2" fill="#eb500e"/><rect x="256.2" fill="#eb500e"/><rect x="268.2" fill="#eb500e"/><rect x="280.2" fill="#ec530f"/><rect x="292.2" fill="#ef5811"/><rect x="304.2" fill="#f05b12"/><rect x="316.2" fill="#f05b12"/><rect x="328.2" fill="#f05b12"/><rect x="340.2" fill="#f05b12"/><rect x="352.2" fill="#ef5811"/><rect x="364.2" fill="#ec530f"/><rect x="376.2" fill="#ec530f"/><rect x="388.2" fill="#ec530f"/><rect x="400.2" fill="#ea4e0d"/><rect x="412.2" fill="#e5470b"/><rect x="424.2" fill="#e4450a"/><rect x="436.2" fill="#e2430a"/><rect x="448.2" fill="#e2430a"/><rect x="460.2" fill="#e2430a"/><rect x="472.2" fill="#e2430a"/><rect x="484.2" fill="#e2430a"/><rect x="496.2" fill="#e2430a"/><rect x="508.2" fill="#e2430a"/><rect x="520.2" fill="#e4450a"/><rect x="532.2" fill="#e4450a"/><rect x="544.2" fill="#e4450a"/><rect x="556.2" fill="#e5470b"/><rect x="568.2" fill="#e7490c"/><rect x="580.2" fill="#e7490c"/><rect x="592.2" fill="#e84b0c"/><rect x="604.2" fill="#ea4e0d"/><rect x="616.2" fill="#eb500e"/><rect x="628.2" fill="#ec530f"/><rect x="640.2" fill="#ec530f"/><rect x="652.2" fill="#eb500e"/><rect x="664.2" fill="#ea4e0d"/><rect x="676.2" fill="#ea4e0d"/><rect x="688.2" fill="#ea4e0d"/><rect x="700.2" fill="#eb500e"/><rect x="712.2" fill="#ec530f"/><rect x="724.2" fill="#ed5510"/><rect x="736.2" fill="#ef5811"/><rect x="748.2" fill="#f15d13"/><rect x="760.2" fill="#f15d13"/><rect x="772.2" fill="#f26014"/><rect x="784.2" fill="#f36315"/><rect x="796.2" fill="#f36315"/><rect x="808.2" fill="#f46617"/><rect x="820.2" fill="#f46617"/><rect x="832.2" fill="#f15d13"/><rect x="844.2" fill="#f05b12"/><rect x="856.2" fill="#f05b12"/><rect x="868.2" fill="#ef5811"/><rect x="880.2" fill="#ec530f"/><rect x="892.2" fill="#ea4e0d"/><rect x="904.2" fill="#e7490c"/><rect x="916.2" fill="#e84b0c"/><rect x="928.2" fill="#f05b12"/></g>
<g transform="translate(0 569.8)"><rect x="64.2" fill="#dd3d08"/><rect x="76.2" fill="#dd3d08"/><rect x="88.2" fill="#dd3d08"/><rect x="100.2" fill="#dd3d08"/><rect x="112.2" fill="#dd3d08"/><rect x="124.2" fill="#dd3d08"/><rect x="136.2" fill="#dd3d08"/><rect x="148.2" fill="#e14109"/><rect x="160.2" fill="#e2430a"/><rect x="172.2" fill="#e2430a"/><rect x="184.2" fill="#e2430a"/><rect x="196.2" fill="#e2430a"/><rect x="208.2" fill="#e4450a"/><rect x="220.2" fill="#eb500e"/><rect x="232.2" fill="#ec530f"/><rect x="244.2" fill="#ec530f"/><rect x="256.2" fill="#ec530f"/><rect x="268.2" fill="#ec530f"/><rect x="280.2" fill="#ed5510"/><rect x="292.2" fill="#f05b12"/><rect x="304.2" fill="#f05b12"/><rect x="316.2" fill="#f05b12"/><rect x="328.2" fill="#f05b12"/><rect x="340.2" fill="#f05b12"/><rect x="352.2" fill="#f05b12"/><rect x="364.2" fill="#ed5510"/><rect x="376.2" fill="#ec530f"/><rect x="388.2" fill="#eb500e"/><rect x="400.2" fill="#e5470b"/><rect x="412.2" fill="#e2430a"/><rect x="424.2" fill="#e2430a"/><rect x="436.2" fill="#e2430a"/><rect x="448.2" fill="#e2430a"/><rect x="460.2" fill="#e2430a"/><rect x="472.2" fill="#e2430a"/><rect x="484.2" fill="#e2430a"/><rect x="496.2" fill="#e2430a"/><rect x="508.2" fill="#e2430a"/><rect x="520.2" fill="#e2430a"/><rect x="532.2" fill="#e2430a"/><rect x="544.2" fill="#e4450a"/><rect x="556.2" fill="#e7490c"/><rect x="568.2" fill="#e7490c"/><rect x="580.2" fill="#e7490c"/><rect x="592.2" fill="#e84b0c"/><rect x="604.2" fill="#e84b0c"/><rect x="616.2" fill="#eb500e"/><rect x="628.2" fill="#ec530f"/><rect x="640.2" fill="#ec530f"/><rect x="652.2" fill="#eb500e"/><rect x="664.2" fill="#e84b0c"/><rect x="676.2" fill="#e84b0c"/><rect x="688.2" fill="#e84b0c"/><rect x="700.2" fill="#e84b0c"/><rect x="712.2" fill="#eb500e"/><rect x="724.2" fill="#ec530f"/><rect x="736.2" fill="#ec530f"/><rect x="748.2" fill="#ec530f"/><rect x="760.2" fill="#ed5510"/><rect x="772.2" fill="#f05b12"/><rect x="784.2" fill="#f15d13"/><rect x="796.2" fill="#f15d13"/><rect x="808.2" fill="#f26014"/><rect x="820.2" fill="#f46617"/><rect x="832.2" fill="#ec530f"/><rect x="844.2" fill="#e84b0c"/><rect x="856.2" fill="#e84b0c"/><rect x="868.2" fill="#e84b0c"/><rect x="880.2" fill="#e5470b"/><rect x="892.2" fill="#e4450a"/><rect x="904.2" fill="#e2430a"/><rect x="916.2" fill="#e2430a"/><rect x="928.2" fill="#e5470b"/></g>
<g transform="translate(0 581.8)"><rect x="64.2" fill="#dd3d08"/><rect x="76.2" fill="#dd3d08"/><rect x="88.2" fill="#dd3d08"/><rect x="100.2" fill="#dd3d08"/><rect x="112.2" fill="#dd3d08"/><rect x="124.2" fill="#dd3d08"/><rect x="136.2" fill="#dd3d08"/><rect x="148.2" fill="#e14109"/><rect x="160.2" fill="#e2430a"/><rect x="172.2" fill="#e2430a"/><rect x="184.2" fill="#e2430a"/><rect x="196.2" fill="#e2430a"/><rect x="208.2" fill="#e4450a"/><rect x="220.2" fill="#eb500e"/><rect x="232.2" fill="#ec530f"/><rect x="244.2" fill="#ec530f"/><rect x="256.2" fill="#ec530f"/><rect x="268.2" fill="#ec530f"/><rect x="280.2" fill="#ed5510"/><rect x="292.2" fill="#f05b12"/><rect x="304.2" fill="#f05b12"/><rect x="316.2" fill="#f05b12"/><rect x="328.2" fill="#f05b12"/><rect x="340.2" fill="#f05b12"/><rect x="352.2" fill="#f05b12"/><rect x="364.2" fill="#ed5510"/><rect x="376.2" fill="#ec530f"/><rect x="388.2" fill="#ea4e0d"/><rect x="400.2" fill="#e4450a"/><rect x="412.2" fill="#e2430a"/><rect x="424.2" fill="#e2430a"/><rect x="436.2" fill="#e2430a"/><rect x="448.2" fill="#e2430a"/><rect x="460.2" fill="#e2430a"/><rect x="472.2" fill="#e2430a"/><rect x="484.2" fill="#e2430a"/><rect x="496.2" fill="#e2430a"/><rect x="508.2" fill="#e2430a"/><rect x="520.2" fill="#e2430a"/><rect x="532.2" fill="#e2430a"/><rect x="544.2" fill="#e4450a"/><rect x="556.2" fill="#e7490c"/><rect x="568.2" fill="#e7490c"/><rect x="580.2" fill="#e7490c"/><rect x="592.2" fill="#e7490c"/><rect x="604.2" fill="#e84b0c"/><rect x="616.2" fill="#eb500e"/><rect x="628.2" fill="#ec530f"/><rect x="640.2" fill="#eb500e"/><rect x="652.2" fill="#e84b0c"/><rect x="664.2" fill="#e84b0c"/><rect x="676.2" fill="#e7490c"/><rect x="688.2" fill="#e7490c"/><rect x="700.2" fill="#e84b0c"/><rect x="712.2" fill="#eb500e"/><rect x="724.2" fill="#ec530f"/><rect x="736.2" fill="#ec530f"/><rect x="748.2" fill="#ec530f"/><rect x="760.2" fill="#ed5510"/><rect x="772.2" fill="#f05b12"/><rect x="784.2" fill="#f05b12"/><rect x="796.2" fill="#f05b12"/><rect x="808.2" fill="#f15d13"/><rect x="820.2" fill="#f05b12"/><rect x="832.2" fill="#ea4e0d"/><rect x="844.2" fill="#e84b0c"/><rect x="856.2" fill="#e7490c"/><rect x="868.2" fill="#e7490c"/><rect x="880.2" fill="#e4450a"/><rect x="892.2" fill="#e2430a"/><rect x="904.2" fill="#e2430a"/><rect x="916.2" fill="#e2430a"/><rect x="928.2" fill="#e2430a"/></g>
<g transform="translate(0 593.8)"><rect x="64.2" fill="#dd3d08"/><rect x="76.2" fill="#dd3d08"/><rect x="88.2" fill="#dd3d08"/><rect x="100.2" fill="#dd3d08"/><rect x="112.2" fill="#dd3d08"/><rect x="124.2" fill="#dd3d08"/><rect x="136.2" fill="#dd3d08"/><rect x="148.2" fill="#e14109"/><rect x="160.2" fill="#e2430a"/><rect x="172.2" fill="#e2430a"/><rect x="184.2" fill="#e2430a"/><rect x="196.2" fill="#e2430a"/><rect x="208.2" fill="#e4450a"/><rect x="220.2" fill="#eb500e"/><rect x="232.2" fill="#ec530f"/><rect x="244.2" fill="#ec530f"/><rect x="256.2" fill="#ec530f"/><rect x="268.2" fill="#ec530f"/><rect x="280.2" fill="#ed5510"/><rect x="292.2" fill="#f05b12"/><rect x="304.2" fill="#f05b12"/><rect x="316.2" fill="#f05b12"/><rect x="328.2" fill="#f05b12"/><rect x="340.2" fill="#f05b12"/><rect x="352.2" fill="#f05b12"/><rect x="364.2" fill="#ec530f"/><rect x="376.2" fill="#eb500e"/><rect x="388.2" fill="#e5470b"/><rect x="400.2" fill="#e2430a"/><rect x="412.2" fill="#e2430a"/><rect x="424.2" fill="#e2430a"/><rect x="436.2" fill="#e2430a"/><rect x="448.2" fill="#e2430a"/><rect x="460.2" fill="#e2430a"/><rect x="472.2" fill="#e2430a"/><rect x="484.2" fill="#e2430a"/><rect x="496.2" fill="#e2430a"/><rect x="508.2" fill="#e2430a"/><rect x="520.2" fill="#e2430a"/><rect x="532.2" fill="#e2430a"/><rect x="544.2" fill="#e4450a"/><rect x="556.2" fill="#e7490c"/><rect x="568.2" fill="#e7490c"/><rect x="580.2" fill="#e7490c"/><rect x="592.2" fill="#e7490c"/><rect x="604.2" fill="#e84b0c"/><rect x="616.2" fill="#eb500e"/><rect x="628.2" fill="#ec530f"/><rect x="640.2" fill="#eb500e"/><rect x="652.2" fill="#e84b0c"/><rect x="664.2" fill="#e7490c"/><rect x="676.2" fill="#e7490c"/><rect x="688.2" fill="#e7490c"/><rect x="700.2" fill="#e84b0c"/><rect x="712.2" fill="#eb500e"/><rect x="724.2" fill="#ec530f"/><rect x="736.2" fill="#ec530f"/><rect x="748.2" fill="#ec530f"/><rect x="760.2" fill="#ed5510"/><rect x="772.2" fill="#f05b12"/><rect x="784.2" fill="#f05b12"/><rect x="796.2" fill="#f05b12"/><rect x="808.2" fill="#f05b12"/><rect x="820.2" fill="#ef5811"/><rect x="832.2" fill="#ea4e0d"/><rect x="844.2" fill="#e7490c"/><rect x="856.2" fill="#e7490c"/><rect x="868.2" fill="#e7490c"/><rect x="880.2" fill="#e4450a"/><rect x="892.2" fill="#e2430a"/><rect x="904.2" fill="#e2430a"/><rect x="916.2" fill="#e2430a"/><rect x="928.2" fill="#e2430a"/></g>
<g transform="translate(0 605.8)"><rect x="64.2" fill="#dd3d08"/><rect x="76.2" fill="#dd3d08"/><rect x="88.2" fill="#dd3d08"/><rect x="100.2" fill="#dd3d08"/><rect x="112.2" fill="#dd3d08"/><rect x="124.2" fill="#dd3d08"/><rect x="136.2" fill="#dd3d08"/><rect x="148.2" fill="#e14109"/><rect x="160.2" fill="#e2430a"/><rect x="172.2" fill="#e2430a"/><rect x="184.2" fill="#e2430a"/><rect x="196.2" fill="#e2430a"/><rect x="208.2" fill="#e4450a"/><rect x="220.2" fill="#eb500e"/><rect x="232.2" fill="#ec530f"/><rect x="244.2" fill="#ec530f"/><rect x="256.2" fill="#ec530f"/><rect x="268.2" fill="#ec530f"/><rect x="280.2" fill="#ed5510"/><rect x="292.2" fill="#f05b12"/><rect x="304.2" fill="#f05b12"/><rect x="316.2" fill="#f05b12"/><rect x="328.2" fill="#f05b12"/><rect x="340.2" fill="#f05b12"/><rect x="352.2" fill="#f05b12"/><rect x="364.2" fill="#ec530f"/><rect x="376.2" fill="#eb500e"/><rect x="388.2" fill="#e4450a"/><rect x="400.2" fill="#e2430a"/><rect x="412.2" fill="#e2430a"/><rect x="424.2" fill="#e2430a"/><rect x="436.2" fill="#e2430a"/><rect x="448.2" fill="#e2430a"/><rect x="460.2" fill="#e2430a"/><rect x="472.2" fill="#e2430a"/><rect x="484.2" fill="#e2430a"/><rect x="496.2" fill="#e2430a"/><rect x="508.2" fill="#e2430a"/><rect x="520.2" fill="#e2430a"/><rect x="532.2" fill="#e2430a"/><rect x="544.2" fill="#e4450a"/><rect x="556.2" fill="#e7490c"/><rect x="568.2" fill="#e7490c"/><rect x="580.2" fill="#e7490c"/><rect x="592.2" fill="#e7490c"/><rect x="604.2" fill="#e84b0c"/><rect x="616.2" fill="#eb500e"/><rect x="628.2" fill="#ec530f"/><rect x="640.2" fill="#eb500e"/><rect x="652.2" fill="#e84b0c"/><rect x="664.2" fill="#e7490c"/><rect x="676.2" fill="#e7490c"/><rect x="688.2" fill="#e7490c"/><rect x="700.2" fill="#e84b0c"/><rect x="712.2" fill="#eb500e"/><rect x="724.2" fill="#ec530f"/><rect x="736.2" fill="#ec530f"/><rect x="748.2" fill="#ec530f"/><rect x="760.2" fill="#ed5510"/><rect x="772.2" fill="#f05b12"/><rect x="784.2" fill="#f05b12"/><rect x="796.2" fill="#f05b12"/><rect x="808.2" fill="#f05b12"/><rect x="820.2" fill="#ef5811"/><rect x="832.2" fill="#ea4e0d"/><rect x="844.2" fill="#e7490c"/><rect x="856.2" fill="#e7490c"/><rect x="868.2" fill="#e7490c"/><rect x="880.2" fill="#e4450a"/><rect x="892.2" fill="#e2430a"/><rect x="904.2" fill="#e2430a"/><rect x="916.2" fill="#e2430a"/><rect x="928.2" fill="#e2430a"/></g>
</g></g>
<g fill="#000">
<line x1="126.0" y1="676.7" x2="114.6" y2="680.8" stroke="#000" stroke-width="2"/><path d="M100.0 685.9 112.7 675.3 116.6 686.2Z"/>
<line x1="126.0" y1="650.9" x2="115.6" y2="654.0" stroke="#000" stroke-width="2"/><path d="M100.8 658.3 114.0 648.4 117.3 659.5Z"/>
<line x1="126.0" y1="625.2" x2="116.8" y2="628.9" stroke="#000" stroke-width="2"/><path d="M102.4 634.6 114.6 623.5 118.9 634.2Z"/>
<line x1="126.0" y1="599.4" x2="116.9" y2="602.5" stroke="#000" stroke-width="2"/><path d="M102.2 607.4 115.0 597.0 118.7 608.0Z"/>
<line x1="126.0" y1="573.6" x2="119.8" y2="575.9" stroke="#000" stroke-width="2"/><path d="M105.3 581.3 117.8 570.5 121.9 581.3Z"/>
<line x1="126.0" y1="547.8" x2="121.3" y2="550.7" stroke="#000" stroke-width="2"/><path d="M108.2 559.0 118.3 545.8 124.4 555.7Z"/>
<line x1="126.0" y1="522.0" x2="120.6" y2="525.5" stroke="#000" stroke-width="2"/><path d="M107.6 533.9 117.4 520.7 123.7 530.4Z"/>
<line x1="126.0" y1="496.3" x2="125.5" y2="496.5" stroke="#000" stroke-width="2"/><path d="M111.4 502.9 123.1 491.2 127.9 501.7Z"/>
<path d="M113.1 479.1 122.8 465.7 129.2 475.3Z"/>
<path d="M113.5 453.9 122.6 440.0 129.4 449.4Z"/>
<path d="M112.1 425.7 123.5 413.7 128.5 424.1Z"/>
<path d="M113.4 402.1 122.6 388.4 129.4 397.9Z"/>
<path d="M110.5 341.9 125.9 335.8 126.1 347.4Z"/>
<path d="M111.2 320.5 124.3 310.3 127.7 321.3Z"/>
<line x1="151.8" y1="676.7" x2="139.6" y2="679.5" stroke="#000" stroke-width="2"/><path d="M124.5 682.9 138.3 673.8 140.9 685.1Z"/>
<line x1="151.8" y1="650.9" x2="141.3" y2="655.2" stroke="#000" stroke-width="2"/><path d="M126.9 661.0 139.1 649.8 143.5 660.6Z"/>
<line x1="151.8" y1="625.2" x2="141.9" y2="628.3" stroke="#000" stroke-width="2"/><path d="M127.1 633.1 140.1 622.8 143.7 633.9Z"/>
<line x1="151.8" y1="599.4" x2="141.7" y2="601.9" stroke="#000" stroke-width="2"/><path d="M126.7 605.7 140.3 596.3 143.1 607.6Z"/>
<line x1="151.8" y1="573.6" x2="144.8" y2="576.3" stroke="#000" stroke-width="2"/><path d="M130.3 581.9 142.7 570.9 146.9 581.7Z"/>
<line x1="151.8" y1="547.8" x2="147.3" y2="549.6" stroke="#000" stroke-width="2"/><path d="M132.8 555.1 145.2 544.2 149.3 555.0Z"/>
<line x1="151.8" y1="522.0" x2="147.6" y2="523.8" stroke="#000" stroke-width="2"/><path d="M133.4 529.9 145.4 518.5 149.9 529.1Z"/>
<line x1="151.8" y1="496.3" x2="150.9" y2="496.9" stroke="#000" stroke-width="2"/><path d="M138.3 506.0 147.5 492.2 154.3 501.6Z"/>
<path d="M137.9 477.3 149.3 465.3 154.3 475.7Z"/>
<path d="M138.5 452.7 148.8 439.7 154.8 449.7Z"/>
<path d="M139.6 428.5 148.2 414.4 155.4 423.5Z"/>
<path d="M140.7 403.9 147.8 389.0 155.8 397.3Z"/>
<path d="M139.0 350.3 148.5 336.8 155.1 346.4Z"/>
<path d="M140.3 326.1 147.9 311.5 155.7 320.1Z"/>
<line x1="177.6" y1="676.7" x2="166.0" y2="679.2" stroke="#000" stroke-width="2"/><path d="M150.9 682.4 164.8 673.5 167.3 684.8Z"/>
<line x1="177.6" y1="650.9" x2="167.3" y2="653.0" stroke="#000" stroke-width="2"/><path d="M152.1 655.9 166.2 647.3 168.5 658.6Z"/>
<line x1="177.6" y1="625.2" x2="168.3" y2="627.9" stroke="#000" stroke-width="2"/><path d="M153.4 632.2 166.7 622.3 169.9 633.4Z"/>
<line x1="177.6" y1="599.4" x2="168.6" y2="601.5" stroke="#000" stroke-width="2"/><path d="M153.5 605.1 167.2 595.9 169.9 607.2Z"/>
<line x1="177.6" y1="573.6" x2="171.8" y2="576.1" stroke="#000" stroke-width="2"/><path d="M157.5 582.2 169.5 570.7 174.1 581.4Z"/>
<line x1="177.6" y1="547.8" x2="174.3" y2="548.9" stroke="#000" stroke-width="2"/><path d="M159.6 553.9 172.4 543.5 176.1 554.4Z"/>
<line x1="177.6" y1="522.0" x2="175.6" y2="523.0" stroke="#000" stroke-width="2"/><path d="M161.6 529.7 173.1 517.8 178.1 528.2Z"/>
<line x1="177.6" y1="496.3" x2="176.9" y2="496.5" stroke="#000" stroke-width="2"/><path d="M162.2 501.4 175.1 491.0 178.7 502.0Z"/>
<path d="M163.1 475.9 175.6 465.0 179.6 475.9Z"/>
<path d="M165.2 454.0 174.1 440.1 181.1 449.3Z"/>
<path d="M166.0 429.2 173.8 414.6 181.4 423.3Z"/>
<path d="M166.8 404.3 173.4 389.1 181.8 397.2Z"/>
<path d="M183.0 356.1 172.2 343.6 183.0 339.6Z"/>
<line x1="203.4" y1="676.7" x2="194.6" y2="679.6" stroke="#000" stroke-width="2"/><path d="M179.8 684.4 192.8 674.1 196.4 685.1Z"/>
<line x1="203.4" y1="650.9" x2="195.4" y2="653.3" stroke="#000" stroke-width="2"/><path d="M180.5 657.6 193.8 647.7 197.0 658.8Z"/>
<line x1="203.4" y1="625.2" x2="196.5" y2="628.0" stroke="#000" stroke-width="2"/><path d="M182.2 634.0 194.3 622.7 198.8 633.4Z"/>
<line x1="203.4" y1="599.4" x2="197.5" y2="601.6" stroke="#000" stroke-width="2"/><path d="M182.9 606.9 195.5 596.1 199.5 607.0Z"/>
<line x1="203.4" y1="573.6" x2="199.5" y2="575.3" stroke="#000" stroke-width="2"/><path d="M185.2 581.3 197.2 569.9 201.7 580.6Z"/>
<line x1="203.4" y1="547.8" x2="201.0" y2="548.9" stroke="#000" stroke-width="2"/><path d="M186.8 555.0 198.7 543.5 203.3 554.2Z"/>
<line x1="203.4" y1="522.0" x2="201.7" y2="522.6" stroke="#000" stroke-width="2"/><path d="M187.0 527.5 199.9 517.1 203.5 528.1Z"/>
<line x1="203.4" y1="496.3" x2="202.5" y2="496.5" stroke="#000" stroke-width="2"/><path d="M187.6 501.0 200.8 491.0 204.2 502.1Z"/>
<path d="M188.2 473.3 202.4 464.8 204.4 476.2Z"/>
<path d="M188.4 448.6 202.0 439.1 204.8 450.3Z"/>
<path d="M189.4 425.6 200.9 413.7 205.9 424.2Z"/>
<path d="M189.9 400.8 200.6 388.1 206.2 398.2Z"/>
<path d="M212.8 379.7 198.8 370.9 208.0 363.9Z"/>
<path d="M217.7 347.6 201.1 346.9 205.7 336.2Z"/>
<line x1="229.2" y1="676.7" x2="223.0" y2="679.4" stroke="#000" stroke-width="2"/><path d="M208.8 685.7 220.6 674.1 225.3 684.8Z"/>
<line x1="229.2" y1="650.9" x2="223.2" y2="652.4" stroke="#000" stroke-width="2"/><path d="M208.1 655.9 221.8 646.7 224.5 658.0Z"/>
<line x1="229.2" y1="625.2" x2="224.0" y2="626.3" stroke="#000" stroke-width="2"/><path d="M208.8 629.6 222.7 620.6 225.2 632.0Z"/>
<line x1="229.2" y1="599.4" x2="225.0" y2="600.4" stroke="#000" stroke-width="2"/><path d="M209.9 604.1 223.6 594.8 226.3 606.0Z"/>
<line x1="229.2" y1="573.6" x2="226.0" y2="574.7" stroke="#000" stroke-width="2"/><path d="M211.4 579.7 224.2 569.2 227.9 580.2Z"/>
<line x1="229.2" y1="547.8" x2="226.5" y2="548.5" stroke="#000" stroke-width="2"/><path d="M211.6 552.6 225.0 542.9 228.0 554.1Z"/>
<line x1="229.2" y1="522.0" x2="226.3" y2="523.1" stroke="#000" stroke-width="2"/><path d="M211.8 528.6 224.3 517.7 228.4 528.5Z"/>
<line x1="229.2" y1="496.3" x2="226.0" y2="496.8" stroke="#000" stroke-width="2"/><path d="M210.7 499.1 225.1 491.0 226.8 502.5Z"/>
<line x1="229.2" y1="470.5" x2="228.0" y2="470.6" stroke="#000" stroke-width="2"/><path d="M212.7 472.9 227.2 464.9 228.9 476.4Z"/>
<path d="M214.1 448.3 227.9 439.1 230.5 450.3Z"/>
<path d="M214.7 424.4 227.1 413.5 231.3 424.3Z"/>
<path d="M221.7 406.7 224.1 390.3 234.3 395.9Z"/>
<path d="M238.1 380.0 224.5 370.7 233.9 364.0Z"/>
<line x1="255.0" y1="676.7" x2="249.6" y2="679.2" stroke="#000" stroke-width="2"/><path d="M235.6 685.8 247.2 674.0 252.1 684.5Z"/>
<line x1="255.0" y1="650.9" x2="249.7" y2="652.3" stroke="#000" stroke-width="2"/><path d="M234.7 656.0 248.3 646.6 251.2 657.9Z"/>
<line x1="255.0" y1="625.2" x2="250.6" y2="626.8" stroke="#000" stroke-width="2"/><path d="M236.1 632.3 248.6 621.4 252.7 632.2Z"/>
<line x1="255.0" y1="599.4" x2="251.4" y2="601.1" stroke="#000" stroke-width="2"/><path d="M237.4 607.7 248.9 595.8 253.9 606.3Z"/>
<line x1="255.0" y1="573.6" x2="251.6" y2="575.0" stroke="#000" stroke-width="2"/><path d="M237.3 581.0 249.4 569.6 253.9 580.4Z"/>
<line x1="255.0" y1="547.8" x2="251.3" y2="548.7" stroke="#000" stroke-width="2"/><path d="M236.2 552.5 249.9 543.1 252.7 554.4Z"/>
<line x1="255.0" y1="522.0" x2="251.1" y2="522.7" stroke="#000" stroke-width="2"/><path d="M235.8 525.3 250.1 517.0 252.1 528.4Z"/>
<line x1="255.0" y1="496.3" x2="250.9" y2="497.9" stroke="#000" stroke-width="2"/><path d="M236.5 503.8 248.7 492.6 253.1 503.3Z"/>
<line x1="255.0" y1="470.5" x2="252.5" y2="470.6" stroke="#000" stroke-width="2"/><path d="M237.1 471.5 252.2 464.8 252.9 476.4Z"/>
<path d="M240.2 449.4 253.2 439.2 256.8 450.2Z"/>
<path d="M239.5 419.4 254.8 413.1 255.2 424.7Z"/>
<path d="M240.0 397.1 253.5 387.5 256.5 398.8Z"/>
<line x1="280.8" y1="676.7" x2="273.9" y2="678.1" stroke="#000" stroke-width="2"/><path d="M258.7 681.2 272.7 672.4 275.0 683.8Z"/>
<line x1="280.8" y1="650.9" x2="274.6" y2="652.1" stroke="#000" stroke-width="2"/><path d="M259.4 654.9 273.6 646.4 275.7 657.8Z"/>
<line x1="280.8" y1="625.2" x2="275.7" y2="626.9" stroke="#000" stroke-width="2"/><path d="M261.0 631.8 273.8 621.4 277.5 632.4Z"/>
<line x1="280.8" y1="599.4" x2="276.2" y2="600.3" stroke="#000" stroke-width="2"/><path d="M261.0 603.3 275.1 594.6 277.3 606.0Z"/>
<line x1="280.8" y1="573.6" x2="276.5" y2="575.4" stroke="#000" stroke-width="2"/><path d="M262.1 581.3 274.3 570.0 278.7 580.7Z"/>
<line x1="280.8" y1="547.8" x2="275.2" y2="550.6" stroke="#000" stroke-width="2"/><path d="M261.2 557.4 272.6 545.4 277.7 555.8Z"/>
<line x1="280.8" y1="522.0" x2="274.0" y2="524.2" stroke="#000" stroke-width="2"/><path d="M259.2 529.0 272.2 518.7 275.7 529.8Z"/>
<line x1="280.8" y1="496.3" x2="277.5" y2="497.7" stroke="#000" stroke-width="2"/><path d="M263.3 504.0 275.1 492.4 279.8 503.0Z"/>
<line x1="280.8" y1="470.5" x2="280.3" y2="470.7" stroke="#000" stroke-width="2"/><path d="M265.8 476.1 278.3 465.2 282.3 476.1Z"/>
<path d="M266.5 450.7 278.5 439.4 283.1 450.0Z"/>
<path d="M266.5 424.9 278.6 413.6 283.0 424.3Z"/>
<path d="M265.5 395.3 280.0 387.4 281.6 398.9Z"/>
<line x1="306.6" y1="676.7" x2="297.6" y2="680.6" stroke="#000" stroke-width="2"/><path d="M283.4 686.8 295.3 675.3 299.9 685.9Z"/>
<line x1="306.6" y1="650.9" x2="298.5" y2="652.5" stroke="#000" stroke-width="2"/><path d="M283.3 655.6 297.4 646.9 299.6 658.2Z"/>
<line x1="306.6" y1="625.2" x2="300.1" y2="627.7" stroke="#000" stroke-width="2"/><path d="M285.6 633.3 298.0 622.3 302.2 633.1Z"/>
<line x1="306.6" y1="599.4" x2="300.5" y2="600.6" stroke="#000" stroke-width="2"/><path d="M285.3 603.6 299.4 594.9 301.6 606.3Z"/>
<line x1="306.6" y1="573.6" x2="301.4" y2="574.8" stroke="#000" stroke-width="2"/><path d="M286.2 578.2 300.1 569.1 302.6 580.4Z"/>
<line x1="306.6" y1="547.8" x2="299.9" y2="550.5" stroke="#000" stroke-width="2"/><path d="M285.5 556.2 297.8 545.1 302.1 555.9Z"/>
<line x1="306.6" y1="522.0" x2="298.7" y2="525.0" stroke="#000" stroke-width="2"/><path d="M284.2 530.5 296.7 519.6 300.7 530.4Z"/>
<line x1="306.6" y1="496.3" x2="302.2" y2="497.7" stroke="#000" stroke-width="2"/><path d="M287.6 502.7 300.4 492.2 304.1 503.2Z"/>
<path d="M291.9 475.4 304.7 465.0 308.5 476.0Z"/>
<path d="M292.0 449.8 304.7 439.2 308.5 450.2Z"/>
<path d="M304.9 434.3 300.8 418.3 312.4 419.6Z"/>
<path d="M291.1 392.7 306.8 387.3 306.4 398.9Z"/>
<line x1="332.4" y1="676.7" x2="320.3" y2="678.4" stroke="#000" stroke-width="2"/><path d="M305.0 680.6 319.5 672.7 321.1 684.2Z"/>
<line x1="332.4" y1="650.9" x2="322.7" y2="653.7" stroke="#000" stroke-width="2"/><path d="M307.8 658.1 321.1 648.2 324.3 659.3Z"/>
<line x1="332.4" y1="625.2" x2="324.6" y2="627.8" stroke="#000" stroke-width="2"/><path d="M310.0 632.9 322.7 622.4 326.5 633.3Z"/>
<line x1="332.4" y1="599.4" x2="324.6" y2="601.4" stroke="#000" stroke-width="2"/><path d="M309.6 605.3 323.1 595.8 326.1 607.0Z"/>
<line x1="332.4" y1="573.6" x2="327.0" y2="575.9" stroke="#000" stroke-width="2"/><path d="M312.8 581.9 324.8 570.5 329.3 581.2Z"/>
<line x1="332.4" y1="547.8" x2="327.8" y2="549.7" stroke="#000" stroke-width="2"/><path d="M313.5 555.5 325.6 544.3 330.0 555.1Z"/>
<line x1="332.4" y1="522.0" x2="327.5" y2="523.0" stroke="#000" stroke-width="2"/><path d="M312.2 525.9 326.4 517.3 328.6 528.7Z"/>
<line x1="332.4" y1="496.3" x2="330.2" y2="496.8" stroke="#000" stroke-width="2"/><path d="M315.1 500.5 328.8 491.2 331.6 502.4Z"/>
<line x1="332.4" y1="470.5" x2="331.9" y2="470.6" stroke="#000" stroke-width="2"/><path d="M316.7 473.5 330.8 464.9 333.0 476.3Z"/>
<line x1="358.2" y1="676.7" x2="346.7" y2="681.6" stroke="#000" stroke-width="2"/><path d="M332.4 687.6 344.5 676.2 349.0 686.9Z"/>
<line x1="358.2" y1="650.9" x2="348.3" y2="654.1" stroke="#000" stroke-width="2"/><path d="M333.5 658.7 346.5 648.5 350.0 659.6Z"/>
<line x1="358.2" y1="625.2" x2="350.2" y2="627.6" stroke="#000" stroke-width="2"/><path d="M335.4 632.0 348.5 622.0 351.9 633.1Z"/>
<line x1="358.2" y1="599.4" x2="350.7" y2="603.0" stroke="#000" stroke-width="2"/><path d="M336.7 609.7 348.2 597.8 353.2 608.2Z"/>
<line x1="358.2" y1="573.6" x2="353.2" y2="575.1" stroke="#000" stroke-width="2"/><path d="M338.3 579.6 351.5 569.6 354.9 580.7Z"/>
<line x1="358.2" y1="547.8" x2="355.5" y2="548.6" stroke="#000" stroke-width="2"/><path d="M340.6 553.0 353.9 543.0 357.1 554.2Z"/>
<line x1="358.2" y1="522.0" x2="356.5" y2="522.7" stroke="#000" stroke-width="2"/><path d="M342.1 528.5 354.3 517.3 358.6 528.1Z"/>
<line x1="358.2" y1="496.3" x2="356.4" y2="496.4" stroke="#000" stroke-width="2"/><path d="M341.0 497.5 356.0 490.6 356.9 502.2Z"/>
<line x1="358.2" y1="470.5" x2="355.7" y2="470.6" stroke="#000" stroke-width="2"/><path d="M340.2 471.3 355.4 464.8 356.0 476.4Z"/>
<line x1="384.0" y1="676.7" x2="373.7" y2="679.1" stroke="#000" stroke-width="2"/><path d="M358.6 682.6 372.4 673.4 375.0 684.7Z"/>
<line x1="384.0" y1="650.9" x2="376.0" y2="653.8" stroke="#000" stroke-width="2"/><path d="M361.4 658.9 374.1 648.3 377.9 659.2Z"/>
<line x1="384.0" y1="625.2" x2="377.3" y2="627.0" stroke="#000" stroke-width="2"/><path d="M362.3 631.0 375.8 621.4 378.8 632.6Z"/>
<line x1="384.0" y1="599.4" x2="378.4" y2="600.9" stroke="#000" stroke-width="2"/><path d="M363.4 605.0 376.8 595.3 379.9 606.5Z"/>
<line x1="384.0" y1="573.6" x2="381.4" y2="575.0" stroke="#000" stroke-width="2"/><path d="M367.6 582.1 378.7 569.8 384.1 580.1Z"/>
<line x1="384.0" y1="547.8" x2="381.9" y2="548.9" stroke="#000" stroke-width="2"/><path d="M368.0 555.9 379.2 543.7 384.5 554.1Z"/>
<line x1="384.0" y1="522.0" x2="382.9" y2="522.2" stroke="#000" stroke-width="2"/><path d="M367.7 525.0 381.9 516.5 384.0 527.9Z"/>
<line x1="384.0" y1="496.3" x2="383.4" y2="496.2" stroke="#000" stroke-width="2"/><path d="M367.9 495.9 383.5 490.4 383.3 502.0Z"/>
<line x1="384.0" y1="470.5" x2="382.6" y2="470.7" stroke="#000" stroke-width="2"/><path d="M367.3 473.2 381.7 465.0 383.6 476.4Z"/>
<line x1="409.8" y1="676.7" x2="403.2" y2="678.9" stroke="#000" stroke-width="2"/><path d="M388.5 683.9 401.4 673.4 405.1 684.4Z"/>
<line x1="409.8" y1="650.9" x2="404.3" y2="652.7" stroke="#000" stroke-width="2"/><path d="M389.5 657.4 402.6 647.1 406.1 658.2Z"/>
<line x1="409.8" y1="625.2" x2="405.8" y2="626.9" stroke="#000" stroke-width="2"/><path d="M391.5 633.0 403.5 621.6 408.1 632.2Z"/>
<line x1="409.8" y1="599.4" x2="407.0" y2="600.6" stroke="#000" stroke-width="2"/><path d="M392.8 606.8 404.7 595.3 409.4 605.9Z"/>
<line x1="409.8" y1="573.6" x2="407.7" y2="574.5" stroke="#000" stroke-width="2"/><path d="M393.6 580.8 405.4 569.2 410.1 579.8Z"/>
<line x1="409.8" y1="547.8" x2="407.5" y2="548.7" stroke="#000" stroke-width="2"/><path d="M393.2 554.6 405.4 543.4 409.7 554.1Z"/>
<line x1="409.8" y1="522.0" x2="409.1" y2="522.2" stroke="#000" stroke-width="2"/><path d="M394.1 525.8 407.8 516.6 410.5 527.8Z"/>
<path d="M394.5 498.6 408.9 490.5 410.7 502.0Z"/>
<line x1="435.6" y1="676.7" x2="430.0" y2="678.8" stroke="#000" stroke-width="2"/><path d="M415.5 684.3 427.9 673.4 432.1 684.3Z"/>
<line x1="435.6" y1="650.9" x2="431.2" y2="652.2" stroke="#000" stroke-width="2"/><path d="M416.3 656.6 429.5 646.7 432.8 657.8Z"/>
<line x1="435.6" y1="625.2" x2="433.2" y2="626.6" stroke="#000" stroke-width="2"/><path d="M419.9 634.6 430.2 621.7 436.2 631.6Z"/>
<line x1="435.6" y1="599.4" x2="434.2" y2="600.0" stroke="#000" stroke-width="2"/><path d="M420.1 606.4 431.8 594.7 436.6 605.3Z"/>
<line x1="435.6" y1="573.6" x2="434.9" y2="573.9" stroke="#000" stroke-width="2"/><path d="M420.7 580.1 432.6 568.6 437.2 579.2Z"/>
<path d="M423.3 557.2 432.1 543.2 439.1 552.4Z"/>
<path d="M425.4 533.7 431.2 518.2 440.0 525.9Z"/>
<path d="M421.3 502.2 433.4 490.9 437.8 501.6Z"/>
<line x1="461.4" y1="676.7" x2="453.2" y2="679.9" stroke="#000" stroke-width="2"/><path d="M438.7 685.6 451.0 674.5 455.3 685.3Z"/>
<line x1="461.4" y1="650.9" x2="456.1" y2="653.5" stroke="#000" stroke-width="2"/><path d="M442.1 660.3 453.6 648.3 458.6 658.7Z"/>
<line x1="461.4" y1="625.2" x2="459.5" y2="626.2" stroke="#000" stroke-width="2"/><path d="M445.9 633.8 456.6 621.2 462.3 631.3Z"/>
<path d="M447.8 606.9 458.6 594.3 464.2 604.5Z"/>
<path d="M449.7 583.7 457.6 569.2 465.2 578.0Z"/>
<path d="M451.9 560.1 456.8 544.3 466.0 551.4Z"/>
<path d="M454.3 535.8 456.2 519.4 466.6 524.7Z"/>
<path d="M450.2 506.9 457.4 492.1 465.4 500.5Z"/>
<line x1="487.2" y1="676.7" x2="475.5" y2="680.1" stroke="#000" stroke-width="2"/><path d="M460.6 684.4 473.8 674.5 477.1 685.7Z"/>
<line x1="487.2" y1="650.9" x2="479.3" y2="652.9" stroke="#000" stroke-width="2"/><path d="M464.3 656.6 477.9 647.3 480.7 658.5Z"/>
<line x1="487.2" y1="625.2" x2="486.6" y2="625.7" stroke="#000" stroke-width="2"/><path d="M475.8 636.8 482.5 621.7 490.8 629.8Z"/>
<path d="M477.0 611.0 482.8 595.5 491.6 603.2Z"/>
<path d="M473.9 581.6 484.2 568.6 490.2 578.6Z"/>
<path d="M473.1 554.3 484.8 542.6 489.6 553.1Z"/>
<path d="M476.2 532.9 483.1 517.9 491.3 526.2Z"/>
<path d="M476.3 507.3 483.1 492.2 491.3 500.3Z"/>
<path d="M474.9 479.9 483.7 465.9 490.7 475.1Z"/>
<path d="M473.3 451.6 484.6 439.5 489.8 449.9Z"/>
<line x1="513.0" y1="676.7" x2="501.6" y2="680.9" stroke="#000" stroke-width="2"/><path d="M487.0 686.3 499.6 675.5 503.6 686.4Z"/>
<line x1="513.0" y1="650.9" x2="505.8" y2="653.1" stroke="#000" stroke-width="2"/><path d="M491.0 657.7 504.1 647.6 507.5 658.7Z"/>
<path d="M504.4 638.1 508.2 622.0 517.8 628.4Z"/>
<path d="M508.3 614.1 507.5 597.6 518.5 601.1Z"/>
<path d="M501.1 583.5 509.3 569.1 516.7 578.1Z"/>
<path d="M499.0 554.4 510.5 542.6 515.5 553.1Z"/>
<path d="M499.1 528.9 510.5 516.8 515.5 527.2Z"/>
<path d="M498.6 501.9 510.9 490.9 515.1 501.7Z"/>
<path d="M499.3 477.8 510.3 465.4 515.7 475.6Z"/>
<path d="M499.8 452.8 510.0 439.7 516.0 449.7Z"/>
<line x1="538.8" y1="676.7" x2="529.0" y2="680.2" stroke="#000" stroke-width="2"/><path d="M514.4 685.3 527.1 674.7 531.0 685.6Z"/>
<line x1="538.8" y1="650.9" x2="525.2" y2="654.0" stroke="#000" stroke-width="2"/><path d="M510.1 657.4 524.0 648.3 526.5 659.6Z"/>
<line x1="538.8" y1="625.2" x2="534.2" y2="628.4" stroke="#000" stroke-width="2"/><path d="M521.6 637.3 530.9 623.6 537.6 633.1Z"/>
<path d="M530.1 612.2 534.0 596.1 543.6 602.6Z"/>
<path d="M526.0 582.4 535.5 568.8 542.1 578.4Z"/>
<path d="M524.4 553.6 536.6 542.4 541.0 553.2Z"/>
<path d="M523.6 525.1 537.7 516.4 539.9 527.7Z"/>
<path d="M523.4 498.0 538.2 490.5 539.4 502.0Z"/>
<path d="M524.8 477.1 536.3 465.2 541.3 475.7Z"/>
<path d="M525.5 452.7 535.8 439.7 541.8 449.7Z"/>
<path d="M551.2 222.0 535.3 217.3 542.3 208.1Z"/>
<line x1="564.6" y1="676.7" x2="553.0" y2="678.1" stroke="#000" stroke-width="2"/><path d="M537.6 680.0 552.3 672.3 553.7 683.9Z"/>
<line x1="564.6" y1="650.9" x2="546.1" y2="653.3" stroke="#000" stroke-width="2"/><path d="M530.7 655.2 545.4 647.5 546.9 659.0Z"/>
<line x1="564.6" y1="625.2" x2="548.0" y2="630.1" stroke="#000" stroke-width="2"/><path d="M533.2 634.6 546.4 624.6 549.7 635.7Z"/>
<line x1="564.6" y1="599.4" x2="558.9" y2="600.9" stroke="#000" stroke-width="2"/><path d="M543.9 605.0 557.4 595.3 560.4 606.5Z"/>
<line x1="564.6" y1="573.6" x2="561.7" y2="574.4" stroke="#000" stroke-width="2"/><path d="M546.8 578.6 560.2 568.8 563.3 580.0Z"/>
<line x1="564.6" y1="547.8" x2="564.0" y2="548.1" stroke="#000" stroke-width="2"/><path d="M549.5 553.6 561.9 542.6 566.1 553.5Z"/>
<path d="M549.1 522.4 564.5 516.2 564.7 527.8Z"/>
<path d="M549.1 497.3 564.2 490.5 565.0 502.0Z"/>
<path d="M549.6 474.6 563.1 464.9 566.1 476.1Z"/>
<path d="M550.2 450.6 562.4 439.3 566.8 450.1Z"/>
<path d="M550.4 244.6 562.3 233.1 566.9 243.8Z"/>
<path d="M549.1 213.4 564.3 206.9 564.9 218.5Z"/>
<path d="M554.5 198.7 560.2 183.1 569.0 190.7Z"/>
<line x1="590.4" y1="676.7" x2="575.1" y2="680.9" stroke="#000" stroke-width="2"/><path d="M560.1 684.9 573.6 675.3 576.6 686.5Z"/>
<line x1="590.4" y1="650.9" x2="579.8" y2="653.0" stroke="#000" stroke-width="2"/><path d="M564.6 655.9 578.7 647.3 580.9 658.7Z"/>
<line x1="590.4" y1="625.2" x2="582.0" y2="628.0" stroke="#000" stroke-width="2"/><path d="M567.3 633.0 580.2 622.5 583.9 633.5Z"/>
<line x1="590.4" y1="599.4" x2="582.6" y2="601.1" stroke="#000" stroke-width="2"/><path d="M567.5 604.3 581.4 595.4 583.9 606.7Z"/>
<line x1="590.4" y1="573.6" x2="583.4" y2="577.1" stroke="#000" stroke-width="2"/><path d="M569.6 584.1 580.8 571.9 586.0 582.3Z"/>
<line x1="590.4" y1="547.8" x2="588.9" y2="548.5" stroke="#000" stroke-width="2"/><path d="M574.6 554.4 586.6 543.1 591.1 553.8Z"/>
<line x1="590.4" y1="522.0" x2="589.4" y2="522.4" stroke="#000" stroke-width="2"/><path d="M574.7 527.3 587.6 516.9 591.3 527.9Z"/>
<path d="M575.2 499.1 589.3 490.6 591.5 502.0Z"/>
<path d="M576.5 231.6 593.0 233.3 587.8 243.7Z"/>
<path d="M586.0 227.5 584.8 211.0 596.0 214.3Z"/>
<path d="M590.1 202.4 584.6 186.8 596.2 187.0Z"/>
<path d="M588.3 145.8 596.1 160.3 584.7 161.9Z"/>
<line x1="616.2" y1="676.7" x2="605.6" y2="677.9" stroke="#000" stroke-width="2"/><path d="M590.2 679.6 605.0 672.1 606.2 683.7Z"/>
<line x1="616.2" y1="650.9" x2="612.2" y2="652.2" stroke="#000" stroke-width="2"/><path d="M597.3 656.8 610.4 646.7 613.9 657.7Z"/>
<line x1="616.2" y1="625.2" x2="613.2" y2="626.0" stroke="#000" stroke-width="2"/><path d="M598.4 630.4 611.6 620.5 614.9 631.6Z"/>
<line x1="616.2" y1="599.4" x2="605.1" y2="601.9" stroke="#000" stroke-width="2"/><path d="M590.0 605.4 603.8 596.3 606.4 607.6Z"/>
<line x1="616.2" y1="573.6" x2="597.4" y2="578.5" stroke="#000" stroke-width="2"/><path d="M582.4 582.4 596.0 572.9 598.9 584.1Z"/>
<line x1="616.2" y1="547.8" x2="612.7" y2="549.6" stroke="#000" stroke-width="2"/><path d="M598.8 556.5 610.1 544.4 615.3 554.8Z"/>
<line x1="616.2" y1="522.0" x2="613.9" y2="522.8" stroke="#000" stroke-width="2"/><path d="M599.1 527.4 612.2 517.2 615.7 528.3Z"/>
<line x1="616.2" y1="496.3" x2="615.2" y2="496.6" stroke="#000" stroke-width="2"/><path d="M600.8 502.3 613.1 491.2 617.3 502.0Z"/>
<path d="M602.5 477.7 613.5 465.3 618.9 475.6Z"/>
<path d="M629.1 229.8 619.4 243.3 613.0 233.6Z"/>
<path d="M622.6 226.8 610.9 215.1 621.5 210.3Z"/>
<path d="M600.7 187.0 616.2 181.1 616.2 192.7Z"/>
<path d="M626.3 172.9 611.8 164.9 620.6 157.4Z"/>
<line x1="642.0" y1="676.7" x2="636.4" y2="679.0" stroke="#000" stroke-width="2"/><path d="M622.1 684.9 634.2 673.7 638.6 684.4Z"/>
<line x1="642.0" y1="650.9" x2="635.9" y2="653.1" stroke="#000" stroke-width="2"/><path d="M621.4 658.4 634.0 647.7 637.9 658.6Z"/>
<line x1="642.0" y1="625.2" x2="640.2" y2="625.5" stroke="#000" stroke-width="2"/><path d="M625.0 628.7 639.0 619.8 641.4 631.2Z"/>
<line x1="642.0" y1="599.4" x2="636.3" y2="600.7" stroke="#000" stroke-width="2"/><path d="M621.2 604.1 635.1 595.0 637.6 606.3Z"/>
<line x1="642.0" y1="573.6" x2="631.0" y2="578.0" stroke="#000" stroke-width="2"/><path d="M616.6 583.7 628.9 572.6 633.2 583.4Z"/>
<line x1="642.0" y1="547.8" x2="634.8" y2="549.7" stroke="#000" stroke-width="2"/><path d="M619.8 553.5 633.4 544.0 636.2 555.3Z"/>
<line x1="642.0" y1="522.0" x2="638.5" y2="523.0" stroke="#000" stroke-width="2"/><path d="M623.5 527.1 637.0 517.4 640.0 528.6Z"/>
<line x1="642.0" y1="496.3" x2="641.3" y2="496.5" stroke="#000" stroke-width="2"/><path d="M626.9 502.1 639.2 491.1 643.4 501.9Z"/>
<path d="M627.9 476.8 639.6 465.2 644.4 475.8Z"/>
<path d="M657.5 237.3 642.4 244.2 641.6 232.7Z"/>
<path d="M657.5 213.2 641.8 218.5 642.2 206.9Z"/>
<path d="M648.4 201.0 636.7 189.3 647.3 184.5Z"/>
<path d="M682.1 682.7 665.6 682.1 670.0 671.4Z"/>
<path d="M666.4 635.5 673.6 650.4 662.0 651.5Z"/>
<line x1="667.8" y1="625.2" x2="664.8" y2="626.2" stroke="#000" stroke-width="2"/><path d="M650.1 631.1 662.9 620.7 666.6 631.7Z"/>
<line x1="667.8" y1="599.4" x2="662.1" y2="601.4" stroke="#000" stroke-width="2"/><path d="M647.5 606.6 660.1 595.9 664.0 606.9Z"/>
<line x1="667.8" y1="573.6" x2="660.8" y2="576.1" stroke="#000" stroke-width="2"/><path d="M646.2 581.4 658.8 570.7 662.7 581.6Z"/>
<line x1="667.8" y1="547.8" x2="659.8" y2="550.7" stroke="#000" stroke-width="2"/><path d="M645.3 556.0 657.8 545.3 661.8 556.2Z"/>
<line x1="667.8" y1="522.0" x2="662.0" y2="523.8" stroke="#000" stroke-width="2"/><path d="M647.2 528.4 660.3 518.3 663.7 529.4Z"/>
<line x1="667.8" y1="496.3" x2="667.0" y2="496.8" stroke="#000" stroke-width="2"/><path d="M654.3 505.7 663.7 492.0 670.4 501.5Z"/>
<path d="M655.4 479.8 664.3 465.9 671.3 475.1Z"/>
<path d="M655.1 453.6 664.5 440.0 671.1 449.4Z"/>
<path d="M655.0 427.7 664.5 414.1 671.1 423.7Z"/>
<path d="M652.4 214.5 667.1 206.9 668.5 218.4Z"/>
<path d="M702.9 664.3 698.2 680.2 689.0 673.2Z"/>
<path d="M702.6 638.3 698.3 654.3 688.9 647.6Z"/>
<path d="M681.1 634.3 690.2 620.5 697.0 629.8Z"/>
<line x1="693.6" y1="599.4" x2="691.4" y2="600.6" stroke="#000" stroke-width="2"/><path d="M677.8 608.2 688.5 595.6 694.2 605.7Z"/>
<line x1="693.6" y1="573.6" x2="671.3" y2="580.9" stroke="#000" stroke-width="2"/><path d="M656.5 585.7 669.5 575.4 673.1 586.4Z"/>
<line x1="693.6" y1="547.8" x2="680.6" y2="553.3" stroke="#000" stroke-width="2"/><path d="M666.3 559.3 678.3 548.0 682.9 558.6Z"/>
<line x1="693.6" y1="522.0" x2="683.8" y2="526.3" stroke="#000" stroke-width="2"/><path d="M669.6 532.4 681.5 520.9 686.1 531.6Z"/>
<line x1="693.6" y1="496.3" x2="692.2" y2="496.9" stroke="#000" stroke-width="2"/><path d="M678.1 503.3 689.8 491.6 694.7 502.2Z"/>
<path d="M679.8 477.5 691.0 465.3 696.2 475.7Z"/>
<path d="M680.3 452.6 690.6 439.7 696.6 449.7Z"/>
<path d="M680.0 271.7 690.8 259.2 696.4 269.3Z"/>
<path d="M678.1 213.4 693.3 206.9 693.9 218.5Z"/>
<path d="M709.1 665.2 723.7 672.9 715.1 680.6Z"/>
<path d="M719.6 635.4 725.2 651.0 713.6 650.8Z"/>
<line x1="719.4" y1="625.2" x2="720.6" y2="626.0" stroke="#000" stroke-width="2"/><path d="M733.5 634.5 717.4 630.8 723.8 621.1Z"/>
<path d="M707.8 609.7 715.5 595.0 723.3 603.7Z"/>
<line x1="719.4" y1="573.6" x2="709.3" y2="578.7" stroke="#000" stroke-width="2"/><path d="M695.4 585.7 706.7 573.5 711.9 583.9Z"/>
<line x1="719.4" y1="547.8" x2="709.9" y2="552.5" stroke="#000" stroke-width="2"/><path d="M696.0 559.3 707.4 547.3 712.5 557.7Z"/>
<line x1="719.4" y1="522.0" x2="715.5" y2="524.0" stroke="#000" stroke-width="2"/><path d="M701.7 531.0 712.9 518.8 718.1 529.2Z"/>
<path d="M705.8 503.6 716.6 491.2 722.2 501.4Z"/>
<path d="M705.3 476.9 717.0 465.2 721.8 475.8Z"/>
<path d="M706.1 452.7 716.4 439.7 722.4 449.7Z"/>
<path d="M705.2 270.6 717.0 258.9 721.8 269.5Z"/>
<path d="M705.1 244.4 717.2 233.1 721.6 243.8Z"/>
<path d="M744.3 692.2 739.4 676.4 751.0 677.1Z"/>
<path d="M744.3 635.5 751.0 650.6 739.4 651.3Z"/>
<line x1="745.2" y1="625.2" x2="744.3" y2="624.3" stroke="#000" stroke-width="2"/><path d="M733.3 613.4 748.4 620.2 740.2 628.4Z"/>
<line x1="745.2" y1="599.4" x2="745.1" y2="600.8" stroke="#000" stroke-width="2"/><path d="M744.2 616.3 739.3 600.5 750.9 601.2Z"/>
<path d="M735.0 585.2 740.8 569.8 749.6 577.4Z"/>
<line x1="745.2" y1="547.8" x2="741.1" y2="549.7" stroke="#000" stroke-width="2"/><path d="M727.1 556.3 738.7 544.5 743.6 555.0Z"/>
<line x1="745.2" y1="522.0" x2="742.2" y2="523.7" stroke="#000" stroke-width="2"/><path d="M728.6 531.0 739.4 518.6 745.0 528.8Z"/>
<line x1="745.2" y1="496.3" x2="744.2" y2="496.9" stroke="#000" stroke-width="2"/><path d="M731.2 505.4 741.0 492.1 747.4 501.8Z"/>
<line x1="745.2" y1="470.5" x2="744.5" y2="470.9" stroke="#000" stroke-width="2"/><path d="M731.0 478.4 741.7 465.8 747.3 475.9Z"/>
<path d="M732.6 376.3 741.8 362.6 748.6 372.1Z"/>
<path d="M734.4 352.7 741.1 337.5 749.3 345.6Z"/>
<path d="M731.9 272.3 742.2 259.3 748.2 269.2Z"/>
<path d="M731.9 246.5 742.2 233.5 748.2 243.4Z"/>
<path d="M730.7 218.1 743.2 207.2 747.2 218.1Z"/>
<path d="M756.4 671.5 773.0 671.3 769.0 682.2Z"/>
<path d="M759.4 640.7 774.8 646.6 767.2 655.3Z"/>
<path d="M755.6 623.5 771.6 619.4 770.4 630.9Z"/>
<line x1="771.0" y1="599.4" x2="770.9" y2="600.8" stroke="#000" stroke-width="2"/><path d="M769.6 616.3 765.1 600.4 776.7 601.3Z"/>
<line x1="771.0" y1="573.6" x2="768.6" y2="575.7" stroke="#000" stroke-width="2"/><path d="M756.9 585.9 764.8 571.3 772.4 580.1Z"/>
<line x1="771.0" y1="547.8" x2="757.1" y2="554.6" stroke="#000" stroke-width="2"/><path d="M743.1 561.3 754.6 549.3 759.6 559.8Z"/>
<line x1="771.0" y1="522.0" x2="766.8" y2="525.1" stroke="#000" stroke-width="2"/><path d="M754.1 534.0 763.4 520.3 770.1 529.8Z"/>
<line x1="771.0" y1="496.3" x2="767.2" y2="498.0" stroke="#000" stroke-width="2"/><path d="M753.2 504.6 764.8 492.8 769.7 503.3Z"/>
<line x1="771.0" y1="470.5" x2="769.3" y2="471.4" stroke="#000" stroke-width="2"/><path d="M755.7 478.8 766.5 466.3 772.1 476.5Z"/>
<path d="M758.5 402.4 767.5 388.5 774.5 397.8Z"/>
<path d="M759.3 377.5 767.2 363.0 774.8 371.7Z"/>
<path d="M759.6 352.1 767.1 337.3 774.9 345.9Z"/>
<path d="M757.2 219.8 768.3 207.5 773.7 217.8Z"/>
<path d="M782.1 671.8 798.6 671.2 795.0 682.2Z"/>
<path d="M798.5 666.3 791.0 651.6 802.6 650.3Z"/>
<path d="M812.3 625.9 796.5 631.0 797.1 619.4Z"/>
<line x1="796.8" y1="599.4" x2="796.3" y2="600.6" stroke="#000" stroke-width="2"/><path d="M790.4 615.0 790.9 598.5 801.7 602.8Z"/>
<line x1="796.8" y1="573.6" x2="779.5" y2="582.0" stroke="#000" stroke-width="2"/><path d="M765.6 588.7 777.0 576.7 782.1 587.2Z"/>
<line x1="796.8" y1="547.8" x2="785.4" y2="552.3" stroke="#000" stroke-width="2"/><path d="M771.0 558.1 783.3 546.9 787.6 557.7Z"/>
<line x1="796.8" y1="522.0" x2="792.4" y2="525.4" stroke="#000" stroke-width="2"/><path d="M780.0 534.8 788.9 520.8 795.9 530.0Z"/>
<line x1="796.8" y1="496.3" x2="793.5" y2="498.8" stroke="#000" stroke-width="2"/><path d="M781.2 508.2 790.0 494.2 797.0 503.4Z"/>
<path d="M789.6 406.9 791.7 390.5 801.9 395.8Z"/>
<path d="M787.6 379.8 792.1 363.9 801.5 370.8Z"/>
<path d="M789.6 355.3 791.7 338.9 801.9 344.3Z"/>
<path d="M788.7 329.0 791.8 312.8 801.8 318.8Z"/>
<path d="M782.7 219.1 794.4 207.4 799.2 218.0Z"/>
<path d="M835.8 684.9 819.5 681.6 825.7 671.8Z"/>
<path d="M838.0 652.4 822.0 656.7 823.2 645.2Z"/>
<line x1="822.6" y1="625.2" x2="823.3" y2="625.2" stroke="#000" stroke-width="2"/><path d="M838.8 626.2 823.0 631.0 823.7 619.4Z"/>
<line x1="822.6" y1="599.4" x2="823.4" y2="600.3" stroke="#000" stroke-width="2"/><path d="M833.2 612.3 818.9 604.0 827.9 596.7Z"/>
<path d="M809.4 581.7 819.6 568.7 825.6 578.5Z"/>
<line x1="822.6" y1="547.8" x2="818.2" y2="550.5" stroke="#000" stroke-width="2"/><path d="M805.0 558.6 815.2 545.6 821.2 555.5Z"/>
<line x1="822.6" y1="522.0" x2="815.9" y2="526.4" stroke="#000" stroke-width="2"/><path d="M803.0 534.9 812.8 521.6 819.1 531.3Z"/>
<path d="M821.5 408.6 816.8 392.7 828.4 393.5Z"/>
<path d="M819.0 382.4 817.0 366.0 828.2 368.7Z"/>
<path d="M818.2 356.4 817.0 339.9 828.2 343.2Z"/>
<path d="M815.2 329.4 817.5 313.0 827.7 318.6Z"/>
<path d="M811.5 223.5 818.5 208.5 826.7 216.8Z"/>
<path d="M811.4 197.6 818.6 182.7 826.6 191.1Z"/>
<path d="M842.2 690.9 843.1 674.4 853.7 679.0Z"/>
<path d="M846.5 635.6 854.2 650.2 842.6 651.6Z"/>
<line x1="848.4" y1="625.2" x2="849.3" y2="625.1" stroke="#000" stroke-width="2"/><path d="M864.8 624.3 849.6 630.9 849.0 619.3Z"/>
<path d="M863.9 600.1 848.1 605.2 848.7 593.6Z"/>
<path d="M835.6 582.4 845.1 568.8 851.7 578.4Z"/>
<line x1="848.4" y1="547.8" x2="836.8" y2="555.8" stroke="#000" stroke-width="2"/><path d="M824.1 564.6 833.5 551.0 840.1 560.6Z"/>
<line x1="848.4" y1="522.0" x2="841.7" y2="528.6" stroke="#000" stroke-width="2"/><path d="M830.7 539.5 837.7 524.5 845.8 532.7Z"/>
<path d="M850.1 434.3 842.6 419.5 854.2 418.3Z"/>
<path d="M849.7 408.6 842.6 393.6 854.2 392.7Z"/>
<path d="M849.1 382.8 842.6 367.6 854.2 367.1Z"/>
<path d="M848.1 357.1 842.6 341.5 854.2 341.7Z"/>
<path d="M845.6 331.0 842.7 314.8 854.1 316.8Z"/>
<path d="M844.2 304.9 842.8 288.4 854.0 291.6Z"/>
<path d="M845.9 202.2 842.7 186.0 854.1 187.8Z"/>
<path d="M860.5 684.0 871.5 671.6 876.9 681.8Z"/>
<path d="M880.3 636.7 879.5 653.2 868.9 648.6Z"/>
<line x1="874.2" y1="625.2" x2="873.7" y2="625.2" stroke="#000" stroke-width="2"/><path d="M858.2 625.1 873.7 619.4 873.6 631.0Z"/>
<path d="M858.8 597.5 874.9 593.6 873.5 605.1Z"/>
<line x1="874.2" y1="573.6" x2="861.5" y2="578.6" stroke="#000" stroke-width="2"/><path d="M847.1 584.3 859.3 573.2 863.6 584.0Z"/>
<line x1="874.2" y1="547.8" x2="862.9" y2="553.2" stroke="#000" stroke-width="2"/><path d="M849.0 559.8 860.5 547.9 865.4 558.4Z"/>
<line x1="874.2" y1="522.0" x2="866.6" y2="527.5" stroke="#000" stroke-width="2"/><path d="M854.0 536.5 863.2 522.8 870.0 532.2Z"/>
<line x1="874.2" y1="496.3" x2="870.0" y2="499.0" stroke="#000" stroke-width="2"/><path d="M857.0 507.5 866.8 494.2 873.2 503.9Z"/>
<path d="M878.4 459.6 868.6 446.3 879.8 443.1Z"/>
<path d="M877.5 434.1 868.5 420.1 879.9 417.7Z"/>
<path d="M876.7 408.4 868.5 394.1 879.9 392.2Z"/>
<path d="M876.8 382.6 868.5 368.3 879.9 366.4Z"/>
<path d="M873.6 357.1 868.4 341.4 880.0 341.8Z"/>
<path d="M870.8 330.9 868.5 314.5 879.9 317.1Z"/>
<path d="M873.8 305.5 868.4 289.9 880.0 290.2Z"/>
<path d="M872.5 279.6 868.4 263.6 880.0 264.9Z"/>
<path d="M868.9 253.0 868.7 236.5 879.7 240.4Z"/>
<path d="M869.5 227.5 868.7 210.9 879.7 214.4Z"/>
<path d="M871.2 202.1 868.5 185.8 879.9 188.0Z"/>
<path d="M870.2 176.1 868.6 159.6 879.8 162.6Z"/>
<line x1="900.0" y1="676.7" x2="898.9" y2="677.3" stroke="#000" stroke-width="2"/><path d="M884.9 684.0 896.3 672.0 901.4 682.5Z"/>
<path d="M886.3 643.8 902.7 645.8 897.3 656.1Z"/>
<path d="M884.5 625.8 899.8 619.4 900.2 631.0Z"/>
<line x1="900.0" y1="599.4" x2="898.5" y2="599.5" stroke="#000" stroke-width="2"/><path d="M883.1 600.8 898.0 593.7 899.0 605.3Z"/>
<line x1="900.0" y1="573.6" x2="894.1" y2="575.3" stroke="#000" stroke-width="2"/><path d="M879.2 579.5 892.5 569.7 895.7 580.9Z"/>
<line x1="900.0" y1="547.8" x2="894.2" y2="551.1" stroke="#000" stroke-width="2"/><path d="M880.7 558.8 891.3 546.1 897.0 556.2Z"/>
<line x1="900.0" y1="522.0" x2="893.7" y2="526.4" stroke="#000" stroke-width="2"/><path d="M880.9 535.2 890.4 521.6 897.0 531.2Z"/>
<line x1="900.0" y1="496.3" x2="897.3" y2="498.0" stroke="#000" stroke-width="2"/><path d="M884.4 506.5 894.1 493.2 900.5 502.9Z"/>
<path d="M902.2 460.0 894.3 445.5 905.7 443.9Z"/>
<path d="M904.0 433.9 894.4 420.4 905.6 417.4Z"/>
<path d="M900.7 408.6 894.2 393.4 905.8 392.9Z"/>
<path d="M901.6 382.8 894.2 368.0 905.8 366.8Z"/>
<path d="M897.5 356.9 894.3 340.6 905.7 342.5Z"/>
<path d="M898.2 331.2 894.2 315.1 905.8 316.5Z"/>
<path d="M899.6 305.5 894.2 289.9 905.8 290.2Z"/>
<path d="M898.9 279.7 894.2 263.8 905.8 264.7Z"/>
<path d="M898.0 253.8 894.2 237.7 905.8 239.2Z"/>
<path d="M896.2 227.7 894.4 211.3 905.6 214.1Z"/>
<path d="M896.6 202.0 894.3 185.6 905.7 188.2Z"/>
<path d="M896.5 176.2 894.4 159.8 905.6 162.4Z"/>
</g>
<g fill="#0e6a24" stroke="#000" stroke-width="1">
<path d="M96 146 L904 146 L904 153.5 L871.4 161.1 L839.8 170.4 L821.3 176 L806.4 181.6 L797.1 187.1 L784.1 200.1 L776.7 205.7 L779.6 207.8 L774.7 204.5 L761.6 207.8 L751.8 207.8 L738.7 212.7 L732.2 217.6 L725.6 227.5 L714.2 234 L710.9 242.2 L702.7 242.2 L689.6 243.8 L679.8 250.4 L679.8 261.8 L686.4 268.4 L697.8 271.6 L707.6 270 L709.3 278.2 L719.1 284.7 L735.5 288 L746.9 281.5 L748.5 270 L751.8 258.5 L758.4 250.4 L768.2 242.2 L776.4 229.1 L780.4 231.7 L797.1 237.3 L810.1 235.4 L819.4 229.8 L834.3 220.6 L847.3 211.3 L853 215 L856 261 L841.7 268.8 L834 283.7 L838 298.5 L834.3 309.7 L815.7 313.4 L800 310 L790.9 320.9 L781.8 328.2 L772.7 337.3 L745 340 L736 350 L742 365 L750 378 L754.5 386.4 L763.6 393.6 L760 404.5 L765.5 410 L776.4 404.5 L790.9 410 L801.8 413.6 L809.1 417.3 L823.6 415.5 L834.5 422.7 L845.5 419.1 L854.5 422.7 L860 430 L869.1 440.9 L876.4 451.8 L890.9 459.1 L904 465 L904 478 L894.6 478.7 L886.8 484.9 L876 491.1 L871.4 495.7 L862.1 503.5 L855.9 508.1 L848.2 503.5 L840.5 498.8 L832.7 498.8 L820.4 503.5 L812.6 515.8 L797.2 528.2 L792.5 528.2 L798.7 520.5 L806.5 512.7 L814.2 503.5 L812.6 497.3 L804.9 491.1 L795.6 488 L794 478.7 L789.5 472.6 L780.2 458.6 L770.9 449.4 L752.5 449 L730 437.3 L715.5 435.8 L700.9 432.9 L686.4 431.5 L674.7 432.9 L664.5 437.3 L651.5 444.5 L639.8 451.8 L628.2 459.1 L620.5 464.5 L612.4 472.7 L600.9 479.3 L587.8 484.2 L585.5 485.8 L578.2 481.5 L575.3 465.5 L575.3 448 L570.9 443.6 L563.6 443.6 L556.4 440.7 L550.5 434.9 L541.8 439.3 L538.9 432 L533.1 429.1 L530.2 423.3 L525.8 424.7 L521.5 436.4 L512.7 439.3 L506.9 434.9 L501.1 434.9 L495.3 430.5 L488 432 L486.5 439.3 L477.8 448 L469.1 455.3 L464.7 468.4 L454.5 475.6 L440 478.5 L420 484.2 L413.5 480.9 L403.6 474.4 L393.8 467.8 L384 466.2 L370.9 464.5 L354.5 461.3 L341.5 454.7 L326.7 451.5 L315.3 448.2 L302.2 441.6 L294 431.8 L289.1 426.1 L294 428.5 L307.1 428.5 L308.7 422 L315.3 415.5 L325.1 410.5 L326.7 402.4 L321.8 397.5 L315.3 390.9 L312 383.5 L302.2 384.4 L290.7 380.3 L274.4 376.2 L276 369.6 L272.7 370.5 L258 373.1 L250 374.6 L240.6 377.2 L246.6 370.3 L244.9 365.2 L241.5 351.5 L239.7 347.2 L224.3 348.9 L213.2 348 L218.3 345.5 L221.7 338.6 L222.6 325.7 L223.4 319.3 L199.8 318.5 L185.3 319.3 L176.5 322.2 L166.4 326.5 L159.1 330.2 L156.2 325.1 L156.2 319.3 L160.5 313.5 L164.9 308.4 L170 309.1 L170.7 297.5 L162 296.7 L154.7 296 L148.9 297.5 L138.7 298.9 L132.9 296.7 L130 298.2 L128.5 305.5 L124.2 306.9 L109.6 311.3 L101.6 315.6 L96 316Z M532.7 208 L541.8 197.1 L556.4 188 L563.6 177.1 L570.9 166.2 L580 157.1 L590.9 154.4 L601.8 156.2 L616.4 158.9 L629.1 166.2 L640 173.5 L645.5 180.7 L643.6 186.2 L656.4 188 L672.7 189.8 L683.6 195.3 L698.2 202.5 L705.5 209.8 L701.8 220.7 L694.5 224.4 L683.6 224.4 L678.2 217.1 L669.1 218.9 L661.8 228 L654.5 235.3 L643.6 238.9 L632.7 240.7 L621.8 242.5 L607.3 246.2 L596.4 245.3 L583.6 242.5 L565.5 238.9 L547.3 235.3 L536.4 229.8 L531.8 218.9Z M641.5 397.5 L648 393 L656 391.6 L665 393 L673.5 397.5 L678 405 L679.3 414.9 L676 424 L670.5 432.4 L663 436 L656 438.2 L651 434 L647.3 429.5 L644 420 L643 410Z M586 370 L597 364 L605 372 L612 367 L618 377 L616 391 L600 388 L590 382Z M795 244 L812 241 L830 237 L836 245 L826 251 L808 251 L796 251Z M618 442 L628 440 L636 448 L630 456 L620 455Z" fill-rule="evenodd"/>
<path d="M96 351 L101.6 351.3 L112.5 349.8 L118.4 348.4 L127.1 348.4 L140.2 351.3 L144.5 344 L153.3 341.1 L159.1 346.9 L166.4 348.4 L176.5 354.2 L185.3 360 L192.5 362.9 L202.7 364.4 L199.8 370.2 L191.1 374.5 L185.3 380.4 L186.7 384.7 L176.5 386.2 L164.9 384.7 L163.5 381.8 L144.5 378.9 L134.4 373.1 L122.7 370.2 L116.9 361.5 L106.7 358.5 L96 359.3Z"/><path d="M861 190 L871 188.5 L883 193 L880 198.5 L868 200 L860 196Z"/><path d="M440 494 L455 491 L476 492 L474 497 L455 499 L440 498Z"/><path d="M502 489 L520 491 L549 493 L548 497 L525 497 L502 493Z"/>
</g>
<g fill="#828282" stroke="#000" stroke-width="1">
<path d="M215 245 L222.5 243.75 L225 248.75 L231 250 L237.5 255 L236 257.5 L242.5 263.75 L243.75 270 L235 270 L227.5 267.5 L223.75 262.5 L225 258.75 L220 255 L216 251Z"/>
<path d="M271 257 L276 260 L284 274 L292 284 L296 292 L302 303 L297 308 L290 298 L284 290 L278 280 L272 266 L269 259Z"/>
<path d="M266 277 L270 279 L278 292 L284 302 L295 308 L308 312.5 L326 312.5 L334.5 317 L352 317 L358.5 323 L356 332 L339 332 L326 323 L308 321 L291 319 L282 314.7 L276 308 L271 298 L266 288 L264 280Z"/>
<path d="M492.5 185 L500 172.5 L515 163.75 L530 167.5 L538.75 177.5 L535 190 L527.5 202.5 L510 207.5 L495 205 L488.75 198.75 L492.5 193.75Z"/>
<path d="M569.5 295.6 L576 291.2 L582.5 286.8 L589.1 289 L593.5 295.6 L586.9 302.1 L597.8 304.3 L603.3 310.8 L602.2 319.6 L593.5 326.1 L582.5 332.6 L571.6 339.2 L558.5 337 L552 330.5 L558.5 321.7 L571.6 317.4 L580.4 310.8 L578.2 302.1 L571.6 297.7Z"/>
<path d="M321.8 412.2 L328.4 410.5 L338.2 418.7 L348 425.3 L352.9 431.8 L351.3 444.9 L346.4 446.6 L341.5 441.6 L338.2 431.8 L331.6 426.9 L325.1 418.7Z"/>
<path d="M276 348 L279 349 L278 360 L276 370 L273 369 L274 358Z"/>
<path d="M318 352 L322 354 L320 362 L326 366 L328 376 L322 380 L318 372 L314 362Z"/>
<path d="M488 434 L501 437 L512 441 L522 438 L526 426 L531 425 L534 431 L540 436 L548 437 L556 442 L571 446 L573 452 L560 452 L545 448 L530 450 L515 452 L500 450 L485 450 L480 446Z"/>
<path d="M797.1 164.9 L806.4 161.1 L812 157.4 L819.4 156.5 L825 159.3 L823.1 164.9 L832.4 168.6 L826.8 174.1 L821.3 174.1 L813.8 168.6 L802.7 166.7Z"/>
<path d="M843 222 L850 218 L853 232 L851 250 L845 252 L841 238Z"/>
<path d="M821.9 478.7 L825.8 481.8 L825 488 L820.4 492.6 L815.7 497.3 L811.1 498.8 L808.8 494.2 L812.6 489.6 L818.8 484.9Z"/>
<path d="M831.2 483.4 L835 484.9 L838.9 494.2 L846.6 500.4 L848.2 505 L843.6 504.2 L837.4 498.8 L832.7 491.1Z"/>
<path d="M872 465 L888 463 L894 478 L884 492 L874 482Z"/>
</g>
<g stroke="#000" stroke-width="1.1">
<path d="M813.8 269.2 L812.8 271.4 L808.7 272.2 L807.1 271 L806.1 268.9 L809.8 266.5 L811.4 267.7Z" fill="#828282"/>
<path d="M835.5 279.3 L834.1 280.8 L831.5 279.8 L834.5 277.8Z" fill="#0e6a24"/>
<path d="M815.7 281.1 L813.7 282.2 L812.6 283.1 L812.3 281.2 L812.9 280.3 L813.8 279.9Z" fill="#828282"/>
<path d="M774.6 283.7 L772.5 284.5 L770.6 283.6 L772.3 283.1Z" fill="#828282"/>
<path d="M854.3 291.7 L853 293.6 L851.4 292.5 L853.7 290.7Z" fill="#828282"/>
<path d="M842.4 249.5 L841.8 250.2 L840.3 250.2 L840.6 248.8 L842 248.9Z" fill="#828282"/>
<path d="M790 290.4 L787.8 291.5 L786 291.4 L785.1 288.8 L788.6 288Z" fill="#828282"/>
<path d="M850 260.9 L847.6 263.4 L846.4 261.9 L848.8 259.4Z" fill="#828282"/>
<path d="M807 233.4 L806.5 234.7 L804.5 234.2 L805 232.5 L806.9 232.6Z" fill="#828282"/>
<path d="M822.8 213.9 L822.4 215.2 L819.9 214.1 L820.3 212.4 L822.8 212.7Z" fill="#0e6a24"/>
<path d="M806.5 289.5 L805.5 291.1 L803.9 290.7 L801.7 291.5 L801 289.2 L803.8 287.7 L805.8 288.6Z" fill="#828282"/>
<path d="M825.6 264.9 L823.5 266.5 L821.8 265.9 L819.4 264.8 L822.3 261.6 L824.3 262.4Z" fill="#828282"/>
<path d="M786.8 262.7 L782.9 263.7 L780.2 262.2 L781.9 259.9Z" fill="#0e6a24"/>
<path d="M855.7 256.9 L854.3 257.7 L853.2 257.2 L854.5 256Z" fill="#828282"/>
<path d="M789.4 293.9 L787.7 294.1 L785.6 294.3 L786.3 293.1 L787.3 291.8Z" fill="#828282"/>
<path d="M833.4 291.5 L832 294 L829.2 291.8 L832.1 290.2Z" fill="#0e6a24"/>
<path d="M851 214.3 L850.5 218.1 L847.6 217.8 L843.9 215.5 L845.9 213.2 L847.8 213.2 L851.2 212.8Z" fill="#0e6a24"/>
<path d="M835 230.5 L831.4 231.6 L828 228.4 L831.8 228Z" fill="#828282"/>
<path d="M820.6 292.8 L817.8 294.3 L815.2 293.3 L818.5 291.8Z" fill="#0e6a24"/>
<path d="M850 265.3 L848 265.8 L847.5 266.7 L844.9 266.1 L845.3 263.5 L847.7 262.4 L848.7 263Z" fill="#0e6a24"/>
<path d="M849.7 229 L849 231.1 L846.6 230.1 L844.7 228 L845.3 226.4 L849.2 226.9Z" fill="#0e6a24"/>
<path d="M778.5 266.7 L778.1 267.8 L775.4 268.9 L775.1 267.5 L774.5 266.6 L776.7 265.9 L777.4 266.4Z" fill="#828282"/>
<path d="M792 283.7 L791.3 285.3 L788.9 285.1 L788.3 283.7 L790.1 283.3 L791.7 282.5Z" fill="#0e6a24"/>
<path d="M819.8 304.4 L817.4 306.7 L814.9 306 L814.7 302.4 L817.1 302.9Z" fill="#0e6a24"/>
<path d="M847.4 220.3 L846.1 221.5 L845.5 220.2 L846.3 219Z" fill="#828282"/>
<path d="M791.1 282.7 L789.1 285.9 L786.7 284.9 L786.2 284 L785.5 281.8 L789.8 281.1Z" fill="#828282"/>
<path d="M855.8 311.4 L855.9 312.2 L855.1 312.2 L854.1 312.1 L854.4 311.5 L854.9 310.9 L856 310.6Z" fill="#0e6a24"/>
<path d="M781.1 296.5 L778.5 297.6 L777.1 296.2 L779.1 294.1Z" fill="#0e6a24"/>
<path d="M795.4 310.3 L792.9 312.8 L789.8 311.1 L791.3 308.3 L793.7 308.6Z" fill="#828282"/>
<path d="M827 276.6 L826 277.9 L824.3 278.4 L823.5 276.6 L824.6 275.1 L825.5 275.4Z" fill="#0e6a24"/>
<path d="M793.4 251.2 L793.2 251.8 L792 251.8 L791.9 250.7 L793.2 250.7Z" fill="#828282"/>
<path d="M829.5 267.9 L826.1 271.2 L823.2 267.6 L826 266.2Z" fill="#828282"/>
<path d="M796.5 250.8 L795.5 252.4 L794.5 251.4 L793.4 250.5 L794.5 249.7 L795.8 250.2Z" fill="#828282"/>
<path d="M808.4 270.9 L806.3 273.7 L803.2 272.9 L800.9 271.8 L803.9 269.9 L807.6 270.1Z" fill="#0e6a24"/>
<path d="M782.5 277.2 L781.8 278 L779.6 278 L779 275.6 L781.6 275.5Z" fill="#0e6a24"/>
<path d="M841.3 220.6 L840.3 222.4 L839 221.3 L838.5 220.1 L840.9 219.4Z" fill="#0e6a24"/>
<path d="M835.9 227 L835.8 227.6 L833.7 227.7 L833.5 226.4 L835 226.1Z" fill="#0e6a24"/>
<path d="M819.4 277.4 L818.6 278.3 L816.6 279.2 L815.6 278.5 L816 276.3 L817.2 275.8 L818.5 276.7Z" fill="#828282"/>
<path d="M836.9 300.1 L836.4 300.9 L834.8 301.1 L834.2 299.7 L835.3 299.4 L836.2 298.6Z" fill="#0e6a24"/>
<path d="M831.9 261.6 L832.1 264.1 L829.4 263.2 L827.1 261.5 L829.3 258.7 L832.1 260.5Z" fill="#0e6a24"/>
<path d="M799.3 240.9 L798.4 242.9 L794.8 242.6 L795.7 240.5 L797.2 240.5Z" fill="#828282"/>
<path d="M812.7 303.3 L810.7 306.6 L806.3 304.8 L806.7 302.6 L810.5 302.1Z" fill="#828282"/>
<path d="M835.1 308 L834.2 309.4 L832.4 309.2 L832.7 308 L833.9 307.2Z" fill="#828282"/>
<path d="M786.7 261.7 L782.9 264.2 L778.7 260.7 L783.6 258.1Z" fill="#0e6a24"/>
<path d="M832.8 297.7 L833.2 298.3 L830.8 298.5 L829.6 298.1 L828.7 296.7 L830.8 295.4 L832 296.3Z" fill="#0e6a24"/>
<path d="M850 291.4 L848.8 293.5 L846.5 291.5 L848.6 290Z" fill="#0e6a24"/>
<path d="M808.3 310.4 L808.4 312.5 L803.8 312.8 L802.1 312.2 L803 309 L803.1 306.8 L808.8 308.1Z" fill="#0e6a24"/>
<path d="M849.1 252.2 L846.3 255.3 L843.2 253.2 L843.8 251.9 L846.1 251.8Z" fill="#0e6a24"/>
<path d="M844.7 300 L843.6 301 L841.3 299.5 L842.5 298.7Z" fill="#828282"/>
<path d="M831.1 294.9 L829.7 296.9 L827.3 295.1 L828.4 293.6Z" fill="#828282"/>
<path d="M781.1 250.4 L780.2 252.3 L777.8 250.7 L780 249.4Z" fill="#0e6a24"/>
<path d="M842.4 229.1 L840.1 231.5 L837.2 230.3 L837.3 229.2 L838 227.8 L839.7 227.3Z" fill="#828282"/>
<path d="M826.5 256.1 L825.1 258.2 L823.8 256.7 L826 254.8Z" fill="#828282"/>
<path d="M792.8 222.8 L789.8 224 L789 223.3 L790.6 221.5Z" fill="#0e6a24"/>
<path d="M826.9 289.5 L825 290.6 L823.7 290.2 L821.2 288.9 L822.3 287.4 L825.5 286.4Z" fill="#0e6a24"/>
<path d="M844.1 228.1 L843 230 L840.6 228.8 L840.5 226 L843.8 225.6Z" fill="#0e6a24"/>
<path d="M793.1 270.5 L790.2 273 L788.8 270 L790.4 268.2Z" fill="#828282"/>
<path d="M849.6 232.2 L848 233.5 L845.1 234.8 L845.7 230.9 L847.7 230.5Z" fill="#0e6a24"/>
<path d="M806 272.5 L804.5 275.3 L800.9 273.7 L803.2 271.6Z" fill="#828282"/>
<path d="M834.2 295.7 L833.8 296.8 L831.4 297.4 L830.5 295.9 L830.6 294 L832.4 294.1 L833.5 294.2Z" fill="#0e6a24"/>
<path d="M816.9 265.2 L815.2 267.6 L813.5 265 L816 264.1Z" fill="#828282"/>
<path d="M810.2 262.8 L808.3 264.3 L806.3 262.5 L809.8 260.6Z" fill="#0e6a24"/>
<path d="M847.8 246.9 L845.9 249.9 L843.4 249.3 L842.8 246.8 L845.8 246.7Z" fill="#828282"/>
<path d="M797.4 242.5 L797.3 243 L796.5 242.8 L795.5 242.4 L795 241.8 L796.6 241.5 L796.8 241.7Z" fill="#0e6a24"/>
<path d="M848.8 227.9 L848.7 230.1 L845.5 229.6 L843 228.2 L846.7 224.8 L848.6 224.6Z" fill="#0e6a24"/>
<path d="M798.6 253.9 L795.3 254.6 L793.5 255.3 L792.1 253 L792.6 252 L796.7 250.8Z" fill="#828282"/>
<path d="M830.3 307.7 L828.2 307.9 L825.6 308.5 L826.1 306.1 L828.1 305.8Z" fill="#0e6a24"/>
<path d="M819.5 253.3 L817.6 255 L815.3 254.4 L814.7 251.5 L816.5 251.9Z" fill="#0e6a24"/>
<path d="M788.8 268.7 L787.9 270 L784.3 270.6 L783.4 268 L785 267 L787.4 268Z" fill="#828282"/>
<path d="M829.4 267.7 L827.9 269.4 L827 268.7 L827.3 267.4 L828.4 266.3Z" fill="#828282"/>
<path d="M826.6 275.5 L824.3 275.7 L822.8 277.6 L819.4 276.1 L821.3 274.3 L821.7 272.3 L825.6 273.3Z" fill="#0e6a24"/>
<path d="M838 262.2 L837 264.5 L834 263.3 L833.9 261.4 L837.4 260.1Z" fill="#0e6a24"/>
<path d="M784.2 291.3 L782.1 293 L779.7 293.8 L779.9 291.3 L782.3 290.1Z" fill="#828282"/>
<path d="M775.7 319.3 L774 321.6 L772.7 320.9 L770.3 318.1 L775.2 318.2Z" fill="#828282"/>
<path d="M836.6 270.2 L833.8 272.5 L831.5 271 L831.7 269.4 L834.4 268.6Z" fill="#828282"/>
<path d="M791.1 258.8 L790.6 259.6 L788.8 260 L788.3 259.6 L787.9 257.7 L788.8 257.1 L790.4 257.7Z" fill="#0e6a24"/>
<path d="M779.3 289.3 L775.8 290 L774 290.2 L772.1 287.8 L776.5 285.9Z" fill="#828282"/>
<path d="M777.2 250 L776 251.2 L774.2 250.4 L775.9 249.1Z" fill="#828282"/>
<path d="M799.6 257.4 L798.1 257.9 L796.4 257.7 L796.1 256.5 L798.2 256Z" fill="#0e6a24"/>
<path d="M835.1 260.6 L834.8 261.3 L834.3 261 L833.7 260.4 L834.3 259.9 L834.9 260.2Z" fill="#828282"/>
<path d="M814.9 311.6 L814.1 313.2 L811.9 313.5 L810.6 312 L812.2 310.4 L813.3 311.1Z" fill="#0e6a24"/>
<path d="M799.1 310 L797.4 311.6 L793.8 310.2 L797.2 308.1Z" fill="#828282"/>
<path d="M829.5 226.9 L829.1 228.5 L826.2 227.8 L825.9 226.2 L826.9 225.3 L829.8 224.8Z" fill="#828282"/>
<path d="M850.5 209.4 L850.2 210.6 L847.8 210.7 L846.1 209.8 L847.7 206.9 L848.6 207.6Z" fill="#0e6a24"/>
<path d="M796.9 217.4 L793.2 220 L791.4 219 L790.9 215.5 L793.9 215.1Z" fill="#0e6a24"/>
<path d="M818.5 232.5 L817.1 233.9 L814.8 233.3 L815.2 231.9 L816 231 L816.9 231.7Z" fill="#0e6a24"/>
<path d="M808.4 260.4 L807.6 261.7 L806 262.2 L804.8 261.1 L804.2 259.3 L806.2 258.9 L807.3 259Z" fill="#0e6a24"/>
<path d="M842.9 296.9 L843.2 298.1 L839.5 298.5 L839.5 297.7 L840.5 295.7 L842.8 295.2Z" fill="#0e6a24"/>
<path d="M776.2 286.8 L775.1 288.3 L773.4 287.1 L775.6 285.7Z" fill="#828282"/>
<path d="M780.4 254.8 L777.9 256.8 L774.7 257.9 L774.3 255.9 L776.1 253.2 L779 253.6Z" fill="#0e6a24"/>
<path d="M847.2 254.5 L846.1 255.7 L845.1 254.8 L845.5 253.7Z" fill="#828282"/>
<path d="M836.8 282.5 L835.7 283.5 L833.9 283.3 L834.8 281.7 L836.4 280.5Z" fill="#0e6a24"/>
<path d="M798.9 313.2 L798.1 314.7 L792.8 315.1 L792.3 313.6 L791.3 312.8 L792.9 311 L796.1 312.2Z" fill="#828282"/>
<path d="M838.2 235.3 L837 236.9 L835.6 236.1 L834.8 235.6 L835.2 234.9 L836.3 234.8 L837 234.8Z" fill="#828282"/>
<path d="M805.2 280.8 L803.5 281.6 L800.5 282.6 L800.3 280.9 L801.2 279.6 L802.9 278.7Z" fill="#828282"/>
<path d="M807.1 210.3 L807.2 213.3 L802.7 212.2 L801.1 208.9 L806.3 207.8Z" fill="#0e6a24"/>
<path d="M828.7 310.1 L827.8 310.6 L826.9 310.2 L826.1 309.5 L826.6 308.9 L827.7 309.1Z" fill="#828282"/>
<path d="M824.2 270.9 L822.3 271.9 L820.3 271.4 L822.1 269.4Z" fill="#828282"/>
<path d="M836.7 308.6 L835.6 309.8 L833.9 309.5 L834.2 307.6 L835.7 307.3Z" fill="#828282"/>
<path d="M846.2 227.1 L844.7 228.8 L843.2 228.8 L843.3 226.2 L845.4 225.8Z" fill="#0e6a24"/>
<path d="M785.5 247.5 L784.1 247.8 L782.6 247.1 L783.4 246Z" fill="#828282"/>
<path d="M805.1 299.1 L805.4 300.9 L802.4 301.1 L801.2 299.5 L801.6 297.5 L804.4 297.5Z" fill="#828282"/>
<path d="M835.1 304.4 L833.4 307.9 L829.9 306.5 L828.7 303.2 L832.7 302.4Z" fill="#828282"/>
<path d="M822 238.3 L821.1 239.5 L819.2 239.3 L818 237.9 L819.2 235.8 L821.5 235.3Z" fill="#0e6a24"/>
<path d="M794.6 280.8 L794.1 282.1 L793.2 281.5 L792.5 280.8 L794.1 280.7Z" fill="#0e6a24"/>
<path d="M823.4 285.4 L822 286.9 L817.8 285.2 L821.4 283.6Z" fill="#828282"/>
<path d="M775.2 296.1 L772.7 296.8 L771.3 296.7 L771.7 295 L773.7 295Z" fill="#828282"/>
<path d="M786.8 249.1 L782.6 253.2 L780.1 249.6 L784.1 248.4Z" fill="#0e6a24"/>
<path d="M805.3 300.4 L802.1 302.3 L799.7 300.2 L802.1 299.1Z" fill="#828282"/>
<path d="M817.3 239 L814.3 241.3 L813.4 239.9 L810.8 237.8 L816.1 236.9Z" fill="#828282"/>
<path d="M856.6 286.1 L853.3 289.8 L851 288.9 L851.1 286.6 L853.6 283.6Z" fill="#0e6a24"/>
<path d="M783 310.2 L781.2 311.4 L779.1 312.3 L779.1 311.8 L778.6 310.3 L780 309.9 L781.7 309.9Z" fill="#0e6a24"/>
<path d="M800.5 298.5 L798.9 301.2 L796.8 301.3 L795.6 299.4 L796.1 297.5 L799.2 297.7Z" fill="#0e6a24"/>
<path d="M831.4 301.4 L829.9 303.1 L829.1 301.9 L829.7 300.7Z" fill="#0e6a24"/>
<path d="M808.4 304 L808 304.9 L806.8 304.7 L805.9 304.2 L806.2 303 L808.7 303Z" fill="#828282"/>
<path d="M801.2 287.6 L800.2 289.3 L796.7 288.9 L799.1 286.6 L801.1 285.9Z" fill="#0e6a24"/>
<path d="M805.9 256.4 L802.6 258.6 L801.5 256 L803.8 254.6Z" fill="#0e6a24"/>
<path d="M806.5 285 L804.9 286.6 L803.2 284.1 L805.5 282.5Z" fill="#828282"/>
<path d="M852.5 261.8 L852 264.1 L848.9 263.4 L847.6 263.8 L847.9 260.8 L850 259.3 L851.6 259.9Z" fill="#828282"/>
<path d="M839.7 221.7 L838.1 223.1 L835.4 224.1 L835.3 222.8 L834.7 220.8 L836.4 220 L838.5 220.4Z" fill="#0e6a24"/>
<path d="M850.6 256.9 L848.7 259.1 L846.4 259.4 L847 256.8 L849 255.8Z" fill="#828282"/>
<path d="M854.7 246.3 L854.4 247.2 L852.6 246.5 L852.3 244.9 L854.9 244.5Z" fill="#0e6a24"/>
<path d="M798 303 L798.4 305.8 L794.4 305 L793.6 303.5 L794.6 302.8 L798.4 301.4Z" fill="#828282"/>
<path d="M806.5 299.7 L804.4 301.4 L801.3 300.8 L802.9 298.5 L804 296.9Z" fill="#828282"/>
<path d="M839.4 231.7 L838.6 233 L836.1 233.6 L835.9 232.4 L836.6 229.8 L839 230.8Z" fill="#828282"/>
<path d="M789.6 246.7 L788.2 247.9 L785.4 248.4 L785.9 245.9 L788.6 246Z" fill="#828282"/>
<path d="M802.5 262.3 L801.6 263.5 L799 262.3 L801.2 261.6Z" fill="#828282"/>
<path d="M804 286.8 L801.6 287.7 L796.3 287.4 L796.8 283.8 L800.7 284.5Z" fill="#828282"/>
<path d="M854.6 208.5 L853.4 211.3 L848.8 207.8 L852.8 207.2Z" fill="#828282"/>
<path d="M854.1 229.8 L852.9 230.6 L851.1 230.3 L850.9 228.8 L852.9 228.1Z" fill="#828282"/>
<path d="M792.2 306.2 L791.9 307.7 L789.9 307.4 L789.8 305.6 L791.5 305.3Z" fill="#828282"/>
<path d="M834.5 228.5 L833.9 229.1 L833.2 229.1 L833.4 227.9 L834.1 227.4Z" fill="#0e6a24"/>
<path d="M840.4 244.7 L838 245.2 L835.2 246.5 L836.4 244.8 L835.6 242.3 L836.7 242.7 L838.6 241.8Z" fill="#828282"/>
<path d="M800 221.5 L800.6 222.8 L795.4 222.9 L795.4 220.1 L797 219.7 L799.5 217.8Z" fill="#828282"/>
<path d="M787.9 244.8 L787.4 245.6 L786 245.5 L785.9 244.8 L785.8 244.3 L786.9 243.8Z" fill="#0e6a24"/>
<path d="M854.6 282.3 L849.2 285.3 L846 282.6 L850.3 281Z" fill="#0e6a24"/>
<path d="M805.8 211.2 L805.8 212.4 L804.4 211.3 L803.9 210.7 L805.1 209.4Z" fill="#828282"/>
<path d="M793.7 290.8 L792.8 291.5 L791.4 291 L791.7 289.8 L793.4 289.3Z" fill="#0e6a24"/>
<path d="M789.5 264.3 L787 265.7 L783.1 266.4 L781 263.9 L784.1 262.2 L785.9 262Z" fill="#0e6a24"/>
<path d="M829 250.6 L828 252 L827.4 252.1 L826.2 251.5 L826.1 250.8 L827 249.5 L827.8 249.9Z" fill="#0e6a24"/>
<path d="M780.8 245.6 L779.9 246.7 L778.8 245.6 L779.5 245Z" fill="#0e6a24"/>
<path d="M834.2 297.4 L831.7 299.4 L827.6 299.4 L829.4 296.5 L832.9 295.6Z" fill="#828282"/>
<path d="M785.7 234.7 L785.6 236.3 L783.5 236.1 L783.1 236 L782.3 234.7 L784.6 233.2 L786 234.1Z" fill="#0e6a24"/>
<path d="M827.7 260.8 L826.7 263.5 L824.7 263.2 L824.1 261.9 L824.3 260.3 L826 260.9Z" fill="#828282"/>
<path d="M817.7 272 L817.6 272.7 L816.1 272.5 L814.6 272 L814.4 271.1 L815.8 270.9 L817.2 271Z" fill="#828282"/>
<path d="M805.7 264.8 L803.2 268.9 L801.5 268 L798.5 266.7 L797.6 263.8 L801.6 263 L804.3 264.1Z" fill="#828282"/>
<path d="M788.4 318.6 L786.9 320.9 L784.2 320.2 L784.3 316.9 L787.1 316.7Z" fill="#828282"/>
<path d="M795.8 285.5 L794 286.1 L792.5 285.3 L792.8 283.7 L793.9 283.1Z" fill="#828282"/>
<path d="M821.6 251.6 L820.6 252 L818.4 253.3 L816.8 251.6 L818.1 250.6 L818.1 249.7 L821 250.2Z" fill="#0e6a24"/>
<path d="M845.9 227.2 L845 227.8 L844.1 227.1 L845 226.3Z" fill="#828282"/>
<path d="M839.1 257.6 L838.4 259 L835.1 259.3 L835.6 258.2 L834.4 256.9 L836.2 254.9 L837.6 256.3Z" fill="#828282"/>
<path d="M834.6 269.6 L834.2 270.5 L832 270.9 L830.4 269.9 L831 269.2 L832 268.8 L833.6 269.1Z" fill="#0e6a24"/>
<path d="M808.4 223.6 L808.4 224.8 L804.1 226 L801.7 223.5 L804.8 220.9 L807.6 220.4Z" fill="#0e6a24"/>
<path d="M831.4 216.4 L830.3 217.7 L828.7 217.6 L826.1 216.9 L827.1 215.3 L827.7 214.9 L829.2 215.6Z" fill="#828282"/>
<path d="M779.8 295.8 L779.7 298.6 L777.5 298.1 L775.9 296.1 L776.1 294.1 L781 294.4Z" fill="#0e6a24"/>
<path d="M777.6 310.8 L774.8 311.8 L772.2 311.8 L771.1 309.8 L771.9 308.7 L776.2 308.2Z" fill="#0e6a24"/>
<path d="M787.7 246.2 L785.7 248 L784.1 247.6 L783 243.9 L787.2 243.5Z" fill="#0e6a24"/>
<path d="M822.7 292.2 L823.7 293.6 L821.5 294 L819 293.2 L819.4 292.1 L820.6 290.9 L822.4 291.3Z" fill="#828282"/>
<path d="M796.9 234.8 L795.9 236.3 L794.7 235.7 L794.6 233.6 L796.6 233.6Z" fill="#0e6a24"/>
<path d="M815.5 252.5 L814.7 254.2 L812.5 253.3 L812.1 253 L811.6 251.3 L814.4 251.5Z" fill="#828282"/>
<path d="M831.3 290.6 L831.2 292.2 L829.1 291.6 L828.2 291.8 L828 290.1 L829.6 289.7 L830.7 289.4Z" fill="#0e6a24"/>
<path d="M776.6 286.7 L776.2 287.5 L774.9 287.3 L775.3 286.3 L775.9 285.6Z" fill="#828282"/>
<path d="M778.3 293 L777.7 294.4 L776 292.8 L776.9 290.9Z" fill="#0e6a24"/>
<path d="M801.6 218 L800.3 220.2 L797.5 220.3 L796.3 217.7 L795.8 216 L799.1 217.3Z" fill="#828282"/>
<path d="M794.4 239.4 L790.9 240.5 L788.2 237.9 L790.1 236.1Z" fill="#828282"/>
<path d="M819.2 210.7 L816.8 213.6 L814.7 212.2 L812.5 211.8 L814.6 207.8 L817.7 208.2Z" fill="#828282"/>
<path d="M819.2 315.9 L817.4 317.4 L816.1 315.9 L816.3 314.7 L817.2 314.6Z" fill="#828282"/>
<path d="M846.5 248.6 L845 249.9 L844.7 248.8 L845.3 248Z" fill="#828282"/>
<path d="M778.3 265 L777.6 265.6 L777.4 265.8 L776.6 265.1 L776 264.3 L776.9 264 L778 264.7Z" fill="#828282"/>
<path d="M848 311 L847 313.8 L843.7 313.6 L843.7 311.8 L845.2 308.8 L846.7 308.4Z" fill="#0e6a24"/>
<path d="M847.6 247.6 L846 249.2 L844.1 248.4 L843 246.6 L844.2 245.5 L845.7 245.4Z" fill="#828282"/>
<path d="M795.4 247.1 L794.5 249.2 L791.8 247.6 L791.2 245.4 L794.4 245.2Z" fill="#828282"/>
<path d="M776.3 254 L775.7 256.9 L773.2 257.3 L770.2 256.5 L770.7 252.9 L772.7 251 L776.6 252Z" fill="#828282"/>
<path d="M823.3 283.9 L822.2 285.2 L820.4 284.5 L821.2 282.9 L822.6 282.7Z" fill="#828282"/>
<path d="M811.5 301.4 L810.1 302.6 L807.9 301.6 L809.8 299.5Z" fill="#0e6a24"/>
<path d="M842.3 244.9 L841.8 245.8 L839.9 245.7 L839.5 244.8 L840.6 243.7 L841.2 243.6Z" fill="#828282"/>
<path d="M824 263.6 L822.3 264.7 L819.6 262.8 L821.3 261.7Z" fill="#828282"/>
<path d="M798.3 315.9 L796.2 316.2 L793.7 317.5 L791 315.7 L792.2 314.6 L793.7 314.1 L795.9 313.3Z" fill="#828282"/>
<path d="M806.2 310.5 L804.1 311.2 L800.4 309 L802.5 307.4Z" fill="#828282"/>
<path d="M809.6 274.5 L808.8 275.1 L807.8 274.9 L808.9 273.4Z" fill="#0e6a24"/>
<path d="M824.2 258.7 L824.3 260.1 L821.3 260.4 L820.6 260 L820.7 257.9 L821.3 258 L823 257.8Z" fill="#0e6a24"/>
<path d="M846.9 234.2 L845.7 234.7 L842.6 235.6 L842.9 233.1 L842.7 232.4 L845.1 232.3Z" fill="#828282"/>
<path d="M845 260.4 L842.9 261.6 L841.4 260.7 L843.1 259.4Z" fill="#0e6a24"/>
<path d="M806.7 279.8 L807 280.5 L805.2 280.7 L804.4 279.9 L803.5 279.1 L804.6 278.4 L807.4 277.9Z" fill="#828282"/>
<path d="M819.1 276.9 L817.7 278.7 L816.2 278.9 L814.6 278.1 L815.1 276.8 L815.8 275.1 L816.9 276.3Z" fill="#828282"/>
<path d="M779.9 295.7 L777.6 297.7 L775.3 296.1 L777.3 294.8Z" fill="#0e6a24"/>
<path d="M837.3 283.2 L835.3 284.7 L833.9 283.6 L835.1 282.5Z" fill="#828282"/>
<path d="M778.8 257.4 L778.2 257.9 L776.8 257.7 L776.8 256.5 L778.1 256.2Z" fill="#0e6a24"/>
<path d="M854.6 240.1 L853.7 242.1 L852.7 242 L850.8 241.4 L849.9 239.8 L851.7 239.3 L854.2 239.3Z" fill="#0e6a24"/>
<path d="M788.4 242.7 L787.3 243.9 L786.6 244.2 L783.9 243.7 L782.7 242.6 L786.6 240.9 L787.8 240.3Z" fill="#0e6a24"/>
<path d="M788.7 292.2 L787.6 295 L785.2 293 L783.6 289.4 L786.1 290.1Z" fill="#0e6a24"/>
<path d="M776.5 295.4 L775.5 296 L771.1 297.1 L769.3 294.2 L772.5 292.8 L774 293.1Z" fill="#828282"/>
<path d="M781.5 295.2 L781.4 295.9 L780.4 295.9 L779.2 295.6 L779.8 295.2 L780.5 294.8 L781.2 295Z" fill="#828282"/>
<path d="M855.6 313.1 L855.1 313.8 L852.7 314.1 L852 312.7 L852.1 310.9 L854.1 311.6Z" fill="#0e6a24"/>
<path d="M845.9 264 L844.9 264.1 L843.8 264.2 L843.6 263.7 L844.1 262.9 L845.2 262.7Z" fill="#828282"/>
<path d="M797.1 238.3 L796.7 240.3 L792.6 239.7 L792.3 238.4 L793.3 236.9 L795.3 235.4Z" fill="#828282"/>
<path d="M834.7 207.9 L833.6 210.2 L831.8 209.2 L831.8 206.9 L834.9 206.2Z" fill="#0e6a24"/>
<path d="M835.3 283.1 L832.6 284.3 L830.5 281.9 L832.4 281.6Z" fill="#828282"/>
<path d="M850.7 235.2 L848.5 238.2 L846.9 239.5 L844.1 237.6 L843.7 233.8 L846.4 233.7 L850.2 234.6Z" fill="#0e6a24"/>
<path d="M779.6 255.3 L777.5 256.6 L776.6 256.5 L776.8 255.3 L777.8 254.7Z" fill="#828282"/>
<path d="M810.3 273.9 L807.9 276.1 L804.6 274.9 L804.6 272.2 L808.1 269.9Z" fill="#0e6a24"/>
<path d="M828 216.5 L828 217.4 L826.5 217 L825.4 216.6 L826.5 215.2 L827.7 215.6Z" fill="#0e6a24"/>
<path d="M787.2 233.8 L782.4 238.3 L778.5 235.8 L780.4 232.4 L782.5 231.4Z" fill="#0e6a24"/>
<path d="M845 209.2 L844.1 212.6 L842.3 211.8 L840.8 210.6 L839.9 208 L841.2 207.5 L844.4 207.4Z" fill="#828282"/>
<path d="M810.9 298.8 L809.6 300.9 L806.9 301 L805.9 297.4 L809.2 298.5Z" fill="#0e6a24"/>
<path d="M825.4 288.4 L824.9 291.5 L820.9 290.6 L820.5 289.8 L822 288.1 L825.2 287.5Z" fill="#828282"/>
<path d="M839.6 274.8 L837.5 275.1 L834.5 274.9 L835.6 272.3 L838.7 272.1Z" fill="#0e6a24"/>
<path d="M813 308.3 L811 309.7 L809.2 308.3 L810.9 306.6Z" fill="#0e6a24"/>
<path d="M830.4 270.9 L829.4 272.4 L828.3 272.5 L827.4 271.6 L828 270.6 L829.9 269.6Z" fill="#0e6a24"/>
<path d="M832.4 272.9 L832.4 276.3 L828.3 276 L828.1 275.2 L827.7 272 L828.4 270.3 L832.1 271.9Z" fill="#0e6a24"/>
<path d="M853.4 220 L850.7 222.2 L848.1 219 L851.6 217.5Z" fill="#828282"/>
<path d="M858 242.6 L856.7 243.9 L854.3 243.2 L854.8 241.7 L856 241.9Z" fill="#0e6a24"/>
<path d="M822.6 212.3 L821.6 212.7 L820.9 212.7 L820.1 212.5 L820.5 211.6 L821.7 211.7Z" fill="#0e6a24"/>
<path d="M817.8 216.6 L816.7 219.4 L814.5 216.5 L815.9 214.9Z" fill="#828282"/>
<path d="M815.2 298.6 L815.5 301.9 L811.5 300.3 L811 298.4 L813.8 296.7Z" fill="#0e6a24"/>
<path d="M780.5 266.1 L779.7 266.9 L778.8 267.5 L778.3 267 L778.4 266.2 L779 265.9 L780.2 265.5Z" fill="#828282"/>
<path d="M845.2 230.6 L846.8 233.3 L839.9 233.3 L838.3 231 L840.3 228.4 L845.1 229.4Z" fill="#828282"/>
<path d="M781.7 278.6 L780.7 280.4 L779.5 279.5 L779.8 278.4 L781.2 277.8Z" fill="#828282"/>
<path d="M788.9 261.5 L787.8 263.7 L785.5 262.6 L783.8 260.5 L788.3 260.3Z" fill="#828282"/>
<path d="M820 266.8 L818.4 267.4 L816.3 266.7 L818.8 264.5Z" fill="#828282"/>
<path d="M826.4 299.1 L823.6 301 L822.3 300.1 L823 297.8Z" fill="#0e6a24"/>
<path d="M779.9 291.1 L779.1 292.1 L778.3 290.9 L779 290.6Z" fill="#828282"/>
<path d="M840.7 305 L839.9 306.1 L839.3 306 L838.4 305.4 L838.8 304.4 L840.5 304.3Z" fill="#828282"/>
<path d="M826.6 240.6 L826 241.3 L825.2 241 L824.7 240.1 L826.7 239.8Z" fill="#0e6a24"/>
<path d="M821.3 233.7 L820.8 234.8 L816.8 235.1 L817.4 232.1 L820.5 231.5Z" fill="#0e6a24"/>
<path d="M819.7 268.6 L819.1 270.2 L817.1 269 L818.9 267.4Z" fill="#0e6a24"/>
<path d="M825.8 283.9 L824.7 286.9 L820.4 286.1 L820.8 282.8 L823.5 283.5Z" fill="#828282"/>
<path d="M818 265.6 L815.5 266.9 L814.4 265.3 L815.5 264.3Z" fill="#0e6a24"/>
<path d="M834.9 226.3 L834.7 227.8 L832.4 228.5 L827.9 227.2 L828.1 225.5 L832.7 223.7 L835.2 224.5Z" fill="#828282"/>
<path d="M847.4 235.7 L843 237.6 L840.3 235.9 L841.9 232.7Z" fill="#828282"/>
<path d="M834.4 223.8 L834.1 226.1 L830 225.7 L829.4 224.4 L830.2 223.5 L832.9 222.4Z" fill="#828282"/>
<path d="M820.1 258.8 L817.8 260.4 L816 261.6 L815 260.7 L815.2 258.6 L816 258 L818.1 257.8Z" fill="#0e6a24"/>
<path d="M797 275.8 L794.5 277.7 L792.3 277.8 L791.9 275.2 L794.3 274Z" fill="#828282"/>
<path d="M847 255.5 L845.7 257.6 L843.9 255.8 L844.4 254.7 L844.8 253.4Z" fill="#828282"/>
<path d="M814.3 301.9 L813.5 302.7 L812.1 302.4 L812.6 301.6 L813.1 301.6Z" fill="#828282"/>
<path d="M808.2 254.2 L807 255.3 L805.6 254.9 L804.8 253.7 L806.7 253.4Z" fill="#0e6a24"/>
<path d="M824.1 290.8 L823.5 293.5 L819.5 294.5 L816.6 289.9 L819.4 290.3 L821.5 287.6Z" fill="#0e6a24"/>
<path d="M834 228.2 L832.7 229.1 L832.2 230.1 L829.7 229.4 L828.1 227 L831 225 L834.3 226.7Z" fill="#0e6a24"/>
<path d="M814.9 251.2 L813.9 252.5 L811.5 253.3 L810.5 251.7 L812 249.7 L814.1 249.7Z" fill="#828282"/>
<path d="M793.8 273.7 L793 275.1 L791.3 275.6 L790.1 274.6 L790.3 273.5 L791.6 271.5 L793.6 271.9Z" fill="#0e6a24"/>
<path d="M784.3 269.4 L783.1 270.5 L781 269.1 L782 267.8Z" fill="#0e6a24"/>
<path d="M788.6 264.8 L787.2 266.1 L785.3 265.7 L785.6 264.4 L787.5 264.1Z" fill="#828282"/>
<path d="M780 304.4 L779.7 306.8 L776.3 306.2 L774.3 302.6 L778.3 300.8Z" fill="#828282"/>
<path d="M785.2 258.6 L782.2 260.9 L780.2 258.2 L783.5 257.2Z" fill="#828282"/>
<path d="M809.4 268.6 L807.4 270.7 L805.6 269.8 L805.3 268.6 L805.5 266.9 L807.4 268.1Z" fill="#0e6a24"/>
<path d="M803.5 279.6 L800.7 280.1 L798.5 280.3 L798.2 277.1 L801.3 276.6Z" fill="#0e6a24"/>
<path d="M824.9 281.4 L824 282.7 L822.2 282.1 L819.7 281.4 L820.2 278.9 L820.3 278.3 L823.2 279.5Z" fill="#0e6a24"/>
<path d="M826.1 303.4 L826.3 304.5 L823.1 305.3 L822.4 303.7 L823.5 301.7 L826.3 301.4Z" fill="#828282"/>
<path d="M806 243.1 L804.6 244 L802.2 243.7 L800.8 243.1 L801.7 241.3 L803.6 241.1Z" fill="#828282"/>
<path d="M815.2 235.9 L814.6 236.7 L813 237.7 L811.6 237.5 L811.4 235.9 L812.6 234.1 L814 235.3Z" fill="#0e6a24"/>
<path d="M793 275.6 L791.6 277.2 L790.9 276.9 L788.8 276.4 L789.1 274.5 L790.7 274 L792.9 274.8Z" fill="#0e6a24"/>
<path d="M825.3 276.8 L824.5 277.8 L822 278.2 L822.8 276.8 L824.4 276.4Z" fill="#828282"/>
<path d="M814.3 239 L813.4 241.2 L811.4 240.2 L809.7 239.3 L811.5 238.2 L815.8 237.1Z" fill="#0e6a24"/>
<path d="M820.5 288.4 L819.6 291.5 L817 290.3 L814.4 290.2 L815.4 288.7 L816.4 287.8 L818.9 288.2Z" fill="#828282"/>
<path d="M804.8 285.8 L803.1 287.3 L801.7 287.1 L800.4 285.6 L801.5 284.5 L802.9 284.8Z" fill="#828282"/>
<path d="M808.6 265.7 L807.3 266.8 L806.5 265.8 L806.5 265 L807.9 264.8Z" fill="#0e6a24"/>
<path d="M810.6 284.6 L809.4 285 L807.6 285 L808.2 283.6 L809.7 283.4Z" fill="#828282"/>
<path d="M790.3 297 L788 298.9 L786.4 296.4 L788.2 295.2Z" fill="#828282"/>
<path d="M813.2 260.8 L810.8 263.5 L807.7 263.2 L805.5 261.9 L808.7 259.6 L812.4 259.5Z" fill="#828282"/>
<path d="M780.2 288.4 L777.8 292 L773.8 288.9 L776.1 287.4Z" fill="#0e6a24"/>
<path d="M809.2 302.6 L806.2 304.8 L804 303.7 L803.4 301.5 L808.4 300.8Z" fill="#0e6a24"/>
<path d="M834.7 248 L834.7 249.8 L833 249.2 L832.5 249.2 L832.2 247.3 L833.8 247 L835.1 247.6Z" fill="#828282"/>
<path d="M828.4 295.2 L825.2 297.3 L823.8 297.4 L822.6 293.8 L826.2 293.5Z" fill="#0e6a24"/>
<path d="M788.1 282.3 L785.3 283 L783.7 283.6 L784 280.1 L786.1 280.8Z" fill="#0e6a24"/>
<path d="M827.9 315.2 L826.6 316.2 L824 316 L823.6 313.5 L826.7 313.5Z" fill="#828282"/>
<path d="M784.5 268.7 L782.6 270.3 L780.9 270.1 L780.3 268.7 L780.7 266.9 L783.6 267.5Z" fill="#0e6a24"/>
<path d="M795 277.4 L793.6 278.3 L792.3 277.8 L792.7 276.5 L794.3 276.5Z" fill="#828282"/>
<path d="M801 271.1 L800 273.3 L798.1 272.8 L797.4 271.2 L798.2 269.9 L799.2 270.5Z" fill="#828282"/>
<path d="M782.3 294.6 L780.4 298.6 L776.3 298 L776.3 296.2 L776 294.1 L780 292.2Z" fill="#828282"/>
<path d="M838.9 218.2 L836.6 220.3 L832.4 219.8 L834.6 217.6 L836.7 215.7Z" fill="#828282"/>
<path d="M810.2 248.9 L809.9 251.4 L807.6 251.7 L805.2 249.8 L805.6 247.6 L809.3 248.1Z" fill="#828282"/>
<path d="M791 252 L790.8 253.2 L789.8 253.2 L789.2 252.4 L788.6 252 L789.7 251.6 L790.5 251.3Z" fill="#0e6a24"/>
<path d="M816 235.3 L817.1 237.1 L814.5 239.2 L811.9 235.8 L811.5 233.5 L812.3 233.7 L815.5 233.8Z" fill="#828282"/>
<path d="M810.6 260.8 L809.7 261.3 L808.3 261.8 L807.5 261.2 L808.1 260.1 L808.8 259.7 L810 259.8Z" fill="#828282"/>
<path d="M835.6 285.4 L834.2 286.6 L831.7 287.7 L831.1 285.5 L830.6 283.9 L832.5 282.1 L833.2 283.1Z" fill="#0e6a24"/>
<path d="M806.5 283.7 L805 284.9 L801.9 283.3 L804 281.4Z" fill="#828282"/>
<path d="M845 259.9 L843.7 262.2 L839.8 258.7 L844 257.6Z" fill="#828282"/>
<path d="M814.8 263.4 L813.5 264.1 L810.1 263.7 L811.4 262.1 L812.3 262Z" fill="#828282"/>
<path d="M820.2 242.3 L820.5 243.2 L819.4 243.1 L818.9 242.2 L818.4 241.3 L819.5 241.3 L820.5 241.1Z" fill="#828282"/>
<path d="M782.8 278.8 L779.6 280.2 L775.6 280.6 L776.5 277.6 L778.6 275.5Z" fill="#0e6a24"/>
<path d="M815.6 285.7 L815 286 L813.9 285.9 L813.9 284.7 L814.6 283.9Z" fill="#828282"/>
<path d="M794.7 265.1 L794.2 265.7 L792.4 265.2 L793.8 264Z" fill="#0e6a24"/>
<path d="M806.9 292.6 L805.8 293.4 L802.8 293.8 L802.6 291.1 L805.7 290.5Z" fill="#828282"/>
<path d="M806.5 288.2 L806.3 288.6 L805.7 289.1 L804.6 289.1 L804.6 287.7 L805 287.2 L806 287.8Z" fill="#828282"/>
<path d="M820.8 248.2 L819.6 251 L816.7 249.5 L818 245.4Z" fill="#828282"/>
<path d="M781.5 255.3 L781.4 256.9 L779.4 257 L779.1 254.6 L781 254.5Z" fill="#828282"/>
<path d="M817.2 209.7 L815.7 210.3 L814 210.2 L814.8 209 L816.1 208.7Z" fill="#828282"/>
<path d="M850.3 285.9 L848.9 287.4 L847.3 287 L846.5 284.2 L848.7 285.3Z" fill="#828282"/>
<path d="M837.9 239.1 L837.6 239.7 L836.5 240 L835.3 239.4 L835.7 238.2 L836.7 238 L837.6 238.4Z" fill="#828282"/>
<path d="M790.1 260.6 L788.2 262.8 L786.2 262 L785.7 260.7 L786.7 257.6 L788.2 258.9Z" fill="#828282"/>
<path d="M795.5 293.2 L793.7 296.1 L791.9 293.9 L793.4 292.5Z" fill="#828282"/>
<path d="M829 286.1 L826.1 287.7 L824.4 286.8 L824.5 284.7 L826.9 284Z" fill="#828282"/>
<path d="M779.6 266.9 L778.2 267.5 L776 266.5 L777.9 265.3Z" fill="#828282"/>
<path d="M840.2 241.5 L839 242.3 L838.8 243.2 L837.2 241.6 L837 240.4 L838 240.4 L839.7 239.8Z" fill="#0e6a24"/>
<path d="M782.4 309.9 L780.8 312 L779.5 311.3 L775.8 309.6 L777 308.1 L779 308.2 L780.6 308Z" fill="#0e6a24"/>
<path d="M829.8 276.5 L827.3 279.1 L823.1 276.8 L827.4 273.9Z" fill="#828282"/>
<path d="M846.7 231.8 L844.6 233.5 L842.5 232.7 L845.3 230.6Z" fill="#828282"/>
<path d="M789.5 263.9 L789 264.6 L787.6 264 L788.4 263.3Z" fill="#828282"/>
<path d="M826.7 292.6 L826.2 294.4 L822.5 291.4 L826 290.9Z" fill="#0e6a24"/>
<path d="M839.6 296.1 L836.8 296.4 L835.8 297.9 L833.7 295.9 L833.5 294.7 L836.1 292.8 L838.9 294Z" fill="#828282"/>
<path d="M828.2 229.3 L825.4 230 L823.8 230 L823.4 226.9 L827.6 226.7Z" fill="#828282"/>
<path d="M836.7 299.8 L834.2 300.1 L831 298.7 L833.1 296.8Z" fill="#0e6a24"/>
<path d="M828.4 276.6 L827.7 277.4 L825.9 277.2 L825.5 276.3 L827.9 275.4Z" fill="#828282"/>
<path d="M826.8 274.6 L822.6 277.5 L820.7 275.5 L822.1 272.7Z" fill="#828282"/>
<path d="M839.9 208.9 L839.7 210.1 L837.2 209.7 L837.4 208.5 L839.5 207.6Z" fill="#0e6a24"/>
<path d="M778.9 258.7 L779.1 260.6 L776.7 259.9 L775.4 259.8 L775.5 259 L777.1 257.3 L778.1 257.8Z" fill="#0e6a24"/>
<path d="M786.5 250.3 L785.4 252.1 L781.2 250.7 L781.7 249.3 L785.9 248.5Z" fill="#828282"/>
<path d="M847.7 231.8 L847.5 232.7 L846 233 L845.3 231.6 L845.9 231.5 L847.4 231.2Z" fill="#828282"/>
<path d="M815.4 251.4 L813.5 254.3 L809.7 252.2 L814.1 249.7Z" fill="#0e6a24"/>
<path d="M790 247.9 L789 250.4 L786.9 250.4 L786.2 248.6 L787.3 246.8 L788.6 247.9Z" fill="#828282"/>
<path d="M826.8 278.4 L824.6 279.8 L822.4 279.6 L822.7 276.7 L825.3 277.7Z" fill="#828282"/>
<path d="M852.3 241.9 L851.6 243 L848.1 242.4 L847.2 240.8 L848.5 239.4 L851.3 239Z" fill="#0e6a24"/>
<path d="M795.6 279.7 L795.7 280.7 L794.4 280.1 L793.8 279.5 L793.8 278.4 L794.9 278.9Z" fill="#0e6a24"/>
<path d="M777.6 290.2 L775.4 291.4 L772.8 292 L771.3 288.6 L774.8 287.9Z" fill="#0e6a24"/>
<path d="M804.6 271.2 L804.8 272.2 L802.2 272.1 L801.6 270.6 L802.1 269.6 L804.4 270.4Z" fill="#828282"/>
<path d="M785 310 L782.9 312.3 L780.2 311 L781.8 308.2Z" fill="#828282"/>
<path d="M856.1 247.3 L855 248.1 L854.7 248.6 L854 247.8 L853.8 246.7 L855 247Z" fill="#828282"/>
<path d="M842.8 310.2 L841.5 311 L840.3 312.6 L838.8 309.6 L840.7 307.1 L842.5 309Z" fill="#828282"/>
<path d="M822.3 256.6 L821.9 258.6 L820.3 258.8 L819.3 257.3 L819.4 256.2 L819.6 255.4 L822.7 256Z" fill="#828282"/>
<path d="M799.1 263 L796.5 264.3 L795.3 263.4 L796.5 261.7Z" fill="#828282"/>
<path d="M795.4 239.6 L793.2 240.6 L791.1 239.4 L792.7 237.5Z" fill="#0e6a24"/>
<path d="M780.4 247.1 L776.6 249.4 L772.5 247.4 L776.6 245.4Z" fill="#0e6a24"/>
<path d="M826.6 284.3 L824.8 286.4 L822.7 286 L823.3 282.4 L824.9 282.2Z" fill="#828282"/>
<path d="M844.2 220.9 L842.6 223 L838.6 221.5 L839.7 219.2 L843.5 218.6Z" fill="#828282"/>
<path d="M801.3 238.5 L797.9 241.9 L793.9 240.2 L797.3 237.7Z" fill="#828282"/>
<path d="M839.5 261.3 L839.2 261.6 L837.9 261.7 L837.6 261.3 L837.5 260.4 L838.3 260.4 L838.6 260.3Z" fill="#828282"/>
<path d="M792.4 298.1 L791.4 299.4 L789.8 299.2 L789.5 297.3 L791 297.1Z" fill="#828282"/>
<path d="M848.6 259.3 L847.7 262.8 L844.1 263.2 L841.9 261.7 L843.6 260.1 L845.1 256.6 L847.1 257Z" fill="#0e6a24"/>
<path d="M786.1 298.4 L783.9 299.7 L782.4 298.6 L782.7 297.3 L784.6 296.1Z" fill="#0e6a24"/>
<path d="M835.6 270 L834.4 271.5 L833 270.3 L833.9 269.8Z" fill="#0e6a24"/>
<path d="M784.9 249.1 L783.3 250.5 L781.6 250.4 L778.3 248.4 L779.8 247.7 L781.2 246.5 L782.7 245.7Z" fill="#828282"/>
<path d="M837.9 241 L838.5 241.9 L836.8 242.2 L835.6 241.3 L835.6 240.2 L836.6 239.6 L838 240.4Z" fill="#828282"/>
<path d="M779.4 277.8 L777.3 280.1 L774.9 280.8 L774.4 280 L772.7 277.2 L776.1 277 L777.7 277.6Z" fill="#828282"/>
<path d="M797.1 251.9 L795.5 254.3 L792.3 254.1 L792.3 252.5 L794.1 250.7 L797 249.1Z" fill="#0e6a24"/>
<path d="M848.8 295 L846.7 296 L844.3 296.2 L844.5 294.5 L846.9 294.3Z" fill="#0e6a24"/>
<path d="M821.6 238.4 L821.4 238.8 L819.8 238.8 L818.9 238.4 L817.9 237.8 L819.8 236.6 L821 237.4Z" fill="#0e6a24"/>
<path d="M832 233.1 L830.1 234.1 L827.7 233.7 L830.3 232.1Z" fill="#828282"/>
<path d="M806.6 305.4 L804.4 309.1 L801 307.5 L800.5 305.1 L803.6 305Z" fill="#0e6a24"/>
<path d="M799.3 293.7 L797.5 296 L793.9 294.8 L796.2 291.9Z" fill="#828282"/>
<path d="M800.7 238.4 L798.4 239.6 L795.4 239.6 L796.2 237.4 L798.5 237.3Z" fill="#0e6a24"/>
<path d="M837.2 297 L834.1 299.7 L831.6 297.4 L834.1 295.2Z" fill="#0e6a24"/>
<path d="M846.5 226.8 L844.6 228.4 L842.1 227 L841.2 226.9 L841.6 225.5 L841.9 223.7 L844 224.7Z" fill="#828282"/>
<path d="M827.8 245 L824.5 247.1 L822.2 245.4 L822.9 242.6 L824.6 241.8Z" fill="#0e6a24"/>
<path d="M776.9 264.2 L775.6 265.3 L774.7 265.4 L774.2 264.4 L774.4 264.2 L775.6 263.4Z" fill="#828282"/>
<path d="M812 234.6 L809.9 235.3 L809.2 234.3 L810.6 232.9Z" fill="#828282"/>
<path d="M828.6 267.7 L826.5 270.6 L824.2 270.9 L823.9 267.4 L827.8 266.6Z" fill="#0e6a24"/>
<path d="M795.9 296.6 L795.2 297.6 L793.3 297.4 L792.4 296.1 L793 295.5 L794.4 295.4Z" fill="#828282"/>
<path d="M856.2 256.4 L854.3 258.3 L853.1 256.6 L853.7 253.9Z" fill="#0e6a24"/>
<path d="M823.6 308.3 L821.9 308.8 L818.9 308.2 L819.8 307 L821.7 306.6Z" fill="#828282"/>
<path d="M780.8 316.7 L780.1 317.6 L778.8 317.3 L778.7 316.7 L779.8 316.1Z" fill="#0e6a24"/>
<path d="M829.4 207 L825.8 209.1 L824.1 208.5 L823.1 207.9 L823.2 205.9 L826 204.2Z" fill="#828282"/>
<path d="M821.1 262.3 L819.6 264.7 L818.9 264.5 L814.8 263.2 L816 260 L818.6 259.9 L819.6 261.1Z" fill="#0e6a24"/>
<path d="M845.7 262.2 L845.4 263.2 L843.6 265.4 L841.5 264.2 L840.9 259.6 L843 259.8 L847.2 260.5Z" fill="#828282"/>
<path d="M783 255.1 L782.5 255.9 L780.9 255.4 L781.8 254.7 L782.6 254.5Z" fill="#828282"/>
<path d="M778.9 284.7 L777.9 286.9 L775.9 285.5 L776 284.7 L775.8 283.2 L778.7 282.5Z" fill="#0e6a24"/>
<path d="M789.1 236.4 L788.3 237.1 L787.2 236.4 L787 235.7 L788.3 234.8Z" fill="#828282"/>
<path d="M784.9 253.3 L784 253.7 L782.4 254.3 L781 254.4 L781.7 251.9 L781.7 251.3 L784 252.5Z" fill="#828282"/>
<path d="M843.2 259.8 L842.6 260.6 L841 260.1 L840.7 259 L841.8 258.2Z" fill="#0e6a24"/>
<path d="M828.7 275.7 L826.6 277.6 L824.6 274.9 L826.3 273.9Z" fill="#828282"/>
<path d="M783 289.5 L781.5 289.6 L779.6 290.7 L777.9 288.9 L779.3 285.1 L782 287.6Z" fill="#0e6a24"/>
<path d="M786.6 257.6 L786.3 259.9 L783.4 259.3 L783.8 257.9 L783.6 256.2 L785.5 257.1Z" fill="#828282"/>
<path d="M805.6 262.8 L805.1 264.3 L802.2 264.3 L802.7 262.6 L802.6 261.1 L805.5 261.5Z" fill="#828282"/>
<path d="M844 259.8 L843.3 260.1 L842.8 260.6 L840.5 260 L840.8 259.1 L842.5 258.9 L843.4 258.6Z" fill="#828282"/>
<path d="M814.4 232.7 L811.8 233 L810 233.5 L807.1 230.7 L809.4 231 L812.2 229.9Z" fill="#828282"/>
<path d="M847 302.2 L844.2 303.8 L842.1 302.8 L838.2 302.3 L840.5 300.5 L842.4 299.7 L843.3 299.7Z" fill="#828282"/>
<path d="M832.7 249.5 L832.1 251.1 L829.9 251.1 L829.7 250.1 L829.9 248.7 L831.5 249Z" fill="#828282"/>
<path d="M815.8 238.1 L814.4 240.1 L812 238.9 L811 238.2 L811.9 236.7 L815.3 236Z" fill="#0e6a24"/>
<path d="M837.2 213.6 L834.3 214.3 L832.4 213.3 L834.3 211.7Z" fill="#828282"/>
<path d="M790.2 301.1 L786.9 304.2 L784.6 300.6 L786.9 299.2Z" fill="#0e6a24"/>
<path d="M844.7 250.9 L844.2 252.7 L842.3 252.9 L841.3 251.3 L842.7 250 L844.9 250Z" fill="#0e6a24"/>
<path d="M793 241.6 L792 243 L791.4 242 L790 240.7 L790.9 239.4 L791.9 240.5Z" fill="#0e6a24"/>
<path d="M853.1 250.9 L850.7 252.1 L848.7 250.6 L850 249.2Z" fill="#828282"/>
<path d="M783.5 256.3 L783.4 258.7 L781.2 257.8 L778.6 256.1 L780.5 255.5 L782.3 255.6Z" fill="#828282"/>
<path d="M819.5 233.3 L818.2 234.8 L815.8 233.8 L816.1 232.8 L817.8 232.5Z" fill="#828282"/>
<path d="M794.4 298.5 L791.3 299.8 L789.2 299.4 L787.4 296.5 L791 296.5Z" fill="#828282"/>
<path d="M814.3 312.2 L813.5 312.4 L812.6 312.7 L812.4 311.5 L814.1 311.2Z" fill="#0e6a24"/>
<path d="M821.9 233.8 L819.7 236.1 L817.2 236 L816.6 235.9 L816.5 231.9 L816.3 230.8 L821.8 230.8Z" fill="#0e6a24"/>
<path d="M774.2 256.6 L772.2 258.7 L769.3 257.2 L772.3 254.3Z" fill="#828282"/>
<path d="M843.7 313 L841.4 315 L839 315.7 L837.5 312.8 L839.9 311.6 L842.3 312Z" fill="#0e6a24"/>
<path d="M801.7 296.6 L800.4 297.7 L799.1 298.9 L798.5 297.1 L798.5 296 L798.4 294.5 L800.7 295.7Z" fill="#828282"/>
<path d="M806.4 297.1 L805.4 298.3 L804 299.7 L802.6 297.7 L801.2 297 L803.8 295.4 L806.4 296.7Z" fill="#828282"/>
<path d="M857.6 307.1 L857.6 309.9 L854.2 309.2 L851.7 307.9 L850.5 307 L852.6 305.1 L855.7 306.2Z" fill="#0e6a24"/>
<path d="M827.5 299.4 L826.9 302.6 L824.1 300.8 L823.5 298.3 L826.1 297.9Z" fill="#828282"/>
<path d="M847.1 218.7 L845 221.3 L843.4 218.9 L845 218.1Z" fill="#828282"/>
<path d="M855.1 234.4 L855 236.1 L852.5 235.4 L852.3 233.3 L853.8 232.4Z" fill="#828282"/>
<path d="M808.8 275.3 L808.2 277 L805.2 275.6 L804.7 273.6 L807.7 273.6Z" fill="#828282"/>
<path d="M810.3 254.3 L809.5 255.9 L808.4 256.7 L806.6 256.5 L805.8 252.9 L807.5 252.3 L810 253.1Z" fill="#0e6a24"/>
<path d="M819.7 282.1 L816.8 285.4 L813.3 281.9 L816 279.6Z" fill="#828282"/>
<path d="M775.9 298.2 L775.6 299.3 L774 298.2 L775.5 296.6Z" fill="#828282"/>
<path d="M808.6 284.8 L807 288 L803.6 284.7 L806.8 282.1Z" fill="#828282"/>
<path d="M817.1 252.6 L816.1 252.8 L815.3 252.9 L814.3 252.4 L815.2 252.2 L815.1 251.5 L816.4 251.6Z" fill="#828282"/>
<path d="M834.9 231.8 L833.6 231.8 L833 232.3 L831.7 231.3 L832.3 230.6 L833.6 230.1Z" fill="#828282"/>
<path d="M815.7 294.3 L814.3 297.2 L809.6 296.1 L810.4 293.2 L810.5 292.6 L813.4 290Z" fill="#0e6a24"/>
<path d="M834.8 294.5 L833.4 298.1 L831.1 296.5 L831.2 293.8 L834.7 292.4Z" fill="#0e6a24"/>
<path d="M804.9 261.9 L802.4 262.7 L801.5 262.8 L799.9 262.7 L799.8 261.7 L801.9 260.4 L803.2 260.7Z" fill="#828282"/>
<path d="M796 313.4 L794.9 314.7 L791.5 315.3 L790.3 313.9 L789.7 312.1 L791.3 310.5 L793.5 311.4Z" fill="#828282"/>
<path d="M744.8 388.1 L743.6 389.5 L742.7 389 L742 387.8 L743.4 387.5Z" fill="#828282"/>
<path d="M726.1 385.1 L725 385.7 L723.1 386.2 L723.7 385 L724.3 383.8 L725.7 384.1Z" fill="#828282"/>
<path d="M766.1 316.3 L764.8 317.3 L761.5 317 L760 316.2 L760.9 314.4 L764.3 313.9Z" fill="#828282"/>
<path d="M736.5 313.8 L735 315.7 L733.1 315.9 L732.4 313.9 L731.9 312.9 L735.2 312.5Z" fill="#0e6a24"/>
<path d="M731.8 353.7 L730.4 354.5 L728.9 354 L730.1 352.2Z" fill="#0e6a24"/>
<path d="M743.8 326.2 L742.2 326.5 L740.8 326.9 L740.1 326.4 L740.1 325.2 L741.3 324.8 L742.8 324.1Z" fill="#828282"/>
<path d="M780.2 310.8 L778.9 313.3 L776.7 311 L778.3 308.6Z" fill="#828282"/>
<path d="M721.9 317.1 L719.2 319 L716.6 318.2 L717.4 315.6 L721.3 313.8Z" fill="#0e6a24"/>
<path d="M724.5 320.9 L724.5 323.3 L721.8 322 L721.3 321 L722 320.1 L724.5 320.3Z" fill="#828282"/>
<path d="M725.9 377.7 L725.9 378.2 L724.5 378.5 L723.9 378.5 L723.7 377.6 L725.3 376.6 L725.5 376.7Z" fill="#0e6a24"/>
<path d="M728.8 364.1 L729.3 365.7 L727 366.8 L725.6 365 L724.6 363.7 L725.7 362.1 L727.8 363.1Z" fill="#828282"/>
<path d="M758.6 322.3 L757.3 324.4 L755.7 322.2 L756.7 319.7Z" fill="#828282"/>
<path d="M760.5 317.2 L759.3 319.7 L755.9 316.9 L758.6 315.6Z" fill="#0e6a24"/>
<path d="M743.2 338.3 L740.4 340.6 L738.1 340.2 L738.9 337.8 L740.1 336.9Z" fill="#828282"/>
<path d="M734.4 313.9 L733.6 314.3 L730.9 314.7 L731.5 312.6 L733.2 310.9Z" fill="#828282"/>
<path d="M733 384.1 L731.6 385.4 L728.2 384.4 L729.3 382.9 L731.6 382.4Z" fill="#828282"/>
<path d="M722.5 379.4 L721.2 379.6 L718.8 380.8 L717.6 379 L718.4 378.7 L718.4 377.2 L720.4 377.9Z" fill="#0e6a24"/>
<path d="M727.3 337.1 L724.6 340.7 L720.8 339.5 L722.4 336.7 L724.4 335.5Z" fill="#0e6a24"/>
<path d="M768.4 330.7 L767.5 331.7 L766.9 332.1 L765.5 330.9 L766.3 329.9 L768.1 329.6Z" fill="#0e6a24"/>
<path d="M735.1 339.6 L734.5 341 L732.7 341 L732.8 340.2 L731.3 339.4 L734.2 337.8 L734.8 338.5Z" fill="#828282"/>
<path d="M730.8 350.6 L729.6 351.4 L726.2 351.9 L726.9 348.9 L728.8 348.3Z" fill="#0e6a24"/>
<path d="M719.2 376 L718.2 376.4 L716.9 375.7 L717.9 375.3Z" fill="#0e6a24"/>
<path d="M736 321.2 L735.3 322.7 L731.1 323.9 L732.7 320.4 L734.8 319.2Z" fill="#828282"/>
<path d="M724.6 325.1 L723 327.1 L720.7 324.6 L722.7 324.5Z" fill="#0e6a24"/>
<path d="M780 325 L776.5 328.9 L773.9 327.1 L773.5 323.9 L777 322.8Z" fill="#0e6a24"/>
<path d="M731.5 326.7 L730.6 327.7 L729.1 327.6 L728.9 327.2 L729.4 326.2 L730.4 326.5Z" fill="#828282"/>
<path d="M760 336.6 L759 338.1 L757.5 337.1 L759.2 335.4Z" fill="#828282"/>
<path d="M757.8 322.1 L757.4 322.7 L755.5 322.6 L754 322.4 L755.4 319.8 L758.2 320.4Z" fill="#828282"/>
<path d="M723.6 375.4 L722.9 376.3 L721.6 375.9 L721.6 374.4 L722.8 374.5Z" fill="#0e6a24"/>
<path d="M738.5 361.6 L738.2 364.8 L733.6 363.1 L733.7 361 L736.8 359.5Z" fill="#0e6a24"/>
<path d="M763.2 351 L762.8 351.7 L761.5 352.3 L761.2 352 L761.1 350.7 L761.7 350.6 L762.7 350.9Z" fill="#828282"/>
<path d="M759.3 323.2 L757.4 324.5 L756.1 324.5 L756.1 323.4 L758.1 322.3Z" fill="#828282"/>
<path d="M730.1 374.7 L731 376.4 L729 377.1 L726.2 375.5 L727 374.5 L728 373.3 L730.2 373.5Z" fill="#828282"/>
<path d="M741.5 343.4 L741.3 344.7 L740.3 345.2 L739.3 344.4 L739.3 343.5 L740.3 343 L741.7 343Z" fill="#0e6a24"/>
<path d="M735.5 357.6 L733.2 359.2 L728.7 357.7 L733 354.8Z" fill="#828282"/>
<path d="M726 364 L724.1 364.7 L722.5 362.9 L725.2 361.5Z" fill="#828282"/>
<path d="M727.4 361.7 L725.7 363 L724.5 362.1 L725.2 361.1Z" fill="#0e6a24"/>
<path d="M726.5 359.2 L725.1 361 L724.4 359.9 L724.8 358.4Z" fill="#0e6a24"/>
<path d="M732.6 347.9 L733 349.4 L729.8 350.8 L729.1 348 L728.8 346.3 L729.4 345.2 L732.9 345.7Z" fill="#828282"/>
<path d="M749.2 347.7 L748.2 348.4 L746.7 347.7 L748 347.2Z" fill="#0e6a24"/>
<path d="M762.3 326.9 L761.3 328.4 L759.5 327.4 L759.1 326.4 L759.9 325.6 L761.8 325.2Z" fill="#828282"/>
<path d="M759.7 333.9 L759.4 335 L758.7 335.1 L757.7 334.8 L758.5 333.8 L758.5 333 L760.1 333.5Z" fill="#828282"/>
<path d="M723.1 328.5 L720.9 329.2 L719.5 330.7 L718.9 328.6 L717.2 328 L719.2 326.2 L721.5 327.6Z" fill="#828282"/>
<path d="M756.6 334.8 L754.7 335.1 L753.9 334.4 L755.1 333.2Z" fill="#0e6a24"/>
<path d="M734.9 340 L734.1 341.2 L732.3 339.5 L733.7 339Z" fill="#828282"/>
<path d="M724.5 363.3 L723.3 364.8 L721 364.6 L718.9 362.3 L721 361.7 L722.9 360.6Z" fill="#828282"/>
<path d="M732 348.8 L730.3 351.6 L728 350.6 L726.9 350.1 L725.9 347.6 L728.5 346.9 L730.4 346Z" fill="#828282"/>
<path d="M782.6 325.4 L780.6 326.7 L779.2 325.1 L780.6 323.7Z" fill="#0e6a24"/>
<path d="M724.9 382.4 L723.5 384.2 L720.3 381.6 L723.1 381Z" fill="#828282"/>
<path d="M730 369.3 L728.7 371.4 L726.4 372.5 L725.5 371.3 L725.1 369.5 L726.3 368 L728.6 369.1Z" fill="#828282"/>
<path d="M734.7 374.2 L735.5 375.5 L732.7 376.9 L731.9 375.1 L730.6 372.1 L732.8 371.6 L733.9 372.7Z" fill="#828282"/>
<path d="M761.2 316.2 L759.7 319.2 L757.2 316.9 L756 314.4 L760 312.6Z" fill="#828282"/>
<path d="M775.7 328.1 L773.2 329.3 L770.7 327.4 L773.8 326.3Z" fill="#828282"/>
<path d="M740.1 369.6 L739.9 370.8 L737.9 372.3 L735 369.9 L735.1 368.4 L737.6 366.8 L739 367.5Z" fill="#828282"/>
<path d="M780.5 318.4 L778.5 320.5 L775.2 320.2 L774.6 318.2 L777.9 316.4Z" fill="#828282"/>
<path d="M720 337 L719.7 338.4 L717.1 339.9 L715.3 337.4 L717.1 334 L720.2 335Z" fill="#828282"/>
<path d="M743.2 383.4 L741.4 385.2 L738.5 383.4 L741.6 382.2Z" fill="#0e6a24"/>
<path d="M731.2 329 L730.2 331.8 L726.9 332.3 L725.6 329.2 L725.8 327.6 L730.5 326.7Z" fill="#0e6a24"/>
<path d="M767.8 320.3 L765.5 320.5 L762.9 319.1 L765 318.7Z" fill="#0e6a24"/>
<path d="M725.2 360.5 L722.9 361.3 L721.7 362.9 L720.2 361.4 L720.5 359.5 L721.5 358.5 L723.2 357.7Z" fill="#0e6a24"/>
<path d="M738.5 320.5 L735.5 322 L734.1 320.4 L734.6 317.9Z" fill="#0e6a24"/>
<path d="M723.3 379.3 L721.8 380.4 L720.6 380.6 L718.2 380 L718.3 379.1 L720.6 378 L722.2 379Z" fill="#0e6a24"/>
<path d="M750.8 315.9 L748.9 316.9 L746.6 316.2 L746.7 314.5 L749.3 312.7Z" fill="#828282"/>
<path d="M729.7 333.6 L728.8 334.6 L727.6 334.9 L726.3 334.3 L726.8 333.3 L727.8 332.4 L728.9 332.6Z" fill="#0e6a24"/>
<path d="M740.8 353.8 L736.1 356.7 L732.4 354.9 L733.8 351.5 L737.6 351.2Z" fill="#0e6a24"/>
<path d="M738.3 322.9 L736.5 324.3 L734.7 324.5 L733.7 324.8 L733 322.5 L735 321.6 L737.9 321.8Z" fill="#828282"/>
<path d="M728.2 348.4 L728.5 349.3 L726 349.6 L725.8 348.6 L726.6 347.3 L727.8 347.9Z" fill="#0e6a24"/>
<path d="M725 333.2 L723.5 333.8 L722.2 333.5 L723.2 331.6Z" fill="#0e6a24"/>
<path d="M778.2 315.7 L776.3 318.1 L773.4 316.4 L775.1 314Z" fill="#828282"/>
<path d="M732.3 350 L730.9 353.1 L727.8 352.3 L726.6 351.6 L725 349.4 L729.1 347.9 L731.7 349Z" fill="#828282"/>
<path d="M758.3 330.6 L756.8 332.6 L752.8 331.7 L753.9 329.7 L755.8 328.7Z" fill="#828282"/>
<path d="M730 379.1 L729 380 L728 380.7 L725.8 379.2 L726.2 377.6 L727.3 377.6 L730.3 377.7Z" fill="#0e6a24"/>
<path d="M738.1 321.7 L734.6 322.5 L730.2 320.3 L734.8 319Z" fill="#0e6a24"/>
<path d="M742.5 332.3 L741.3 333.5 L739.3 334 L738 331.7 L739 330.9 L741.3 330.7Z" fill="#828282"/>
<path d="M736.3 340.3 L736 343.1 L733.1 341.6 L733.2 339.8 L736.5 339.1Z" fill="#0e6a24"/>
<path d="M753.8 321.5 L751.1 322.5 L748.1 321.8 L746.9 318.9 L751 318.9Z" fill="#0e6a24"/>
<path d="M738.3 340 L736.6 342.8 L734.2 340.5 L736 338.3Z" fill="#828282"/>
<path d="M785 316 L781.3 317.3 L778.1 316.1 L779.3 313.5 L782 312.5Z" fill="#0e6a24"/>
<path d="M743.2 385.1 L743 385.6 L741.8 385.2 L742 384.7 L743 384.5Z" fill="#828282"/>
<path d="M739.5 351.8 L737.1 353.4 L734.9 351.8 L735.3 350 L738.1 348.3Z" fill="#0e6a24"/>
<path d="M728.6 383.4 L726.9 384.3 L725.1 384.1 L723.7 383.1 L725.5 381.6 L727.6 381.1Z" fill="#0e6a24"/>
<path d="M723.3 361.6 L720.8 363.4 L717 361.4 L721 358.4Z" fill="#828282"/>
<path d="M735.5 353.6 L734.8 354.6 L733.8 354.6 L732.9 354.8 L733 353.4 L733.3 352.2 L734.4 352.7Z" fill="#0e6a24"/>
<path d="M746.2 377.9 L746 378.7 L744.5 378.5 L743.6 377.8 L743.9 376.5 L745.2 376.8 L745.8 376.7Z" fill="#828282"/>
<path d="M743.3 379.6 L745.3 381.5 L740.5 381.4 L739.4 381.4 L738.5 379.4 L739.7 378 L743.6 377.6Z" fill="#0e6a24"/>
<path d="M748.1 388 L746.3 390.3 L744 390.1 L743.9 388.4 L744.9 387.8 L746.3 387.7Z" fill="#828282"/>
<path d="M745.7 375.3 L742.7 377.9 L740.6 375.1 L743.1 374.9Z" fill="#0e6a24"/>
<path d="M742.2 381 L740.1 381.2 L736.8 382.1 L736.3 381.6 L734 379.1 L736.8 378.1 L740.2 379.2Z" fill="#828282"/>
<path d="M723.2 364.7 L722 366 L720.4 366.4 L720.2 364.6 L721.9 364.5Z" fill="#828282"/>
<path d="M763.4 329.5 L761 331.4 L757.6 332.8 L756.1 328.8 L756.9 327.2 L761.6 327.3Z" fill="#0e6a24"/>
<path d="M743.1 314.1 L742.2 315.7 L738.6 316.3 L737.9 314.1 L738.9 312.5 L743.8 311.5Z" fill="#828282"/>
<path d="M736.1 371.5 L736 372.3 L732.6 372.8 L732.8 371.1 L732.7 369.8 L734.1 368.3 L735.4 370.1Z" fill="#0e6a24"/>
<path d="M719.5 378.4 L719.7 379.5 L718.4 379.4 L716.7 378.7 L717.5 378 L718.5 377.5 L719.5 377.4Z" fill="#828282"/>
<path d="M740.2 345.8 L736.6 347.7 L734.7 346.2 L738.1 343.7Z" fill="#0e6a24"/>
<path d="M732.8 368.3 L733.4 369.7 L731.5 369.9 L730 369 L729.2 367.8 L731.7 366 L732.2 366.7Z" fill="#0e6a24"/>
<path d="M721.4 367.3 L720.2 369.2 L716.8 368.1 L714.8 367.2 L717.6 364 L718.9 364.7Z" fill="#828282"/>
<path d="M726.8 361.7 L725.5 362.7 L722.6 362 L725.2 359.2Z" fill="#0e6a24"/>
<path d="M726.3 343.7 L726.4 344.5 L725.1 344.4 L724.3 343.8 L724.1 342.7 L725.4 342.3 L725.8 342.4Z" fill="#0e6a24"/>
<path d="M765.2 319.6 L763.8 320.3 L759.4 322 L759.1 319.5 L757.6 318.4 L761.8 317.7 L765.2 317.6Z" fill="#0e6a24"/>
<path d="M734.6 364.6 L733.9 366 L732.5 364.9 L732.5 363.5 L733.9 363Z" fill="#0e6a24"/>
<path d="M743.3 370.7 L742.7 372.2 L738.5 373.3 L737.3 370.9 L735.2 369 L737.8 368.1 L741.2 367.8Z" fill="#0e6a24"/>
<path d="M731.7 321.9 L730 322.4 L728.9 321.8 L728.1 321.9 L727.2 320.4 L728.9 320.4 L729.9 320.1Z" fill="#828282"/>
<path d="M732.5 319 L728.1 322.8 L726.2 319.2 L728.8 318.1Z" fill="#0e6a24"/>
<path d="M769.4 333.7 L768.7 334.6 L766 334.1 L766.3 333.6 L765.9 331.4 L769.1 332.1Z" fill="#828282"/>
<path d="M750.9 326.4 L750.7 328.1 L747.8 328.8 L746.6 328.2 L747.3 326.9 L747.8 325.4 L750.3 325.6Z" fill="#828282"/>
<path d="M729.3 369.8 L727.8 372.5 L724.7 371.4 L725 368.6 L726.9 368.7Z" fill="#0e6a24"/>
<path d="M761.3 347.7 L760.1 348.3 L758.1 348.6 L757.4 348.1 L758.3 346.5 L760.1 345.5Z" fill="#828282"/>
<path d="M722.7 314.9 L722.5 317.2 L720.4 317.4 L718.7 316.2 L719.3 313.5 L723 314.2Z" fill="#0e6a24"/>
<path d="M773.9 322.3 L773.9 323.4 L771.3 323.5 L770.4 322.3 L769.9 321.6 L771.5 319.6 L773.1 320.5Z" fill="#0e6a24"/>
<path d="M723.5 373.7 L722.5 375.8 L719.7 374.2 L721.7 371.7Z" fill="#828282"/>
<path d="M777.1 326.1 L776.8 328.2 L775.5 327.9 L774.1 327.2 L775.1 325.7 L775.4 324.9 L776.5 325.5Z" fill="#0e6a24"/>
<path d="M746 337.1 L745.2 340.1 L740.1 337.3 L742.9 333.9Z" fill="#828282"/>
<path d="M728.1 320.2 L728.2 321 L727 321.5 L725.4 320.9 L726.2 319.7 L727.2 318.7 L728 319.1Z" fill="#0e6a24"/>
<path d="M728.5 353.8 L727 354.7 L725.1 353.8 L726.9 352Z" fill="#828282"/>
<path d="M740.5 361.7 L739.1 362.6 L738.5 363.2 L736.8 362.1 L734.7 360.7 L738.4 358 L740.6 358.8Z" fill="#0e6a24"/>
<path d="M788.6 322 L786.7 323.2 L785.4 322.5 L786.4 321.1Z" fill="#828282"/>
<path d="M757.8 330.6 L756.8 331.9 L754.9 331.5 L752.1 329.3 L755.1 328.5 L757.2 328Z" fill="#0e6a24"/>
<path d="M744.9 313.7 L743.3 315.6 L741.3 314.3 L744.3 312.4Z" fill="#828282"/>
<path d="M719.9 324.4 L719.4 325.4 L718.2 325.2 L717.4 324.6 L718.2 323.9 L718.7 323.9Z" fill="#828282"/>
<path d="M732.1 345.9 L729.7 347.1 L727.3 345.8 L729.8 344.5Z" fill="#828282"/>
<path d="M742.6 336 L742.8 337.5 L739.5 337.7 L735.5 337.6 L737.1 334.6 L738.3 334 L741.9 334.3Z" fill="#828282"/>
<path d="M735.1 325.5 L733.7 326.3 L732.6 325.6 L732.8 324.3Z" fill="#828282"/>
<path d="M774.4 324.2 L774.5 327.2 L770 328.1 L767.6 324.7 L771 322.1 L772.9 322.9Z" fill="#0e6a24"/>
<path d="M724.7 313.7 L720.8 317 L718.3 314 L721.3 311Z" fill="#828282"/>
<path d="M744.8 386.8 L743.1 389.5 L738.6 388.8 L740.1 385.8 L741.3 385.1Z" fill="#828282"/>
<path d="M730.2 346.5 L730.1 347.2 L727.7 346.5 L726.2 345.5 L727.8 344.2 L729.1 344.6Z" fill="#0e6a24"/>
<path d="M750.5 385.4 L750 387.5 L747.5 385.1 L749.5 384Z" fill="#828282"/>
<path d="M753.2 327.6 L750.4 329.3 L747.6 327.6 L751 325.5Z" fill="#828282"/>
<path d="M736.5 312.6 L735 313.7 L733.7 313.8 L733.7 312.5 L734.9 311Z" fill="#0e6a24"/>
<path d="M730.7 351 L731.1 352 L729.5 351.5 L728.9 351 L729 350.5 L730 350.1Z" fill="#828282"/>
<path d="M745 372.7 L744.5 373.5 L742.4 372.8 L740.9 371.9 L742.7 371.4 L744.6 371.5Z" fill="#0e6a24"/>
<path d="M760 318.6 L759 321.5 L756.7 321 L754.7 318.9 L756.4 317.1 L757.3 318.2Z" fill="#828282"/>
<path d="M749.1 335.8 L745.2 336.4 L743.3 337 L741.5 332.5 L745.6 333.2Z" fill="#828282"/>
<path d="M731.3 368.9 L729.5 371.4 L726 371.2 L727.2 368.6 L729 367.9Z" fill="#0e6a24"/>
<path d="M743.9 326.7 L743.2 327.3 L742.1 327.1 L740.8 325.6 L743.5 324.8Z" fill="#828282"/>
<path d="M775.3 317.4 L775 318.7 L772.2 319.2 L770.2 318.8 L770 315.9 L771.1 314.3 L775.6 314.4Z" fill="#828282"/>
<path d="M748.2 364.1 L746 365.6 L744 364.5 L745.4 361.8Z" fill="#0e6a24"/>
<path d="M769.4 311.1 L766.4 312.6 L763.7 311.9 L764 308.6 L766.4 309.6Z" fill="#0e6a24"/>
<path d="M739.6 375.8 L738.5 377.2 L735.6 376.3 L734.2 374.9 L733.1 373.1 L738 372.5Z" fill="#0e6a24"/>
<path d="M721.6 320.8 L719 323.2 L716.6 323.4 L716 321 L718.6 320.2Z" fill="#828282"/>
<path d="M736.3 345.7 L732.9 346.9 L730.9 345.2 L729.3 344.6 L729.7 342.4 L734.3 342.7Z" fill="#828282"/>
<path d="M748.3 378 L745.8 380.4 L744.4 380.6 L742.9 379.1 L741.8 375.9 L743 375.1 L747.1 377.7Z" fill="#828282"/>
<path d="M761.4 337 L761.7 339 L759 338.9 L757.3 337.7 L757.5 336 L758.8 334.1 L760.9 334.7Z" fill="#828282"/>
<path d="M734.9 358.7 L734.4 359.7 L731.6 359.8 L730.8 359.1 L732.8 357.8 L733.6 357.5Z" fill="#828282"/>
<path d="M744.7 328.3 L741.6 328.8 L740.9 329.9 L738 328.6 L737.3 326.4 L740.5 325.6 L741.5 324.4Z" fill="#0e6a24"/>
<path d="M754.1 338.9 L752.6 340.2 L751.4 339.5 L751.9 338.6 L752.7 338.4Z" fill="#828282"/>
<path d="M740.2 372.7 L739.2 373.1 L738 372.6 L737.7 371.7 L739.5 371.3Z" fill="#828282"/>
<path d="M739.5 335.6 L738.8 336.5 L736.4 336.1 L737 335.2 L738.6 335.1Z" fill="#0e6a24"/>
<path d="M761.6 317.2 L758.2 317.3 L754.8 318.3 L755.8 316.4 L757.2 314.3 L758.1 313.8Z" fill="#828282"/>
<path d="M744.7 324.3 L741.9 327 L740.8 325.6 L742.5 323.9Z" fill="#0e6a24"/>
<path d="M747.4 339.8 L746.3 340.2 L745.4 340.6 L744.7 340.3 L744.6 339 L745.5 338.8 L746.5 338.6Z" fill="#0e6a24"/>
<path d="M723 331.8 L723.1 332.4 L721.6 332.7 L721.3 331.8 L721.6 330.9 L722.4 331.2Z" fill="#828282"/>
<path d="M725.8 346 L725.1 346.4 L723.4 346.5 L724 345.6 L725 344.6Z" fill="#0e6a24"/>
<path d="M735.6 317.5 L735 318 L732.9 318.3 L731.9 317.4 L732.3 316.6 L733.2 316 L735.4 316.3Z" fill="#828282"/>
<path d="M740.3 369.5 L736.6 372.7 L732.7 373.1 L733.7 370.5 L735.6 369.3Z" fill="#0e6a24"/>
<path d="M746.3 385.7 L745.6 386.2 L743.3 387.1 L742.7 386.5 L743.4 384.9 L744.7 383.8 L745.9 384Z" fill="#828282"/>
<path d="M738 381.9 L736.9 382.4 L733.4 381.9 L734 380.7 L735.7 379.7Z" fill="#0e6a24"/>
<path d="M736.9 348.7 L736 350.1 L731.8 349.7 L735.3 347.4Z" fill="#828282"/>
<path d="M756 329.6 L754.9 329.9 L754.3 330.9 L752.5 329.6 L753.2 329.4 L754 328.6 L754.9 329Z" fill="#828282"/>
<path d="M763.2 332.9 L761.9 335.3 L760.1 334.7 L758.4 334.4 L757.6 332.7 L760.4 330.9 L761.8 332Z" fill="#0e6a24"/>
<path d="M749.7 339.1 L749.7 339.7 L748.5 340 L747.7 339.1 L747.6 338.9 L748.3 338.1 L749.7 338.2Z" fill="#0e6a24"/>
<path d="M748.7 316.3 L747.2 317.4 L745.5 317.3 L744.5 315.3 L747.2 315.4Z" fill="#828282"/>
<path d="M725.6 381.1 L724.5 382 L723.3 382.1 L723.1 381.3 L723.8 380.8 L724.4 380.9Z" fill="#828282"/>
<path d="M745.4 374.5 L745.6 375.9 L743.5 375.1 L743.9 373.9 L745.3 373.4Z" fill="#0e6a24"/>
<path d="M764.9 337.1 L764.7 338 L763.7 338.4 L763.3 337.4 L763.6 336.6 L764.3 335.7 L764.8 335.7Z" fill="#0e6a24"/>
<path d="M749.4 379.7 L748.5 380.9 L745.9 380.2 L746.9 377.6Z" fill="#828282"/>
<path d="M742.4 381.8 L741.1 382.6 L740.4 382 L741.4 380.8Z" fill="#828282"/>
<path d="M751.3 329.5 L748.8 330.9 L747.7 333.3 L745.8 331.2 L746 329.8 L747.1 328.2 L750.4 328.5Z" fill="#828282"/>
<path d="M749 385.5 L747.3 387.4 L744.4 384.8 L748.2 384Z" fill="#828282"/>
<path d="M737 372.2 L736.7 372.7 L735 372.6 L733.4 372.3 L733.1 371.5 L735.1 370.5 L736.1 370.5Z" fill="#0e6a24"/>
<path d="M769.5 314.1 L769.5 315.2 L767.2 314.8 L764.5 314.1 L767 311.6 L768.6 312.7Z" fill="#828282"/>
<path d="M789.7 313.3 L789.1 316.5 L786.3 314.8 L786.1 313.5 L788.8 312Z" fill="#828282"/>
<path d="M747.8 379.4 L746.4 380.3 L744 381.1 L744.5 378.7 L746.7 378Z" fill="#828282"/>
<path d="M765.1 329.2 L763.4 330.3 L760.1 330.4 L760.4 327.4 L762.7 328.2Z" fill="#0e6a24"/>
<path d="M725.3 377.2 L720.4 379.6 L717.3 377 L721.4 375.1Z" fill="#0e6a24"/>
<path d="M732.1 368.6 L730.2 368.9 L729.1 368.7 L726.8 367.9 L727.1 366.4 L729.9 365.5Z" fill="#828282"/>
<path d="M741.5 384.1 L740.2 385.4 L739.6 385.7 L737.3 384.8 L737.9 384 L739.3 383.1 L741 382.7Z" fill="#0e6a24"/>
<path d="M758.6 339.2 L756.3 341.1 L755.1 339.8 L754.4 336.5 L756.9 336.3Z" fill="#0e6a24"/>
<path d="M754 385.4 L752.4 385.5 L752 387.3 L749.5 385.3 L749.8 384.3 L750.8 382.7 L752.7 383.6Z" fill="#828282"/>
<path d="M751.3 316.3 L751 317.6 L747 317.7 L747.4 315.9 L747.8 314.9 L750 314Z" fill="#0e6a24"/>
<path d="M722 381.5 L719.9 384.3 L717.8 382 L719.4 379.8Z" fill="#0e6a24"/>
<path d="M778.8 326.6 L778.8 327.2 L777.5 327.6 L776.3 326.7 L775.7 326.1 L777.2 325.2 L779.1 325.6Z" fill="#828282"/>
<path d="M754.8 318.7 L752.3 321.4 L749.5 319.7 L752.5 317.6Z" fill="#828282"/>
<path d="M776.8 325.6 L775.4 327.5 L774.1 325.7 L775.3 324Z" fill="#828282"/>
<path d="M739.8 355.5 L738.6 357.1 L737.6 356.8 L736.3 355.6 L737.3 354.1 L739.5 354Z" fill="#0e6a24"/>
<path d="M739.1 378.3 L739.3 378.9 L738.4 379.6 L737.4 378.9 L736.7 377.9 L738.2 376.8 L739.3 377.2Z" fill="#0e6a24"/>
<path d="M753.6 386 L753 386.8 L752.2 387.1 L750.7 386.8 L750.6 385 L751.6 384.9 L753 384.7Z" fill="#828282"/>
<path d="M729.2 322.4 L728.4 324.9 L725.1 321.9 L727.1 320.1Z" fill="#0e6a24"/>
<path d="M743.5 326.3 L740.7 326.3 L737.9 326.2 L739.8 323.8Z" fill="#0e6a24"/>
<path d="M727.2 356.2 L725.2 358.7 L723.6 357.3 L722.4 356.7 L722.4 354.6 L725.1 354.9Z" fill="#828282"/>
<path d="M741 370.6 L739.3 371 L736.6 371.8 L735.6 370.9 L733.6 369.1 L736 367 L739.3 367.9Z" fill="#828282"/>
<path d="M732 341.1 L731.2 342 L729.7 342.3 L729.8 341.5 L729.8 340.3 L730.8 340.8Z" fill="#0e6a24"/>
<path d="M722.5 350.4 L720.5 351.2 L718.9 352.2 L716.9 350.1 L718.8 348.8 L722 347.7Z" fill="#828282"/>
<path d="M735.3 311.8 L734.6 312.6 L732.6 312.3 L733.3 310.6 L735.6 310.7Z" fill="#828282"/>
<path d="M719.8 317.3 L719.1 318.2 L717.9 318 L717.3 317 L718.4 316.7 L719 316.5Z" fill="#0e6a24"/>
<path d="M727 340.4 L725.8 342.1 L722.9 342.2 L723.6 339.6 L725.7 339.6Z" fill="#828282"/>
<path d="M740 386.2 L738.1 387.5 L736.7 387.6 L735.6 386.9 L736.2 385.3 L739.4 383.2Z" fill="#0e6a24"/>
<path d="M741.1 329.6 L740 331.1 L737.5 330.6 L737.5 328.7 L739.2 327.4Z" fill="#0e6a24"/>
<path d="M758.2 360.7 L756.5 361.8 L754.3 361.4 L753.7 360.4 L753.3 358.8 L756.6 359.4Z" fill="#0e6a24"/>
<path d="M734.7 359 L732.7 359.8 L731 358.1 L732 356.6Z" fill="#828282"/>
<path d="M775.9 310.3 L775.7 312.8 L771.8 312.8 L770.6 311.3 L770.3 309 L772.6 308.1 L775 308.1Z" fill="#828282"/>
<path d="M720.4 377.3 L718.6 378.5 L717.8 378.3 L717.4 377 L718.9 376.4Z" fill="#0e6a24"/>
<path d="M766.5 319.8 L765.9 321 L763 322 L763 319.9 L763.7 319.1 L765.6 318.1Z" fill="#0e6a24"/>
<path d="M749.7 378.1 L748.3 380.2 L746 378.7 L745.7 376.3 L747.7 375.4Z" fill="#828282"/>
<path d="M727.2 376.3 L726.3 376.5 L725.6 376.6 L724.2 376.9 L724.4 375 L724.7 374.4 L726.6 374.9Z" fill="#828282"/>
<path d="M795.1 312.9 L793.5 313.7 L793.2 314.6 L791.7 313.6 L791.8 312.4 L792.7 311.9 L793.7 311.7Z" fill="#0e6a24"/>
<path d="M771 336 L768.2 337.5 L764.3 336.3 L767.8 333.9Z" fill="#828282"/>
<path d="M729.8 385.6 L728.7 387.2 L726.5 387.1 L726.1 385.6 L727.9 383.1Z" fill="#828282"/>
<path d="M739.6 364.4 L737.4 366.4 L734.4 367.6 L734.9 362.6 L737.1 362.6Z" fill="#828282"/>
<path d="M722.7 377.9 L722.3 378.3 L722 378.7 L720.2 378.7 L720.2 376.6 L721.4 376.4 L723.3 376.8Z" fill="#828282"/>
<path d="M772.9 335.8 L771.2 337.2 L770.4 338.4 L768.1 337.5 L768.8 335 L770.5 334.4 L772.7 333.8Z" fill="#828282"/>
<path d="M738.9 363.1 L738.5 364.5 L735.8 364 L733.5 363 L734.4 360.9 L738.4 360.8Z" fill="#0e6a24"/>
<path d="M790.2 312.6 L788.4 314.3 L785.6 314.6 L786.2 312.1 L788.4 311.6Z" fill="#0e6a24"/>
<path d="M766.8 311.7 L767.5 315 L765 313.6 L761.3 314 L761.4 309.4 L764.6 309 L767.2 309.9Z" fill="#828282"/>
<path d="M738 314.6 L734.6 317.4 L730.4 313.5 L734.3 313.4Z" fill="#828282"/>
<path d="M744.5 337.4 L743.4 338.4 L741.9 337.5 L741.9 336 L742.8 336Z" fill="#0e6a24"/>
<path d="M720 332.5 L718.5 332.7 L717.9 332.7 L716.6 332.6 L715.9 331.8 L718.2 331.1 L719.6 331.3Z" fill="#828282"/>
<path d="M741.8 361.4 L740.3 363.1 L737.8 364.3 L735.1 360.7 L737.6 360.6 L741.9 359.7Z" fill="#828282"/>
<path d="M723.5 344.9 L723.5 345.6 L722.4 345.5 L721.9 345.1 L721.7 344.1 L723.5 344.2Z" fill="#0e6a24"/>
<path d="M682.2 398.8 L681.4 399.7 L679.9 399.6 L679.8 398 L681.2 397.8Z" fill="#828282"/>
<path d="M615.5 399 L614.8 401.5 L611.8 399.9 L611.8 398.6 L613.4 398.5Z" fill="#828282"/>
<path d="M640 405.3 L638.2 407.2 L635.5 404.3 L638.4 402Z" fill="#828282"/>
<path d="M629.2 430.3 L628.1 431.7 L626.6 431 L627 429.9 L628.4 429.5Z" fill="#0e6a24"/>
<path d="M653.2 437.1 L652.9 437.9 L651.5 437.5 L651.2 437.4 L651.2 436.3 L651.9 436.1 L652.3 436.2Z" fill="#828282"/>
<path d="M686.7 427.2 L685.9 427.8 L684.4 428.1 L683.4 427.5 L683.8 426.6 L685.1 426 L685.5 426.5Z" fill="#828282"/>
<path d="M703.5 395.6 L702 397.8 L700.5 398.7 L698.2 397.7 L697.7 394.4 L700.9 394.3 L703.5 394.8Z" fill="#828282"/>
<path d="M645.5 446.8 L644.9 447.5 L643.2 446.6 L644.8 445.2Z" fill="#828282"/>
<path d="M688.1 383.3 L685.5 384.5 L682.9 382.5 L686.6 380.8Z" fill="#0e6a24"/>
<path d="M707 387.3 L703.9 388.7 L700.9 386.8 L702.7 384.2Z" fill="#828282"/>
<path d="M690.9 430.8 L690.2 431.9 L689 431.9 L689.1 430.5 L689.9 430.1Z" fill="#0e6a24"/>
<path d="M694.8 402.5 L694.1 403.2 L692.8 403.7 L692.7 403 L691.9 402.7 L693.2 401.4 L694.3 401.6Z" fill="#828282"/>
<path d="M651.3 437.1 L650.2 439.7 L646.6 438 L647.2 436.4 L649.5 435Z" fill="#0e6a24"/>
<path d="M620.6 390.4 L619.5 391.2 L617.9 390.3 L619.9 388.3Z" fill="#0e6a24"/>
<path d="M676.4 383.2 L672.8 384.5 L671.2 382.8 L674.2 380.9Z" fill="#828282"/>
<path d="M642 419.8 L639 419.8 L637.6 420.3 L636.7 418.9 L635.9 417.7 L637.5 415.5 L639.7 416.7Z" fill="#0e6a24"/>
<path d="M681.5 382.7 L679 384.9 L675.9 383 L676.3 380.8 L678.7 379.1Z" fill="#828282"/>
<path d="M654.8 382.4 L653.3 383.3 L652.1 383 L651.4 382.7 L652.1 381.1 L653.6 381.6Z" fill="#0e6a24"/>
<path d="M648.6 387 L649.2 388.1 L646.7 388.9 L645.7 387.3 L646.1 385.3 L648 385.3Z" fill="#0e6a24"/>
<path d="M626.6 389.5 L626.3 392.5 L623.9 391.1 L620.1 391.1 L620.6 388.9 L624.7 386.6 L626.8 388.2Z" fill="#0e6a24"/>
<path d="M651.4 388.9 L650 390.5 L647.3 390.2 L645.2 387.5 L647.8 385.3 L650.5 385.3Z" fill="#0e6a24"/>
<path d="M649.3 436.6 L646.6 440.3 L643.7 438.7 L644.9 436.7 L647 436.3Z" fill="#828282"/>
<path d="M706.3 393.4 L702.6 395.5 L699.4 393.3 L701.1 391.3Z" fill="#0e6a24"/>
<path d="M683.3 430.7 L680.7 432.4 L678.5 430.6 L678.8 428.4 L682.5 427.2Z" fill="#0e6a24"/>
<path d="M695.9 408.2 L694.1 409.7 L691.3 408.3 L693.9 407Z" fill="#828282"/>
<path d="M633.7 410.7 L633.5 414.2 L629.9 412.1 L627.4 410.3 L632.5 408.7Z" fill="#828282"/>
<path d="M638.9 386.6 L635.5 389.6 L631.6 387.7 L632.7 385.9 L636 384.7Z" fill="#0e6a24"/>
<path d="M641.9 390.8 L640.9 391.4 L639.2 391.8 L637.6 390.6 L638.9 388.4 L640.8 389.1Z" fill="#828282"/>
<path d="M626.4 417.9 L625.6 418.4 L624.4 418.8 L623.6 417.8 L624 417.2 L624.6 416.7 L626.3 416.8Z" fill="#828282"/>
<path d="M619.6 432.4 L617.5 434.3 L616.9 431.8 L618.7 430.3Z" fill="#828282"/>
<path d="M700.7 426.4 L700.6 427.8 L697.7 427.6 L696.6 424.9 L699.8 425Z" fill="#828282"/>
<path d="M665.5 381.7 L664.1 383.5 L662.1 384.9 L660.1 383.3 L661.2 381.2 L663.2 379.4 L666.1 379.3Z" fill="#828282"/>
<path d="M634 384.9 L633.4 386 L630.3 386.4 L628.8 385.4 L631.3 383 L634.3 383.1Z" fill="#828282"/>
<path d="M630.8 434.2 L630.5 435.7 L627.3 436 L625.7 436.8 L625.8 432.3 L628.7 432.6 L629.4 432.2Z" fill="#0e6a24"/>
<path d="M628.4 430.4 L627.7 431.1 L626.3 432.1 L625.7 430.3 L626.4 428.8 L627.1 428.9Z" fill="#828282"/>
<path d="M641 451.5 L637.4 453.9 L633.7 453.7 L635.6 450.5 L639.8 448.9Z" fill="#828282"/>
<path d="M633.7 402 L631 404.1 L626.3 404.9 L627.6 400.2 L629.7 399Z" fill="#0e6a24"/>
<path d="M616.3 401.5 L616.4 402.4 L614.2 402.4 L614.5 401.5 L615.1 400.2 L616 400.7Z" fill="#0e6a24"/>
<path d="M644.2 432.3 L643.6 433.6 L641.7 433.4 L642.1 432.5 L642.6 432 L643.6 431.4Z" fill="#0e6a24"/>
<path d="M619.7 405.7 L617.9 405.6 L615.1 406 L613.8 405.1 L615.9 403.3 L617.7 403.2Z" fill="#0e6a24"/>
<path d="M625.9 413.9 L623.4 415 L620.4 414.1 L622.5 411.6Z" fill="#828282"/>
<path d="M637.6 397.1 L636.3 398.9 L631.9 399.7 L630.4 398.4 L631 396.8 L632.4 393.4 L634 394.7Z" fill="#0e6a24"/>
<path d="M683 394.4 L682.1 395.6 L681.7 396.5 L679.5 395 L680 394.1 L681.3 393.5 L682.9 392.9Z" fill="#0e6a24"/>
<path d="M619.3 401.3 L618.7 402.4 L617.3 402.1 L617.4 401 L618.6 401Z" fill="#828282"/>
<path d="M617.3 443.6 L615.5 444.4 L613.5 444.7 L613.9 442.8 L615 442.1Z" fill="#828282"/>
<path d="M673.1 390.5 L672.2 391.5 L671.2 392.8 L669.3 391.1 L670.7 390.2 L672.3 389.2Z" fill="#828282"/>
<path d="M627.7 434.9 L627.5 435.6 L625.8 435.7 L626 434.6 L626.3 434.4 L627 434.4Z" fill="#828282"/>
<path d="M619.4 425.5 L618.5 425.8 L617.5 425.7 L617.5 424.5 L618.7 423.8Z" fill="#828282"/>
<path d="M698.1 406.1 L695.2 409.1 L693.9 405.4 L696.1 403.7Z" fill="#828282"/>
<path d="M628.3 400 L627.9 401.3 L627.1 400.9 L625.7 400.9 L626.4 399.8 L627.1 398.8 L627.6 399.2Z" fill="#828282"/>
<path d="M615.4 411.7 L615 413.3 L612.5 411.7 L613.7 409.8Z" fill="#0e6a24"/>
<path d="M622.6 420 L622.7 420.4 L621.1 420.8 L620.6 420.1 L621.2 418.4 L622.2 418.4Z" fill="#0e6a24"/>
<path d="M635.9 444.8 L635.9 447.3 L633.2 447.6 L631.9 445.9 L630.5 444.8 L633.5 443.2 L635.3 444.3Z" fill="#828282"/>
<path d="M613.1 407 L613.2 408.6 L610.4 407.5 L607.6 406.9 L609.2 406 L611.3 403.9 L612.6 404.1Z" fill="#0e6a24"/>
<path d="M621.5 426.6 L621 427.3 L619.9 426.9 L619.9 426.5 L620.6 425.4Z" fill="#828282"/>
<path d="M704.6 392.7 L703.8 395.9 L700.8 393.9 L699.3 391.1 L703.8 390.5Z" fill="#828282"/>
<path d="M623 416.4 L619.7 419.3 L618.7 416.8 L621.4 412.6Z" fill="#0e6a24"/>
<path d="M639.1 388.6 L638.5 389.4 L637.8 389 L636.6 388.6 L636.9 388.3 L637.9 387.8 L639 387.8Z" fill="#828282"/>
<path d="M613.3 394.9 L611.6 396.4 L608.4 394.4 L611.3 392.2Z" fill="#828282"/>
<path d="M657 430.4 L655.6 430.9 L653.9 430.9 L653.6 429.1 L655.6 428.8Z" fill="#0e6a24"/>
<path d="M651.5 444.4 L650.8 446.2 L648.7 446.8 L645.4 447.6 L646.8 443.7 L648.8 442.4 L651.2 442.6Z" fill="#0e6a24"/>
<path d="M621.7 439.4 L618.8 441 L618.4 439 L620.5 436.9Z" fill="#828282"/>
<path d="M624.6 433.1 L623.2 434.8 L622.8 436.2 L619.9 434.7 L619.5 432 L621.7 431.2 L624.2 430.6Z" fill="#0e6a24"/>
<path d="M617.2 398.7 L616.4 399.5 L615.8 399.7 L615.2 399 L615.3 398.4 L616.8 397.8Z" fill="#0e6a24"/>
<path d="M623.3 427.5 L619.5 430.4 L615.6 426.9 L619.1 425.9Z" fill="#828282"/>
<path d="M641.2 390.3 L640.4 391.9 L637.3 392 L638.2 388.8 L640 389.2Z" fill="#828282"/>
<path d="M639.8 421.8 L638 423.6 L636.6 423.4 L635.1 420.7 L637.3 420.5 L639.4 420.2Z" fill="#828282"/>
<path d="M630.3 386.9 L628.6 387.7 L626.8 386.9 L626.5 385 L628.3 384.7Z" fill="#0e6a24"/>
<path d="M668.1 437.6 L665 441.7 L662.6 438 L665.8 436.8Z" fill="#828282"/>
<path d="M648 420.7 L645.6 422.1 L644.7 420.6 L646.6 418.8Z" fill="#0e6a24"/>
<path d="M681.6 384.7 L681.4 386.4 L676.3 386.9 L675.2 385 L678.3 383.6 L680.8 382.3Z" fill="#0e6a24"/>
<path d="M628.4 393.9 L629.4 395.8 L625 396.7 L625 394.6 L623.4 394 L626.1 391.5 L628.4 393Z" fill="#0e6a24"/>
<path d="M703.2 381.5 L701.5 382.4 L699 384.1 L697.4 382.7 L698.4 380.1 L700.5 379.8 L701.7 379.8Z" fill="#828282"/>
<path d="M625.3 385.4 L625.1 387.5 L620.3 386.5 L621.4 384.7 L624.3 383.6Z" fill="#828282"/>
<path d="M693.4 383.8 L694 386.2 L689.2 386.2 L688 385.2 L688 383.8 L688.6 381.5 L693 383Z" fill="#0e6a24"/>
<path d="M684.2 425.7 L683.7 426.4 L682.2 426.5 L682.1 425.4 L684.1 424.1Z" fill="#828282"/>
<path d="M694.3 418.3 L693.7 419.4 L691.7 419.4 L691.7 418.7 L692 417.7 L693.1 417.2Z" fill="#0e6a24"/>
<path d="M641.9 414.3 L639.7 415.9 L637.4 414.6 L636.4 413.7 L635.7 413.2 L636.5 410.5 L639.6 412.1Z" fill="#0e6a24"/>
<path d="M614.1 418.9 L613 421.9 L609.2 419.7 L612.6 417.9Z" fill="#828282"/>
<path d="M696.9 425 L696.1 426.2 L694.9 425.5 L694.8 424.3 L697 423.9Z" fill="#828282"/>
<path d="M613.5 433.3 L612.7 434.6 L611.6 434.3 L611 433.2 L612.1 433 L612.7 432.5Z" fill="#828282"/>
<path d="M680.3 420.8 L679 422.8 L677.6 423.2 L676.4 422.3 L675.2 420.3 L677 419.5 L681 418.6Z" fill="#828282"/>
<path d="M676.8 387.5 L673.9 390.9 L671.3 387.1 L674 386.2Z" fill="#0e6a24"/>
<path d="M685.1 416.1 L684.7 417.9 L682.2 417.6 L682.6 415.8 L684.2 415.7Z" fill="#0e6a24"/>
<path d="M615.2 434.5 L614.3 435.2 L612.3 436.6 L610.8 434.6 L608.9 432 L612.8 432.3 L613.2 432.7Z" fill="#828282"/>
<path d="M655 440.7 L654.1 443 L652.5 441.6 L652.2 439.8 L655.2 438.9Z" fill="#828282"/>
<path d="M642.4 445.2 L641.1 445.7 L640 444.7 L641.4 444.5Z" fill="#0e6a24"/>
<path d="M638.6 384.1 L636.2 386.8 L634.4 385 L633.6 383.3 L636.3 382.3Z" fill="#828282"/>
<path d="M641.6 396.4 L639.9 397.6 L637.5 396 L636.8 394.3 L639.4 393.7Z" fill="#0e6a24"/>
<path d="M622.1 440.8 L621.2 441.4 L618.7 442.7 L616.7 441 L617.2 438.1 L619.8 439.1Z" fill="#0e6a24"/>
<path d="M628.9 389 L625.9 390.2 L623.4 389.4 L621.2 387.3 L624.6 386.2 L627.5 386.7Z" fill="#828282"/>
<path d="M629.6 423.4 L627.5 425.9 L623.2 425.2 L625.7 423 L628.1 422.9Z" fill="#828282"/>
<path d="M615.6 454.2 L614.5 455 L613.2 453.8 L613.8 453.4Z" fill="#0e6a24"/>
<path d="M631.6 431.6 L629.8 432.8 L627.6 431.4 L629.1 430.3Z" fill="#828282"/>
<path d="M616.1 424.5 L613.6 427.3 L611.3 426.5 L609.9 426.5 L612 423.3 L614.4 424.2Z" fill="#0e6a24"/>
<path d="M686.2 409.7 L685.2 411.5 L682.8 411.5 L683.3 410.1 L682.6 408.7 L684.1 407.2 L687.1 408Z" fill="#0e6a24"/>
<path d="M669.4 393.1 L668.8 393.6 L667.3 393.7 L667.2 392.4 L668.1 391.9Z" fill="#828282"/>
<path d="M698.5 428.1 L696.2 431.2 L693.2 431 L691.4 428.5 L692.9 426.8 L692 425 L698 425.9Z" fill="#828282"/>
<path d="M640.1 392.5 L639.8 393.5 L638 393.5 L637.9 392.6 L638.4 391.9 L639.5 391.1Z" fill="#828282"/>
<path d="M623.4 440.8 L623 442.7 L620.3 442.5 L620.2 441.5 L620.9 440.3 L622.3 440.1Z" fill="#828282"/>
<path d="M618.6 394 L617.9 395.3 L616.7 394.7 L617.4 393.7 L618.2 393.6Z" fill="#828282"/>
<path d="M702.7 412 L702 413 L699.2 414.2 L697.6 410.9 L700.1 410.1 L702 410.3Z" fill="#0e6a24"/>
<path d="M636.1 387.6 L633.9 388.1 L632.2 387.3 L632 385.3 L634.1 384.5Z" fill="#0e6a24"/>
<path d="M685.8 416.4 L685.7 417.6 L683.8 417.1 L683.6 416.4 L684.5 415.8 L685.6 415.3Z" fill="#828282"/>
<path d="M685.4 399.3 L684 399.2 L683.4 399.4 L682.3 399 L682.1 397.7 L683.5 397.5 L684.1 397.7Z" fill="#828282"/>
<path d="M633.3 403.7 L632.7 405.2 L631.1 403.5 L632.5 402.9Z" fill="#828282"/>
<path d="M627.2 391.7 L626.5 392.5 L625.3 393.4 L624 392.7 L624.6 390.9 L625.8 391 L627.2 391.3Z" fill="#0e6a24"/>
<path d="M619.8 453.1 L619 453.9 L618.7 453.7 L617.6 453.4 L618 452.5 L619 452.4Z" fill="#828282"/>
<path d="M623.6 438.7 L623.6 439.7 L619.7 440.1 L618.2 439.4 L618.2 437.7 L622.2 434.5 L623.3 436Z" fill="#828282"/>
<path d="M613.8 391.4 L612.4 391.7 L611 393.1 L608.4 392.1 L609.5 390.3 L609.2 388.5 L611.7 389.4Z" fill="#828282"/>
<path d="M659.6 382.3 L658.4 382.7 L657 382.8 L656.9 382.2 L657.6 381.3 L658.3 381Z" fill="#0e6a24"/>
<path d="M627.5 415.6 L625.6 417.9 L624.1 416.6 L622 415.2 L623.4 413.8 L625.9 414.5Z" fill="#828282"/>
<path d="M654.2 427.6 L654.1 429.5 L650.9 430.7 L649.5 427.9 L651.2 426.6 L653.8 424.9Z" fill="#0e6a24"/>
<path d="M675.1 432.2 L674.3 432.8 L672.2 432.8 L671.6 432.5 L671.3 430.3 L672.1 428.7 L674.2 431Z" fill="#0e6a24"/>
<path d="M615.5 451.4 L615 451.8 L613.9 452.6 L613.5 451.6 L613.5 450.7 L613.8 449.9 L614.9 450Z" fill="#0e6a24"/>
<path d="M637 436.2 L637.2 436.9 L634.1 438.2 L633 436.6 L633.2 435.1 L633 433.2 L636.7 432.9Z" fill="#0e6a24"/>
<path d="M634 391.1 L632.5 392.3 L630.2 391.6 L631.9 389.8Z" fill="#828282"/>
<path d="M705.6 406.7 L702.3 409.7 L699.2 409.3 L698.5 406.5 L701.6 405.9Z" fill="#0e6a24"/>
<path d="M620.1 390 L617.2 392 L616.5 390.3 L618.4 389.2Z" fill="#828282"/>
<path d="M617.7 443.8 L615.7 446.9 L613.2 444.4 L614.8 441.8Z" fill="#828282"/>
<path d="M696.1 393 L695.3 394.2 L693.3 394.3 L693.4 393 L694.2 391.8Z" fill="#828282"/>
<path d="M640.8 398.5 L639.1 399.4 L635.8 400.1 L636.1 397.5 L635.4 394.7 L639 396.3Z" fill="#0e6a24"/>
<path d="M683 426.5 L682.2 426.8 L681 427.1 L681.3 426.3 L681.6 424.9 L683.2 424.9Z" fill="#828282"/>
<path d="M618.7 449.2 L617.8 451 L616 449.7 L615.7 449 L617 447.8Z" fill="#828282"/>
<path d="M700.4 428.7 L696.5 431.4 L693 429.5 L697.8 427.7Z" fill="#828282"/>
<path d="M696.4 416.3 L695.7 417.7 L693.7 417.7 L694.2 416.2 L695.4 415.5Z" fill="#0e6a24"/>
<path d="M695.6 399.5 L694.5 400.7 L693.3 399.8 L695 398.2Z" fill="#828282"/>
<path d="M629.6 404.1 L630.2 405 L628.1 404.9 L627.3 404.2 L627.7 403.7 L627.9 402.6 L628.9 403.5Z" fill="#0e6a24"/>
<path d="M641 424.8 L639.2 425.7 L638.6 425.7 L637.5 424.8 L636.7 423.6 L638.4 423.6 L639.9 423.6Z" fill="#0e6a24"/>
<path d="M631.2 386.6 L629.3 388.7 L627.5 388.3 L627.8 385 L630.9 384.1Z" fill="#828282"/>
<path d="M631.6 401.1 L629.8 401.3 L628.3 402.1 L627.6 400.5 L628.6 399 L630.1 399.1Z" fill="#0e6a24"/>
<path d="M690 421.6 L689.2 423.9 L683.5 423.9 L683.1 423 L683.8 419.5 L687.9 420.1Z" fill="#828282"/>
<path d="M635.7 381.6 L635.4 382.1 L634.7 382.3 L633.5 382 L633.1 381.3 L634.4 380.2 L635.9 380.4Z" fill="#0e6a24"/>
<path d="M689.7 421.7 L689.3 423.2 L688 422.8 L687.2 422.2 L687.5 421.2 L689.1 421.4Z" fill="#828282"/>
<path d="M694.5 414.9 L692.7 417.9 L691.5 417.7 L688.7 415.6 L690.6 412.9 L693 414.6Z" fill="#828282"/>
<path d="M635.7 384.9 L633 386.2 L631.8 384.5 L634 381.8Z" fill="#0e6a24"/>
<path d="M638.3 381.3 L637.5 381.8 L636.1 381 L637.4 380.2Z" fill="#0e6a24"/>
<path d="M653.5 443.8 L653 446.3 L649.3 443.1 L652.8 441.6Z" fill="#0e6a24"/>
<path d="M612.9 390.4 L612.4 391.5 L611.7 391.2 L610.8 390.5 L610.6 390 L611.5 389.4 L612.6 389.5Z" fill="#0e6a24"/>
<path d="M690.2 415.2 L690.2 416 L689.2 416 L688.3 415.5 L689.1 414.7 L690.5 414.4Z" fill="#828282"/>
<path d="M695.7 426.4 L694.1 427.6 L692.2 428.4 L691.3 427.6 L690.6 425.3 L692.9 425.3 L694.6 424.9Z" fill="#0e6a24"/>
<path d="M652.1 389.1 L650.6 391.4 L647.2 390.9 L645.4 387.4 L649.4 386.8Z" fill="#828282"/>
<path d="M636.1 441.7 L635.8 442.8 L633.7 441.3 L635.7 440Z" fill="#828282"/>
<path d="M658 382.2 L657.8 382.9 L655.3 383.1 L654.5 382.4 L656.1 380 L656.9 381.1Z" fill="#0e6a24"/>
<path d="M645.7 396.3 L643.5 398.8 L642 397.7 L639.2 398.5 L639.2 396.2 L639.8 394 L642.4 394.7Z" fill="#0e6a24"/>
<path d="M676.3 384.6 L675.7 386.1 L674.1 386.3 L673.2 385.1 L672.5 383.4 L674.3 383.1 L677.4 382.4Z" fill="#0e6a24"/>
<path d="M676.2 424.5 L676.2 425.1 L674.4 426 L672.7 424.7 L674.4 423.6 L675.8 423.1Z" fill="#0e6a24"/>
<path d="M647.1 387.6 L644.7 388.7 L642.8 388.1 L645.6 386.4Z" fill="#0e6a24"/>
<path d="M627.7 409.5 L626.4 409.5 L625.1 410 L624.2 409.4 L623.4 408.8 L625 408.1 L627.4 407.9Z" fill="#828282"/>
<path d="M689.6 383.4 L688.4 383.9 L687.1 383.6 L687.3 382.7 L688.6 382.1Z" fill="#0e6a24"/>
<path d="M617 439.7 L613.8 442 L611.1 442.1 L610 439.7 L613.1 438.3 L614.9 438.7Z" fill="#0e6a24"/>
<path d="M643.4 426.4 L639.7 427.1 L638.8 425.6 L641 423Z" fill="#828282"/>
<path d="M642.7 446.8 L641.6 447.4 L640.2 448.8 L639.4 446.7 L637.8 446.2 L640.9 444.9 L642.8 445.1Z" fill="#828282"/>
<path d="M682.3 381.9 L679.7 383.8 L676 381.8 L678.1 379.8Z" fill="#0e6a24"/>
<path d="M694.9 397.7 L693 399.8 L691.2 399.2 L690.3 397.8 L690.2 395.8 L693.6 395.7Z" fill="#828282"/>
<path d="M620.3 423.9 L617 424.3 L612 424.5 L613.4 420.4 L617.1 422Z" fill="#0e6a24"/>
<path d="M648.3 442 L648.2 442.8 L647.1 443 L646.5 442.5 L645.8 441.4 L647.3 441.2 L648 440.5Z" fill="#828282"/>
<path d="M680.1 403 L679.3 405.3 L675 405.7 L673.5 401.6 L676.1 401.7 L678.2 401.5Z" fill="#828282"/>
<path d="M648.7 432 L647.7 432.7 L647.2 433 L644.9 431.8 L644.7 430.6 L647.6 430.2 L649 429.9Z" fill="#828282"/>
<path d="M675.8 386.5 L675.1 387.5 L672.2 386.7 L674.8 385Z" fill="#828282"/>
<path d="M634.8 404.9 L633.8 407.4 L630.2 407.6 L630.1 405.1 L632 404.3 L633.7 402.1Z" fill="#828282"/>
<path d="M613.9 453.6 L612.9 455.4 L610.5 455.9 L609.3 454.2 L611.5 453 L613.9 452.9Z" fill="#828282"/>
<path d="M684.9 427 L684.3 428.1 L681.9 428 L682.3 426.6 L683.8 426.7Z" fill="#828282"/>
<path d="M685 414 L685 414.3 L684.1 414.7 L683 414.5 L682.6 413.4 L683.5 413.2 L684.4 412.6Z" fill="#0e6a24"/>
<path d="M679.1 416.6 L678 417.7 L676.7 418 L676.7 416.9 L676.2 416.2 L677 415.2 L678 416.1Z" fill="#828282"/>
<path d="M692.9 415.8 L692.1 416 L691.5 416.8 L690.2 416.1 L690.9 415.2 L691 415 L692.7 414.7Z" fill="#828282"/>
<path d="M688.5 426.9 L687.5 427.3 L684.1 427.5 L684 425.2 L687.2 425.4Z" fill="#0e6a24"/>
<path d="M642.5 400.9 L640.3 402.5 L634.6 402 L634.8 399.8 L639.3 398Z" fill="#0e6a24"/>
<path d="M675.3 400.3 L670.8 402.6 L668.2 399.2 L672.3 396.3Z" fill="#0e6a24"/>
<path d="M647.4 440.3 L645.2 443.5 L642.1 443.7 L643.2 440.3 L645.6 438.7Z" fill="#0e6a24"/>
<path d="M645.8 425.2 L641.3 428.5 L637.2 426.7 L640.4 422.3Z" fill="#828282"/>
<path d="M633.6 427.6 L632.5 428.7 L631.6 428.2 L631.2 426.9 L633.1 426.8Z" fill="#828282"/>
<path d="M644.9 388.7 L644 390.4 L642 391 L641.9 390 L641.8 388 L643.2 388 L644.2 387.6Z" fill="#828282"/>
<path d="M679.5 395.6 L680 397.1 L676.9 396.1 L676.4 394.4 L678.6 393.8Z" fill="#828282"/>
<path d="M641.4 434.4 L639.6 435.1 L638.9 434.9 L638 433.4 L640.7 432.8Z" fill="#0e6a24"/>
<path d="M672.7 419.2 L671.1 422.1 L669.4 420.4 L668.2 419.1 L671.1 417.7Z" fill="#0e6a24"/>
<path d="M688.6 405 L687.2 406.4 L685.6 407 L685.6 405.6 L684.6 405.2 L686.8 403.8 L687.9 403.4Z" fill="#828282"/>
<path d="M632.6 438.9 L631.8 441.2 L628.7 439.9 L628.6 438.4 L631.2 437.8Z" fill="#828282"/>
<path d="M693.7 404.7 L692.6 406.1 L691 405.1 L692.8 403Z" fill="#828282"/>
<path d="M693.4 413.6 L691.7 414.2 L689.6 413.8 L690.2 413 L691.4 412.3Z" fill="#0e6a24"/>
<path d="M611.1 392.3 L610.6 393.3 L609.3 393.2 L609.5 392.6 L609.7 391.5 L611.2 391.2Z" fill="#0e6a24"/>
<path d="M703 395.1 L701.1 397.4 L697.4 394.3 L700.9 393.5Z" fill="#828282"/>
<path d="M700.5 419.4 L700 419.6 L699.4 420.2 L698.9 419.6 L699.2 418.8 L699.3 418.8 L700.4 418.6Z" fill="#0e6a24"/>
<path d="M613.5 390.9 L613 391.8 L611.2 392.6 L609.5 390.7 L610.3 389.9 L614.1 388.5Z" fill="#828282"/>
<path d="M616.6 434.8 L614.4 436.7 L611 438.5 L611 436.2 L608.8 434.2 L612.5 433.6 L615.3 434.6Z" fill="#0e6a24"/>
<path d="M667 421.7 L665.2 425.2 L661.6 423.7 L660.5 421.6 L665.3 419.9Z" fill="#0e6a24"/>
<path d="M652.4 445.6 L650.8 447.4 L649.9 447.8 L647.6 447.3 L648 444.3 L649.5 443.9 L652.4 445.1Z" fill="#0e6a24"/>
<path d="M615.8 397.3 L613.3 399.4 L612 398 L614.6 395.9Z" fill="#828282"/>
<path d="M641.7 400 L639.5 401.3 L638.2 399.3 L639.7 398.6Z" fill="#828282"/>
<path d="M622.9 404.6 L621.6 405.9 L618.4 405.9 L617.9 404.3 L617.8 402.8 L621.1 402.7Z" fill="#828282"/>
<path d="M629.2 391.7 L627 394.2 L625.7 393.5 L625 390.4 L627.6 391.1Z" fill="#0e6a24"/>
<path d="M697.6 394.1 L697.1 395.5 L696 394.3 L697 393.2Z" fill="#0e6a24"/>
<path d="M683.6 391 L682.1 392.3 L680.8 391.1 L682.1 390Z" fill="#828282"/>
<path d="M685 401.8 L680.1 405.8 L677.7 406.3 L678.4 400.9 L681.8 399.5Z" fill="#828282"/>
<path d="M624.7 385.3 L622.9 387 L620.4 385.1 L619.2 384 L624.1 381.7Z" fill="#0e6a24"/>
<path d="M641.2 424.4 L641.1 424.9 L639.2 426.2 L637.2 424.6 L637.4 423.2 L639.1 422.8 L640.1 422.6Z" fill="#0e6a24"/>
<path d="M616.3 405.1 L618.1 406.9 L615 407.5 L610.3 405.5 L611.6 404.1 L614.6 400.9 L616.7 403.1Z" fill="#0e6a24"/>
<path d="M692.2 420.7 L689.4 422.4 L686.6 421.1 L689.4 419.1Z" fill="#828282"/>
<path d="M690 419.6 L687.7 421.4 L685.5 422 L682.9 421.9 L684 419.5 L686.1 417 L689 418.3Z" fill="#0e6a24"/>
<path d="M646.3 439 L644.8 440.3 L643.3 438.5 L645.3 436.4Z" fill="#828282"/>
<path d="M643.1 387 L642.5 388 L641 387.9 L640.3 387.3 L641 387 L642.4 386.7Z" fill="#828282"/>
<path d="M632.1 420.6 L630.2 422.4 L626.6 422.1 L627.8 419 L629.3 418Z" fill="#828282"/>
<path d="M650.7 443.4 L648.8 445.9 L646.5 446.4 L645.6 443.3 L647.7 442.4 L649 441.6Z" fill="#828282"/>
<path d="M686.3 429 L683.2 430.3 L680.5 428.5 L683.4 426.3Z" fill="#828282"/>
<path d="M692.6 415.4 L691.1 416.3 L688.2 415.3 L688.9 413.6 L691 413.3Z" fill="#0e6a24"/>
<path d="M658.8 388.6 L658.1 392.1 L654.2 391.9 L654.4 386.6 L658.4 386.6Z" fill="#828282"/>
<path d="M702.9 384.5 L702.8 385.9 L701.6 385.5 L700.4 385.5 L700 384.3 L700.8 383.2 L702.5 384.2Z" fill="#828282"/>
<path d="M627.3 391.1 L627.5 393.5 L624 393.2 L623.1 390.6 L624.5 390.3 L626.9 389.6Z" fill="#828282"/>
<path d="M643.9 426.7 L643.7 427.4 L642.4 426.4 L643.7 425.6Z" fill="#828282"/>
<path d="M628.4 426.5 L625.4 427.2 L622.8 425.8 L624.1 422.4Z" fill="#828282"/>
<path d="M703.2 387.8 L703.4 388.1 L702.4 388.2 L700.8 387.7 L701.1 387.4 L702 386.8 L702.9 387.2Z" fill="#828282"/>
<path d="M616.9 429.8 L615.5 431.3 L614.2 429.7 L615.8 428.8Z" fill="#828282"/>
<path d="M639.8 438.6 L637.1 441.6 L634 439.9 L637.1 436.4Z" fill="#0e6a24"/>
<path d="M643.6 442.4 L639.7 443.2 L638.9 443.3 L637.4 442 L637.8 439.5 L639.7 439.9Z" fill="#828282"/>
<path d="M706.2 396.4 L705 398.4 L698.5 397.6 L700.2 395.1 L703.4 394Z" fill="#0e6a24"/>
<path d="M649.4 387.4 L648.6 389.3 L646.7 389.7 L644.4 387.9 L646.7 386.4 L650.2 386.2Z" fill="#828282"/>
<path d="M622 432.5 L621 432.5 L619.2 432.9 L618.8 432.1 L620.1 431.2 L621.3 430.7Z" fill="#0e6a24"/>
<path d="M703.4 388.6 L702.1 389.5 L700.5 388.1 L702.8 387.8Z" fill="#0e6a24"/>
<path d="M618.4 444.3 L616.6 444.9 L615 444.8 L615.3 443 L616.4 442.9Z" fill="#828282"/>
<path d="M679 398.5 L677.9 399.2 L677.1 398.5 L678.1 397.4Z" fill="#828282"/>
<path d="M641.2 411.3 L638.9 413.1 L636.7 411.5 L639.1 408.9Z" fill="#828282"/>
<path d="M669 379.5 L667.9 381 L666.5 380.6 L666.1 378.7 L668.7 378.2Z" fill="#828282"/>
<path d="M640.7 443 L639.5 443.7 L637.9 443.3 L639 442.5Z" fill="#0e6a24"/>
<path d="M635.7 443.3 L634.6 444.8 L632.9 445.4 L631.6 443.5 L632.9 442.5 L634.2 443.1Z" fill="#828282"/>
<path d="M627.2 405.5 L625.8 407.9 L623.6 408.1 L622.2 406.5 L623.2 404.6 L624.5 403.6 L626.1 405.5Z" fill="#0e6a24"/>
<path d="M650.9 439.7 L646.9 440.9 L643.6 438.6 L647.8 436.8Z" fill="#828282"/>
<path d="M699.7 428.7 L697.6 430.3 L696.6 428.9 L697.7 427.8Z" fill="#0e6a24"/>
<path d="M656.1 406.8 L654.3 409.8 L651.2 408.9 L648.7 407.5 L651 406.6 L651.6 404.5 L655.1 405.1Z" fill="#828282"/>
<path d="M621.9 401.1 L620.9 401.9 L618.3 400.9 L620.1 399.9Z" fill="#828282"/>
<path d="M702.5 390 L699.1 391.4 L697.9 390.3 L699.5 388Z" fill="#0e6a24"/>
<path d="M625.5 435 L624.7 436.9 L620 436.2 L621.2 433 L624.4 431.5Z" fill="#0e6a24"/>
<path d="M645.2 433.2 L645.2 434.1 L643.6 433.9 L643.3 433.5 L644.3 432.1 L644.9 431.9Z" fill="#0e6a24"/>
<path d="M624.6 401.6 L623.1 402.6 L621.3 402.5 L620.8 401.1 L623.2 400Z" fill="#828282"/>
<path d="M641.2 382.3 L639.3 383.5 L635.7 382.5 L635.1 380.8 L640 379.5Z" fill="#0e6a24"/>
<path d="M640.1 444.8 L637 445.9 L636.6 445.1 L637.4 443.9Z" fill="#0e6a24"/>
<path d="M621.8 437 L620.4 439.3 L617.5 436.4 L619.3 435.3Z" fill="#828282"/>
<path d="M682 378.8 L678.6 381.3 L675.7 379 L678.6 377.6Z" fill="#828282"/>
<path d="M685.6 383.5 L686.1 384.8 L684.4 384.8 L683.9 383.9 L683.9 382.7 L684.1 381.9 L686.1 382.2Z" fill="#828282"/>
<path d="M637.7 393.6 L635.4 396.5 L633.9 394.3 L635.4 392.8Z" fill="#828282"/>
<path d="M704.7 388.7 L703.7 390.8 L702.8 390.9 L702 388.9 L702.5 387.7 L704.1 388.3Z" fill="#0e6a24"/>
<path d="M679.5 386 L677.5 388 L675 385.3 L677.7 383.7Z" fill="#828282"/>
<path d="M658.1 444.2 L657.7 445.2 L656.8 445.1 L656.1 444.2 L656.5 443 L658.1 443.6Z" fill="#828282"/>
<path d="M693.3 427 L694.2 428.2 L691.4 427.8 L689.9 427.6 L690 426.9 L691.5 426 L692.9 426Z" fill="#828282"/>
<path d="M656.3 384.2 L656.3 386.2 L652.1 385 L650.2 382.6 L655.4 382.2Z" fill="#828282"/>
<path d="M680.3 391.5 L679 392.2 L678.4 392.5 L676.4 391.9 L676.6 391.3 L678.2 390.7 L679.3 390.2Z" fill="#828282"/>
<path d="M640.4 379.6 L637.2 382.4 L634.1 382.8 L633 380.4 L635 377.1 L637.4 379.2Z" fill="#828282"/>
<path d="M702.4 423.6 L700.7 425.9 L696.9 425.8 L698.1 423.5 L697.4 422.1 L701.3 422.2Z" fill="#828282"/>
<path d="M674.6 389.6 L674.4 391.5 L671.3 390.9 L671.2 390.2 L671.6 388.9 L673.7 388.9Z" fill="#828282"/>
<path d="M683.2 412.8 L681.7 413.5 L680.8 413.7 L680.8 412.3 L681.7 412Z" fill="#828282"/>
<path d="M643.7 448.4 L643.2 448.5 L642.4 449.2 L642.2 448.4 L641.6 448.1 L643 447.1 L643.1 447.6Z" fill="#828282"/>
<path d="M622.2 388.4 L620.8 389.7 L619 389.9 L617.5 386.5 L621 386.4Z" fill="#828282"/>
<path d="M624.2 413.5 L623.2 415.7 L619.4 415.1 L619.8 411.4 L622.6 409.6Z" fill="#0e6a24"/>
<path d="M699.9 382.8 L698.7 385 L697.4 383 L699.6 380.7Z" fill="#828282"/>
<path d="M683.2 390.6 L679.9 391.3 L676.8 390.2 L679.9 386.5Z" fill="#828282"/>
<path d="M646.8 433.3 L644.9 433.5 L644 434.3 L642.6 433.1 L642.9 431.7 L643.9 431.4 L644.4 431.7Z" fill="#0e6a24"/>
<path d="M648 395.5 L646.2 396.6 L644.1 397 L644.3 395.3 L646.6 394.9Z" fill="#828282"/>
<path d="M640.1 397.6 L639.5 400 L635.4 400 L632.2 398.2 L633.1 396.7 L635.7 395.4 L638.2 396.2Z" fill="#828282"/>
<path d="M647.3 441.2 L647.1 442.3 L644.5 442.8 L644.8 441.2 L645.2 440.1 L647.4 439.1Z" fill="#828282"/>
<path d="M623 432 L623.5 434.5 L618.4 433.6 L618.6 430.8 L622.3 429.1Z" fill="#0e6a24"/>
<path d="M621.6 378.1 L619.4 381.3 L617.2 379.3 L617.3 375.8 L620.4 377.2Z" fill="#828282"/>
<path d="M635.9 409.8 L633.5 411.2 L630.7 409.7 L630.4 408.5 L633.9 407.5Z" fill="#828282"/>
<path d="M634.2 388.4 L634.5 389.4 L632.8 390.1 L631.8 389.3 L632.4 388.6 L633.4 387.2 L633.9 387.6Z" fill="#0e6a24"/>
<path d="M615.5 440.2 L614.2 441.2 L611.7 440.5 L613.1 439 L614.3 438.1Z" fill="#828282"/>
<path d="M627.6 401.2 L625.4 403.5 L622.9 403.1 L623.5 400.8 L626 399.1Z" fill="#0e6a24"/>
<path d="M632.8 432.4 L632 433.6 L630.7 433.1 L630.5 432.3 L632.1 431.9Z" fill="#0e6a24"/>
<path d="M641.4 393.9 L639.6 395 L637.9 393.5 L638.9 391.9Z" fill="#828282"/>
<path d="M657.4 390 L656 391.4 L654.6 391.3 L652.8 390.1 L653.8 388.3 L656.2 388.2Z" fill="#0e6a24"/>
<path d="M678.9 422.5 L677.7 422.6 L676.5 423.9 L675.3 422.7 L675.6 421.7 L676.7 420.5 L677.4 420.8Z" fill="#828282"/>
<path d="M686.9 422.6 L686.2 424 L684.6 423.4 L682.7 422.7 L684 422 L684.1 421.6 L685.9 420.8Z" fill="#828282"/>
<path d="M617.1 426.4 L612.4 428.7 L609.7 426.6 L612.5 423.7Z" fill="#0e6a24"/>
<path d="M621.5 445.5 L620 446.7 L618.8 445.8 L618.6 444.5 L620 443.9Z" fill="#0e6a24"/>
<path d="M627.1 379.5 L627.8 381.8 L623.5 382 L623.5 380.2 L623.6 378.6 L624 378.3 L627.4 377.7Z" fill="#828282"/>
<path d="M635.7 412 L634.1 415.5 L630.4 414.9 L630.6 413.5 L631.1 411.2 L633.4 411.4Z" fill="#828282"/>
<path d="M700.6 424.2 L698.2 427.2 L694.4 425.7 L691.8 424.4 L695.2 422.4 L698 421.7Z" fill="#828282"/>
<path d="M616.2 406.1 L615 407.2 L611.5 407.2 L608.8 406.8 L609.2 405.5 L610.4 403.4 L613.2 404.4Z" fill="#828282"/>
<path d="M614.2 446.3 L612.2 449.1 L609.3 447.8 L612.2 445.4Z" fill="#828282"/>
<path d="M678.1 412.8 L676.6 413.6 L675.8 413.4 L674.7 412.7 L675.8 412 L677.1 411.6Z" fill="#0e6a24"/>
<path d="M651.3 414.1 L649.1 415.5 L648 413.6 L649.4 412.5Z" fill="#0e6a24"/>
<path d="M677.8 433.6 L677.3 434.7 L675.4 433.6 L676.7 433Z" fill="#0e6a24"/>
<path d="M635.3 384.7 L633.4 384.3 L631.5 384.8 L630.1 384.6 L628.5 383.1 L631.2 381.2 L633.7 381.1Z" fill="#0e6a24"/>
<path d="M615.5 428 L613.9 431.5 L611.2 430.2 L608.2 428.5 L610.1 427.1 L614.4 426.4Z" fill="#828282"/>
<path d="M643.5 428.5 L641.3 429.9 L640.3 428.7 L642 427.9Z" fill="#0e6a24"/>
<path d="M678.9 424.7 L678.5 426.4 L676.8 425.4 L675.9 423.8 L678.2 423.3Z" fill="#828282"/>
<path d="M660.9 387.8 L661.2 388.6 L659.6 388.1 L659.2 387.2 L660.4 386.8Z" fill="#0e6a24"/>
<path d="M633.5 414.5 L632 416.5 L631.2 417.1 L628.3 415.5 L629.2 414.2 L630.3 413.4 L633.4 413.2Z" fill="#828282"/>
<path d="M645.1 435.6 L644.9 436.5 L641.3 437.1 L641.9 435 L642.1 434.2 L645.1 433.9Z" fill="#828282"/>
<path d="M617.8 436.8 L617 437.8 L615.4 437.5 L615.6 436.5 L616.8 435.8Z" fill="#828282"/>
<path d="M636.8 426.3 L634.4 427.8 L633.1 426.7 L634.9 424.9Z" fill="#828282"/>
<path d="M691.2 423.7 L689.7 424.9 L688.7 423.5 L689.9 423.2Z" fill="#828282"/>
<path d="M621.8 423.9 L621.1 425 L619.8 424.8 L619.9 423.4 L621.5 422.7Z" fill="#828282"/>
<path d="M655.3 391.2 L654.5 393.2 L650.2 393.5 L649.2 392.4 L649.2 391.1 L651.6 390.1 L653.6 389.6Z" fill="#0e6a24"/>
<path d="M680.3 396 L676.4 399.3 L675.1 396.5 L677.4 394.5Z" fill="#0e6a24"/>
<path d="M628.8 429.7 L627.9 430.3 L626.4 429.7 L626.1 429.1 L627.3 428.2Z" fill="#828282"/>
<path d="M643.1 427.1 L639.4 428.3 L637.7 426.7 L640.3 424.5Z" fill="#0e6a24"/>
<path d="M687.3 385.5 L684.4 387.3 L681.1 385.7 L682.6 383.4 L685.2 382.5Z" fill="#0e6a24"/>
<path d="M642.6 431.1 L640.6 433.3 L638.1 432.5 L636 431.7 L637 428.9 L637.3 427.3 L642 429.1Z" fill="#0e6a24"/>
<path d="M587.6 380.2 L586.7 380.8 L585.9 380.6 L585.6 379.1 L586.7 379.3Z" fill="#828282"/>
<path d="M600.6 364.6 L600.3 365.4 L599.3 365.3 L598.5 365 L599.2 364.5 L599.6 363.7 L600.6 364.1Z" fill="#0e6a24"/>
<path d="M605.6 379.5 L604.8 381.9 L601.7 382.4 L601 380.2 L600.8 378.1 L603.7 378.9Z" fill="#0e6a24"/>
<path d="M615.6 365.5 L614.1 366.7 L612.7 366.3 L612.7 364.6 L614.7 364.5Z" fill="#0e6a24"/>
<path d="M599.7 384.5 L598.3 385.1 L596.3 385.6 L595.3 385.6 L595.4 383.2 L597.1 383.1 L598.3 382.4Z" fill="#828282"/>
<path d="M588.9 387.6 L588.3 388.6 L585.3 389 L585.3 385.7 L588.6 385.9Z" fill="#828282"/>
<path d="M619.5 369 L617.7 370.3 L617.6 369.2 L618.5 368.3Z" fill="#0e6a24"/>
<path d="M588.4 379.2 L588.6 380.2 L585.8 381 L580.7 378.9 L582.9 376.7 L585.5 374.7 L587.7 376Z" fill="#828282"/>
<path d="M605 387.3 L603.3 389 L602.6 388.7 L598.7 386.7 L598.7 384.8 L601.2 384.8 L603.9 384.4Z" fill="#0e6a24"/>
<path d="M605.7 375.2 L605 376 L603.5 375.9 L603.3 375.4 L603.7 374.6 L604.8 374.2Z" fill="#0e6a24"/>
<path d="M588.9 387.9 L588.3 389.2 L586.3 390.4 L586.2 388.9 L585.3 387.6 L586.7 386 L587.8 387.4Z" fill="#0e6a24"/>
<path d="M594.4 379 L593 380.9 L589.7 378.9 L591.7 377.1Z" fill="#0e6a24"/>
<path d="M591.5 370 L591 371.1 L589.7 371.7 L587.1 370.3 L587.5 367.8 L588.6 367.4 L590.8 368.4Z" fill="#828282"/>
<path d="M595.3 368.7 L592.4 370.6 L590.3 367.9 L593.8 366.2Z" fill="#828282"/>
<path d="M589.8 371 L587.1 371.3 L583.3 371.8 L581.8 369.8 L584.2 368.4 L586 367.9Z" fill="#828282"/>
<path d="M589.5 376.6 L588.8 378 L587.4 377.1 L586.8 375.9 L588.7 375.3Z" fill="#0e6a24"/>
<path d="M597.8 374.6 L596.6 375.1 L596.1 375.6 L594.9 374.9 L595.4 374.2 L595.6 373.9 L596.7 373.9Z" fill="#0e6a24"/>
<path d="M608.8 389.7 L607.2 390.7 L605.1 389.4 L606.5 387.9Z" fill="#828282"/>
<path d="M591.2 387.8 L589.7 390.1 L587.2 389.2 L584 388.2 L585.3 386.4 L588.3 385.5 L590.1 385.9Z" fill="#0e6a24"/>
<path d="M590.1 371.7 L587.1 373.4 L584.6 374.9 L584 373.3 L583.5 371.4 L584.7 370.3 L586.4 371.3Z" fill="#828282"/>
<path d="M593.8 374.7 L593.4 376.7 L590.2 376.6 L588.4 375.9 L587.8 373.2 L589.9 373.8 L592.5 373.9Z" fill="#828282"/>
<path d="M592.3 371.9 L588.6 374.8 L587.3 374 L585.4 371.9 L586.9 368.5 L590.5 368.5Z" fill="#0e6a24"/>
<path d="M590.4 384.6 L590.1 385.3 L588.9 385.1 L589 384.8 L588.7 383.8 L589.6 383.6 L590.5 383.6Z" fill="#0e6a24"/>
<path d="M600.2 372.7 L598.9 373.4 L597.4 373.5 L596.9 372.1 L599.2 371.6Z" fill="#0e6a24"/>
<path d="M619.5 367.1 L619.1 367.4 L618.2 367.6 L618.1 366.9 L618.3 365.9 L619.1 366.5Z" fill="#828282"/>
<path d="M614.9 366.2 L613 367.7 L611.4 367.2 L613.9 365.1Z" fill="#828282"/>
<path d="M605.1 388.6 L604.6 391.1 L599 391.1 L598.7 388.6 L601.3 387.8 L603.2 387.5Z" fill="#0e6a24"/>
<path d="M616 376.3 L614.4 378.7 L610.3 379.3 L610.7 376.7 L611.1 376.1 L614.1 376.2Z" fill="#0e6a24"/>
<path d="M611.1 365.6 L609.7 366.4 L605.4 366.6 L604.6 362.3 L609.4 362.1Z" fill="#828282"/>
<path d="M586.4 369 L583.7 371.3 L581.2 368.7 L583.7 366Z" fill="#0e6a24"/>
<path d="M615.1 363.5 L613.7 364.7 L613.3 363.4 L613.6 362.6Z" fill="#0e6a24"/>
<path d="M587.4 386.1 L586.5 386.7 L585.9 386.4 L586.1 386 L586.9 385.3Z" fill="#828282"/>
<path d="M619.8 370.8 L619 373.5 L617.5 373.1 L616.7 370.5 L616.3 369 L620.6 369.2Z" fill="#828282"/>
<path d="M587.4 367.6 L586.1 369.2 L583.6 368.6 L583.1 367.4 L584.1 366.5 L586.9 365.9Z" fill="#828282"/>
<path d="M602.8 389.4 L602.2 391.2 L600.5 390.9 L599.6 391.2 L599.8 389.1 L601.3 388.7 L602.4 387.8Z" fill="#828282"/>
<path d="M587.2 379.5 L585.1 380.6 L584 378.8 L585.6 378.3Z" fill="#828282"/>
<path d="M588.1 377.5 L585.9 380.5 L583 378.5 L584.8 376.6Z" fill="#828282"/>
<path d="M610.6 390.9 L610.7 393.6 L608.2 393.5 L607.1 392.5 L607.9 390.3 L609 389.9 L611.2 390.3Z" fill="#0e6a24"/>
<path d="M591.1 390 L588.6 391.5 L586.4 390.3 L584.8 389.1 L583.5 387.4 L587.5 385.7 L588.3 388Z" fill="#828282"/>
<path d="M609.4 368.8 L608.7 369.8 L607.5 370.4 L606.6 369.8 L606.4 368.2 L607.3 368 L609.2 368Z" fill="#0e6a24"/>
<path d="M596.9 365.6 L595.3 366.8 L594.5 366.5 L593.3 366.5 L594.4 365.6 L596.1 364.6Z" fill="#828282"/>
<path d="M612 365.8 L610.6 366.9 L609 365.8 L610.7 365.2Z" fill="#0e6a24"/>
<path d="M601.5 387.4 L598.7 391.4 L597.2 391.8 L594.6 389.2 L592.8 386.5 L596.9 385.4 L598.4 386.7Z" fill="#828282"/>
<path d="M600.8 390.5 L599.2 390.9 L597.6 391.1 L597.1 389.7 L596.2 388.7 L600 389Z" fill="#828282"/>
<path d="M543.9 489.6 L542.5 491.5 L538.8 492 L536.4 490.3 L538.3 489.6 L540 487.5 L541.7 487.4Z" fill="#828282"/>
<path d="M517 429.2 L515.5 430.1 L512.8 430.4 L511.8 429.1 L511.3 427.6 L514.1 425.8 L515.6 427.5Z" fill="#0e6a24"/>
<path d="M533.2 482.3 L531.6 484.3 L530.5 483.4 L530.7 482 L532.3 480.7Z" fill="#828282"/>
<path d="M519 432.6 L517.8 433.6 L517.5 433.3 L515.9 432.5 L516.6 432 L516.5 431.4 L517.7 431.4Z" fill="#828282"/>
<path d="M539.4 460.9 L536.3 462.1 L532.8 460.2 L535.1 457.6Z" fill="#828282"/>
<path d="M578.3 457.1 L577.9 457.9 L576.5 458.1 L574.8 457.3 L576.6 455.8 L577.4 455.9Z" fill="#828282"/>
<path d="M578.8 435.4 L577.8 435.5 L577.7 436.2 L576.6 435.3 L576.2 434.5 L577.3 433.8 L578.3 434.5Z" fill="#828282"/>
<path d="M581.9 477.7 L580.5 479.1 L578.9 478.6 L577.6 478.1 L579.4 476.2 L581 476.1Z" fill="#828282"/>
<path d="M519.7 454.7 L518.9 457 L516.6 455.9 L514.3 454.1 L515.5 453.3 L517.1 451.3 L518 451.6Z" fill="#828282"/>
<path d="M570.1 443.5 L569 444.5 L568.8 444.8 L567.1 443.4 L567.3 443.1 L568.4 442.6 L569.1 442.9Z" fill="#0e6a24"/>
<path d="M579.1 434 L578.7 434.4 L576.7 434.7 L575.9 433.8 L576.8 433.2 L577.4 431.8 L578.4 433.1Z" fill="#828282"/>
<path d="M483.3 436.9 L480.5 438.7 L477.8 438.9 L477.5 437.8 L478.6 434.2 L482.2 434.8Z" fill="#828282"/>
<path d="M560.1 492.2 L558.8 496.1 L557.5 494.5 L554.1 495 L555.3 492.6 L556.2 491.1 L559.4 490.6Z" fill="#828282"/>
<path d="M492.9 426.5 L492 428.1 L489.6 426.8 L491.2 425.4Z" fill="#828282"/>
<path d="M582.1 476.8 L579.4 478.4 L577 476.7 L579.5 475.2Z" fill="#0e6a24"/>
<path d="M502.5 464.6 L501 465.1 L499.4 464 L500.6 463.3Z" fill="#828282"/>
<path d="M493.9 428.6 L492.8 429.4 L490.2 429.3 L492.8 427.2Z" fill="#828282"/>
<path d="M545.2 452.5 L543.9 455.5 L540.2 453.1 L541.2 451.2 L542.5 450.4Z" fill="#0e6a24"/>
<path d="M572.9 487.4 L571.8 488.6 L570.3 487.6 L572.3 485.7Z" fill="#0e6a24"/>
<path d="M504.7 456.8 L503.3 457.2 L502.5 456.8 L502 455.9 L503.2 455.9Z" fill="#828282"/>
<path d="M572.2 431.2 L571.7 432.5 L570.5 432.8 L570 432 L569.3 430.4 L570.8 430.1 L571.8 430.5Z" fill="#0e6a24"/>
<path d="M544.8 438.8 L542.9 441.1 L538.7 440 L540.1 436.8 L541.9 436.3Z" fill="#0e6a24"/>
<path d="M563.8 486.1 L564.1 487.2 L561.2 488.4 L559.3 485.4 L560.7 484.1 L563.6 484.6Z" fill="#828282"/>
<path d="M553.5 443.6 L552.2 444.2 L549.6 443.3 L552.5 441.9Z" fill="#0e6a24"/>
<path d="M485.4 452.6 L483.7 454.3 L483 454.1 L482.2 454.1 L482.3 453.3 L482.7 452.1 L484.9 452.1Z" fill="#828282"/>
<path d="M526.8 455.2 L525.4 457 L522.6 456.6 L522.1 455.1 L523.9 454.4 L525.1 454.7Z" fill="#0e6a24"/>
<path d="M571.9 433.9 L570.9 434.9 L569.3 435.1 L568.6 433.5 L570.9 432.7Z" fill="#828282"/>
<path d="M577.2 435.8 L576.8 436.8 L573.8 436.9 L573 436.4 L572.1 434.3 L575.3 433.1 L575.8 434.5Z" fill="#828282"/>
<path d="M476.6 437 L474.7 438.6 L471.2 437.6 L471.4 435.3 L474.5 435.2Z" fill="#828282"/>
<path d="M488.9 431.1 L487.6 433.4 L486 434.2 L482.8 433.2 L483.8 431.4 L485.2 430.1 L488.9 430Z" fill="#828282"/>
<path d="M517.9 445.9 L516.1 446.7 L514.1 447.3 L513.5 444.4 L516 444.3Z" fill="#828282"/>
<path d="M472.5 428.8 L471.6 429.5 L469.7 429.9 L469.9 428.7 L469.5 427.1 L471.7 426.6Z" fill="#0e6a24"/>
<path d="M482.5 467.1 L482.5 467.4 L481.6 467.7 L480.3 467.1 L480.5 466.5 L481.5 466.6 L482.4 466.3Z" fill="#828282"/>
<path d="M512.7 444.1 L512.2 445.2 L509 444.7 L510.8 443.3 L511.9 442.5Z" fill="#0e6a24"/>
<path d="M545 433.1 L543.4 435.3 L542.3 433.9 L540.8 431.7 L544.4 431.9Z" fill="#828282"/>
<path d="M489.1 430 L485.6 431.8 L482.9 431.6 L483.5 429.7 L485.8 426.8Z" fill="#0e6a24"/>
<path d="M582.6 474 L581.5 474.8 L580.6 474.3 L581.4 473.1Z" fill="#828282"/>
<path d="M565.3 432.6 L563.4 433.7 L561.6 432.9 L561.6 430.9 L563.7 431.5Z" fill="#0e6a24"/>
<path d="M488.5 469.4 L487 470.4 L484 470.1 L484.9 468.8 L487.1 467.9Z" fill="#0e6a24"/>
<path d="M578.7 468.7 L577.2 468.8 L576.7 468.4 L577.4 467.9Z" fill="#0e6a24"/>
<path d="M579.3 485.1 L576.5 487.7 L575.6 484 L578.2 481.6Z" fill="#828282"/>
<path d="M537.7 455.2 L538 456.1 L534.4 456.2 L535 454.9 L535.8 454 L537.1 453.9Z" fill="#828282"/>
<path d="M473.6 436.9 L472.7 439 L472 439.5 L467.3 437.8 L468.9 436.1 L471.4 434 L473.7 433.6Z" fill="#828282"/>
<path d="M584.7 481.8 L580.9 484 L578.7 480.7 L579.9 479.5Z" fill="#828282"/>
<path d="M553.9 451.7 L551.8 454.9 L549.9 453.4 L548.2 450.9 L552.7 450.6Z" fill="#0e6a24"/>
<path d="M517 497.3 L516.2 498.1 L515.4 497.9 L515 495.9 L516.1 496.2Z" fill="#0e6a24"/>
<path d="M512.7 431.9 L512.2 433.8 L508 433.7 L509 432.6 L509.5 430.7 L511 430.7Z" fill="#828282"/>
<path d="M529.8 477.9 L529 478.2 L528.4 477.8 L529 476.9Z" fill="#0e6a24"/>
<path d="M519.7 428.4 L518.5 429.7 L516.7 429.9 L515.1 428.2 L515.5 426.7 L519 426.6Z" fill="#0e6a24"/>
<path d="M533.9 498.3 L531.6 500.1 L531.1 499.6 L528.1 499.1 L529.1 497.5 L531.3 495.4 L532.4 495.9Z" fill="#828282"/>
<path d="M490.3 467 L487.8 467.7 L485.6 467.8 L484.5 467.1 L484.3 464.3 L488.2 464.5Z" fill="#0e6a24"/>
<path d="M491 482.3 L489.5 484.3 L489 484.4 L486.4 484.3 L486.9 481.5 L488.1 478.9 L489.8 481.1Z" fill="#828282"/>
<path d="M501.9 466.4 L501.1 467.2 L500.1 467.6 L500.2 466.2 L501.5 466Z" fill="#0e6a24"/>
<path d="M479.5 461.6 L478.5 464.1 L477.2 463.3 L475.2 463.2 L474.1 459.9 L476.7 459.3 L478.6 458.5Z" fill="#0e6a24"/>
<path d="M508.2 467.3 L507.5 469.7 L505.4 467.8 L506 465.7Z" fill="#0e6a24"/>
<path d="M571.6 433.5 L570.6 434.2 L570.2 433.8 L568.8 433.9 L568.9 432.8 L570.2 432.4 L571 432.5Z" fill="#828282"/>
<path d="M507.8 466.5 L506.5 467.7 L502.7 468.1 L504.2 465.9 L506.6 464.1Z" fill="#828282"/>
<path d="M496.7 474.4 L496.1 474.7 L494.9 474.5 L494.6 474.5 L493.8 473 L495 473.1 L495.9 473.4Z" fill="#828282"/>
<path d="M520.3 496.5 L518.4 498 L516.7 497.4 L515.9 496 L518 494.6Z" fill="#0e6a24"/>
<path d="M566.7 438.8 L566.9 439.5 L565.6 440 L565.4 438.8 L565.8 438.5 L566.3 438.1Z" fill="#828282"/>
<path d="M571.9 491.8 L568.9 491.8 L566.3 491.1 L566.4 489.4 L569.5 488.8Z" fill="#828282"/>
<path d="M493.8 427.6 L492.5 427.7 L488.8 430.1 L487.8 427.4 L486.8 425.9 L490.3 423.8 L492.6 424.3Z" fill="#828282"/>
<path d="M583.9 497.4 L582.5 499 L580.6 500.3 L578 499.5 L577.2 497.5 L580.8 495.2 L583 495.7Z" fill="#0e6a24"/>
<path d="M485.6 437.5 L482.7 441.1 L480.7 440.8 L478.3 439.5 L478.3 436.1 L480.5 436.8 L483.3 435.9Z" fill="#828282"/>
<path d="M516.8 432.7 L516.9 433.9 L515.5 434 L514.6 433.7 L514.4 432.1 L515.3 431.8 L516.7 431.5Z" fill="#0e6a24"/>
<path d="M550.1 462.5 L547.2 463.4 L545.4 463.3 L545.2 462.5 L542.5 461.4 L546.7 460 L548.7 460.5Z" fill="#0e6a24"/>
<path d="M473.2 440.3 L472.3 440.6 L471.9 441 L471 440.4 L470.9 439.5 L471.7 439.4 L472.8 439.6Z" fill="#828282"/>
<path d="M535.3 431.9 L533.4 435.5 L531.8 434.2 L530.9 430.9 L533.2 430.8Z" fill="#828282"/>
<path d="M583.4 447 L583.2 448.9 L579.8 449.4 L579.2 447.7 L579.1 446.3 L581.2 444.9 L582.8 445.7Z" fill="#0e6a24"/>
<path d="M526.8 498.8 L525.6 499.8 L525.1 498.8 L526.6 497.4Z" fill="#828282"/>
<path d="M508.9 438.3 L507.3 441 L504.9 441 L503.1 439.4 L503.7 437.1 L507.9 436.7Z" fill="#0e6a24"/>
<path d="M542.2 429.2 L540.9 431.3 L539.7 429.6 L541.5 428Z" fill="#828282"/>
<path d="M489.8 469.7 L489.2 470.7 L487.4 470 L487.6 469.5 L488.2 468.3 L489.1 468.1Z" fill="#0e6a24"/>
<path d="M552.4 429.2 L549.5 430.6 L546.9 431.3 L545.2 427.3 L549.7 425Z" fill="#828282"/>
<path d="M556.6 500.6 L554.5 501.3 L552.4 500.6 L551.6 500.1 L550.7 497.6 L556.8 497.7Z" fill="#828282"/>
<path d="M583.5 475.5 L583.4 476.7 L581.4 477 L580.9 476.4 L580.6 475.7 L582.2 474.4 L582.8 474.5Z" fill="#828282"/>
<path d="M503.9 429.7 L501.8 433.7 L499.9 432.2 L496.5 431.4 L496.7 430 L500 427.8 L503.2 428.7Z" fill="#0e6a24"/>
<path d="M581.3 470.2 L578.9 470.5 L576.3 470.5 L576.6 467.9 L579.2 468.3Z" fill="#828282"/>
<path d="M543.4 429.1 L544.5 430.1 L539.6 429.9 L536.9 429.3 L538.1 427.3 L540.1 427 L543.6 426.6Z" fill="#828282"/>
<path d="M479.5 465.9 L478 467.9 L475.6 465.8 L477.2 464.1Z" fill="#0e6a24"/>
<path d="M504.2 490.5 L502.8 492.9 L501.2 492.8 L498.2 491.5 L500.1 488.4 L502.9 489.3Z" fill="#0e6a24"/>
<path d="M486 437.3 L485.7 438.2 L484.4 437.9 L484 437.2 L484.7 436.7 L485.9 436.7Z" fill="#828282"/>
<path d="M545.4 431 L544.2 432.9 L543.1 431.2 L543.8 429.9Z" fill="#828282"/>
<path d="M509.9 436.3 L508.8 437 L507.8 435.9 L509 434.9Z" fill="#828282"/>
<path d="M546.2 434.6 L545.4 435.3 L544.5 436.6 L541 434.2 L540.5 433.3 L544.4 431.9 L547.6 432.5Z" fill="#828282"/>
<path d="M582.9 471.9 L582.5 473.6 L579.6 471 L582.8 469.7Z" fill="#828282"/>
<path d="M573.9 434.5 L573 436.3 L569.2 435.6 L567.4 434 L565.5 433.2 L568.7 431.9 L571.3 431.4Z" fill="#828282"/>
<path d="M525.2 456.8 L524 457 L521.9 457.4 L522.2 455.8 L523.6 455.5Z" fill="#828282"/>
<path d="M583.2 467.7 L580.9 470.3 L576.9 468.5 L574.9 468.1 L576.1 463.8 L582.6 464.2Z" fill="#0e6a24"/>
<path d="M477.5 457.2 L475.4 459.6 L473.6 459.5 L472.3 457.1 L476.3 456Z" fill="#0e6a24"/>
<path d="M506.2 471.4 L505.6 472.1 L504.2 471.1 L505.3 470.1Z" fill="#0e6a24"/>
<path d="M492 430.8 L490.8 433.7 L488.8 432.2 L488.9 430.4 L491 429Z" fill="#828282"/>
<path d="M498.4 428.7 L495.3 429.8 L493.3 431.5 L490.1 426.9 L493.2 425.5 L494.6 426.9Z" fill="#828282"/>
<path d="M488.3 430.7 L488.3 431.1 L486.4 431.5 L486.1 430.3 L486.6 429.8 L487.6 429.7Z" fill="#828282"/>
<path d="M567.7 439.8 L565.4 440.5 L564.9 439.8 L565.6 438.4Z" fill="#828282"/>
<path d="M504.8 435.8 L503.4 436.8 L503.1 437 L502.2 436.2 L501.6 435.4 L503.2 435.4 L504.3 435.5Z" fill="#828282"/>
<path d="M550.2 494.9 L549.5 495.7 L547.3 495.4 L547.8 494.4 L548.7 493.7Z" fill="#0e6a24"/>
<path d="M488.5 427.3 L485.6 430.4 L483.5 430.1 L480.9 426.7 L485.6 425.6Z" fill="#0e6a24"/>
<path d="M533.9 482 L531.4 483.2 L529.4 483.8 L528.9 482.3 L529.8 479.8 L530.8 479.8Z" fill="#0e6a24"/>
<path d="M495.7 431 L495.8 432.5 L493.1 432.4 L492.3 431.6 L493.1 430.5 L494.5 429.8Z" fill="#828282"/>
<path d="M537.8 427.6 L533.9 430.4 L530.7 427.9 L534.4 426.7Z" fill="#828282"/>
<path d="M575.8 436.4 L572.6 440.4 L570.5 437.8 L573 434.3Z" fill="#828282"/>
<path d="M492.6 446.1 L489.8 447.2 L488.1 446 L489.7 443.6Z" fill="#0e6a24"/>
<path d="M475 446.1 L471.9 448.6 L470.2 447 L471.9 445.7Z" fill="#828282"/>
<path d="M581.3 444.2 L580.4 445 L576.5 444.7 L577.2 441.9 L579.6 442.5Z" fill="#828282"/>
<path d="M487.6 479.2 L484.3 482.2 L482.9 482.9 L480.3 480.7 L483.2 477.8 L486.4 476.9Z" fill="#0e6a24"/>
<path d="M560 438 L558.8 438.9 L557.9 438.9 L557.6 436.3 L558.9 436.3Z" fill="#0e6a24"/>
<path d="M500.3 435.9 L500.1 436.4 L499.1 437.2 L497.8 436.3 L497.4 435.2 L499 434.3 L500.3 435.1Z" fill="#0e6a24"/>
<path d="M482.1 440.7 L480.3 442.9 L478.3 443 L477.1 440.9 L479.6 439 L481.1 438Z" fill="#828282"/>
<path d="M580 469.6 L580.4 472.5 L577.2 471.5 L576.2 470.2 L576.5 467.7 L579 466.7Z" fill="#828282"/>
<path d="M472.3 439.8 L470.9 441.6 L468.4 439.3 L471.5 439.1Z" fill="#0e6a24"/>
<path d="M579 443.3 L578 444.9 L577.6 445.3 L576 443.7 L576 443.1 L576.1 441.2 L577.9 442Z" fill="#828282"/>
<path d="M579.1 445.5 L579.6 446.1 L578 446.2 L577.6 445.6 L577.7 445.1 L578.4 444.4 L579.3 444.6Z" fill="#0e6a24"/>
<path d="M574.4 435 L573.5 435.7 L572.3 434.9 L573.6 434Z" fill="#828282"/>
<path d="M528.7 497.8 L526.9 500 L525.2 497.7 L526.9 496.2Z" fill="#828282"/>
<path d="M488 481.9 L485.2 483.2 L484 482.4 L483.7 480.2 L485.4 479.4Z" fill="#828282"/>
<path d="M521.7 468.1 L515.8 472.1 L513.7 469.4 L516 465.7Z" fill="#828282"/>
<path d="M538.1 455.1 L537.2 455.8 L536.6 455.4 L534.9 454.7 L536.5 453.7 L538 453.5Z" fill="#828282"/>
<path d="M523 433.1 L522.5 433.9 L520.6 433.4 L519.5 432.8 L520.2 431.3 L523.3 431.5Z" fill="#828282"/>
<path d="M557.5 498.7 L556 502.6 L554.8 501 L551.2 501.6 L550.3 498.9 L554.2 497.4 L555.9 498.4Z" fill="#828282"/>
<path d="M519.8 447.7 L519.5 448.3 L518.4 449.7 L516.2 448 L517.5 447.6 L518 447 L519.7 446.8Z" fill="#828282"/>
<path d="M579.7 457.1 L579.3 458.7 L577.3 458.7 L577.5 456.8 L577.7 455.8 L578.8 455.6Z" fill="#828282"/>
<path d="M534.4 477.6 L532 479 L530.4 478.5 L528.9 477.3 L529.3 475.9 L532.4 475.7Z" fill="#0e6a24"/>
<path d="M553.3 437.5 L553 438.6 L551.6 438.7 L550.3 437.5 L550.6 436.8 L552.4 437Z" fill="#0e6a24"/>
<path d="M547.5 433.2 L546.8 436.4 L543.8 434.1 L543.3 432.2 L545.7 430.1Z" fill="#828282"/>
<path d="M505.8 444.1 L505.5 444.8 L504.5 445.1 L503.6 444.4 L504.8 443.1 L505.4 443.7Z" fill="#828282"/>
<path d="M479.4 429.3 L477.4 430.4 L475 430.8 L474.5 428.8 L474.2 427.2 L475.8 426.5 L476.7 427.5Z" fill="#0e6a24"/>
<path d="M503.4 482.3 L500.6 485.3 L497.8 481.6 L502.1 478.5Z" fill="#828282"/>
<path d="M582.6 452.8 L581 455.9 L577 455.4 L576.9 452.7 L578.3 450.4 L581.3 450.8Z" fill="#828282"/>
<path d="M577.4 431.5 L574.6 432.1 L574 432.2 L571.8 430.2 L572.7 429.6 L576.1 428.9Z" fill="#0e6a24"/>
<path d="M546.1 500.1 L544.8 501.4 L543.1 500.2 L542.9 498.8 L546.5 497.8Z" fill="#0e6a24"/>
<path d="M477.2 456.4 L473.7 457.9 L471.7 455.9 L474.2 455.2Z" fill="#828282"/>
<path d="M554.1 431.3 L551.7 433.7 L548.4 432.8 L550.6 430.7Z" fill="#0e6a24"/>
<path d="M576 438.5 L573.6 440.8 L572.8 437.4 L574 436.6Z" fill="#0e6a24"/>
<path d="M529.7 476.4 L528.6 479.7 L525.8 478.9 L524.5 478.8 L525.3 477 L526.5 475.1 L527.5 475.8Z" fill="#0e6a24"/>
<path d="M565.9 437.9 L565.6 438.9 L565 438.8 L564.4 438.5 L563.7 437.6 L565.1 437.2 L565.9 437.6Z" fill="#828282"/>
<path d="M558.9 437.1 L557.6 439.1 L554.9 438.9 L552.2 437.3 L553.8 435 L557.1 435.6Z" fill="#0e6a24"/>
<path d="M577.4 447.7 L576.9 448.1 L575.6 448 L575.3 447.2 L577.1 446.4Z" fill="#0e6a24"/>
<path d="M551.8 429.6 L550.5 431.3 L548.9 432.3 L547.5 431.3 L548.4 429.4 L548.9 429.2 L551 428.6Z" fill="#0e6a24"/>
<path d="M525.8 468.7 L525.4 469.6 L524.5 470.6 L522.1 468.7 L522.1 466.7 L523.8 466.3 L524.7 467.2Z" fill="#0e6a24"/>
<path d="M569.1 493.9 L568.4 495.5 L566.6 494.2 L568 493.6Z" fill="#828282"/>
<path d="M539 483.2 L538.3 484.2 L536.7 484.1 L536.3 482.9 L537.7 482.9Z" fill="#828282"/>
<path d="M532.1 463.6 L529.8 464.7 L526.2 464.9 L525.6 461.5 L528.4 461Z" fill="#828282"/>
<path d="M567 482.4 L567.1 484.7 L562.6 484.3 L562.6 480.3 L567 479.7Z" fill="#828282"/>
<path d="M516.9 493.8 L513.8 497.9 L512.3 495.9 L511.5 495.3 L511.1 493.4 L513.5 493.2Z" fill="#828282"/>
<path d="M558.1 470.6 L556.5 472.3 L552.8 473 L551.1 472.8 L552.7 469.5 L553.6 469.4 L556.6 469.7Z" fill="#0e6a24"/>
<path d="M572.7 430.8 L570.1 434.6 L565.2 432.9 L570.2 429.6Z" fill="#828282"/>
<path d="M515.3 454.6 L513.7 456.6 L511.1 457.2 L509.8 456 L511.9 454.5 L513.1 454.3Z" fill="#0e6a24"/>
<path d="M579.9 441.1 L579.2 445.1 L575.1 442.4 L578.4 438.1Z" fill="#828282"/>
<path d="M560.5 469.1 L559.6 470.9 L558.3 471.3 L556.8 469.4 L557 468.2 L559 468.6Z" fill="#828282"/>
<path d="M487.2 434.6 L486.1 436.1 L485.3 435.4 L484 435.5 L484.4 434.4 L484.8 433 L486.3 433.6Z" fill="#828282"/>
<path d="M521.9 490.1 L522.5 491.3 L519.7 491.6 L519.4 491.2 L519.8 490.1 L521 488.5 L521.5 488.5Z" fill="#0e6a24"/>
<path d="M541.1 468.5 L540.4 471.1 L537.3 470.3 L535.7 469 L537.3 467.1 L539.1 466.7Z" fill="#828282"/>
<path d="M580.2 448.4 L580.2 450.3 L574.7 450.2 L572.9 447.9 L576.3 446.2 L581.1 445.7Z" fill="#0e6a24"/>
<path d="M576.5 432.4 L573.1 433.2 L568.5 432.3 L573.8 428.9Z" fill="#0e6a24"/>
<path d="M579.9 489 L579.2 489.8 L578.2 489.6 L578.6 488.6 L579.2 488Z" fill="#828282"/>
<path d="M513.7 431.2 L512 432.3 L511.6 434.4 L507.9 432 L509.1 430.5 L510.2 428.8 L513.1 427.9Z" fill="#828282"/>
<path d="M483.5 437.5 L481.5 438.2 L479.9 438.5 L478.2 437.2 L478.7 435.1 L482.3 435.3Z" fill="#828282"/>
<path d="M543.3 432.5 L541.5 434.6 L537.5 431.5 L540.2 430.2Z" fill="#828282"/>
<path d="M579.1 466.7 L578.6 468.1 L577.6 467.2 L578.3 466.2Z" fill="#0e6a24"/>
<path d="M529.7 453.8 L527.6 456.7 L524.3 455.2 L521.9 453.3 L523.6 451.1 L526 451Z" fill="#828282"/>
<path d="M508.5 463.1 L507.4 463.2 L506.2 463.5 L504.6 463 L504.7 462 L505.9 461.7 L506.8 461.5Z" fill="#828282"/>
<path d="M567.5 433.7 L566.3 434.1 L565.6 434.8 L564.5 433.6 L564.8 432.5 L566.4 432.1Z" fill="#0e6a24"/>
<path d="M493 446.5 L492.2 448.3 L490.1 447.4 L490 445.6 L491.4 446.3Z" fill="#828282"/>
<path d="M557.2 436.5 L556.2 436.9 L554.5 436.8 L553.2 436.5 L554.5 435.4 L555.5 434.4Z" fill="#828282"/>
<path d="M864.6 477.3 L863.5 478.5 L861.5 478.1 L862.4 476.9 L863.6 476.2Z" fill="#828282"/>
<path d="M876.1 480.1 L874.3 482.1 L873.6 483.5 L871.1 480.9 L871 479.5 L872.1 476.9 L874.3 478.8Z" fill="#828282"/>
<path d="M872.2 471.5 L870.5 472.7 L869.6 473.2 L866.8 470.6 L868.9 468.4 L873.7 468.7Z" fill="#828282"/>
<path d="M875 494.6 L870.8 496.2 L867.7 495.5 L870.6 492.8Z" fill="#828282"/>
<path d="M869.1 482.3 L865.3 484.8 L861 484.1 L862.3 481.8 L866.4 481.6Z" fill="#0e6a24"/>
<path d="M893.2 464.4 L892.9 464.8 L891.1 466.1 L889.9 464.2 L890.7 463.2 L892.4 462.4Z" fill="#0e6a24"/>
<path d="M870.8 486 L867.7 488.1 L865.3 486.4 L863.3 486.1 L864.1 483.8 L866.9 483.2Z" fill="#0e6a24"/>
<path d="M890.4 467 L889.2 468.8 L886.7 469.8 L886 468.4 L886 467.5 L887.8 466.4 L888.9 467.3Z" fill="#828282"/>
<path d="M865.7 461.7 L865.5 462.4 L864.8 462.6 L863.2 461.7 L863.8 461.4 L864.2 460.8 L865.2 460.8Z" fill="#828282"/>
<path d="M875.6 471.9 L875.3 474.1 L871.6 472.8 L872.2 470.1 L875 470.6Z" fill="#828282"/>
<path d="M877.8 472 L876.2 474.3 L873.5 471.9 L875.3 471.4Z" fill="#828282"/>
<path d="M898.1 469.8 L897.4 471.2 L894.2 471.4 L893.8 467.2 L896.2 467.5Z" fill="#828282"/>
<path d="M876.6 472.3 L876.1 473.9 L873.9 473.4 L874.2 471.6 L876.4 471.4Z" fill="#828282"/>
<path d="M889.6 471.9 L888.6 472.5 L886.7 472.6 L886.8 470.8 L888.5 470.2Z" fill="#828282"/>
<path d="M876.1 466.3 L876.1 466.8 L873.4 468.1 L871.8 466.6 L872.2 464.6 L874.3 464.3 L877.1 463.8Z" fill="#0e6a24"/>
<path d="M867.7 475 L867.9 475.8 L866.4 476.2 L865 475.4 L864.9 474.4 L865.8 473.9 L867.7 473.9Z" fill="#0e6a24"/>
<path d="M876.7 465.6 L875.2 467 L873.7 465.5 L875.8 464.7Z" fill="#828282"/>
<path d="M871.5 481.6 L870.7 482.6 L869.3 482.4 L868.6 481.5 L868.8 480 L870.8 479.4Z" fill="#828282"/>
<path d="M884.7 483.7 L883 484.5 L881.7 483.7 L883.2 482.9Z" fill="#828282"/>
<path d="M867.6 469.5 L866.8 470.2 L866.2 470.3 L865.2 469.1 L864.9 468.5 L866 468.4 L867.6 468.1Z" fill="#0e6a24"/>
<path d="M881.8 471.6 L879.7 472.9 L878.3 470.6 L879.8 469.7Z" fill="#828282"/>
<path d="M882.7 472.6 L880.7 474.4 L880.3 473.1 L880.6 471.9Z" fill="#828282"/>
<path d="M872.3 471.1 L871.8 471.5 L870.7 471.9 L869.6 470.5 L870.6 470 L871.5 470.2Z" fill="#828282"/>
<path d="M870.4 464.6 L867.2 466.4 L865.7 463.8 L867.4 462.4Z" fill="#828282"/>
<path d="M891.1 466.5 L889.6 467.7 L887.7 467.9 L887.3 466.2 L888 465.3 L888.2 464.5 L890.3 464.3Z" fill="#828282"/>
<path d="M881.3 482.7 L881.5 482.9 L879.8 483.1 L879.1 482.6 L879.2 482.3 L880.5 481.5 L881.1 481.4Z" fill="#828282"/>
<path d="M877.6 456.3 L876.5 456.9 L875 456.6 L875.2 455.8 L875.3 455 L876.4 455Z" fill="#828282"/>
<path d="M895.5 470.7 L895 471.7 L894.4 471.9 L893.7 470.7 L893.8 469.1 L895.5 469.1Z" fill="#0e6a24"/>
<path d="M875.3 488.8 L872.3 491.2 L869.6 490.3 L871.2 486.9Z" fill="#0e6a24"/>
<path d="M888.5 464 L886.2 465.9 L883.1 464.2 L883.1 461 L886.5 461.3Z" fill="#0e6a24"/>
<path d="M865.2 483.2 L864.3 484.9 L862.7 484.2 L863.1 483 L864.3 482Z" fill="#0e6a24"/>
<path d="M892.1 467.2 L891.7 468.6 L889 467.7 L886.9 467.6 L886.3 466.1 L888.9 463.1 L890 465.1Z" fill="#828282"/>
<path d="M868.1 464.9 L868 465.3 L866.5 465 L865.7 464.8 L866.2 463.8 L867.4 463.6Z" fill="#828282"/>
<path d="M888.2 463.5 L884.9 463.9 L882 464.1 L882.2 460.8 L885.4 461Z" fill="#828282"/>
<path d="M889.4 457.9 L887.9 458.5 L884.9 457.6 L887.3 454.8Z" fill="#828282"/>
<path d="M888.4 475 L885.9 475.9 L885 476.9 L884.1 475.3 L883 473.4 L885.7 473.1 L887.9 473.7Z" fill="#0e6a24"/>
<path d="M886.1 460.4 L885.3 461.3 L882.7 460.7 L883.4 459.7 L886.1 458.4Z" fill="#828282"/>
<path d="M870.8 462.8 L867.9 464.9 L865.8 466.2 L865.2 464.7 L865 463 L866.1 460.9 L869.2 460.7Z" fill="#0e6a24"/>
<path d="M876 488.7 L876 489.9 L873.7 489.5 L874.4 488.3 L875.2 488Z" fill="#0e6a24"/>
<path d="M866.8 457.8 L866.5 458.7 L865.3 457.3 L865.6 456.7Z" fill="#0e6a24"/>
<path d="M881.2 478.3 L879.5 479.5 L876.1 478.2 L878.3 476.5Z" fill="#0e6a24"/>
<path d="M890.9 464.6 L889.7 465.7 L889 465.9 L888.5 465 L889.1 464.1 L889.9 464.4Z" fill="#0e6a24"/>
<path d="M879.2 466.8 L876.6 469.2 L872.7 469.3 L873 466.5 L877.4 465.2Z" fill="#0e6a24"/>
<path d="M877.5 463.7 L876.4 465.7 L874.4 465.2 L872.9 463.5 L874.1 462.4 L876.7 462.8Z" fill="#828282"/>
<path d="M874.7 490.7 L874.4 492 L871.5 491.5 L870.6 491.1 L869.8 488.8 L872.1 488.6 L873.6 488.1Z" fill="#0e6a24"/>
<path d="M895.4 474.6 L892.5 476.9 L889.7 473.9 L892.4 472.7Z" fill="#0e6a24"/>
<path d="M890.7 473.5 L890.4 474.2 L888.9 474.2 L888.4 473.1 L890.5 472.4Z" fill="#0e6a24"/>
<path d="M877.5 467 L876.7 467.8 L875.2 467.8 L873.8 466.4 L875.4 466 L876.1 465.8Z" fill="#0e6a24"/>
<path d="M872.7 459.2 L871.1 460.1 L869.4 460.4 L868.9 458.5 L868.2 457.2 L870.7 457Z" fill="#828282"/>
<path d="M888.4 473.2 L887.9 475 L886.2 475.1 L885.9 474 L885 473 L886.8 472.1 L887.8 471.8Z" fill="#0e6a24"/>
<path d="M877 478.5 L875.3 479.2 L874.5 479.9 L872 478.3 L873 476.6 L874.1 476.7 L875.8 476Z" fill="#828282"/>
<path d="M878.8 475.5 L878.1 476.6 L877.2 475.8 L877.9 474.6Z" fill="#828282"/>
<path d="M874.5 479.5 L873.4 479.7 L872.4 479.3 L872.1 478.3 L873.2 478.3Z" fill="#0e6a24"/>
<path d="M891.9 462 L890.1 465.4 L889 464 L886.8 463.5 L887.3 461.3 L888.4 461.3 L890.4 460.4Z" fill="#828282"/>
<path d="M894.7 463.2 L894 464.5 L892.4 463.9 L891.2 462.2 L893 462.4Z" fill="#828282"/>
<path d="M867.5 456.7 L867.5 458.9 L862.1 457.4 L864.4 455.1 L866.2 454.5Z" fill="#828282"/>
<path d="M875.5 475.5 L874.7 477 L872.9 476.3 L873.5 474.8 L874.4 474Z" fill="#828282"/>
<path d="M882 468.4 L881.3 468.9 L879.6 468.5 L880.9 466.8Z" fill="#828282"/>
<path d="M875.2 474.2 L874.4 476.1 L873.1 477.2 L870 475.2 L870.3 473.2 L873.4 473.4 L874.3 473.4Z" fill="#828282"/>
<path d="M863.6 477.6 L861 478.5 L859 476.6 L861.1 475.1Z" fill="#0e6a24"/>
<path d="M872.2 464.8 L871.4 465.3 L870.6 464.5 L871.3 464Z" fill="#828282"/>
<path d="M870.9 484.3 L869.9 486.8 L868.1 488 L866.3 486.3 L866 483.7 L867.3 483.3 L869.6 484.2Z" fill="#828282"/>
<path d="M876.5 491.1 L875.6 493.4 L872.7 493.2 L870.3 492.5 L872.7 490.1 L875.3 490.3Z" fill="#828282"/>
<path d="M878.1 478.3 L875.7 481.1 L873.8 480.1 L873.1 476.3 L876.2 477.1Z" fill="#828282"/>
<path d="M881.3 491.1 L877.8 493.3 L873.5 491.9 L874.6 487.8 L878.1 487.9Z" fill="#828282"/>
<path d="M878.9 472 L875.4 472.4 L872.8 472 L875.1 469.4Z" fill="#0e6a24"/>
<path d="M883.7 459.8 L881.7 462.8 L877.7 460.2 L879.4 457.1 L881.4 457.1Z" fill="#828282"/>
<path d="M867.3 463.7 L866.3 463.8 L865.5 464.4 L864.7 463.4 L863.9 462.5 L865.4 461.6 L866.8 462Z" fill="#828282"/>
<path d="M767.2 201.9 L764.8 203.1 L764.1 204.1 L760.8 203.9 L760.7 201.4 L762.7 199.6 L765.8 200.4Z" fill="#0e6a24"/>
<path d="M721.1 224.6 L718.8 226.6 L715.5 225.5 L716.1 223.1 L717.9 222.5Z" fill="#828282"/>
<path d="M723.8 218.7 L722.1 220.8 L719.7 219.8 L719.5 218.1 L721.6 218.5Z" fill="#0e6a24"/>
<path d="M731.4 199 L730.4 201.7 L726.2 200.2 L730.3 196.3Z" fill="#0e6a24"/>
<path d="M717.8 239.2 L717.2 241.2 L716.1 241.4 L713.5 240.1 L713.2 238.6 L716.1 235.5 L717.5 236.1Z" fill="#0e6a24"/>
<path d="M719.7 216 L719.5 216.4 L718.3 216.9 L717.2 216 L717.2 215.2 L718.2 214.7 L718.9 214.7Z" fill="#828282"/>
<path d="M712.6 220.1 L712.5 221.8 L710.5 222.4 L707.1 220 L707.2 217.4 L708.3 217.2 L712.1 216.8Z" fill="#828282"/>
<path d="M735.7 208.7 L734.2 209.5 L731.8 208.7 L733.1 206.7Z" fill="#828282"/>
<path d="M723.7 222.1 L722.4 224.1 L719.8 224.4 L718.3 222.5 L720.1 220.7 L723.6 221.1Z" fill="#828282"/>
<path d="M732.3 195 L730.7 196 L730.5 196.7 L729.4 195.8 L728.9 195.1 L730.3 193.7 L731 193.9Z" fill="#828282"/>
<path d="M711.5 195.4 L707.5 196.9 L704.2 193.6 L708.4 193.1Z" fill="#828282"/>
<path d="M738.4 200.4 L736.8 201.5 L735.4 200.9 L737.2 199.5Z" fill="#828282"/>
<path d="M744.8 205.6 L744.3 208.1 L740.7 207.2 L740.9 205.5 L740.9 203.4 L742.9 203Z" fill="#828282"/>
<path d="M727.8 198.1 L726.1 198.6 L722.6 198.4 L723 196.1 L726.4 195.6Z" fill="#0e6a24"/>
<path d="M711.6 211.2 L711.9 212.4 L710.1 211.8 L708.6 211.6 L708.9 209.8 L710.4 209.7 L710.7 209.7Z" fill="#0e6a24"/>
<path d="M726.2 200.5 L725.2 201.1 L723.4 202.8 L721.8 200.4 L723.1 197.9 L725.8 198.4Z" fill="#828282"/>
<path d="M716.6 218.4 L716.3 219.5 L714.9 219.3 L713.5 219.3 L715.2 218.2 L716.1 218.1Z" fill="#828282"/>
<path d="M740.3 201.3 L738.8 202.2 L737.9 201.4 L739.2 200.4Z" fill="#0e6a24"/>
<path d="M754.2 196.4 L751.2 198.5 L748.7 198 L751.3 195.9Z" fill="#828282"/>
<path d="M721.5 227.7 L719.1 229.6 L716.9 229.9 L717.8 228.1 L720.2 226.7Z" fill="#0e6a24"/>
<path d="M716.1 221.3 L715.2 223.4 L712.6 222.2 L712.5 220.1 L714.5 220.1Z" fill="#828282"/>
<path d="M726.1 206.2 L724.1 208 L722.1 207 L722.2 205 L723.8 204.1Z" fill="#0e6a24"/>
<path d="M725.9 210.8 L724.3 212.6 L722.8 212.1 L721.2 210.6 L722.6 209.1 L724.3 208.8Z" fill="#0e6a24"/>
<path d="M711.9 200.3 L711.3 201.3 L709.6 201.9 L709.3 200.2 L709.9 200 L711.3 199.5Z" fill="#828282"/>
<path d="M711.8 209.7 L709.3 211.5 L706.7 210 L709.5 207.9Z" fill="#0e6a24"/>
<path d="M714.1 226.2 L711.1 227.9 L708.6 226.9 L711 225.5Z" fill="#0e6a24"/>
<path d="M722.5 221.7 L719.7 223.5 L717.1 223.6 L716.6 222.6 L715.6 219.5 L718.5 218.5 L720.6 220Z" fill="#828282"/>
<path d="M776.2 201.9 L774 203.9 L772.9 204.6 L769.9 203.4 L770.4 200.7 L771 199.5 L773 200.5Z" fill="#0e6a24"/>
<path d="M735.9 201.2 L734.6 201.9 L731.9 201.9 L733.6 199.9 L735.6 198.4Z" fill="#0e6a24"/>
<path d="M718.6 207.8 L718.3 209.4 L714.5 209 L713.9 207.7 L713.6 205.1 L717.4 204.5Z" fill="#0e6a24"/>
<path d="M715 227 L711.4 229.3 L706.6 227.3 L710.2 225Z" fill="#0e6a24"/>
<path d="M744 221.1 L742.4 221.3 L740.6 221.4 L741.1 219.5 L742.7 219.6Z" fill="#0e6a24"/>
<path d="M738.9 205.4 L740 207.5 L737.4 207 L735.8 206.6 L735.4 204.7 L737.4 204.8 L738.5 204.3Z" fill="#828282"/>
<path d="M724.6 200.9 L723.8 202 L721.7 202.2 L721.9 200.5 L722.8 199.1 L724.1 200.1Z" fill="#828282"/>
<path d="M738.2 193.9 L734.5 198.4 L731.7 196.3 L732.5 193 L734.4 193.7Z" fill="#0e6a24"/>
<path d="M711.8 196.9 L710.5 199.9 L706.3 198.8 L705.6 195.6 L708.6 196.1Z" fill="#0e6a24"/>
<path d="M727.5 195.2 L725.4 196.5 L724.7 196.4 L723.5 194.5 L726.1 193.7Z" fill="#828282"/>
<path d="M727.1 218.6 L724.7 220.9 L720.2 220.1 L720.8 217.9 L725.9 215.7Z" fill="#828282"/>
<path d="M724.5 198.9 L723.7 199.3 L722.9 199.4 L721.8 198.9 L721.7 198.1 L722.7 197.9 L723.6 197.7Z" fill="#828282"/>
<path d="M746.6 210.3 L745 212.9 L742.3 212.8 L741 212.4 L740.7 208.2 L743.5 207.2 L746.2 208.7Z" fill="#0e6a24"/>
<path d="M747.8 199.2 L746.3 199.8 L743.7 200.5 L742.7 197.8 L742.7 196.8 L747.1 195.2Z" fill="#0e6a24"/>
<path d="M736 203 L735.3 206.2 L731.9 204.5 L731.7 202 L735.8 200.2Z" fill="#0e6a24"/>
<path d="M772.2 201 L768.2 203.3 L764.4 200.3 L767.7 199.3Z" fill="#828282"/>
<path d="M716.5 230 L713.6 231.3 L712.1 230.6 L711 228.8 L713.5 227.4Z" fill="#828282"/>
<path d="M737.5 205.6 L736.1 208.3 L733.9 205.7 L732.1 204 L737.5 202.5Z" fill="#828282"/>
<path d="M717.6 206.6 L718.3 208.2 L716.2 209.2 L713.5 207.5 L714.1 205.8 L716.1 205.4 L716.7 205.2Z" fill="#828282"/>
<path d="M734 208.1 L731.8 209.9 L730 209.3 L728.9 208 L731.3 206.2Z" fill="#0e6a24"/>
<path d="M757.8 223 L756.6 224 L755.7 223.8 L755.4 222.8 L755.6 222.5 L756.7 222.5Z" fill="#828282"/>
<path d="M732.3 212.6 L728.6 215.1 L725.8 214.3 L727.6 211.3Z" fill="#0e6a24"/>
<path d="M718.3 197.5 L717.2 198.8 L716.1 197.8 L717.8 196.1Z" fill="#828282"/>
<path d="M755.1 205 L754.5 206.5 L753.9 206.8 L751.3 205.6 L751.5 204.6 L753.7 203.2 L755.2 204Z" fill="#828282"/>
<path d="M728.3 201.3 L727.4 202.4 L724.1 202.5 L725.2 200.3 L728.1 198.6Z" fill="#828282"/>
<path d="M714.2 209.9 L713.5 211.1 L710.5 211.1 L711.4 208.3 L714.2 207.2Z" fill="#0e6a24"/>
<path d="M716.3 207.3 L715 208.8 L712.1 208.8 L712.1 206.4 L715.7 206Z" fill="#828282"/>
<path d="M739.5 200.4 L737.6 202.5 L734.5 202.1 L735.8 199.3 L737.3 196.9Z" fill="#828282"/>
<path d="M717.9 211.8 L715.4 212.4 L713.8 212.4 L713.8 210.7 L714.7 209.7Z" fill="#0e6a24"/>
<path d="M720.7 229.9 L720.1 232.2 L719.4 232.2 L716.9 231.7 L717 229.4 L718.6 228.2 L722.2 228.5Z" fill="#828282"/>
<path d="M754.9 202.8 L753.3 203.3 L752 203.3 L750.6 202.6 L751.3 201.8 L752.7 200.2 L753.4 200.7Z" fill="#828282"/>
<path d="M759.9 205 L757.1 206 L756 207.5 L752.8 206.3 L753 203.4 L755.8 202.1 L757.3 201.7Z" fill="#828282"/>
<path d="M718.2 214 L716.2 215.4 L715.8 215.7 L713.3 216.1 L713.2 213.9 L714.8 213.4 L717.3 213.2Z" fill="#0e6a24"/>
<path d="M730.2 210 L728.5 211.5 L727.8 211.2 L726 211 L726.6 209.7 L728 209.5 L728.7 210.1Z" fill="#0e6a24"/>
<path d="M749.6 203.7 L747.8 206.5 L745.3 203.5 L747.7 200.5Z" fill="#0e6a24"/>
<path d="M708.4 202.4 L706.9 203.9 L706.1 203.5 L705.3 202.1 L707.6 201.9Z" fill="#828282"/>
<path d="M709.7 191.8 L708.2 194 L706.5 192.6 L707 190.7 L709.3 190.7Z" fill="#828282"/>
<path d="M729.1 224 L729.5 225.3 L725.6 225 L725.3 223.2 L726.8 222.9 L728.3 222.2Z" fill="#0e6a24"/>
<path d="M715.6 193 L712.4 193.8 L711.2 192.6 L713.9 190.4Z" fill="#828282"/>
<path d="M731 213.5 L730 214.8 L727.9 214.2 L727.5 212.6 L727.7 211.7 L729.9 210.9Z" fill="#0e6a24"/>
<path d="M719.9 218.8 L719.4 220.7 L716.7 221.8 L713.7 218.9 L714.9 216.7 L719.5 217.2Z" fill="#828282"/>
<path d="M721.2 210.4 L719.6 213.6 L714.8 212.9 L714.8 211.8 L716.3 209.8 L718.6 209.3Z" fill="#0e6a24"/>
<path d="M716.6 217.8 L714.3 221.1 L711.2 218.6 L713.3 215.8Z" fill="#0e6a24"/>
<path d="M711 205 L708.6 206.4 L705.2 204.5 L709.4 202.3Z" fill="#828282"/>
<path d="M751.7 221.8 L750.6 222.1 L748.9 222.4 L747.7 221.9 L747.8 220.6 L749.6 220.5 L750.5 220.4Z" fill="#828282"/>
<path d="M741.9 227.4 L742.7 230.6 L739.9 229.4 L738.7 228.6 L738 226.5 L740.6 224.9 L742.3 226.1Z" fill="#0e6a24"/>
<path d="M712.7 212.5 L710.3 215.3 L708.6 213.1 L709.7 212Z" fill="#828282"/>
<path d="M734.2 197.9 L732.4 199 L730.7 198.5 L729.8 196.7 L733.2 195.4Z" fill="#828282"/>
<path d="M724.6 212.9 L722.8 215.7 L720.4 212.9 L722.5 211.1Z" fill="#0e6a24"/>
<path d="M715.5 224.5 L714 226.4 L711.5 226 L708.7 223.2 L711.4 220.5 L712.6 222.3Z" fill="#0e6a24"/>
<path d="M757.9 199.7 L755.7 202.1 L753.9 201.9 L754.5 199.6 L755.6 199.2Z" fill="#0e6a24"/>
<path d="M726.7 210.6 L725.1 211.9 L723.2 212 L723.3 210.3 L724.2 208.6Z" fill="#828282"/>
<path d="M727.9 208.1 L727.7 208.8 L726.9 208.7 L725.6 207.9 L726.9 207 L727.4 206.8Z" fill="#828282"/>
<path d="M750.8 198.3 L750 200.2 L748 200.7 L746.7 199.3 L746.6 196.7 L748.5 197.5 L751.1 197.1Z" fill="#828282"/>
<path d="M750.4 223.8 L749.6 225.5 L747.1 226.9 L744.9 224.3 L746.2 221.9 L750 222.7Z" fill="#0e6a24"/>
<path d="M768.4 208.4 L765.8 210.2 L762.1 207.6 L765.4 206.1Z" fill="#828282"/>
<path d="M713.3 233 L711.5 235 L709.7 232.2 L710.9 230.3Z" fill="#828282"/>
<path d="M749.1 197.6 L747.1 199 L744.7 198.2 L747.3 196.6Z" fill="#828282"/>
<path d="M711.1 202.7 L710.9 203.4 L710.2 203.9 L709.4 203.4 L709.3 202.4 L710.2 201.6 L711.2 201.6Z" fill="#828282"/>
<path d="M767.1 200.7 L766.7 202.3 L764.2 201.7 L762.1 200.7 L763.2 199.3 L765.7 200.1Z" fill="#828282"/>
<path d="M707.4 191.2 L707.1 192.4 L705.4 191.4 L707.3 190.1Z" fill="#828282"/>
<path d="M730.5 199.2 L729.5 200.9 L728.3 200 L727 200.5 L726.4 199.1 L727.9 198.1 L729.6 198.1Z" fill="#828282"/>
<path d="M728.7 220.9 L728.4 222.3 L727.4 222.6 L725.7 221.7 L726.5 220.3 L727.2 220.4 L728.3 220.6Z" fill="#828282"/>
<path d="M733.6 209.8 L731.5 211 L730.1 209.7 L731.9 208.5Z" fill="#828282"/>
<path d="M764.8 208.3 L764.3 210.6 L758 209.6 L759.8 206.9 L762 205.6Z" fill="#0e6a24"/>
<path d="M731.3 205 L729.3 206.3 L725.7 206.5 L725 205.9 L726.6 201.8 L728.6 203.2Z" fill="#828282"/>
<path d="M717.1 232.8 L715.9 234.8 L711.5 235.3 L712 232.7 L712.5 232.1 L715.7 231.1Z" fill="#828282"/>
<path d="M713.1 202.1 L711.7 203.2 L710 201.9 L711.8 201Z" fill="#828282"/>
<path d="M713.2 217.4 L711.9 218.8 L709.7 217.2 L711.3 216.5Z" fill="#0e6a24"/>
<path d="M736.6 211.4 L734.7 213.1 L732.3 211.5 L731.7 210.3 L734.2 207.6Z" fill="#0e6a24"/>
<path d="M767.8 199.4 L767.3 201.6 L764.8 201 L765.1 199 L767.3 198.3Z" fill="#828282"/>
<path d="M710.2 212.1 L708.3 212.7 L706.8 212.2 L707 211 L708.4 210.9Z" fill="#828282"/>
<path d="M713 212 L710.8 212.8 L709 212.9 L706.9 212.7 L709.5 209.7 L710.8 209.7Z" fill="#828282"/>
<path d="M726.4 209.6 L725.1 211.1 L724.1 210.7 L724.3 209.8 L725.1 209.3Z" fill="#0e6a24"/>
<path d="M712.7 193.8 L710.3 195.8 L707.8 197.7 L706.3 193.6 L706.7 190.9 L710.3 191.7Z" fill="#0e6a24"/>
<path d="M732.8 209.3 L732.3 209.8 L731 209.5 L730.7 208.4 L731.7 208.7Z" fill="#828282"/>
<path d="M752.9 197.7 L751.7 199.5 L750.6 199 L750.8 196.4 L752.5 196.7Z" fill="#828282"/>
<path d="M893 462.3 L892.3 464.2 L888.5 463.6 L888.3 460.8 L891.2 459.1Z" fill="#828282"/>
<path d="M902.4 466.9 L899.7 468.1 L896.2 466 L900 464.6Z" fill="#0e6a24"/>
<path d="M890.5 466.2 L889.4 466.5 L888.4 467.1 L887.8 466.2 L888.1 465.6 L889 465 L889.6 465.3Z" fill="#828282"/>
<path d="M841.8 430.4 L837.7 433.1 L835.2 431.6 L838.2 429.3Z" fill="#828282"/>
<path d="M884.4 458.4 L882.2 462.1 L878.4 461.9 L879.9 458.2 L881.8 457Z" fill="#828282"/>
<path d="M889.7 453.6 L889.2 454.9 L886.4 455.5 L886.2 453.7 L886.8 453.1 L887.4 451.8 L889 451.1Z" fill="#0e6a24"/>
<path d="M853.3 433.1 L851.2 435.3 L848.2 433.3 L850.9 431Z" fill="#828282"/>
<path d="M837.1 428 L836.7 428.7 L835.2 428.5 L833.9 428.6 L834.7 427.4 L834.5 426.1 L836.9 426.7Z" fill="#828282"/>
<path d="M883.3 454.4 L880.9 455.4 L877.7 454.3 L876.4 451.4 L880 450.9Z" fill="#828282"/>
<path d="M868.7 442.3 L867.5 444.2 L865.1 444.2 L864 443.2 L863.5 441.7 L864 440.4 L866.1 441.5Z" fill="#0e6a24"/>
<path d="M847.7 425.6 L847 427.1 L845.7 427.1 L844.8 426 L845.7 424.7 L846.6 425.3Z" fill="#828282"/>
<path d="M845.2 435.2 L844.3 436.3 L842.5 435.9 L842.5 434.4 L843.5 434.4Z" fill="#0e6a24"/>
<path d="M857.7 454.1 L857.2 455.4 L854.9 455.2 L853.5 453.6 L854.4 452.6 L857.4 452.5Z" fill="#828282"/>
<path d="M886.1 460.2 L884.4 461.4 L881.2 460.8 L882.2 458.9 L884.6 457.9Z" fill="#828282"/>
<path d="M877.5 459.1 L876.8 460 L875.6 459.8 L875.6 458.7 L876.7 458.2Z" fill="#828282"/>
<path d="M881 440.7 L879.7 441.9 L877.3 440.6 L879 439.5Z" fill="#828282"/>
<path d="M881.1 439 L879.5 440.8 L878.8 440.3 L877.5 438.6 L879.9 437.2Z" fill="#0e6a24"/>
<path d="M851.9 428.8 L848.8 429.3 L846.4 430.2 L847.3 426.7 L850.7 425Z" fill="#828282"/>
<path d="M876.2 454.9 L874.4 457.1 L871.5 456.1 L875 453Z" fill="#828282"/>
<path d="M852.1 427.4 L849.8 428.7 L846.9 427 L850.3 425.2Z" fill="#828282"/>
<path d="M845.3 428.5 L842.4 430.4 L838.8 429.1 L838.5 426.7 L842.6 425.7Z" fill="#0e6a24"/>
<path d="M883.7 463.8 L883.7 464.6 L882.8 465.1 L881.7 464.1 L881.1 463.5 L882.7 463.2 L883.4 463.7Z" fill="#0e6a24"/>
<path d="M869.5 451.7 L867.8 455.2 L863 453.6 L863.2 452.1 L867.9 450.4Z" fill="#0e6a24"/>
<path d="M854.7 451.8 L854.5 453.1 L853 452.8 L850.9 451.2 L853.4 450.7 L853.9 451Z" fill="#0e6a24"/>
<path d="M872.5 451.1 L870.3 453.9 L867.4 452.5 L868.5 450 L870 448.2Z" fill="#0e6a24"/>
<path d="M891.5 447.6 L890.9 448.5 L889.5 447.9 L889.6 447 L890.7 447.1Z" fill="#0e6a24"/>
<path d="M852.8 442.9 L850.4 444.8 L848.1 442.7 L851.9 441.2Z" fill="#0e6a24"/>
<path d="M888.7 441.8 L889.1 443.7 L886.5 444.7 L885.9 442.2 L884.1 440.6 L887.4 439.6 L889 439.1Z" fill="#828282"/>
<path d="M886.8 459.2 L885.3 459.9 L883.6 459.2 L884.8 458.1Z" fill="#0e6a24"/>
<path d="M888.9 461.3 L889 461.9 L886.8 461.9 L885.6 461 L887.7 460.1 L888.8 460.1Z" fill="#828282"/>
<path d="M874.2 457.1 L874 457.9 L872 458.2 L871.7 457.3 L872.6 455.6 L873.8 455.7Z" fill="#0e6a24"/>
<path d="M844.9 427.2 L844.3 428.4 L841.9 428.2 L839.4 426.6 L842.2 425.4 L843.6 425.4Z" fill="#828282"/>
<path d="M858.2 441.7 L856.7 442.3 L855.1 442.2 L855.4 440.5 L856.6 440Z" fill="#828282"/>
<path d="M840.6 429 L841 429.7 L839.4 429.4 L839 429 L839.3 428.2 L840.1 427.8Z" fill="#0e6a24"/>
<path d="M876.7 455.9 L876.5 458.7 L874.5 459.5 L872.3 458.1 L873.2 455.6 L874.2 455.3 L876.4 454.6Z" fill="#828282"/>
<path d="M836.8 424.6 L835.9 425.8 L833.6 424.8 L834.3 423.7 L835.4 423Z" fill="#0e6a24"/>
<path d="M873.1 460.8 L872.5 461.8 L871.1 462 L870.4 461 L870.8 459.1 L872.1 460Z" fill="#828282"/>
<path d="M866.8 439.4 L865.6 440.3 L861.5 440.3 L861.5 436.3 L863.9 435.3Z" fill="#0e6a24"/>
<path d="M860.1 457.1 L859.3 458 L857.2 459.4 L854.9 458.3 L854.7 456.5 L856.7 455.1 L858.5 454.9Z" fill="#0e6a24"/>
<path d="M850.4 441.9 L848.8 443.2 L847 442.2 L846.1 440.8 L848.9 439.6Z" fill="#828282"/>
<path d="M885.8 461.2 L885.8 462.1 L883.8 462.1 L884.1 461.3 L884.3 460.1 L885.1 460Z" fill="#828282"/>
<path d="M854.5 436.8 L853.6 438.6 L851.2 439 L849.8 437.7 L851.6 436.5 L851.3 435.8 L853.9 436.3Z" fill="#0e6a24"/>
<path d="M864.3 447.8 L862 449.2 L861.4 448.9 L859.7 448.8 L860.2 448 L861.2 447.1 L863.7 447Z" fill="#828282"/>
<path d="M862.3 456.6 L860.6 457.9 L859.9 458.2 L857.3 457.2 L857.5 456.4 L859.9 455.8 L861.5 455.4Z" fill="#828282"/>
<path d="M874.3 453 L874.1 453.6 L872.6 454.1 L871.8 453.6 L871.3 452.2 L873 451.3 L874.3 451.1Z" fill="#828282"/>
<path d="M873.1 454.3 L872.3 456.1 L871.5 455.9 L869.5 455 L871.3 452.9 L872.4 453.6Z" fill="#0e6a24"/>
<path d="M855.5 432 L853.7 433.3 L852.1 433.4 L850.8 431.2 L853.2 431.1Z" fill="#0e6a24"/>
<path d="M857.9 446.5 L854.8 449 L852.1 449.3 L850.2 446.4 L852.7 444.3 L855.9 445.1Z" fill="#828282"/>
<path d="M851 426.5 L848 427.3 L845.6 427.8 L845.3 426.7 L845.1 424.7 L848.2 423.1Z" fill="#828282"/>
<path d="M872.6 448.3 L872 449.6 L868.8 450.2 L866.7 446.2 L872.3 446.1Z" fill="#828282"/>
<path d="M856 449.8 L855 450.9 L853.7 452.2 L852.8 449.4 L852 448.1 L855.7 448.6Z" fill="#0e6a24"/>
<path d="M896 465 L895.2 465.5 L893.3 465 L892.3 463.4 L894.3 462.3Z" fill="#0e6a24"/>
<path d="M841.3 422.9 L840.2 423.5 L838.6 422.7 L840.1 421.6Z" fill="#0e6a24"/>
<path d="M838.1 418.1 L836.9 420 L834 417.2 L836.6 416.1Z" fill="#828282"/>
<path d="M871.2 453 L869.2 454.8 L868.3 455.2 L866.8 452.9 L868.4 452.5 L870.6 452.2Z" fill="#828282"/>
<path d="M886.6 439.5 L885.1 442 L881.9 441.7 L879.2 439.9 L881.4 437.4 L885.1 438.5Z" fill="#828282"/>
<path d="M869.7 457.6 L869.2 459.1 L866.2 457.5 L869.1 455Z" fill="#0e6a24"/>
<path d="M871.3 452.4 L869.6 453 L868.6 453.1 L868 452.8 L867.8 450.8 L868.5 450.1 L870.7 449.7Z" fill="#0e6a24"/>
<path d="M860.3 435.9 L859.8 436.2 L858.8 436.8 L857.5 435.7 L858 435 L858.5 434.5 L859.6 434.7Z" fill="#828282"/>
<path d="M856.3 439.2 L854.7 441.4 L853.8 440.1 L852.6 438.6 L852.9 438.1 L855.8 437.4Z" fill="#828282"/>
<path d="M868.5 428.1 L867.4 429.1 L866.4 428.5 L866.2 427.8 L867.5 427.5Z" fill="#828282"/>
<path d="M861.6 434.5 L860.9 435 L859.5 435.7 L859.6 434.6 L860.1 433.1 L861.2 433.6Z" fill="#828282"/>
<path d="M856.6 432.1 L855.1 432.7 L854 432.1 L853.4 431.3 L853.9 431 L855.6 430Z" fill="#828282"/>
<path d="M863.4 451.3 L860.8 451.9 L858 452.3 L856.3 449.8 L860.2 449.2Z" fill="#828282"/>
<path d="M868.2 441.3 L867.5 442.1 L866.3 442.1 L866.8 441 L867.7 440.6Z" fill="#0e6a24"/>
<path d="M885.7 456.8 L882.4 459 L880.7 457.1 L882 454Z" fill="#0e6a24"/>
<path d="M882.3 459.7 L881.2 459.9 L879.4 459.7 L879.1 458.9 L880.9 458.2Z" fill="#828282"/>
<path d="M868.9 458.1 L868 459.7 L866.7 458.8 L865.2 459.1 L865.8 457.7 L866.1 456.4 L867.5 456.9Z" fill="#0e6a24"/>
<path d="M862.1 456.2 L860.1 457.3 L859.2 456.5 L859.8 455.3Z" fill="#0e6a24"/>
<path d="M859.9 433.3 L859.5 434.9 L857.2 435 L857.8 433 L858.8 432.9Z" fill="#828282"/>
<path d="M876.3 440.9 L874.6 442 L872 442.2 L870.7 439.9 L875.4 438.6Z" fill="#828282"/>
<path d="M887.7 458.3 L886.8 460.3 L885.1 459.4 L883.4 458.4 L884.1 458.2 L883.7 456.4 L886.3 457.3Z" fill="#0e6a24"/>
<path d="M851.3 443.8 L851.8 445 L848.9 445.6 L847.8 443.7 L849.1 442.4 L850.3 443Z" fill="#828282"/>
<path d="M848.2 427.3 L847 429.3 L842.7 430.1 L840.5 427.9 L841 425.3 L842.9 423.6 L845.8 425.3Z" fill="#828282"/>
<path d="M869.9 450.1 L869.7 451.4 L869.1 451.6 L868 451.2 L867.8 449.7 L868.5 449.7 L870 449Z" fill="#828282"/>
<path d="M844 436.1 L843.7 437.4 L842.1 436.7 L839.8 437.1 L840.1 434.7 L842.8 433 L844.2 433.7Z" fill="#828282"/>
<path d="M844.8 427.5 L844.2 428.9 L842 429.6 L838.9 427.3 L837.2 426.4 L840.6 424.5 L842.9 425.5Z" fill="#828282"/>
<path d="M879.4 453.5 L878.5 454.8 L876.9 453.8 L877.5 453.1 L878.3 452.4Z" fill="#0e6a24"/>
<path d="M897.3 461.9 L896.8 463.1 L893.5 463 L893.5 461.6 L893.9 460.8 L895.5 460.2Z" fill="#0e6a24"/>
<path d="M845.4 432.2 L843.8 435.2 L839.1 432.5 L842.5 431.2Z" fill="#0e6a24"/>
<path d="M862.4 430.5 L861 432.6 L857.3 431.2 L855.2 429.2 L859.6 428.7Z" fill="#0e6a24"/>
<path d="M854 445.2 L852.4 447.2 L850.3 446.3 L849.7 444.4 L852.2 443.6Z" fill="#0e6a24"/>
<path d="M845.5 433.5 L844.6 434.8 L843.8 435.4 L842.6 434.2 L842.1 433.1 L843.8 433.1 L845.3 433.2Z" fill="#828282"/>
<path d="M887 465.9 L885.5 468 L884 468 L883.8 464.1 L886.4 465.1Z" fill="#0e6a24"/>
<path d="M868.6 454.1 L867.4 454.9 L866.5 455.4 L866.3 454.2 L866.2 452.9 L867.8 453.2Z" fill="#828282"/>
<path d="M893.1 461.8 L892.2 463.5 L890.1 463.3 L889.9 461.9 L890.5 460.5 L892 461Z" fill="#828282"/>
<path d="M867.5 450 L865.5 452.8 L862.1 452.7 L861.2 449.8 L864.3 449.4Z" fill="#828282"/>
<path d="M868.2 446.5 L867.2 447.4 L864.6 447.3 L865.4 445.2 L867.3 443.9Z" fill="#0e6a24"/>
<path d="M878 456.3 L875.9 459.1 L872.8 457.7 L870.9 455.8 L875.8 454.5Z" fill="#0e6a24"/>
<path d="M846.8 438.7 L845.2 440.3 L843.6 439.6 L842.5 438.1 L843.4 436.6 L845.4 437.6Z" fill="#828282"/>
<path d="M878.4 460.2 L878.2 460.9 L876.9 461.6 L876.4 460.5 L876.5 459.2 L878.2 458.6Z" fill="#828282"/>
<path d="M849.2 427.1 L848.8 428.2 L847.6 428.1 L846.8 427.3 L847.3 426.5 L849.2 426.6Z" fill="#0e6a24"/>
<path d="M851.8 442.8 L851.6 443.4 L850.1 443.2 L850.2 442.5 L850 441.9 L851.3 442.3Z" fill="#828282"/>
<path d="M859.6 434.9 L859 435.8 L858 435.6 L857.2 434.6 L858.3 434.1 L858.8 434.2Z" fill="#828282"/>
<path d="M841.5 429.9 L839.4 431.7 L836.7 429.4 L839.5 427.8Z" fill="#828282"/>
</g>
<g stroke="#bababa" stroke-width="2">
<line x1="126.0" y1="149.8" x2="126.0" y2="704.5"/>
<line x1="190.5" y1="149.8" x2="190.5" y2="704.5"/>
<line x1="255.0" y1="149.8" x2="255.0" y2="704.5"/>
<line x1="319.5" y1="149.8" x2="319.5" y2="704.5"/>
<line x1="384.0" y1="149.8" x2="384.0" y2="704.5"/>
<line x1="448.5" y1="149.8" x2="448.5" y2="704.5"/>
<line x1="513.0" y1="149.8" x2="513.0" y2="704.5"/>
<line x1="577.5" y1="149.8" x2="577.5" y2="704.5"/>
<line x1="642.0" y1="149.8" x2="642.0" y2="704.5"/>
<line x1="706.5" y1="149.8" x2="706.5" y2="704.5"/>
<line x1="771.0" y1="149.8" x2="771.0" y2="704.5"/>
<line x1="835.5" y1="149.8" x2="835.5" y2="704.5"/>
<line x1="100.2" y1="640.0" x2="900" y2="640.0"/>
<line x1="100.2" y1="575.6" x2="900" y2="575.6"/>
<line x1="100.2" y1="511.1" x2="900" y2="511.1"/>
<line x1="100.2" y1="446.7" x2="900" y2="446.7"/>
<line x1="100.2" y1="382.2" x2="900" y2="382.2"/>
<line x1="100.2" y1="317.8" x2="900" y2="317.8"/>
<line x1="100.2" y1="253.3" x2="900" y2="253.3"/>
<line x1="100.2" y1="188.9" x2="900" y2="188.9"/>
</g>
<g stroke="#000" stroke-width="1.5" fill="#ffe600">
<path d="M533 219.5 L539 225.5 L533 231.5 L527 225.5 Z"/>
<path d="M815.75 163.25 L821.75 169.25 L815.75 175.25 L809.75 169.25 Z"/>
<path d="M726.25 281 L732.25 287 L726.25 293 L720.25 287 Z"/>
<path d="M652.5 437 L658.5 443 L652.5 449 L646.5 443 Z"/>
<path d="M758 474 L764 480 L758 486 L752 480 Z"/>
<path d="M833 459 L839 465 L833 471 L827 465 Z"/>
</g>
<circle cx="878.75" cy="185" r="5.5" fill="#fff" stroke="#000" stroke-width="1.5"/>
</g>
<rect x="100.2" y="149.8" width="799.8" height="554.7" fill="none" stroke="#000" stroke-width="3"/>
<g stroke="#000" stroke-width="1">
<line x1="100.2" y1="148.3" x2="100.2" y2="145.5"/>
<line x1="100.2" y1="706" x2="100.2" y2="708.8"/>
<line x1="106.7" y1="148.3" x2="106.7" y2="145.5"/>
<line x1="106.7" y1="706" x2="106.7" y2="708.8"/>
<line x1="113.1" y1="148.3" x2="113.1" y2="145.5"/>
<line x1="113.1" y1="706" x2="113.1" y2="708.8"/>
<line x1="119.6" y1="148.3" x2="119.6" y2="145.5"/>
<line x1="119.6" y1="706" x2="119.6" y2="708.8"/>
<line x1="126.0" y1="148.3" x2="126.0" y2="141.3"/>
<line x1="126.0" y1="706" x2="126.0" y2="713"/>
<line x1="132.5" y1="148.3" x2="132.5" y2="145.5"/>
<line x1="132.5" y1="706" x2="132.5" y2="708.8"/>
<line x1="138.9" y1="148.3" x2="138.9" y2="145.5"/>
<line x1="138.9" y1="706" x2="138.9" y2="708.8"/>
<line x1="145.4" y1="148.3" x2="145.4" y2="145.5"/>
<line x1="145.4" y1="706" x2="145.4" y2="708.8"/>
<line x1="151.8" y1="148.3" x2="151.8" y2="145.5"/>
<line x1="151.8" y1="706" x2="151.8" y2="708.8"/>
<line x1="158.2" y1="148.3" x2="158.2" y2="145.5"/>
<line x1="158.2" y1="706" x2="158.2" y2="708.8"/>
<line x1="164.7" y1="148.3" x2="164.7" y2="145.5"/>
<line x1="164.7" y1="706" x2="164.7" y2="708.8"/>
<line x1="171.2" y1="148.3" x2="171.2" y2="145.5"/>
<line x1="171.2" y1="706" x2="171.2" y2="708.8"/>
<line x1="177.6" y1="148.3" x2="177.6" y2="145.5"/>
<line x1="177.6" y1="706" x2="177.6" y2="708.8"/>
<line x1="184.1" y1="148.3" x2="184.1" y2="145.5"/>
<line x1="184.1" y1="706" x2="184.1" y2="708.8"/>
<line x1="190.5" y1="148.3" x2="190.5" y2="141.3"/>
<line x1="190.5" y1="706" x2="190.5" y2="713"/>
<line x1="197.0" y1="148.3" x2="197.0" y2="145.5"/>
<line x1="197.0" y1="706" x2="197.0" y2="708.8"/>
<line x1="203.4" y1="148.3" x2="203.4" y2="145.5"/>
<line x1="203.4" y1="706" x2="203.4" y2="708.8"/>
<line x1="209.9" y1="148.3" x2="209.9" y2="145.5"/>
<line x1="209.9" y1="706" x2="209.9" y2="708.8"/>
<line x1="216.3" y1="148.3" x2="216.3" y2="145.5"/>
<line x1="216.3" y1="706" x2="216.3" y2="708.8"/>
<line x1="222.8" y1="148.3" x2="222.8" y2="145.5"/>
<line x1="222.8" y1="706" x2="222.8" y2="708.8"/>
<line x1="229.2" y1="148.3" x2="229.2" y2="145.5"/>
<line x1="229.2" y1="706" x2="229.2" y2="708.8"/>
<line x1="235.7" y1="148.3" x2="235.7" y2="145.5"/>
<line x1="235.7" y1="706" x2="235.7" y2="708.8"/>
<line x1="242.1" y1="148.3" x2="242.1" y2="145.5"/>
<line x1="242.1" y1="706" x2="242.1" y2="708.8"/>
<line x1="248.6" y1="148.3" x2="248.6" y2="145.5"/>
<line x1="248.6" y1="706" x2="248.6" y2="708.8"/>
<line x1="255.0" y1="148.3" x2="255.0" y2="141.3"/>
<line x1="255.0" y1="706" x2="255.0" y2="713"/>
<line x1="261.5" y1="148.3" x2="261.5" y2="145.5"/>
<line x1="261.5" y1="706" x2="261.5" y2="708.8"/>
<line x1="267.9" y1="148.3" x2="267.9" y2="145.5"/>
<line x1="267.9" y1="706" x2="267.9" y2="708.8"/>
<line x1="274.4" y1="148.3" x2="274.4" y2="145.5"/>
<line x1="274.4" y1="706" x2="274.4" y2="708.8"/>
<line x1="280.8" y1="148.3" x2="280.8" y2="145.5"/>
<line x1="280.8" y1="706" x2="280.8" y2="708.8"/>
<line x1="287.2" y1="148.3" x2="287.2" y2="145.5"/>
<line x1="287.2" y1="706" x2="287.2" y2="708.8"/>
<line x1="293.7" y1="148.3" x2="293.7" y2="145.5"/>
<line x1="293.7" y1="706" x2="293.7" y2="708.8"/>
<line x1="300.2" y1="148.3" x2="300.2" y2="145.5"/>
<line x1="300.2" y1="706" x2="300.2" y2="708.8"/>
<line x1="306.6" y1="148.3" x2="306.6" y2="145.5"/>
<line x1="306.6" y1="706" x2="306.6" y2="708.8"/>
<line x1="313.1" y1="148.3" x2="313.1" y2="145.5"/>
<line x1="313.1" y1="706" x2="313.1" y2="708.8"/>
<line x1="319.5" y1="148.3" x2="319.5" y2="141.3"/>
<line x1="319.5" y1="706" x2="319.5" y2="713"/>
<line x1="326.0" y1="148.3" x2="326.0" y2="145.5"/>
<line x1="326.0" y1="706" x2="326.0" y2="708.8"/>
<line x1="332.4" y1="148.3" x2="332.4" y2="145.5"/>
<line x1="332.4" y1="706" x2="332.4" y2="708.8"/>
<line x1="338.9" y1="148.3" x2="338.9" y2="145.5"/>
<line x1="338.9" y1="706" x2="338.9" y2="708.8"/>
<line x1="345.3" y1="148.3" x2="345.3" y2="145.5"/>
<line x1="345.3" y1="706" x2="345.3" y2="708.8"/>
<line x1="351.8" y1="148.3" x2="351.8" y2="145.5"/>
<line x1="351.8" y1="706" x2="351.8" y2="708.8"/>
<line x1="358.2" y1="148.3" x2="358.2" y2="145.5"/>
<line x1="358.2" y1="706" x2="358.2" y2="708.8"/>
<line x1="364.7" y1="148.3" x2="364.7" y2="145.5"/>
<line x1="364.7" y1="706" x2="364.7" y2="708.8"/>
<line x1="371.1" y1="148.3" x2="371.1" y2="145.5"/>
<line x1="371.1" y1="706" x2="371.1" y2="708.8"/>
<line x1="377.6" y1="148.3" x2="377.6" y2="145.5"/>
<line x1="377.6" y1="706" x2="377.6" y2="708.8"/>
<line x1="384.0" y1="148.3" x2="384.0" y2="141.3"/>
<line x1="384.0" y1="706" x2="384.0" y2="713"/>
<line x1="390.5" y1="148.3" x2="390.5" y2="145.5"/>
<line x1="390.5" y1="706" x2="390.5" y2="708.8"/>
<line x1="396.9" y1="148.3" x2="396.9" y2="145.5"/>
<line x1="396.9" y1="706" x2="396.9" y2="708.8"/>
<line x1="403.4" y1="148.3" x2="403.4" y2="145.5"/>
<line x1="403.4" y1="706" x2="403.4" y2="708.8"/>
<line x1="409.8" y1="148.3" x2="409.8" y2="145.5"/>
<line x1="409.8" y1="706" x2="409.8" y2="708.8"/>
<line x1="416.2" y1="148.3" x2="416.2" y2="145.5"/>
<line x1="416.2" y1="706" x2="416.2" y2="708.8"/>
<line x1="422.7" y1="148.3" x2="422.7" y2="145.5"/>
<line x1="422.7" y1="706" x2="422.7" y2="708.8"/>
<line x1="429.2" y1="148.3" x2="429.2" y2="145.5"/>
<line x1="429.2" y1="706" x2="429.2" y2="708.8"/>
<line x1="435.6" y1="148.3" x2="435.6" y2="145.5"/>
<line x1="435.6" y1="706" x2="435.6" y2="708.8"/>
<line x1="442.1" y1="148.3" x2="442.1" y2="145.5"/>
<line x1="442.1" y1="706" x2="442.1" y2="708.8"/>
<line x1="448.5" y1="148.3" x2="448.5" y2="141.3"/>
<line x1="448.5" y1="706" x2="448.5" y2="713"/>
<line x1="455.0" y1="148.3" x2="455.0" y2="145.5"/>
<line x1="455.0" y1="706" x2="455.0" y2="708.8"/>
<line x1="461.4" y1="148.3" x2="461.4" y2="145.5"/>
<line x1="461.4" y1="706" x2="461.4" y2="708.8"/>
<line x1="467.9" y1="148.3" x2="467.9" y2="145.5"/>
<line x1="467.9" y1="706" x2="467.9" y2="708.8"/>
<line x1="474.3" y1="148.3" x2="474.3" y2="145.5"/>
<line x1="474.3" y1="706" x2="474.3" y2="708.8"/>
<line x1="480.8" y1="148.3" x2="480.8" y2="145.5"/>
<line x1="480.8" y1="706" x2="480.8" y2="708.8"/>
<line x1="487.2" y1="148.3" x2="487.2" y2="145.5"/>
<line x1="487.2" y1="706" x2="487.2" y2="708.8"/>
<line x1="493.7" y1="148.3" x2="493.7" y2="145.5"/>
<line x1="493.7" y1="706" x2="493.7" y2="708.8"/>
<line x1="500.1" y1="148.3" x2="500.1" y2="145.5"/>
<line x1="500.1" y1="706" x2="500.1" y2="708.8"/>
<line x1="506.6" y1="148.3" x2="506.6" y2="145.5"/>
<line x1="506.6" y1="706" x2="506.6" y2="708.8"/>
<line x1="513.0" y1="148.3" x2="513.0" y2="141.3"/>
<line x1="513.0" y1="706" x2="513.0" y2="713"/>
<line x1="519.5" y1="148.3" x2="519.5" y2="145.5"/>
<line x1="519.5" y1="706" x2="519.5" y2="708.8"/>
<line x1="525.9" y1="148.3" x2="525.9" y2="145.5"/>
<line x1="525.9" y1="706" x2="525.9" y2="708.8"/>
<line x1="532.4" y1="148.3" x2="532.4" y2="145.5"/>
<line x1="532.4" y1="706" x2="532.4" y2="708.8"/>
<line x1="538.8" y1="148.3" x2="538.8" y2="145.5"/>
<line x1="538.8" y1="706" x2="538.8" y2="708.8"/>
<line x1="545.2" y1="148.3" x2="545.2" y2="145.5"/>
<line x1="545.2" y1="706" x2="545.2" y2="708.8"/>
<line x1="551.7" y1="148.3" x2="551.7" y2="145.5"/>
<line x1="551.7" y1="706" x2="551.7" y2="708.8"/>
<line x1="558.2" y1="148.3" x2="558.2" y2="145.5"/>
<line x1="558.2" y1="706" x2="558.2" y2="708.8"/>
<line x1="564.6" y1="148.3" x2="564.6" y2="145.5"/>
<line x1="564.6" y1="706" x2="564.6" y2="708.8"/>
<line x1="571.1" y1="148.3" x2="571.1" y2="145.5"/>
<line x1="571.1" y1="706" x2="571.1" y2="708.8"/>
<line x1="577.5" y1="148.3" x2="577.5" y2="141.3"/>
<line x1="577.5" y1="706" x2="577.5" y2="713"/>
<line x1="584.0" y1="148.3" x2="584.0" y2="145.5"/>
<line x1="584.0" y1="706" x2="584.0" y2="708.8"/>
<line x1="590.4" y1="148.3" x2="590.4" y2="145.5"/>
<line x1="590.4" y1="706" x2="590.4" y2="708.8"/>
<line x1="596.9" y1="148.3" x2="596.9" y2="145.5"/>
<line x1="596.9" y1="706" x2="596.9" y2="708.8"/>
<line x1="603.3" y1="148.3" x2="603.3" y2="145.5"/>
<line x1="603.3" y1="706" x2="603.3" y2="708.8"/>
<line x1="609.8" y1="148.3" x2="609.8" y2="145.5"/>
<line x1="609.8" y1="706" x2="609.8" y2="708.8"/>
<line x1="616.2" y1="148.3" x2="616.2" y2="145.5"/>
<line x1="616.2" y1="706" x2="616.2" y2="708.8"/>
<line x1="622.7" y1="148.3" x2="622.7" y2="145.5"/>
<line x1="622.7" y1="706" x2="622.7" y2="708.8"/>
<line x1="629.1" y1="148.3" x2="629.1" y2="145.5"/>
<line x1="629.1" y1="706" x2="629.1" y2="708.8"/>
<line x1="635.6" y1="148.3" x2="635.6" y2="145.5"/>
<line x1="635.6" y1="706" x2="635.6" y2="708.8"/>
<line x1="642.0" y1="148.3" x2="642.0" y2="141.3"/>
<line x1="642.0" y1="706" x2="642.0" y2="713"/>
<line x1="648.5" y1="148.3" x2="648.5" y2="145.5"/>
<line x1="648.5" y1="706" x2="648.5" y2="708.8"/>
<line x1="654.9" y1="148.3" x2="654.9" y2="145.5"/>
<line x1="654.9" y1="706" x2="654.9" y2="708.8"/>
<line x1="661.4" y1="148.3" x2="661.4" y2="145.5"/>
<line x1="661.4" y1="706" x2="661.4" y2="708.8"/>
<line x1="667.8" y1="148.3" x2="667.8" y2="145.5"/>
<line x1="667.8" y1="706" x2="667.8" y2="708.8"/>
<line x1="674.2" y1="148.3" x2="674.2" y2="145.5"/>
<line x1="674.2" y1="706" x2="674.2" y2="708.8"/>
<line x1="680.7" y1="148.3" x2="680.7" y2="145.5"/>
<line x1="680.7" y1="706" x2="680.7" y2="708.8"/>
<line x1="687.2" y1="148.3" x2="687.2" y2="145.5"/>
<line x1="687.2" y1="706" x2="687.2" y2="708.8"/>
<line x1="693.6" y1="148.3" x2="693.6" y2="145.5"/>
<line x1="693.6" y1="706" x2="693.6" y2="708.8"/>
<line x1="700.1" y1="148.3" x2="700.1" y2="145.5"/>
<line x1="700.1" y1="706" x2="700.1" y2="708.8"/>
<line x1="706.5" y1="148.3" x2="706.5" y2="141.3"/>
<line x1="706.5" y1="706" x2="706.5" y2="713"/>
<line x1="713.0" y1="148.3" x2="713.0" y2="145.5"/>
<line x1="713.0" y1="706" x2="713.0" y2="708.8"/>
<line x1="719.4" y1="148.3" x2="719.4" y2="145.5"/>
<line x1="719.4" y1="706" x2="719.4" y2="708.8"/>
<line x1="725.9" y1="148.3" x2="725.9" y2="145.5"/>
<line x1="725.9" y1="706" x2="725.9" y2="708.8"/>
<line x1="732.3" y1="148.3" x2="732.3" y2="145.5"/>
<line x1="732.3" y1="706" x2="732.3" y2="708.8"/>
<line x1="738.8" y1="148.3" x2="738.8" y2="145.5"/>
<line x1="738.8" y1="706" x2="738.8" y2="708.8"/>
<line x1="745.2" y1="148.3" x2="745.2" y2="145.5"/>
<line x1="745.2" y1="706" x2="745.2" y2="708.8"/>
<line x1="751.7" y1="148.3" x2="751.7" y2="145.5"/>
<line x1="751.7" y1="706" x2="751.7" y2="708.8"/>
<line x1="758.1" y1="148.3" x2="758.1" y2="145.5"/>
<line x1="758.1" y1="706" x2="758.1" y2="708.8"/>
<line x1="764.6" y1="148.3" x2="764.6" y2="145.5"/>
<line x1="764.6" y1="706" x2="764.6" y2="708.8"/>
<line x1="771.0" y1="148.3" x2="771.0" y2="141.3"/>
<line x1="771.0" y1="706" x2="771.0" y2="713"/>
<line x1="777.5" y1="148.3" x2="777.5" y2="145.5"/>
<line x1="777.5" y1="706" x2="777.5" y2="708.8"/>
<line x1="783.9" y1="148.3" x2="783.9" y2="145.5"/>
<line x1="783.9" y1="706" x2="783.9" y2="708.8"/>
<line x1="790.4" y1="148.3" x2="790.4" y2="145.5"/>
<line x1="790.4" y1="706" x2="790.4" y2="708.8"/>
<line x1="796.8" y1="148.3" x2="796.8" y2="145.5"/>
<line x1="796.8" y1="706" x2="796.8" y2="708.8"/>
<line x1="803.2" y1="148.3" x2="803.2" y2="145.5"/>
<line x1="803.2" y1="706" x2="803.2" y2="708.8"/>
<line x1="809.7" y1="148.3" x2="809.7" y2="145.5"/>
<line x1="809.7" y1="706" x2="809.7" y2="708.8"/>
<line x1="816.2" y1="148.3" x2="816.2" y2="145.5"/>
<line x1="816.2" y1="706" x2="816.2" y2="708.8"/>
<line x1="822.6" y1="148.3" x2="822.6" y2="145.5"/>
<line x1="822.6" y1="706" x2="822.6" y2="708.8"/>
<line x1="829.1" y1="148.3" x2="829.1" y2="145.5"/>
<line x1="829.1" y1="706" x2="829.1" y2="708.8"/>
<line x1="835.5" y1="148.3" x2="835.5" y2="141.3"/>
<line x1="835.5" y1="706" x2="835.5" y2="713"/>
<line x1="842.0" y1="148.3" x2="842.0" y2="145.5"/>
<line x1="842.0" y1="706" x2="842.0" y2="708.8"/>
<line x1="848.4" y1="148.3" x2="848.4" y2="145.5"/>
<line x1="848.4" y1="706" x2="848.4" y2="708.8"/>
<line x1="854.9" y1="148.3" x2="854.9" y2="145.5"/>
<line x1="854.9" y1="706" x2="854.9" y2="708.8"/>
<line x1="861.3" y1="148.3" x2="861.3" y2="145.5"/>
<line x1="861.3" y1="706" x2="861.3" y2="708.8"/>
<line x1="867.8" y1="148.3" x2="867.8" y2="145.5"/>
<line x1="867.8" y1="706" x2="867.8" y2="708.8"/>
<line x1="874.2" y1="148.3" x2="874.2" y2="145.5"/>
<line x1="874.2" y1="706" x2="874.2" y2="708.8"/>
<line x1="880.7" y1="148.3" x2="880.7" y2="145.5"/>
<line x1="880.7" y1="706" x2="880.7" y2="708.8"/>
<line x1="887.1" y1="148.3" x2="887.1" y2="145.5"/>
<line x1="887.1" y1="706" x2="887.1" y2="708.8"/>
<line x1="893.6" y1="148.3" x2="893.6" y2="145.5"/>
<line x1="893.6" y1="706" x2="893.6" y2="708.8"/>
<line x1="900.0" y1="148.3" x2="900.0" y2="141.3"/>
<line x1="900.0" y1="706" x2="900.0" y2="713"/>
<line x1="98.7" y1="704.5" x2="91.7" y2="704.5"/>
<line x1="901.5" y1="704.5" x2="908.5" y2="704.5"/>
<line x1="98.7" y1="698.1" x2="95.9" y2="698.1"/>
<line x1="901.5" y1="698.1" x2="904.3" y2="698.1"/>
<line x1="98.7" y1="691.6" x2="95.9" y2="691.6"/>
<line x1="901.5" y1="691.6" x2="904.3" y2="691.6"/>
<line x1="98.7" y1="685.2" x2="95.9" y2="685.2"/>
<line x1="901.5" y1="685.2" x2="904.3" y2="685.2"/>
<line x1="98.7" y1="678.7" x2="95.9" y2="678.7"/>
<line x1="901.5" y1="678.7" x2="904.3" y2="678.7"/>
<line x1="98.7" y1="672.3" x2="95.9" y2="672.3"/>
<line x1="901.5" y1="672.3" x2="904.3" y2="672.3"/>
<line x1="98.7" y1="665.8" x2="95.9" y2="665.8"/>
<line x1="901.5" y1="665.8" x2="904.3" y2="665.8"/>
<line x1="98.7" y1="659.4" x2="95.9" y2="659.4"/>
<line x1="901.5" y1="659.4" x2="904.3" y2="659.4"/>
<line x1="98.7" y1="652.9" x2="95.9" y2="652.9"/>
<line x1="901.5" y1="652.9" x2="904.3" y2="652.9"/>
<line x1="98.7" y1="646.5" x2="95.9" y2="646.5"/>
<line x1="901.5" y1="646.5" x2="904.3" y2="646.5"/>
<line x1="98.7" y1="640.0" x2="91.7" y2="640.0"/>
<line x1="901.5" y1="640.0" x2="908.5" y2="640.0"/>
<line x1="98.7" y1="633.6" x2="95.9" y2="633.6"/>
<line x1="901.5" y1="633.6" x2="904.3" y2="633.6"/>
<line x1="98.7" y1="627.2" x2="95.9" y2="627.2"/>
<line x1="901.5" y1="627.2" x2="904.3" y2="627.2"/>
<line x1="98.7" y1="620.7" x2="95.9" y2="620.7"/>
<line x1="901.5" y1="620.7" x2="904.3" y2="620.7"/>
<line x1="98.7" y1="614.3" x2="95.9" y2="614.3"/>
<line x1="901.5" y1="614.3" x2="904.3" y2="614.3"/>
<line x1="98.7" y1="607.8" x2="95.9" y2="607.8"/>
<line x1="901.5" y1="607.8" x2="904.3" y2="607.8"/>
<line x1="98.7" y1="601.4" x2="95.9" y2="601.4"/>
<line x1="901.5" y1="601.4" x2="904.3" y2="601.4"/>
<line x1="98.7" y1="594.9" x2="95.9" y2="594.9"/>
<line x1="901.5" y1="594.9" x2="904.3" y2="594.9"/>
<line x1="98.7" y1="588.5" x2="95.9" y2="588.5"/>
<line x1="901.5" y1="588.5" x2="904.3" y2="588.5"/>
<line x1="98.7" y1="582.0" x2="95.9" y2="582.0"/>
<line x1="901.5" y1="582.0" x2="904.3" y2="582.0"/>
<line x1="98.7" y1="575.6" x2="91.7" y2="575.6"/>
<line x1="901.5" y1="575.6" x2="908.5" y2="575.6"/>
<line x1="98.7" y1="569.2" x2="95.9" y2="569.2"/>
<line x1="901.5" y1="569.2" x2="904.3" y2="569.2"/>
<line x1="98.7" y1="562.7" x2="95.9" y2="562.7"/>
<line x1="901.5" y1="562.7" x2="904.3" y2="562.7"/>
<line x1="98.7" y1="556.3" x2="95.9" y2="556.3"/>
<line x1="901.5" y1="556.3" x2="904.3" y2="556.3"/>
<line x1="98.7" y1="549.8" x2="95.9" y2="549.8"/>
<line x1="901.5" y1="549.8" x2="904.3" y2="549.8"/>
<line x1="98.7" y1="543.4" x2="95.9" y2="543.4"/>
<line x1="901.5" y1="543.4" x2="904.3" y2="543.4"/>
<line x1="98.7" y1="536.9" x2="95.9" y2="536.9"/>
<line x1="901.5" y1="536.9" x2="904.3" y2="536.9"/>
<line x1="98.7" y1="530.5" x2="95.9" y2="530.5"/>
<line x1="901.5" y1="530.5" x2="904.3" y2="530.5"/>
<line x1="98.7" y1="524.0" x2="95.9" y2="524.0"/>
<line x1="901.5" y1="524.0" x2="904.3" y2="524.0"/>
<line x1="98.7" y1="517.6" x2="95.9" y2="517.6"/>
<line x1="901.5" y1="517.6" x2="904.3" y2="517.6"/>
<line x1="98.7" y1="511.1" x2="91.7" y2="511.1"/>
<line x1="901.5" y1="511.1" x2="908.5" y2="511.1"/>
<line x1="98.7" y1="504.7" x2="95.9" y2="504.7"/>
<line x1="901.5" y1="504.7" x2="904.3" y2="504.7"/>
<line x1="98.7" y1="498.3" x2="95.9" y2="498.3"/>
<line x1="901.5" y1="498.3" x2="904.3" y2="498.3"/>
<line x1="98.7" y1="491.8" x2="95.9" y2="491.8"/>
<line x1="901.5" y1="491.8" x2="904.3" y2="491.8"/>
<line x1="98.7" y1="485.4" x2="95.9" y2="485.4"/>
<line x1="901.5" y1="485.4" x2="904.3" y2="485.4"/>
<line x1="98.7" y1="478.9" x2="95.9" y2="478.9"/>
<line x1="901.5" y1="478.9" x2="904.3" y2="478.9"/>
<line x1="98.7" y1="472.5" x2="95.9" y2="472.5"/>
<line x1="901.5" y1="472.5" x2="904.3" y2="472.5"/>
<line x1="98.7" y1="466.0" x2="95.9" y2="466.0"/>
<line x1="901.5" y1="466.0" x2="904.3" y2="466.0"/>
<line x1="98.7" y1="459.6" x2="95.9" y2="459.6"/>
<line x1="901.5" y1="459.6" x2="904.3" y2="459.6"/>
<line x1="98.7" y1="453.1" x2="95.9" y2="453.1"/>
<line x1="901.5" y1="453.1" x2="904.3" y2="453.1"/>
<line x1="98.7" y1="446.7" x2="91.7" y2="446.7"/>
<line x1="901.5" y1="446.7" x2="908.5" y2="446.7"/>
<line x1="98.7" y1="440.3" x2="95.9" y2="440.3"/>
<line x1="901.5" y1="440.3" x2="904.3" y2="440.3"/>
<line x1="98.7" y1="433.8" x2="95.9" y2="433.8"/>
<line x1="901.5" y1="433.8" x2="904.3" y2="433.8"/>
<line x1="98.7" y1="427.4" x2="95.9" y2="427.4"/>
<line x1="901.5" y1="427.4" x2="904.3" y2="427.4"/>
<line x1="98.7" y1="420.9" x2="95.9" y2="420.9"/>
<line x1="901.5" y1="420.9" x2="904.3" y2="420.9"/>
<line x1="98.7" y1="414.5" x2="95.9" y2="414.5"/>
<line x1="901.5" y1="414.5" x2="904.3" y2="414.5"/>
<line x1="98.7" y1="408.0" x2="95.9" y2="408.0"/>
<line x1="901.5" y1="408.0" x2="904.3" y2="408.0"/>
<line x1="98.7" y1="401.6" x2="95.9" y2="401.6"/>
<line x1="901.5" y1="401.6" x2="904.3" y2="401.6"/>
<line x1="98.7" y1="395.1" x2="95.9" y2="395.1"/>
<line x1="901.5" y1="395.1" x2="904.3" y2="395.1"/>
<line x1="98.7" y1="388.7" x2="95.9" y2="388.7"/>
<line x1="901.5" y1="388.7" x2="904.3" y2="388.7"/>
<line x1="98.7" y1="382.2" x2="91.7" y2="382.2"/>
<line x1="901.5" y1="382.2" x2="908.5" y2="382.2"/>
<line x1="98.7" y1="375.8" x2="95.9" y2="375.8"/>
<line x1="901.5" y1="375.8" x2="904.3" y2="375.8"/>
<line x1="98.7" y1="369.4" x2="95.9" y2="369.4"/>
<line x1="901.5" y1="369.4" x2="904.3" y2="369.4"/>
<line x1="98.7" y1="362.9" x2="95.9" y2="362.9"/>
<line x1="901.5" y1="362.9" x2="904.3" y2="362.9"/>
<line x1="98.7" y1="356.5" x2="95.9" y2="356.5"/>
<line x1="901.5" y1="356.5" x2="904.3" y2="356.5"/>
<line x1="98.7" y1="350.0" x2="95.9" y2="350.0"/>
<line x1="901.5" y1="350.0" x2="904.3" y2="350.0"/>
<line x1="98.7" y1="343.6" x2="95.9" y2="343.6"/>
<line x1="901.5" y1="343.6" x2="904.3" y2="343.6"/>
<line x1="98.7" y1="337.1" x2="95.9" y2="337.1"/>
<line x1="901.5" y1="337.1" x2="904.3" y2="337.1"/>
<line x1="98.7" y1="330.7" x2="95.9" y2="330.7"/>
<line x1="901.5" y1="330.7" x2="904.3" y2="330.7"/>
<line x1="98.7" y1="324.2" x2="95.9" y2="324.2"/>
<line x1="901.5" y1="324.2" x2="904.3" y2="324.2"/>
<line x1="98.7" y1="317.8" x2="91.7" y2="317.8"/>
<line x1="901.5" y1="317.8" x2="908.5" y2="317.8"/>
<line x1="98.7" y1="311.4" x2="95.9" y2="311.4"/>
<line x1="901.5" y1="311.4" x2="904.3" y2="311.4"/>
<line x1="98.7" y1="304.9" x2="95.9" y2="304.9"/>
<line x1="901.5" y1="304.9" x2="904.3" y2="304.9"/>
<line x1="98.7" y1="298.5" x2="95.9" y2="298.5"/>
<line x1="901.5" y1="298.5" x2="904.3" y2="298.5"/>
<line x1="98.7" y1="292.0" x2="95.9" y2="292.0"/>
<line x1="901.5" y1="292.0" x2="904.3" y2="292.0"/>
<line x1="98.7" y1="285.6" x2="95.9" y2="285.6"/>
<line x1="901.5" y1="285.6" x2="904.3" y2="285.6"/>
<line x1="98.7" y1="279.1" x2="95.9" y2="279.1"/>
<line x1="901.5" y1="279.1" x2="904.3" y2="279.1"/>
<line x1="98.7" y1="272.7" x2="95.9" y2="272.7"/>
<line x1="901.5" y1="272.7" x2="904.3" y2="272.7"/>
<line x1="98.7" y1="266.2" x2="95.9" y2="266.2"/>
<line x1="901.5" y1="266.2" x2="904.3" y2="266.2"/>
<line x1="98.7" y1="259.8" x2="95.9" y2="259.8"/>
<line x1="901.5" y1="259.8" x2="904.3" y2="259.8"/>
<line x1="98.7" y1="253.3" x2="91.7" y2="253.3"/>
<line x1="901.5" y1="253.3" x2="908.5" y2="253.3"/>
<line x1="98.7" y1="246.9" x2="95.9" y2="246.9"/>
<line x1="901.5" y1="246.9" x2="904.3" y2="246.9"/>
<line x1="98.7" y1="240.5" x2="95.9" y2="240.5"/>
<line x1="901.5" y1="240.5" x2="904.3" y2="240.5"/>
<line x1="98.7" y1="234.0" x2="95.9" y2="234.0"/>
<line x1="901.5" y1="234.0" x2="904.3" y2="234.0"/>
<line x1="98.7" y1="227.6" x2="95.9" y2="227.6"/>
<line x1="901.5" y1="227.6" x2="904.3" y2="227.6"/>
<line x1="98.7" y1="221.1" x2="95.9" y2="221.1"/>
<line x1="901.5" y1="221.1" x2="904.3" y2="221.1"/>
<line x1="98.7" y1="214.7" x2="95.9" y2="214.7"/>
<line x1="901.5" y1="214.7" x2="904.3" y2="214.7"/>
<line x1="98.7" y1="208.2" x2="95.9" y2="208.2"/>
<line x1="901.5" y1="208.2" x2="904.3" y2="208.2"/>
<line x1="98.7" y1="201.8" x2="95.9" y2="201.8"/>
<line x1="901.5" y1="201.8" x2="904.3" y2="201.8"/>
<line x1="98.7" y1="195.3" x2="95.9" y2="195.3"/>
<line x1="901.5" y1="195.3" x2="904.3" y2="195.3"/>
<line x1="98.7" y1="188.9" x2="91.7" y2="188.9"/>
<line x1="901.5" y1="188.9" x2="908.5" y2="188.9"/>
<line x1="98.7" y1="182.5" x2="95.9" y2="182.5"/>
<line x1="901.5" y1="182.5" x2="904.3" y2="182.5"/>
<line x1="98.7" y1="176.0" x2="95.9" y2="176.0"/>
<line x1="901.5" y1="176.0" x2="904.3" y2="176.0"/>
<line x1="98.7" y1="169.6" x2="95.9" y2="169.6"/>
<line x1="901.5" y1="169.6" x2="904.3" y2="169.6"/>
<line x1="98.7" y1="163.1" x2="95.9" y2="163.1"/>
<line x1="901.5" y1="163.1" x2="904.3" y2="163.1"/>
<line x1="98.7" y1="156.7" x2="95.9" y2="156.7"/>
<line x1="901.5" y1="156.7" x2="904.3" y2="156.7"/>
<line x1="98.7" y1="150.2" x2="95.9" y2="150.2"/>
<line x1="901.5" y1="150.2" x2="904.3" y2="150.2"/>
</g>
<g class="sans" font-size="10.4" fill="#000">
<text x="107.1" y="134.8" textLength="40.2" lengthAdjust="spacing">−92°00'</text>
<text x="107.1" y="728" textLength="40.2" lengthAdjust="spacing">−92°00'</text>
<text x="171.6" y="134.8" textLength="40.2" lengthAdjust="spacing">−91°45'</text>
<text x="171.6" y="728" textLength="40.2" lengthAdjust="spacing">−91°45'</text>
<text x="236.1" y="134.8" textLength="40.2" lengthAdjust="spacing">−91°30'</text>
<text x="236.1" y="728" textLength="40.2" lengthAdjust="spacing">−91°30'</text>
<text x="300.6" y="134.8" textLength="40.2" lengthAdjust="spacing">−91°15'</text>
<text x="300.6" y="728" textLength="40.2" lengthAdjust="spacing">−91°15'</text>
<text x="365.1" y="134.8" textLength="40.2" lengthAdjust="spacing">−91°00'</text>
<text x="365.1" y="728" textLength="40.2" lengthAdjust="spacing">−91°00'</text>
<text x="429.6" y="134.8" textLength="40.2" lengthAdjust="spacing">−90°45'</text>
<text x="429.6" y="728" textLength="40.2" lengthAdjust="spacing">−90°45'</text>
<text x="494.1" y="134.8" textLength="40.2" lengthAdjust="spacing">−90°30'</text>
<text x="494.1" y="728" textLength="40.2" lengthAdjust="spacing">−90°30'</text>
<text x="558.6" y="134.8" textLength="40.2" lengthAdjust="spacing">−90°15'</text>
<text x="558.6" y="728" textLength="40.2" lengthAdjust="spacing">−90°15'</text>
<text x="623.1" y="134.8" textLength="40.2" lengthAdjust="spacing">−90°00'</text>
<text x="623.1" y="728" textLength="40.2" lengthAdjust="spacing">−90°00'</text>
<text x="687.6" y="134.8" textLength="40.2" lengthAdjust="spacing">−89°45'</text>
<text x="687.6" y="728" textLength="40.2" lengthAdjust="spacing">−89°45'</text>
<text x="752.1" y="134.8" textLength="40.2" lengthAdjust="spacing">−89°30'</text>
<text x="752.1" y="728" textLength="40.2" lengthAdjust="spacing">−89°30'</text>
<text x="816.6" y="134.8" textLength="40.2" lengthAdjust="spacing">−89°15'</text>
<text x="816.6" y="728" textLength="40.2" lengthAdjust="spacing">−89°15'</text>
<text x="881.1" y="134.8" textLength="40.2" lengthAdjust="spacing">−89°00'</text>
<text x="881.1" y="728" textLength="40.2" lengthAdjust="spacing">−89°00'</text>
<text x="53.6" y="708.6" textLength="31.8" lengthAdjust="spacing">28°15'</text>
<text x="914.8" y="708.6" textLength="31.8" lengthAdjust="spacing">28°15'</text>
<text x="53.6" y="644.1" textLength="31.8" lengthAdjust="spacing">28°30'</text>
<text x="914.8" y="644.1" textLength="31.8" lengthAdjust="spacing">28°30'</text>
<text x="53.6" y="579.7" textLength="31.8" lengthAdjust="spacing">28°45'</text>
<text x="914.8" y="579.7" textLength="31.8" lengthAdjust="spacing">28°45'</text>
<text x="53.6" y="515.2" textLength="31.8" lengthAdjust="spacing">29°00'</text>
<text x="914.8" y="515.2" textLength="31.8" lengthAdjust="spacing">29°00'</text>
<text x="53.6" y="450.8" textLength="31.8" lengthAdjust="spacing">29°15'</text>
<text x="914.8" y="450.8" textLength="31.8" lengthAdjust="spacing">29°15'</text>
<text x="53.6" y="386.4" textLength="31.8" lengthAdjust="spacing">29°30'</text>
<text x="914.8" y="386.4" textLength="31.8" lengthAdjust="spacing">29°30'</text>
<text x="53.6" y="321.9" textLength="31.8" lengthAdjust="spacing">29°45'</text>
<text x="914.8" y="321.9" textLength="31.8" lengthAdjust="spacing">29°45'</text>
<text x="53.6" y="257.4" textLength="31.8" lengthAdjust="spacing">30°00'</text>
<text x="914.8" y="257.4" textLength="31.8" lengthAdjust="spacing">30°00'</text>
<text x="53.6" y="193.0" textLength="31.8" lengthAdjust="spacing">30°15'</text>
<text x="914.8" y="193.0" textLength="31.8" lengthAdjust="spacing">30°15'</text>
</g>
<!-- headers -->
<text class="sans" x="271.5" y="29.8" font-size="19.2" font-weight="bold" textLength="456.5" lengthAdjust="spacing">Mississippi River Outflow Ocean Cube (AMSEAS)</text>
<text class="sans" x="271.5" y="799.6" font-size="19.2" font-weight="bold" textLength="456.5" lengthAdjust="spacing">Mississippi River Outflow Ocean Cube (AMSEAS)</text>
<circle cx="120.5" cy="45" r="5.5" fill="#fff" stroke="#000" stroke-width="1.8"/>
<path d="M119.6 54 L125.6 60 L119.6 66 L113.6 60 Z" fill="#ffe600" stroke="#000" stroke-width="1.5"/>
<text class="sans" x="129.6" y="49.9" font-size="13.4" font-weight="bold" textLength="139.6" lengthAdjust="spacing">USM Instrumentation</text>
<text class="sans" x="129.6" y="64.6" font-size="13.4" font-weight="bold" textLength="91.6" lengthAdjust="spacing">NDBC Station</text>
<rect x="699" y="40" width="196" height="40" fill="#fff" stroke="#000" stroke-width="2"/>
<g class="sans" font-size="10.6" font-weight="bold">
<text x="703.6" y="54.4" textLength="46" lengthAdjust="spacing">1.00 kts</text>
<text x="703.6" y="64.4" textLength="46" lengthAdjust="spacing">2.00 kts</text>
<text x="703.6" y="74.4" textLength="46" lengthAdjust="spacing">3.00 kts</text>
</g>
<g stroke="#000" stroke-width="1">
<line x1="843" y1="50.2" x2="880" y2="50.2"/><line x1="801" y1="60.2" x2="880" y2="60.2"/><line x1="759" y1="70.2" x2="880" y2="70.2"/>
</g>
<g fill="#000">
<path d="M878 45.5 L893 50 L878 54.5Z"/><path d="M878 55.5 L893 60 L878 64.5Z"/><path d="M878 65.5 L893 70 L878 74.5Z"/>
</g>
<text class="sans" x="698.8" y="93.6" font-size="10" font-weight="bold" textLength="106.8" lengthAdjust="spacing">CURRENTS Vectors</text>
<text class="serif" x="287.8" y="114.7" font-size="18.2" font-weight="bold" textLength="424" lengthAdjust="spacing">Salinity at 6 Feet ANALYSIS valid Feb 18 2024 00:00Z</text>
<text class="serif" x="783.3" y="109.6" font-size="13.3" font-weight="bold" textLength="116" lengthAdjust="spacing">Miss River Outflow</text>
<!-- colorbar -->
<rect x="980" y="277.3" width="21" height="300" fill="url(#cbg)"/>
<g class="sans" font-size="10.2">
<line x1="979" y1="277.3" x2="1000.8" y2="277.3" stroke="#c0c0c0" stroke-width="1.3"/>
<line x1="1001.8" y1="277.3" x2="1008.8" y2="277.3" stroke="#000" stroke-width="1.2"/>
<text x="1035.8" y="281.0" text-anchor="end">37.0</text>
<line x1="979" y1="307.3" x2="1000.8" y2="307.3" stroke="#c0c0c0" stroke-width="1.3"/>
<line x1="1001.8" y1="307.3" x2="1008.8" y2="307.3" stroke="#000" stroke-width="1.2"/>
<text x="1035.8" y="311.0" text-anchor="end">33.3</text>
<line x1="979" y1="337.3" x2="1000.8" y2="337.3" stroke="#c0c0c0" stroke-width="1.3"/>
<line x1="1001.8" y1="337.3" x2="1008.8" y2="337.3" stroke="#000" stroke-width="1.2"/>
<text x="1035.8" y="341.0" text-anchor="end">29.6</text>
<line x1="979" y1="367.3" x2="1000.8" y2="367.3" stroke="#c0c0c0" stroke-width="1.3"/>
<line x1="1001.8" y1="367.3" x2="1008.8" y2="367.3" stroke="#000" stroke-width="1.2"/>
<text x="1035.8" y="371.0" text-anchor="end">25.9</text>
<line x1="979" y1="397.3" x2="1000.8" y2="397.3" stroke="#c0c0c0" stroke-width="1.3"/>
<line x1="1001.8" y1="397.3" x2="1008.8" y2="397.3" stroke="#000" stroke-width="1.2"/>
<text x="1035.8" y="401.0" text-anchor="end">22.2</text>
<line x1="979" y1="427.3" x2="1000.8" y2="427.3" stroke="#c0c0c0" stroke-width="1.3"/>
<line x1="1001.8" y1="427.3" x2="1008.8" y2="427.3" stroke="#000" stroke-width="1.2"/>
<text x="1035.8" y="431.0" text-anchor="end">18.5</text>
<line x1="979" y1="457.3" x2="1000.8" y2="457.3" stroke="#c0c0c0" stroke-width="1.3"/>
<line x1="1001.8" y1="457.3" x2="1008.8" y2="457.3" stroke="#000" stroke-width="1.2"/>
<text x="1035.8" y="461.0" text-anchor="end">14.8</text>
<line x1="979" y1="487.3" x2="1000.8" y2="487.3" stroke="#c0c0c0" stroke-width="1.3"/>
<line x1="1001.8" y1="487.3" x2="1008.8" y2="487.3" stroke="#000" stroke-width="1.2"/>
<text x="1035.8" y="491.0" text-anchor="end">11.1</text>
<line x1="979" y1="517.3" x2="1000.8" y2="517.3" stroke="#c0c0c0" stroke-width="1.3"/>
<line x1="1001.8" y1="517.3" x2="1008.8" y2="517.3" stroke="#000" stroke-width="1.2"/>
<text x="1035.8" y="521.0" text-anchor="end">7.4</text>
<line x1="979" y1="547.3" x2="1000.8" y2="547.3" stroke="#c0c0c0" stroke-width="1.3"/>
<line x1="1001.8" y1="547.3" x2="1008.8" y2="547.3" stroke="#000" stroke-width="1.2"/>
<text x="1035.8" y="551.0" text-anchor="end">3.7</text>
<line x1="979" y1="577.3" x2="1000.8" y2="577.3" stroke="#c0c0c0" stroke-width="1.3"/>
<line x1="1001.8" y1="577.3" x2="1008.8" y2="577.3" stroke="#000" stroke-width="1.2"/>
<text x="1035.8" y="581.0" text-anchor="end">0.0</text>
</g>
<line x1="980.2" y1="277.3" x2="980.2" y2="577.3" stroke="#000" stroke-width="2.4"/><line x1="1000.6" y1="277.3" x2="1000.6" y2="577.3" stroke="#000" stroke-width="2.4"/>
<g class="sans" font-size="10.5" fill="#000"></g>
<text class="sans" transform="translate(1054.3 427.2) rotate(-90)" text-anchor="middle" font-size="13" font-weight="bold" textLength="88" lengthAdjust="spacing">Salinity (psu)</text>
</body></html>
